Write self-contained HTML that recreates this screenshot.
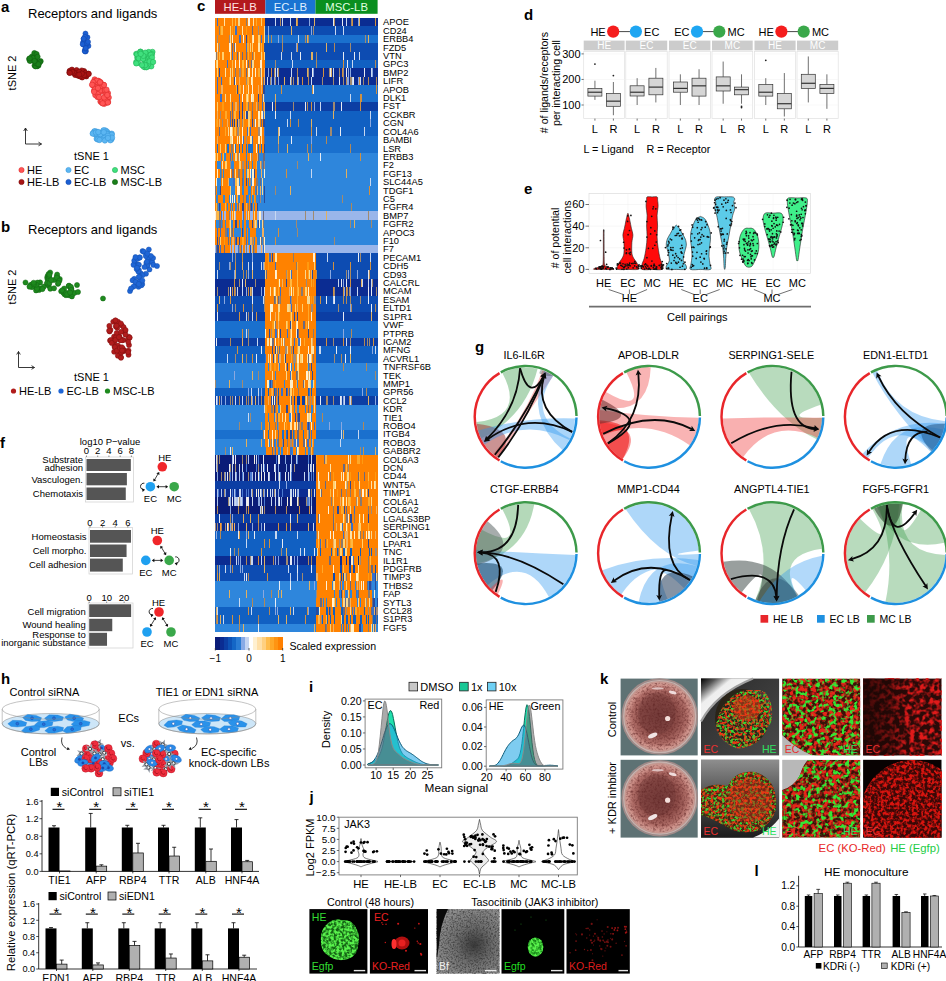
<!DOCTYPE html>
<html><head><meta charset="utf-8"><style>
html,body{margin:0;padding:0;background:#fff;width:946px;height:981px;overflow:hidden}
svg{display:block}
text{font-family:"Liberation Sans",sans-serif}
</style></head><body>
<svg width="946" height="981" viewBox="0 0 946 981">
<rect width="946" height="981" fill="#fff"/>
<text x="1.0" y="12.0" font-size="15" text-anchor="start" fill="#000" font-weight="bold">a</text>
<text x="28.0" y="18.0" font-size="13" text-anchor="start" fill="#000">Receptors and ligands</text>
<text x="16.0" y="73.0" font-size="11" text-anchor="middle" fill="#000" transform="rotate(-90 16 73)">tSNE 2</text>
<circle cx="76.59" cy="70.06" r="2.60" fill="#a81414" stroke="#7a0a0a" stroke-width="0.6"/>
<circle cx="84.07" cy="71.04" r="2.60" fill="#a81414" stroke="#7a0a0a" stroke-width="0.6"/>
<circle cx="81.02" cy="72.67" r="2.60" fill="#a81414" stroke="#7a0a0a" stroke-width="0.6"/>
<circle cx="70.04" cy="71.44" r="2.60" fill="#a81414" stroke="#7a0a0a" stroke-width="0.6"/>
<circle cx="69.70" cy="70.80" r="2.60" fill="#a81414" stroke="#7a0a0a" stroke-width="0.6"/>
<circle cx="77.79" cy="75.57" r="2.60" fill="#a81414" stroke="#7a0a0a" stroke-width="0.6"/>
<circle cx="71.97" cy="69.64" r="2.60" fill="#a81414" stroke="#7a0a0a" stroke-width="0.6"/>
<circle cx="82.16" cy="77.44" r="2.60" fill="#a81414" stroke="#7a0a0a" stroke-width="0.6"/>
<circle cx="81.90" cy="73.10" r="2.60" fill="#a81414" stroke="#7a0a0a" stroke-width="0.6"/>
<circle cx="88.40" cy="73.65" r="2.60" fill="#a81414" stroke="#7a0a0a" stroke-width="0.6"/>
<circle cx="75.19" cy="74.93" r="2.60" fill="#a81414" stroke="#7a0a0a" stroke-width="0.6"/>
<circle cx="72.69" cy="72.58" r="2.60" fill="#a81414" stroke="#7a0a0a" stroke-width="0.6"/>
<circle cx="83.33" cy="73.22" r="2.60" fill="#a81414" stroke="#7a0a0a" stroke-width="0.6"/>
<circle cx="81.76" cy="70.48" r="2.60" fill="#a81414" stroke="#7a0a0a" stroke-width="0.6"/>
<circle cx="84.17" cy="73.82" r="2.60" fill="#a81414" stroke="#7a0a0a" stroke-width="0.6"/>
<circle cx="75.68" cy="73.25" r="2.60" fill="#a81414" stroke="#7a0a0a" stroke-width="0.6"/>
<circle cx="79.26" cy="71.79" r="2.60" fill="#a81414" stroke="#7a0a0a" stroke-width="0.6"/>
<circle cx="86.31" cy="76.39" r="2.60" fill="#a81414" stroke="#7a0a0a" stroke-width="0.6"/>
<circle cx="74.13" cy="72.83" r="2.60" fill="#a81414" stroke="#7a0a0a" stroke-width="0.6"/>
<circle cx="79.97" cy="76.41" r="2.60" fill="#a81414" stroke="#7a0a0a" stroke-width="0.6"/>
<circle cx="85.50" cy="73.02" r="2.60" fill="#a81414" stroke="#7a0a0a" stroke-width="0.6"/>
<circle cx="77.75" cy="75.02" r="2.60" fill="#a81414" stroke="#7a0a0a" stroke-width="0.6"/>
<circle cx="72.19" cy="71.75" r="2.60" fill="#a81414" stroke="#7a0a0a" stroke-width="0.6"/>
<circle cx="69.37" cy="72.55" r="2.60" fill="#a81414" stroke="#7a0a0a" stroke-width="0.6"/>
<circle cx="85.84" cy="75.31" r="2.60" fill="#a81414" stroke="#7a0a0a" stroke-width="0.6"/>
<circle cx="88.74" cy="73.91" r="2.60" fill="#a81414" stroke="#7a0a0a" stroke-width="0.6"/>
<circle cx="84.24" cy="75.14" r="2.60" fill="#a81414" stroke="#7a0a0a" stroke-width="0.6"/>
<circle cx="81.87" cy="73.56" r="2.60" fill="#a81414" stroke="#7a0a0a" stroke-width="0.6"/>
<circle cx="79.16" cy="74.60" r="2.60" fill="#a81414" stroke="#7a0a0a" stroke-width="0.6"/>
<circle cx="69.80" cy="72.90" r="2.60" fill="#a81414" stroke="#7a0a0a" stroke-width="0.6"/>
<circle cx="107.20" cy="98.14" r="2.70" fill="#ff5555" stroke="#dd2a2a" stroke-width="0.6"/>
<circle cx="97.06" cy="89.71" r="2.70" fill="#ff5555" stroke="#dd2a2a" stroke-width="0.6"/>
<circle cx="94.66" cy="79.46" r="2.70" fill="#ff5555" stroke="#dd2a2a" stroke-width="0.6"/>
<circle cx="98.52" cy="80.80" r="2.70" fill="#ff5555" stroke="#dd2a2a" stroke-width="0.6"/>
<circle cx="94.80" cy="91.07" r="2.70" fill="#ff5555" stroke="#dd2a2a" stroke-width="0.6"/>
<circle cx="95.57" cy="80.82" r="2.70" fill="#ff5555" stroke="#dd2a2a" stroke-width="0.6"/>
<circle cx="96.75" cy="95.06" r="2.70" fill="#ff5555" stroke="#dd2a2a" stroke-width="0.6"/>
<circle cx="100.52" cy="101.61" r="2.70" fill="#ff5555" stroke="#dd2a2a" stroke-width="0.6"/>
<circle cx="98.56" cy="85.51" r="2.70" fill="#ff5555" stroke="#dd2a2a" stroke-width="0.6"/>
<circle cx="94.23" cy="90.35" r="2.70" fill="#ff5555" stroke="#dd2a2a" stroke-width="0.6"/>
<circle cx="99.32" cy="81.86" r="2.70" fill="#ff5555" stroke="#dd2a2a" stroke-width="0.6"/>
<circle cx="97.17" cy="84.82" r="2.70" fill="#ff5555" stroke="#dd2a2a" stroke-width="0.6"/>
<circle cx="104.39" cy="92.26" r="2.70" fill="#ff5555" stroke="#dd2a2a" stroke-width="0.6"/>
<circle cx="98.02" cy="88.67" r="2.70" fill="#ff5555" stroke="#dd2a2a" stroke-width="0.6"/>
<circle cx="104.27" cy="103.86" r="2.70" fill="#ff5555" stroke="#dd2a2a" stroke-width="0.6"/>
<circle cx="99.35" cy="92.60" r="2.70" fill="#ff5555" stroke="#dd2a2a" stroke-width="0.6"/>
<circle cx="107.94" cy="93.13" r="2.70" fill="#ff5555" stroke="#dd2a2a" stroke-width="0.6"/>
<circle cx="102.54" cy="103.09" r="2.70" fill="#ff5555" stroke="#dd2a2a" stroke-width="0.6"/>
<circle cx="102.00" cy="102.58" r="2.70" fill="#ff5555" stroke="#dd2a2a" stroke-width="0.6"/>
<circle cx="100.24" cy="88.22" r="2.70" fill="#ff5555" stroke="#dd2a2a" stroke-width="0.6"/>
<circle cx="93.75" cy="82.52" r="2.70" fill="#ff5555" stroke="#dd2a2a" stroke-width="0.6"/>
<circle cx="100.55" cy="82.24" r="2.70" fill="#ff5555" stroke="#dd2a2a" stroke-width="0.6"/>
<circle cx="103.53" cy="84.82" r="2.70" fill="#ff5555" stroke="#dd2a2a" stroke-width="0.6"/>
<circle cx="96.83" cy="80.81" r="2.70" fill="#ff5555" stroke="#dd2a2a" stroke-width="0.6"/>
<circle cx="106.03" cy="92.18" r="2.70" fill="#ff5555" stroke="#dd2a2a" stroke-width="0.6"/>
<circle cx="99.00" cy="84.44" r="2.70" fill="#ff5555" stroke="#dd2a2a" stroke-width="0.6"/>
<circle cx="103.04" cy="85.84" r="2.70" fill="#ff5555" stroke="#dd2a2a" stroke-width="0.6"/>
<circle cx="100.24" cy="90.56" r="2.70" fill="#ff5555" stroke="#dd2a2a" stroke-width="0.6"/>
<circle cx="101.13" cy="86.17" r="2.70" fill="#ff5555" stroke="#dd2a2a" stroke-width="0.6"/>
<circle cx="108.71" cy="97.56" r="2.70" fill="#ff5555" stroke="#dd2a2a" stroke-width="0.6"/>
<circle cx="104.93" cy="90.04" r="2.70" fill="#ff5555" stroke="#dd2a2a" stroke-width="0.6"/>
<circle cx="106.50" cy="89.68" r="2.70" fill="#ff5555" stroke="#dd2a2a" stroke-width="0.6"/>
<circle cx="95.38" cy="95.12" r="2.70" fill="#ff5555" stroke="#dd2a2a" stroke-width="0.6"/>
<circle cx="103.02" cy="101.68" r="2.70" fill="#ff5555" stroke="#dd2a2a" stroke-width="0.6"/>
<circle cx="98.89" cy="84.78" r="2.70" fill="#ff5555" stroke="#dd2a2a" stroke-width="0.6"/>
<circle cx="93.00" cy="84.93" r="2.70" fill="#ff5555" stroke="#dd2a2a" stroke-width="0.6"/>
<circle cx="97.73" cy="94.01" r="2.70" fill="#ff5555" stroke="#dd2a2a" stroke-width="0.6"/>
<circle cx="101.44" cy="85.60" r="2.70" fill="#ff5555" stroke="#dd2a2a" stroke-width="0.6"/>
<circle cx="101.62" cy="102.09" r="2.70" fill="#ff5555" stroke="#dd2a2a" stroke-width="0.6"/>
<circle cx="101.93" cy="100.83" r="2.70" fill="#ff5555" stroke="#dd2a2a" stroke-width="0.6"/>
<circle cx="96.71" cy="84.85" r="2.70" fill="#ff5555" stroke="#dd2a2a" stroke-width="0.6"/>
<circle cx="104.01" cy="85.05" r="2.70" fill="#ff5555" stroke="#dd2a2a" stroke-width="0.6"/>
<circle cx="95.12" cy="86.72" r="2.70" fill="#ff5555" stroke="#dd2a2a" stroke-width="0.6"/>
<circle cx="107.11" cy="102.46" r="2.70" fill="#ff5555" stroke="#dd2a2a" stroke-width="0.6"/>
<circle cx="108.03" cy="101.92" r="2.70" fill="#ff5555" stroke="#dd2a2a" stroke-width="0.6"/>
<circle cx="99.96" cy="82.92" r="2.70" fill="#ff5555" stroke="#dd2a2a" stroke-width="0.6"/>
<circle cx="99.91" cy="82.20" r="2.70" fill="#ff5555" stroke="#dd2a2a" stroke-width="0.6"/>
<circle cx="97.54" cy="97.01" r="2.70" fill="#ff5555" stroke="#dd2a2a" stroke-width="0.6"/>
<circle cx="105.21" cy="99.79" r="2.70" fill="#ff5555" stroke="#dd2a2a" stroke-width="0.6"/>
<circle cx="99.07" cy="97.11" r="2.70" fill="#ff5555" stroke="#dd2a2a" stroke-width="0.6"/>
<circle cx="93.20" cy="82.21" r="2.70" fill="#ff5555" stroke="#dd2a2a" stroke-width="0.6"/>
<circle cx="102.65" cy="103.35" r="2.70" fill="#ff5555" stroke="#dd2a2a" stroke-width="0.6"/>
<circle cx="104.04" cy="97.55" r="2.70" fill="#ff5555" stroke="#dd2a2a" stroke-width="0.6"/>
<circle cx="92.96" cy="85.32" r="2.70" fill="#ff5555" stroke="#dd2a2a" stroke-width="0.6"/>
<circle cx="94.85" cy="89.20" r="2.70" fill="#ff5555" stroke="#dd2a2a" stroke-width="0.6"/>
<circle cx="107.90" cy="102.52" r="2.70" fill="#ff5555" stroke="#dd2a2a" stroke-width="0.6"/>
<circle cx="94.08" cy="91.79" r="2.70" fill="#ff5555" stroke="#dd2a2a" stroke-width="0.6"/>
<circle cx="107.24" cy="95.04" r="2.70" fill="#ff5555" stroke="#dd2a2a" stroke-width="0.6"/>
<circle cx="92.10" cy="84.75" r="2.70" fill="#ff5555" stroke="#dd2a2a" stroke-width="0.6"/>
<circle cx="97.98" cy="88.10" r="2.70" fill="#ff5555" stroke="#dd2a2a" stroke-width="0.6"/>
<circle cx="88.41" cy="45.93" r="2.50" fill="#1b5fd2" stroke="#1048b0" stroke-width="0.6"/>
<circle cx="85.48" cy="51.50" r="2.50" fill="#1b5fd2" stroke="#1048b0" stroke-width="0.6"/>
<circle cx="84.86" cy="50.29" r="2.50" fill="#1b5fd2" stroke="#1048b0" stroke-width="0.6"/>
<circle cx="87.45" cy="37.34" r="2.50" fill="#1b5fd2" stroke="#1048b0" stroke-width="0.6"/>
<circle cx="83.66" cy="38.94" r="2.50" fill="#1b5fd2" stroke="#1048b0" stroke-width="0.6"/>
<circle cx="83.59" cy="44.69" r="2.50" fill="#1b5fd2" stroke="#1048b0" stroke-width="0.6"/>
<circle cx="83.71" cy="41.41" r="2.50" fill="#1b5fd2" stroke="#1048b0" stroke-width="0.6"/>
<circle cx="84.33" cy="42.18" r="2.50" fill="#1b5fd2" stroke="#1048b0" stroke-width="0.6"/>
<circle cx="85.85" cy="50.92" r="2.50" fill="#1b5fd2" stroke="#1048b0" stroke-width="0.6"/>
<circle cx="84.78" cy="51.19" r="2.50" fill="#1b5fd2" stroke="#1048b0" stroke-width="0.6"/>
<circle cx="85.31" cy="43.62" r="2.50" fill="#1b5fd2" stroke="#1048b0" stroke-width="0.6"/>
<circle cx="85.46" cy="33.57" r="2.50" fill="#1b5fd2" stroke="#1048b0" stroke-width="0.6"/>
<circle cx="84.90" cy="36.79" r="2.50" fill="#1b5fd2" stroke="#1048b0" stroke-width="0.6"/>
<circle cx="83.14" cy="42.48" r="2.50" fill="#1b5fd2" stroke="#1048b0" stroke-width="0.6"/>
<circle cx="86.79" cy="44.11" r="2.50" fill="#1b5fd2" stroke="#1048b0" stroke-width="0.6"/>
<circle cx="84.15" cy="43.36" r="2.50" fill="#1b5fd2" stroke="#1048b0" stroke-width="0.6"/>
<circle cx="85.67" cy="48.57" r="2.50" fill="#1b5fd2" stroke="#1048b0" stroke-width="0.6"/>
<circle cx="82.70" cy="44.18" r="2.50" fill="#1b5fd2" stroke="#1048b0" stroke-width="0.6"/>
<circle cx="83.64" cy="38.63" r="2.50" fill="#1b5fd2" stroke="#1048b0" stroke-width="0.6"/>
<circle cx="87.10" cy="43.15" r="2.50" fill="#1b5fd2" stroke="#1048b0" stroke-width="0.6"/>
<circle cx="85.71" cy="48.10" r="2.50" fill="#1b5fd2" stroke="#1048b0" stroke-width="0.6"/>
<circle cx="88.02" cy="41.89" r="2.50" fill="#1b5fd2" stroke="#1048b0" stroke-width="0.6"/>
<circle cx="147.66" cy="58.91" r="2.70" fill="#40e07e" stroke="#22b458" stroke-width="0.6"/>
<circle cx="145.56" cy="62.46" r="2.70" fill="#40e07e" stroke="#22b458" stroke-width="0.6"/>
<circle cx="144.30" cy="59.43" r="2.70" fill="#40e07e" stroke="#22b458" stroke-width="0.6"/>
<circle cx="144.84" cy="67.19" r="2.70" fill="#40e07e" stroke="#22b458" stroke-width="0.6"/>
<circle cx="149.48" cy="65.95" r="2.70" fill="#40e07e" stroke="#22b458" stroke-width="0.6"/>
<circle cx="146.55" cy="67.22" r="2.70" fill="#40e07e" stroke="#22b458" stroke-width="0.6"/>
<circle cx="152.44" cy="51.91" r="2.70" fill="#40e07e" stroke="#22b458" stroke-width="0.6"/>
<circle cx="137.35" cy="57.70" r="2.70" fill="#40e07e" stroke="#22b458" stroke-width="0.6"/>
<circle cx="136.32" cy="53.87" r="2.70" fill="#40e07e" stroke="#22b458" stroke-width="0.6"/>
<circle cx="136.34" cy="62.02" r="2.70" fill="#40e07e" stroke="#22b458" stroke-width="0.6"/>
<circle cx="151.26" cy="66.34" r="2.70" fill="#40e07e" stroke="#22b458" stroke-width="0.6"/>
<circle cx="138.04" cy="62.91" r="2.70" fill="#40e07e" stroke="#22b458" stroke-width="0.6"/>
<circle cx="148.67" cy="52.02" r="2.70" fill="#40e07e" stroke="#22b458" stroke-width="0.6"/>
<circle cx="143.16" cy="58.56" r="2.70" fill="#40e07e" stroke="#22b458" stroke-width="0.6"/>
<circle cx="138.19" cy="57.50" r="2.70" fill="#40e07e" stroke="#22b458" stroke-width="0.6"/>
<circle cx="145.63" cy="55.74" r="2.70" fill="#40e07e" stroke="#22b458" stroke-width="0.6"/>
<circle cx="138.91" cy="55.35" r="2.70" fill="#40e07e" stroke="#22b458" stroke-width="0.6"/>
<circle cx="146.44" cy="57.67" r="2.70" fill="#40e07e" stroke="#22b458" stroke-width="0.6"/>
<circle cx="147.90" cy="59.03" r="2.70" fill="#40e07e" stroke="#22b458" stroke-width="0.6"/>
<circle cx="137.00" cy="54.35" r="2.70" fill="#40e07e" stroke="#22b458" stroke-width="0.6"/>
<circle cx="140.48" cy="51.76" r="2.70" fill="#40e07e" stroke="#22b458" stroke-width="0.6"/>
<circle cx="143.67" cy="66.62" r="2.70" fill="#40e07e" stroke="#22b458" stroke-width="0.6"/>
<circle cx="152.00" cy="54.21" r="2.70" fill="#40e07e" stroke="#22b458" stroke-width="0.6"/>
<circle cx="146.78" cy="62.61" r="2.70" fill="#40e07e" stroke="#22b458" stroke-width="0.6"/>
<circle cx="149.25" cy="57.38" r="2.70" fill="#40e07e" stroke="#22b458" stroke-width="0.6"/>
<circle cx="148.12" cy="64.53" r="2.70" fill="#40e07e" stroke="#22b458" stroke-width="0.6"/>
<circle cx="144.33" cy="55.74" r="2.70" fill="#40e07e" stroke="#22b458" stroke-width="0.6"/>
<circle cx="146.41" cy="66.91" r="2.70" fill="#40e07e" stroke="#22b458" stroke-width="0.6"/>
<circle cx="140.43" cy="51.76" r="2.70" fill="#40e07e" stroke="#22b458" stroke-width="0.6"/>
<circle cx="145.87" cy="53.83" r="2.70" fill="#40e07e" stroke="#22b458" stroke-width="0.6"/>
<circle cx="141.35" cy="55.10" r="2.70" fill="#40e07e" stroke="#22b458" stroke-width="0.6"/>
<circle cx="150.75" cy="54.81" r="2.70" fill="#40e07e" stroke="#22b458" stroke-width="0.6"/>
<circle cx="145.30" cy="52.68" r="2.70" fill="#40e07e" stroke="#22b458" stroke-width="0.6"/>
<circle cx="150.19" cy="59.77" r="2.70" fill="#40e07e" stroke="#22b458" stroke-width="0.6"/>
<circle cx="138.78" cy="58.32" r="2.70" fill="#40e07e" stroke="#22b458" stroke-width="0.6"/>
<circle cx="152.00" cy="57.51" r="2.70" fill="#40e07e" stroke="#22b458" stroke-width="0.6"/>
<circle cx="145.20" cy="65.16" r="2.70" fill="#40e07e" stroke="#22b458" stroke-width="0.6"/>
<circle cx="143.05" cy="58.93" r="2.70" fill="#40e07e" stroke="#22b458" stroke-width="0.6"/>
<circle cx="142.00" cy="65.11" r="2.70" fill="#40e07e" stroke="#22b458" stroke-width="0.6"/>
<circle cx="149.64" cy="61.38" r="2.70" fill="#40e07e" stroke="#22b458" stroke-width="0.6"/>
<circle cx="143.30" cy="55.90" r="2.70" fill="#40e07e" stroke="#22b458" stroke-width="0.6"/>
<circle cx="136.29" cy="63.38" r="2.70" fill="#40e07e" stroke="#22b458" stroke-width="0.6"/>
<circle cx="140.17" cy="52.40" r="2.70" fill="#40e07e" stroke="#22b458" stroke-width="0.6"/>
<circle cx="153.08" cy="62.04" r="2.70" fill="#40e07e" stroke="#22b458" stroke-width="0.6"/>
<circle cx="140.72" cy="53.90" r="2.70" fill="#40e07e" stroke="#22b458" stroke-width="0.6"/>
<circle cx="31.81" cy="59.89" r="2.60" fill="#1a7f1a" stroke="#0f5f0f" stroke-width="0.6"/>
<circle cx="30.05" cy="59.69" r="2.60" fill="#1a7f1a" stroke="#0f5f0f" stroke-width="0.6"/>
<circle cx="40.64" cy="61.21" r="2.60" fill="#1a7f1a" stroke="#0f5f0f" stroke-width="0.6"/>
<circle cx="32.02" cy="58.35" r="2.60" fill="#1a7f1a" stroke="#0f5f0f" stroke-width="0.6"/>
<circle cx="34.17" cy="60.54" r="2.60" fill="#1a7f1a" stroke="#0f5f0f" stroke-width="0.6"/>
<circle cx="30.61" cy="60.57" r="2.60" fill="#1a7f1a" stroke="#0f5f0f" stroke-width="0.6"/>
<circle cx="29.17" cy="58.99" r="2.60" fill="#1a7f1a" stroke="#0f5f0f" stroke-width="0.6"/>
<circle cx="31.96" cy="56.49" r="2.60" fill="#1a7f1a" stroke="#0f5f0f" stroke-width="0.6"/>
<circle cx="35.61" cy="60.94" r="2.60" fill="#1a7f1a" stroke="#0f5f0f" stroke-width="0.6"/>
<circle cx="37.76" cy="62.86" r="2.60" fill="#1a7f1a" stroke="#0f5f0f" stroke-width="0.6"/>
<circle cx="37.31" cy="66.19" r="2.60" fill="#1a7f1a" stroke="#0f5f0f" stroke-width="0.6"/>
<circle cx="33.06" cy="57.89" r="2.60" fill="#1a7f1a" stroke="#0f5f0f" stroke-width="0.6"/>
<circle cx="37.41" cy="62.65" r="2.60" fill="#1a7f1a" stroke="#0f5f0f" stroke-width="0.6"/>
<circle cx="39.60" cy="62.41" r="2.60" fill="#1a7f1a" stroke="#0f5f0f" stroke-width="0.6"/>
<circle cx="37.54" cy="65.18" r="2.60" fill="#1a7f1a" stroke="#0f5f0f" stroke-width="0.6"/>
<circle cx="29.81" cy="60.86" r="2.60" fill="#1a7f1a" stroke="#0f5f0f" stroke-width="0.6"/>
<circle cx="34.56" cy="65.52" r="2.60" fill="#1a7f1a" stroke="#0f5f0f" stroke-width="0.6"/>
<circle cx="38.46" cy="65.40" r="2.60" fill="#1a7f1a" stroke="#0f5f0f" stroke-width="0.6"/>
<circle cx="35.59" cy="66.39" r="2.60" fill="#1a7f1a" stroke="#0f5f0f" stroke-width="0.6"/>
<circle cx="36.88" cy="63.40" r="2.60" fill="#1a7f1a" stroke="#0f5f0f" stroke-width="0.6"/>
<circle cx="29.73" cy="58.41" r="2.60" fill="#1a7f1a" stroke="#0f5f0f" stroke-width="0.6"/>
<circle cx="35.26" cy="62.42" r="2.60" fill="#1a7f1a" stroke="#0f5f0f" stroke-width="0.6"/>
<circle cx="36.14" cy="63.21" r="2.60" fill="#1a7f1a" stroke="#0f5f0f" stroke-width="0.6"/>
<circle cx="34.36" cy="53.05" r="2.60" fill="#1a7f1a" stroke="#0f5f0f" stroke-width="0.6"/>
<circle cx="38.37" cy="64.22" r="2.60" fill="#1a7f1a" stroke="#0f5f0f" stroke-width="0.6"/>
<circle cx="34.54" cy="61.03" r="2.60" fill="#1a7f1a" stroke="#0f5f0f" stroke-width="0.6"/>
<circle cx="36.57" cy="53.99" r="2.60" fill="#1a7f1a" stroke="#0f5f0f" stroke-width="0.6"/>
<circle cx="37.58" cy="56.78" r="2.60" fill="#1a7f1a" stroke="#0f5f0f" stroke-width="0.6"/>
<circle cx="94.65" cy="131.41" r="2.70" fill="#5cb6f2" stroke="#3a98da" stroke-width="0.6"/>
<circle cx="108.31" cy="133.14" r="2.70" fill="#5cb6f2" stroke="#3a98da" stroke-width="0.6"/>
<circle cx="103.10" cy="134.21" r="2.70" fill="#5cb6f2" stroke="#3a98da" stroke-width="0.6"/>
<circle cx="102.22" cy="137.41" r="2.70" fill="#5cb6f2" stroke="#3a98da" stroke-width="0.6"/>
<circle cx="108.30" cy="137.74" r="2.70" fill="#5cb6f2" stroke="#3a98da" stroke-width="0.6"/>
<circle cx="106.76" cy="131.44" r="2.70" fill="#5cb6f2" stroke="#3a98da" stroke-width="0.6"/>
<circle cx="96.18" cy="131.55" r="2.70" fill="#5cb6f2" stroke="#3a98da" stroke-width="0.6"/>
<circle cx="108.40" cy="134.27" r="2.70" fill="#5cb6f2" stroke="#3a98da" stroke-width="0.6"/>
<circle cx="105.33" cy="130.47" r="2.70" fill="#5cb6f2" stroke="#3a98da" stroke-width="0.6"/>
<circle cx="94.36" cy="131.39" r="2.70" fill="#5cb6f2" stroke="#3a98da" stroke-width="0.6"/>
<circle cx="106.19" cy="138.21" r="2.70" fill="#5cb6f2" stroke="#3a98da" stroke-width="0.6"/>
<circle cx="107.03" cy="133.88" r="2.70" fill="#5cb6f2" stroke="#3a98da" stroke-width="0.6"/>
<circle cx="103.41" cy="135.18" r="2.70" fill="#5cb6f2" stroke="#3a98da" stroke-width="0.6"/>
<circle cx="103.03" cy="131.24" r="2.70" fill="#5cb6f2" stroke="#3a98da" stroke-width="0.6"/>
<circle cx="111.72" cy="133.68" r="2.70" fill="#5cb6f2" stroke="#3a98da" stroke-width="0.6"/>
<circle cx="93.10" cy="133.30" r="2.70" fill="#5cb6f2" stroke="#3a98da" stroke-width="0.6"/>
<circle cx="102.40" cy="132.81" r="2.70" fill="#5cb6f2" stroke="#3a98da" stroke-width="0.6"/>
<circle cx="96.86" cy="135.33" r="2.70" fill="#5cb6f2" stroke="#3a98da" stroke-width="0.6"/>
<circle cx="95.54" cy="134.45" r="2.70" fill="#5cb6f2" stroke="#3a98da" stroke-width="0.6"/>
<circle cx="109.61" cy="136.76" r="2.70" fill="#5cb6f2" stroke="#3a98da" stroke-width="0.6"/>
<circle cx="110.61" cy="139.11" r="2.70" fill="#5cb6f2" stroke="#3a98da" stroke-width="0.6"/>
<circle cx="96.69" cy="138.83" r="2.70" fill="#5cb6f2" stroke="#3a98da" stroke-width="0.6"/>
<circle cx="103.62" cy="130.30" r="2.70" fill="#5cb6f2" stroke="#3a98da" stroke-width="0.6"/>
<circle cx="92.75" cy="133.60" r="2.70" fill="#5cb6f2" stroke="#3a98da" stroke-width="0.6"/>
<circle cx="102.36" cy="133.18" r="2.70" fill="#5cb6f2" stroke="#3a98da" stroke-width="0.6"/>
<circle cx="95.87" cy="132.50" r="2.70" fill="#5cb6f2" stroke="#3a98da" stroke-width="0.6"/>
<circle cx="98.55" cy="138.51" r="2.70" fill="#5cb6f2" stroke="#3a98da" stroke-width="0.6"/>
<circle cx="111.41" cy="139.36" r="2.70" fill="#5cb6f2" stroke="#3a98da" stroke-width="0.6"/>
<circle cx="111.71" cy="134.69" r="2.70" fill="#5cb6f2" stroke="#3a98da" stroke-width="0.6"/>
<circle cx="100.56" cy="133.87" r="2.70" fill="#5cb6f2" stroke="#3a98da" stroke-width="0.6"/>
<circle cx="100.26" cy="134.21" r="2.70" fill="#5cb6f2" stroke="#3a98da" stroke-width="0.6"/>
<circle cx="97.73" cy="139.44" r="2.70" fill="#5cb6f2" stroke="#3a98da" stroke-width="0.6"/>
<circle cx="98.26" cy="132.05" r="2.70" fill="#5cb6f2" stroke="#3a98da" stroke-width="0.6"/>
<circle cx="103.82" cy="132.18" r="2.70" fill="#5cb6f2" stroke="#3a98da" stroke-width="0.6"/>
<circle cx="99.51" cy="139.98" r="2.70" fill="#5cb6f2" stroke="#3a98da" stroke-width="0.6"/>
<circle cx="110.35" cy="140.28" r="2.70" fill="#5cb6f2" stroke="#3a98da" stroke-width="0.6"/>
<circle cx="104.92" cy="140.46" r="2.70" fill="#5cb6f2" stroke="#3a98da" stroke-width="0.6"/>
<circle cx="112.02" cy="137.64" r="2.70" fill="#5cb6f2" stroke="#3a98da" stroke-width="0.6"/>
<circle cx="107.90" cy="135.81" r="2.70" fill="#5cb6f2" stroke="#3a98da" stroke-width="0.6"/>
<circle cx="107.95" cy="137.99" r="2.70" fill="#5cb6f2" stroke="#3a98da" stroke-width="0.6"/>
<path d="M25.5 128 V144 H41.5" fill="none" stroke="#222" stroke-width="0.9"/>
<path d="M23.7 131 L25.5 128 L27.3 131 M38.5 142.2 L41.5 144 L38.5 145.8" fill="none" stroke="#222" stroke-width="0.9"/>
<text x="91.5" y="159.5" font-size="11" text-anchor="middle" fill="#000">tSNE 1</text>
<circle cx="21.50" cy="170.00" r="2.60" fill="#ff5555" stroke="#dd2a2a" stroke-width="0.6"/>
<text x="27.0" y="174.0" font-size="11" text-anchor="start" fill="#000">HE</text>
<circle cx="68.50" cy="170.00" r="2.60" fill="#5cb6f2" stroke="#3a98da" stroke-width="0.6"/>
<text x="74.0" y="174.0" font-size="11" text-anchor="start" fill="#000">EC</text>
<circle cx="115.00" cy="170.00" r="2.60" fill="#40e07e" stroke="#22b458" stroke-width="0.6"/>
<text x="120.5" y="174.0" font-size="11" text-anchor="start" fill="#000">MSC</text>
<circle cx="21.50" cy="182.00" r="2.60" fill="#a81414" stroke="#7a0a0a" stroke-width="0.6"/>
<text x="27.0" y="186.0" font-size="11" text-anchor="start" fill="#000">HE-LB</text>
<circle cx="68.50" cy="182.00" r="2.60" fill="#1b5fd2" stroke="#1048b0" stroke-width="0.6"/>
<text x="74.0" y="186.0" font-size="11" text-anchor="start" fill="#000">EC-LB</text>
<circle cx="115.00" cy="182.00" r="2.60" fill="#1a7f1a" stroke="#0f5f0f" stroke-width="0.6"/>
<text x="120.5" y="186.0" font-size="11" text-anchor="start" fill="#000">MSC-LB</text>
<text x="1.0" y="232.0" font-size="15" text-anchor="start" fill="#000" font-weight="bold">b</text>
<text x="28.0" y="234.0" font-size="13" text-anchor="start" fill="#000">Receptors and ligands</text>
<text x="16.0" y="287.0" font-size="11" text-anchor="middle" fill="#000" transform="rotate(-90 16 287)">tSNE 2</text>
<circle cx="36.24" cy="287.60" r="2.55" fill="#1e8a1e" stroke="#146614" stroke-width="0.5"/>
<circle cx="43.79" cy="286.66" r="2.55" fill="#1e8a1e" stroke="#146614" stroke-width="0.5"/>
<circle cx="37.13" cy="287.87" r="2.55" fill="#1e8a1e" stroke="#146614" stroke-width="0.5"/>
<circle cx="31.95" cy="287.12" r="2.55" fill="#1e8a1e" stroke="#146614" stroke-width="0.5"/>
<circle cx="39.08" cy="289.93" r="2.55" fill="#1e8a1e" stroke="#146614" stroke-width="0.5"/>
<circle cx="30.51" cy="285.03" r="2.55" fill="#1e8a1e" stroke="#146614" stroke-width="0.5"/>
<circle cx="40.10" cy="282.42" r="2.55" fill="#1e8a1e" stroke="#146614" stroke-width="0.5"/>
<circle cx="39.46" cy="288.16" r="2.55" fill="#1e8a1e" stroke="#146614" stroke-width="0.5"/>
<circle cx="37.45" cy="282.60" r="2.55" fill="#1e8a1e" stroke="#146614" stroke-width="0.5"/>
<circle cx="32.04" cy="284.42" r="2.55" fill="#1e8a1e" stroke="#146614" stroke-width="0.5"/>
<circle cx="29.48" cy="286.64" r="2.55" fill="#1e8a1e" stroke="#146614" stroke-width="0.5"/>
<circle cx="36.05" cy="290.42" r="2.55" fill="#1e8a1e" stroke="#146614" stroke-width="0.5"/>
<circle cx="37.31" cy="288.40" r="2.55" fill="#1e8a1e" stroke="#146614" stroke-width="0.5"/>
<circle cx="37.00" cy="288.62" r="2.55" fill="#1e8a1e" stroke="#146614" stroke-width="0.5"/>
<circle cx="36.32" cy="284.78" r="2.55" fill="#1e8a1e" stroke="#146614" stroke-width="0.5"/>
<circle cx="42.44" cy="289.08" r="2.55" fill="#1e8a1e" stroke="#146614" stroke-width="0.5"/>
<circle cx="34.04" cy="284.30" r="2.55" fill="#1e8a1e" stroke="#146614" stroke-width="0.5"/>
<circle cx="33.62" cy="282.70" r="2.55" fill="#1e8a1e" stroke="#146614" stroke-width="0.5"/>
<circle cx="56.73" cy="279.01" r="2.55" fill="#1e8a1e" stroke="#146614" stroke-width="0.5"/>
<circle cx="57.85" cy="278.73" r="2.55" fill="#1e8a1e" stroke="#146614" stroke-width="0.5"/>
<circle cx="58.74" cy="280.40" r="2.55" fill="#1e8a1e" stroke="#146614" stroke-width="0.5"/>
<circle cx="59.73" cy="278.95" r="2.55" fill="#1e8a1e" stroke="#146614" stroke-width="0.5"/>
<circle cx="47.02" cy="283.59" r="2.55" fill="#1e8a1e" stroke="#146614" stroke-width="0.5"/>
<circle cx="56.90" cy="276.40" r="2.55" fill="#1e8a1e" stroke="#146614" stroke-width="0.5"/>
<circle cx="47.22" cy="277.65" r="2.55" fill="#1e8a1e" stroke="#146614" stroke-width="0.5"/>
<circle cx="47.65" cy="275.93" r="2.55" fill="#1e8a1e" stroke="#146614" stroke-width="0.5"/>
<circle cx="57.16" cy="274.55" r="2.55" fill="#1e8a1e" stroke="#146614" stroke-width="0.5"/>
<circle cx="53.83" cy="279.95" r="2.55" fill="#1e8a1e" stroke="#146614" stroke-width="0.5"/>
<circle cx="48.67" cy="285.64" r="2.55" fill="#1e8a1e" stroke="#146614" stroke-width="0.5"/>
<circle cx="47.83" cy="283.87" r="2.55" fill="#1e8a1e" stroke="#146614" stroke-width="0.5"/>
<circle cx="47.63" cy="279.42" r="2.55" fill="#1e8a1e" stroke="#146614" stroke-width="0.5"/>
<circle cx="48.98" cy="276.40" r="2.55" fill="#1e8a1e" stroke="#146614" stroke-width="0.5"/>
<circle cx="50.26" cy="288.70" r="2.55" fill="#1e8a1e" stroke="#146614" stroke-width="0.5"/>
<circle cx="48.95" cy="278.89" r="2.55" fill="#1e8a1e" stroke="#146614" stroke-width="0.5"/>
<circle cx="57.96" cy="283.84" r="2.55" fill="#1e8a1e" stroke="#146614" stroke-width="0.5"/>
<circle cx="48.99" cy="276.17" r="2.55" fill="#1e8a1e" stroke="#146614" stroke-width="0.5"/>
<circle cx="56.82" cy="277.58" r="2.55" fill="#1e8a1e" stroke="#146614" stroke-width="0.5"/>
<circle cx="50.15" cy="272.47" r="2.55" fill="#1e8a1e" stroke="#146614" stroke-width="0.5"/>
<circle cx="47.26" cy="282.65" r="2.55" fill="#1e8a1e" stroke="#146614" stroke-width="0.5"/>
<circle cx="49.40" cy="283.03" r="2.55" fill="#1e8a1e" stroke="#146614" stroke-width="0.5"/>
<circle cx="51.20" cy="280.06" r="2.55" fill="#1e8a1e" stroke="#146614" stroke-width="0.5"/>
<circle cx="59.43" cy="280.67" r="2.55" fill="#1e8a1e" stroke="#146614" stroke-width="0.5"/>
<circle cx="54.04" cy="288.33" r="2.55" fill="#1e8a1e" stroke="#146614" stroke-width="0.5"/>
<circle cx="48.56" cy="274.08" r="2.55" fill="#1e8a1e" stroke="#146614" stroke-width="0.5"/>
<circle cx="49.49" cy="274.80" r="2.55" fill="#1e8a1e" stroke="#146614" stroke-width="0.5"/>
<circle cx="58.35" cy="283.07" r="2.55" fill="#1e8a1e" stroke="#146614" stroke-width="0.5"/>
<circle cx="68.59" cy="286.10" r="2.55" fill="#1e8a1e" stroke="#146614" stroke-width="0.5"/>
<circle cx="64.45" cy="292.69" r="2.55" fill="#1e8a1e" stroke="#146614" stroke-width="0.5"/>
<circle cx="64.50" cy="294.15" r="2.55" fill="#1e8a1e" stroke="#146614" stroke-width="0.5"/>
<circle cx="70.95" cy="288.83" r="2.55" fill="#1e8a1e" stroke="#146614" stroke-width="0.5"/>
<circle cx="63.43" cy="292.70" r="2.55" fill="#1e8a1e" stroke="#146614" stroke-width="0.5"/>
<circle cx="69.20" cy="295.33" r="2.55" fill="#1e8a1e" stroke="#146614" stroke-width="0.5"/>
<circle cx="71.26" cy="288.72" r="2.55" fill="#1e8a1e" stroke="#146614" stroke-width="0.5"/>
<circle cx="69.06" cy="285.65" r="2.55" fill="#1e8a1e" stroke="#146614" stroke-width="0.5"/>
<circle cx="64.17" cy="288.55" r="2.55" fill="#1e8a1e" stroke="#146614" stroke-width="0.5"/>
<circle cx="70.90" cy="286.85" r="2.55" fill="#1e8a1e" stroke="#146614" stroke-width="0.5"/>
<circle cx="66.01" cy="295.24" r="2.55" fill="#1e8a1e" stroke="#146614" stroke-width="0.5"/>
<circle cx="71.84" cy="292.53" r="2.55" fill="#1e8a1e" stroke="#146614" stroke-width="0.5"/>
<circle cx="61.17" cy="291.28" r="2.55" fill="#1e8a1e" stroke="#146614" stroke-width="0.5"/>
<circle cx="68.24" cy="293.67" r="2.55" fill="#1e8a1e" stroke="#146614" stroke-width="0.5"/>
<circle cx="62.21" cy="290.36" r="2.55" fill="#1e8a1e" stroke="#146614" stroke-width="0.5"/>
<circle cx="71.90" cy="296.39" r="2.55" fill="#1e8a1e" stroke="#146614" stroke-width="0.5"/>
<circle cx="72.31" cy="294.07" r="2.55" fill="#1e8a1e" stroke="#146614" stroke-width="0.5"/>
<circle cx="66.28" cy="292.78" r="2.55" fill="#1e8a1e" stroke="#146614" stroke-width="0.5"/>
<circle cx="67.09" cy="294.20" r="2.55" fill="#1e8a1e" stroke="#146614" stroke-width="0.5"/>
<circle cx="74.58" cy="292.87" r="2.55" fill="#1e8a1e" stroke="#146614" stroke-width="0.5"/>
<circle cx="71.21" cy="289.96" r="2.55" fill="#1e8a1e" stroke="#146614" stroke-width="0.5"/>
<circle cx="70.08" cy="292.52" r="2.55" fill="#1e8a1e" stroke="#146614" stroke-width="0.5"/>
<circle cx="25.50" cy="282.50" r="2.55" fill="#1e8a1e" stroke="#146614" stroke-width="0.5"/>
<circle cx="103.00" cy="298.50" r="2.55" fill="#1e8a1e" stroke="#146614" stroke-width="0.5"/>
<circle cx="77.00" cy="285.00" r="2.55" fill="#1e8a1e" stroke="#146614" stroke-width="0.5"/>
<circle cx="78.00" cy="292.00" r="2.55" fill="#1e8a1e" stroke="#146614" stroke-width="0.5"/>
<circle cx="134.74" cy="261.99" r="2.55" fill="#1f66d6" stroke="#1450b0" stroke-width="0.5"/>
<circle cx="149.46" cy="261.10" r="2.55" fill="#1f66d6" stroke="#1450b0" stroke-width="0.5"/>
<circle cx="147.30" cy="266.04" r="2.55" fill="#1f66d6" stroke="#1450b0" stroke-width="0.5"/>
<circle cx="138.92" cy="270.08" r="2.55" fill="#1f66d6" stroke="#1450b0" stroke-width="0.5"/>
<circle cx="133.49" cy="264.83" r="2.55" fill="#1f66d6" stroke="#1450b0" stroke-width="0.5"/>
<circle cx="134.28" cy="260.60" r="2.55" fill="#1f66d6" stroke="#1450b0" stroke-width="0.5"/>
<circle cx="146.85" cy="254.99" r="2.55" fill="#1f66d6" stroke="#1450b0" stroke-width="0.5"/>
<circle cx="147.63" cy="263.61" r="2.55" fill="#1f66d6" stroke="#1450b0" stroke-width="0.5"/>
<circle cx="141.10" cy="273.64" r="2.55" fill="#1f66d6" stroke="#1450b0" stroke-width="0.5"/>
<circle cx="138.29" cy="264.84" r="2.55" fill="#1f66d6" stroke="#1450b0" stroke-width="0.5"/>
<circle cx="142.52" cy="251.10" r="2.55" fill="#1f66d6" stroke="#1450b0" stroke-width="0.5"/>
<circle cx="149.46" cy="269.49" r="2.55" fill="#1f66d6" stroke="#1450b0" stroke-width="0.5"/>
<circle cx="138.31" cy="271.45" r="2.55" fill="#1f66d6" stroke="#1450b0" stroke-width="0.5"/>
<circle cx="138.90" cy="264.75" r="2.55" fill="#1f66d6" stroke="#1450b0" stroke-width="0.5"/>
<circle cx="139.35" cy="257.70" r="2.55" fill="#1f66d6" stroke="#1450b0" stroke-width="0.5"/>
<circle cx="152.26" cy="262.28" r="2.55" fill="#1f66d6" stroke="#1450b0" stroke-width="0.5"/>
<circle cx="147.68" cy="258.05" r="2.55" fill="#1f66d6" stroke="#1450b0" stroke-width="0.5"/>
<circle cx="137.45" cy="258.84" r="2.55" fill="#1f66d6" stroke="#1450b0" stroke-width="0.5"/>
<circle cx="145.98" cy="273.70" r="2.55" fill="#1f66d6" stroke="#1450b0" stroke-width="0.5"/>
<circle cx="142.50" cy="275.20" r="2.55" fill="#1f66d6" stroke="#1450b0" stroke-width="0.5"/>
<circle cx="143.87" cy="251.72" r="2.55" fill="#1f66d6" stroke="#1450b0" stroke-width="0.5"/>
<circle cx="145.77" cy="255.88" r="2.55" fill="#1f66d6" stroke="#1450b0" stroke-width="0.5"/>
<circle cx="139.84" cy="257.40" r="2.55" fill="#1f66d6" stroke="#1450b0" stroke-width="0.5"/>
<circle cx="146.35" cy="262.91" r="2.55" fill="#1f66d6" stroke="#1450b0" stroke-width="0.5"/>
<circle cx="136.64" cy="269.05" r="2.55" fill="#1f66d6" stroke="#1450b0" stroke-width="0.5"/>
<circle cx="153.30" cy="264.87" r="2.55" fill="#1f66d6" stroke="#1450b0" stroke-width="0.5"/>
<circle cx="146.95" cy="265.55" r="2.55" fill="#1f66d6" stroke="#1450b0" stroke-width="0.5"/>
<circle cx="137.09" cy="267.78" r="2.55" fill="#1f66d6" stroke="#1450b0" stroke-width="0.5"/>
<circle cx="148.81" cy="249.56" r="2.55" fill="#1f66d6" stroke="#1450b0" stroke-width="0.5"/>
<circle cx="153.08" cy="258.12" r="2.55" fill="#1f66d6" stroke="#1450b0" stroke-width="0.5"/>
<circle cx="146.97" cy="261.73" r="2.55" fill="#1f66d6" stroke="#1450b0" stroke-width="0.5"/>
<circle cx="144.52" cy="267.03" r="2.55" fill="#1f66d6" stroke="#1450b0" stroke-width="0.5"/>
<circle cx="150.90" cy="255.93" r="2.55" fill="#1f66d6" stroke="#1450b0" stroke-width="0.5"/>
<circle cx="147.35" cy="253.64" r="2.55" fill="#1f66d6" stroke="#1450b0" stroke-width="0.5"/>
<circle cx="135.46" cy="257.16" r="2.55" fill="#1f66d6" stroke="#1450b0" stroke-width="0.5"/>
<circle cx="139.57" cy="276.51" r="2.55" fill="#1f66d6" stroke="#1450b0" stroke-width="0.5"/>
<circle cx="134.27" cy="278.84" r="2.55" fill="#1f66d6" stroke="#1450b0" stroke-width="0.5"/>
<circle cx="139.37" cy="281.29" r="2.55" fill="#1f66d6" stroke="#1450b0" stroke-width="0.5"/>
<circle cx="138.37" cy="284.59" r="2.55" fill="#1f66d6" stroke="#1450b0" stroke-width="0.5"/>
<circle cx="135.72" cy="285.09" r="2.55" fill="#1f66d6" stroke="#1450b0" stroke-width="0.5"/>
<circle cx="142.19" cy="284.11" r="2.55" fill="#1f66d6" stroke="#1450b0" stroke-width="0.5"/>
<circle cx="132.56" cy="280.35" r="2.55" fill="#1f66d6" stroke="#1450b0" stroke-width="0.5"/>
<circle cx="138.51" cy="286.74" r="2.55" fill="#1f66d6" stroke="#1450b0" stroke-width="0.5"/>
<circle cx="135.52" cy="281.96" r="2.55" fill="#1f66d6" stroke="#1450b0" stroke-width="0.5"/>
<circle cx="141.55" cy="285.15" r="2.55" fill="#1f66d6" stroke="#1450b0" stroke-width="0.5"/>
<circle cx="142.33" cy="280.49" r="2.55" fill="#1f66d6" stroke="#1450b0" stroke-width="0.5"/>
<circle cx="138.82" cy="276.87" r="2.55" fill="#1f66d6" stroke="#1450b0" stroke-width="0.5"/>
<circle cx="139.66" cy="285.46" r="2.55" fill="#1f66d6" stroke="#1450b0" stroke-width="0.5"/>
<circle cx="138.70" cy="284.05" r="2.55" fill="#1f66d6" stroke="#1450b0" stroke-width="0.5"/>
<circle cx="133.56" cy="286.60" r="2.55" fill="#1f66d6" stroke="#1450b0" stroke-width="0.5"/>
<circle cx="130.00" cy="291.00" r="2.55" fill="#1f66d6" stroke="#1450b0" stroke-width="0.5"/>
<circle cx="131.00" cy="288.50" r="2.55" fill="#1f66d6" stroke="#1450b0" stroke-width="0.5"/>
<circle cx="157.00" cy="266.00" r="2.55" fill="#1f66d6" stroke="#1450b0" stroke-width="0.5"/>
<circle cx="123.96" cy="351.09" r="2.55" fill="#b01c1c" stroke="#801010" stroke-width="0.5"/>
<circle cx="120.94" cy="357.21" r="2.55" fill="#b01c1c" stroke="#801010" stroke-width="0.5"/>
<circle cx="125.02" cy="331.67" r="2.55" fill="#b01c1c" stroke="#801010" stroke-width="0.5"/>
<circle cx="110.02" cy="340.53" r="2.55" fill="#b01c1c" stroke="#801010" stroke-width="0.5"/>
<circle cx="123.95" cy="350.12" r="2.55" fill="#b01c1c" stroke="#801010" stroke-width="0.5"/>
<circle cx="113.26" cy="321.70" r="2.55" fill="#b01c1c" stroke="#801010" stroke-width="0.5"/>
<circle cx="121.63" cy="325.21" r="2.55" fill="#b01c1c" stroke="#801010" stroke-width="0.5"/>
<circle cx="119.70" cy="352.35" r="2.55" fill="#b01c1c" stroke="#801010" stroke-width="0.5"/>
<circle cx="122.68" cy="348.61" r="2.55" fill="#b01c1c" stroke="#801010" stroke-width="0.5"/>
<circle cx="129.01" cy="345.07" r="2.55" fill="#b01c1c" stroke="#801010" stroke-width="0.5"/>
<circle cx="128.73" cy="336.68" r="2.55" fill="#b01c1c" stroke="#801010" stroke-width="0.5"/>
<circle cx="114.01" cy="342.93" r="2.55" fill="#b01c1c" stroke="#801010" stroke-width="0.5"/>
<circle cx="118.01" cy="350.35" r="2.55" fill="#b01c1c" stroke="#801010" stroke-width="0.5"/>
<circle cx="122.69" cy="339.94" r="2.55" fill="#b01c1c" stroke="#801010" stroke-width="0.5"/>
<circle cx="127.45" cy="340.00" r="2.55" fill="#b01c1c" stroke="#801010" stroke-width="0.5"/>
<circle cx="114.06" cy="336.65" r="2.55" fill="#b01c1c" stroke="#801010" stroke-width="0.5"/>
<circle cx="117.84" cy="355.66" r="2.55" fill="#b01c1c" stroke="#801010" stroke-width="0.5"/>
<circle cx="129.61" cy="337.76" r="2.55" fill="#b01c1c" stroke="#801010" stroke-width="0.5"/>
<circle cx="117.24" cy="327.84" r="2.55" fill="#b01c1c" stroke="#801010" stroke-width="0.5"/>
<circle cx="120.29" cy="339.88" r="2.55" fill="#b01c1c" stroke="#801010" stroke-width="0.5"/>
<circle cx="115.72" cy="320.87" r="2.55" fill="#b01c1c" stroke="#801010" stroke-width="0.5"/>
<circle cx="129.52" cy="337.43" r="2.55" fill="#b01c1c" stroke="#801010" stroke-width="0.5"/>
<circle cx="121.23" cy="352.42" r="2.55" fill="#b01c1c" stroke="#801010" stroke-width="0.5"/>
<circle cx="120.70" cy="339.22" r="2.55" fill="#b01c1c" stroke="#801010" stroke-width="0.5"/>
<circle cx="118.00" cy="321.77" r="2.55" fill="#b01c1c" stroke="#801010" stroke-width="0.5"/>
<circle cx="119.22" cy="336.37" r="2.55" fill="#b01c1c" stroke="#801010" stroke-width="0.5"/>
<circle cx="114.33" cy="340.52" r="2.55" fill="#b01c1c" stroke="#801010" stroke-width="0.5"/>
<circle cx="110.85" cy="339.95" r="2.55" fill="#b01c1c" stroke="#801010" stroke-width="0.5"/>
<circle cx="116.69" cy="333.03" r="2.55" fill="#b01c1c" stroke="#801010" stroke-width="0.5"/>
<circle cx="114.54" cy="346.69" r="2.55" fill="#b01c1c" stroke="#801010" stroke-width="0.5"/>
<circle cx="109.64" cy="331.44" r="2.55" fill="#b01c1c" stroke="#801010" stroke-width="0.5"/>
<circle cx="121.16" cy="331.79" r="2.55" fill="#b01c1c" stroke="#801010" stroke-width="0.5"/>
<circle cx="117.99" cy="345.65" r="2.55" fill="#b01c1c" stroke="#801010" stroke-width="0.5"/>
<circle cx="114.16" cy="351.69" r="2.55" fill="#b01c1c" stroke="#801010" stroke-width="0.5"/>
<circle cx="111.74" cy="342.97" r="2.55" fill="#b01c1c" stroke="#801010" stroke-width="0.5"/>
<circle cx="110.45" cy="329.91" r="2.55" fill="#b01c1c" stroke="#801010" stroke-width="0.5"/>
<circle cx="119.33" cy="337.33" r="2.55" fill="#b01c1c" stroke="#801010" stroke-width="0.5"/>
<circle cx="115.80" cy="337.47" r="2.55" fill="#b01c1c" stroke="#801010" stroke-width="0.5"/>
<circle cx="115.80" cy="326.53" r="2.55" fill="#b01c1c" stroke="#801010" stroke-width="0.5"/>
<circle cx="114.98" cy="347.13" r="2.55" fill="#b01c1c" stroke="#801010" stroke-width="0.5"/>
<circle cx="122.77" cy="340.21" r="2.55" fill="#b01c1c" stroke="#801010" stroke-width="0.5"/>
<circle cx="128.26" cy="341.97" r="2.55" fill="#b01c1c" stroke="#801010" stroke-width="0.5"/>
<circle cx="123.58" cy="327.15" r="2.55" fill="#b01c1c" stroke="#801010" stroke-width="0.5"/>
<circle cx="128.47" cy="350.47" r="2.55" fill="#b01c1c" stroke="#801010" stroke-width="0.5"/>
<circle cx="125.59" cy="330.08" r="2.55" fill="#b01c1c" stroke="#801010" stroke-width="0.5"/>
<circle cx="120.99" cy="357.74" r="2.55" fill="#b01c1c" stroke="#801010" stroke-width="0.5"/>
<circle cx="116.92" cy="350.61" r="2.55" fill="#b01c1c" stroke="#801010" stroke-width="0.5"/>
<circle cx="109.36" cy="325.92" r="2.55" fill="#b01c1c" stroke="#801010" stroke-width="0.5"/>
<circle cx="125.46" cy="334.69" r="2.55" fill="#b01c1c" stroke="#801010" stroke-width="0.5"/>
<circle cx="120.83" cy="323.45" r="2.55" fill="#b01c1c" stroke="#801010" stroke-width="0.5"/>
<circle cx="119.81" cy="347.88" r="2.55" fill="#b01c1c" stroke="#801010" stroke-width="0.5"/>
<circle cx="128.53" cy="354.80" r="2.55" fill="#b01c1c" stroke="#801010" stroke-width="0.5"/>
<circle cx="122.89" cy="350.03" r="2.55" fill="#b01c1c" stroke="#801010" stroke-width="0.5"/>
<circle cx="121.91" cy="347.22" r="2.55" fill="#b01c1c" stroke="#801010" stroke-width="0.5"/>
<circle cx="120.77" cy="340.23" r="2.55" fill="#b01c1c" stroke="#801010" stroke-width="0.5"/>
<circle cx="116.46" cy="325.75" r="2.55" fill="#b01c1c" stroke="#801010" stroke-width="0.5"/>
<circle cx="109.15" cy="330.60" r="2.55" fill="#b01c1c" stroke="#801010" stroke-width="0.5"/>
<circle cx="122.06" cy="350.58" r="2.55" fill="#b01c1c" stroke="#801010" stroke-width="0.5"/>
<circle cx="115.46" cy="339.89" r="2.55" fill="#b01c1c" stroke="#801010" stroke-width="0.5"/>
<circle cx="118.93" cy="337.17" r="2.55" fill="#b01c1c" stroke="#801010" stroke-width="0.5"/>
<circle cx="115.44" cy="320.33" r="2.55" fill="#b01c1c" stroke="#801010" stroke-width="0.5"/>
<circle cx="128.07" cy="352.06" r="2.55" fill="#b01c1c" stroke="#801010" stroke-width="0.5"/>
<path d="M18.5 351.5 V367.5 H34.5" fill="none" stroke="#222" stroke-width="0.9"/>
<path d="M16.7 354.5 L18.5 351.5 L20.3 354.5 M31.5 365.7 L34.5 367.5 L31.5 369.3" fill="none" stroke="#222" stroke-width="0.9"/>
<text x="91.5" y="381.0" font-size="11" text-anchor="middle" fill="#000">tSNE 1</text>
<circle cx="13.50" cy="391.00" r="2.60" fill="#b01c1c" stroke="none" stroke-width="0.5"/>
<text x="19.0" y="395.0" font-size="11" text-anchor="start" fill="#000">HE-LB</text>
<circle cx="61.00" cy="391.00" r="2.60" fill="#1f66d6" stroke="none" stroke-width="0.5"/>
<text x="66.5" y="395.0" font-size="11" text-anchor="start" fill="#000">EC-LB</text>
<circle cx="107.50" cy="391.00" r="2.60" fill="#1e8a1e" stroke="none" stroke-width="0.5"/>
<text x="113.0" y="395.0" font-size="11" text-anchor="start" fill="#000">MSC-LB</text>
<text x="197.0" y="11.0" font-size="15" text-anchor="start" fill="#000" font-weight="bold">c</text>
<rect x="215.00" y="0.00" width="50.40" height="13.80" fill="#b3191d"/>
<rect x="265.40" y="0.00" width="50.10" height="13.80" fill="#1a74d2"/>
<rect x="315.50" y="0.00" width="62.10" height="13.80" fill="#0a8f1f"/>
<text x="240.2" y="11.4" font-size="11.3" text-anchor="middle" fill="#ffe4e4">HE-LB</text>
<text x="290.4" y="11.4" font-size="11.3" text-anchor="middle" fill="#e0f0ff">EC-LB</text>
<text x="346.6" y="11.4" font-size="11.3" text-anchor="middle" fill="#e0ffe0">MSC-LB</text>
<g shape-rendering="crispEdges">
<path fill="#ff8200" d="M215.0 18.00h50.4v8.41h-50.4zM215.0 26.41h50.4v8.41h-50.4zM215.0 34.82h50.4v8.41h-50.4zM215.0 43.23h50.4v8.41h-50.4zM215.0 51.64h50.4v8.41h-50.4zM215.0 60.05h50.4v8.41h-50.4zM215.0 68.46h50.4v8.41h-50.4zM215.0 76.87h50.4v8.41h-50.4zM215.0 85.28h50.4v8.41h-50.4zM215.0 93.69h50.4v8.41h-50.4zM215.0 102.10h50.4v8.41h-50.4zM215.0 110.51h50.4v8.41h-50.4zM215.0 118.92h50.4v8.41h-50.4zM215.0 127.33h50.4v8.41h-50.4zM215.0 135.74h50.4v8.41h-50.4zM215.0 144.15h50.4v8.41h-50.4zM215.0 152.56h50.4v8.41h-50.4zM215.0 160.97h50.4v8.41h-50.4zM215.0 169.38h50.4v8.41h-50.4zM215.0 177.79h50.4v8.41h-50.4zM215.0 186.20h50.4v8.41h-50.4zM215.0 194.61h50.4v8.41h-50.4zM215.0 203.02h50.4v8.41h-50.4zM215.0 211.43h50.4v8.41h-50.4zM215.0 219.84h50.4v8.41h-50.4zM215.0 228.25h50.4v8.41h-50.4zM215.0 236.66h50.4v8.41h-50.4zM215.0 245.07h50.4v8.41h-50.4zM265.4 253.48h50.1v8.41h-50.1zM265.4 261.89h50.1v8.41h-50.1zM265.4 270.30h50.1v8.41h-50.1zM265.4 278.71h50.1v8.41h-50.1zM265.4 287.12h50.1v8.41h-50.1zM265.4 295.53h50.1v8.41h-50.1zM265.4 303.94h50.1v8.41h-50.1zM265.4 312.35h50.1v8.41h-50.1zM265.4 320.76h50.1v8.41h-50.1zM265.4 329.17h50.1v8.41h-50.1zM265.4 337.58h50.1v8.41h-50.1zM265.4 345.99h50.1v8.41h-50.1zM265.4 354.40h50.1v8.41h-50.1zM265.4 362.81h50.1v8.41h-50.1zM265.4 371.22h50.1v8.41h-50.1zM265.4 379.63h50.1v8.41h-50.1zM265.4 388.04h50.1v8.41h-50.1zM265.4 396.45h50.1v8.41h-50.1zM265.4 404.86h50.1v8.41h-50.1zM265.4 413.27h50.1v8.41h-50.1zM265.4 421.68h50.1v8.41h-50.1zM265.4 430.09h50.1v8.41h-50.1zM265.4 438.50h50.1v8.41h-50.1zM265.4 446.91h50.1v8.41h-50.1zM315.5 455.32h62.1v8.41h-62.1zM315.5 463.73h62.1v8.41h-62.1zM315.5 472.14h62.1v8.41h-62.1zM315.5 480.55h62.1v8.41h-62.1zM315.5 488.96h62.1v8.41h-62.1zM315.5 497.37h62.1v8.41h-62.1zM315.5 505.78h62.1v8.41h-62.1zM315.5 514.19h62.1v8.41h-62.1zM315.5 522.60h62.1v8.41h-62.1zM315.5 531.01h62.1v8.41h-62.1zM315.5 539.42h62.1v8.41h-62.1zM315.5 547.83h62.1v8.41h-62.1zM315.5 556.24h62.1v8.41h-62.1zM315.5 564.65h62.1v8.41h-62.1zM315.5 573.06h62.1v8.41h-62.1zM315.5 581.47h62.1v8.41h-62.1zM315.5 589.88h62.1v8.41h-62.1zM315.5 598.29h62.1v8.41h-62.1zM315.5 606.70h62.1v8.41h-62.1zM315.5 615.11h62.1v8.41h-62.1zM315.5 623.52h62.1v8.41h-62.1z"/>
<path fill="#0b2c92" d="M265.4 18.00h50.1v8.41h-50.1zM315.5 18.00h62.1v8.41h-62.1zM265.4 68.46h50.1v8.41h-50.1zM315.5 68.46h62.1v8.41h-62.1zM265.4 76.87h50.1v8.41h-50.1zM315.5 76.87h62.1v8.41h-62.1zM215.0 278.71h50.4v8.41h-50.4zM315.5 278.71h62.1v8.41h-62.1zM215.0 287.12h50.4v8.41h-50.4zM315.5 287.12h62.1v8.41h-62.1zM215.0 488.96h50.4v8.41h-50.4zM265.4 488.96h50.1v8.41h-50.1zM215.0 522.60h50.4v8.41h-50.4zM265.4 522.60h50.1v8.41h-50.1zM215.0 556.24h50.4v8.41h-50.4zM265.4 556.24h50.1v8.41h-50.1z"/>
<path fill="#0d4cb2" d="M265.4 26.41h50.1v8.41h-50.1zM315.5 26.41h62.1v8.41h-62.1zM265.4 43.23h50.1v8.41h-50.1zM315.5 43.23h62.1v8.41h-62.1zM265.4 51.64h50.1v8.41h-50.1zM315.5 51.64h62.1v8.41h-62.1zM215.0 253.48h50.4v8.41h-50.4zM315.5 253.48h62.1v8.41h-62.1zM215.0 261.89h50.4v8.41h-50.4zM315.5 261.89h62.1v8.41h-62.1zM215.0 270.30h50.4v8.41h-50.4zM315.5 270.30h62.1v8.41h-62.1zM215.0 295.53h50.4v8.41h-50.4zM315.5 295.53h62.1v8.41h-62.1zM215.0 303.94h50.4v8.41h-50.4zM315.5 303.94h62.1v8.41h-62.1zM215.0 564.65h50.4v8.41h-50.4zM265.4 564.65h50.1v8.41h-50.1zM215.0 573.06h50.4v8.41h-50.4zM265.4 573.06h50.1v8.41h-50.1z"/>
<path fill="#1a70ce" d="M265.4 34.82h50.1v8.41h-50.1zM315.5 34.82h62.1v8.41h-62.1zM265.4 85.28h50.1v8.41h-50.1zM315.5 85.28h62.1v8.41h-62.1zM265.4 93.69h50.1v8.41h-50.1zM315.5 93.69h62.1v8.41h-62.1zM265.4 135.74h50.1v8.41h-50.1zM315.5 135.74h62.1v8.41h-62.1zM265.4 144.15h50.1v8.41h-50.1zM315.5 144.15h62.1v8.41h-62.1zM215.0 320.76h50.4v8.41h-50.4zM315.5 320.76h62.1v8.41h-62.1zM215.0 329.17h50.4v8.41h-50.4zM315.5 329.17h62.1v8.41h-62.1zM215.0 430.09h50.4v8.41h-50.4zM315.5 430.09h62.1v8.41h-62.1z"/>
<path fill="#1160c2" d="M265.4 60.05h50.1v8.41h-50.1zM315.5 60.05h62.1v8.41h-62.1zM265.4 110.51h50.1v8.41h-50.1zM315.5 110.51h62.1v8.41h-62.1zM265.4 118.92h50.1v8.41h-50.1zM315.5 118.92h62.1v8.41h-62.1zM265.4 127.33h50.1v8.41h-50.1zM315.5 127.33h62.1v8.41h-62.1zM215.0 345.99h50.4v8.41h-50.4zM315.5 345.99h62.1v8.41h-62.1zM215.0 354.40h50.4v8.41h-50.4zM315.5 354.40h62.1v8.41h-62.1zM215.0 388.04h50.4v8.41h-50.4zM315.5 388.04h62.1v8.41h-62.1zM215.0 531.01h50.4v8.41h-50.4zM265.4 531.01h50.1v8.41h-50.1zM215.0 539.42h50.4v8.41h-50.4zM265.4 539.42h50.1v8.41h-50.1zM215.0 547.83h50.4v8.41h-50.4zM265.4 547.83h50.1v8.41h-50.1zM215.0 606.70h50.4v8.41h-50.4zM265.4 606.70h50.1v8.41h-50.1zM215.0 615.11h50.4v8.41h-50.4zM265.4 615.11h50.1v8.41h-50.1z"/>
<path fill="#0c3ea4" d="M265.4 102.10h50.1v8.41h-50.1zM315.5 102.10h62.1v8.41h-62.1zM215.0 312.35h50.4v8.41h-50.4zM315.5 312.35h62.1v8.41h-62.1zM215.0 337.58h50.4v8.41h-50.4zM315.5 337.58h62.1v8.41h-62.1zM215.0 396.45h50.4v8.41h-50.4zM315.5 396.45h62.1v8.41h-62.1zM215.0 480.55h50.4v8.41h-50.4zM265.4 480.55h50.1v8.41h-50.1zM215.0 514.19h50.4v8.41h-50.4zM265.4 514.19h50.1v8.41h-50.1z"/>
<path fill="#2e86dc" d="M265.4 152.56h50.1v8.41h-50.1zM315.5 152.56h62.1v8.41h-62.1zM265.4 160.97h50.1v8.41h-50.1zM315.5 160.97h62.1v8.41h-62.1zM265.4 169.38h50.1v8.41h-50.1zM315.5 169.38h62.1v8.41h-62.1zM265.4 177.79h50.1v8.41h-50.1zM315.5 177.79h62.1v8.41h-62.1zM265.4 186.20h50.1v8.41h-50.1zM315.5 186.20h62.1v8.41h-62.1zM265.4 194.61h50.1v8.41h-50.1zM315.5 194.61h62.1v8.41h-62.1zM265.4 203.02h50.1v8.41h-50.1zM315.5 203.02h62.1v8.41h-62.1zM265.4 219.84h50.1v8.41h-50.1zM315.5 219.84h62.1v8.41h-62.1zM265.4 228.25h50.1v8.41h-50.1zM315.5 228.25h62.1v8.41h-62.1zM265.4 236.66h50.1v8.41h-50.1zM315.5 236.66h62.1v8.41h-62.1zM215.0 362.81h50.4v8.41h-50.4zM315.5 362.81h62.1v8.41h-62.1zM215.0 371.22h50.4v8.41h-50.4zM315.5 371.22h62.1v8.41h-62.1zM215.0 379.63h50.4v8.41h-50.4zM315.5 379.63h62.1v8.41h-62.1zM215.0 404.86h50.4v8.41h-50.4zM315.5 404.86h62.1v8.41h-62.1zM215.0 413.27h50.4v8.41h-50.4zM315.5 413.27h62.1v8.41h-62.1zM215.0 421.68h50.4v8.41h-50.4zM315.5 421.68h62.1v8.41h-62.1zM215.0 438.50h50.4v8.41h-50.4zM315.5 438.50h62.1v8.41h-62.1zM215.0 446.91h50.4v8.41h-50.4zM315.5 446.91h62.1v8.41h-62.1zM215.0 581.47h50.4v8.41h-50.4zM265.4 581.47h50.1v8.41h-50.1zM215.0 589.88h50.4v8.41h-50.4zM265.4 589.88h50.1v8.41h-50.1zM215.0 598.29h50.4v8.41h-50.4zM265.4 598.29h50.1v8.41h-50.1zM215.0 623.52h50.4v8.41h-50.4zM265.4 623.52h50.1v8.41h-50.1z"/>
<path fill="#9ab6ea" d="M265.4 211.43h50.1v8.41h-50.1zM315.5 211.43h62.1v8.41h-62.1zM265.4 245.07h50.1v8.41h-50.1zM315.5 245.07h62.1v8.41h-62.1z"/>
<path fill="#0a1c78" d="M215.0 455.32h50.4v8.41h-50.4zM265.4 455.32h50.1v8.41h-50.1zM215.0 463.73h50.4v8.41h-50.4zM265.4 463.73h50.1v8.41h-50.1zM215.0 472.14h50.4v8.41h-50.4zM265.4 472.14h50.1v8.41h-50.1zM215.0 497.37h50.4v8.41h-50.4zM265.4 497.37h50.1v8.41h-50.1zM215.0 505.78h50.4v8.41h-50.4zM265.4 505.78h50.1v8.41h-50.1z"/>
<path fill="#3a70c8" d="M217.0 18.00h1.0v8.41h-1.0zM235.0 26.41h2.0v8.41h-2.0zM239.0 34.82h2.0v8.41h-2.0zM261.0 34.82h1.0v8.41h-1.0zM246.0 43.23h1.0v8.41h-1.0zM232.0 51.64h1.0v8.41h-1.0zM227.0 60.05h1.0v8.41h-1.0zM217.0 76.87h1.0v8.41h-1.0zM221.0 76.87h1.0v8.41h-1.0zM217.0 85.28h1.0v8.41h-1.0zM220.0 93.69h2.0v8.41h-2.0zM239.0 93.69h1.0v8.41h-1.0zM264.0 93.69h1.0v8.41h-1.0zM262.0 102.10h1.0v8.41h-1.0zM263.0 110.51h1.0v8.41h-1.0zM230.0 118.92h1.0v8.41h-1.0zM247.0 127.33h1.0v8.41h-1.0zM250.0 127.33h1.0v8.41h-1.0zM264.0 127.33h1.0v8.41h-1.0zM243.0 135.74h1.0v8.41h-1.0zM252.0 135.74h1.0v8.41h-1.0zM230.0 152.56h1.0v8.41h-1.0zM233.0 177.79h2.0v8.41h-2.0zM246.0 194.61h1.0v8.41h-1.0zM259.0 194.61h1.0v8.41h-1.0zM221.0 211.43h1.0v8.41h-1.0zM243.0 211.43h1.0v8.41h-1.0zM217.0 228.25h1.0v8.41h-1.0zM220.0 228.25h1.0v8.41h-1.0zM227.0 228.25h1.0v8.41h-1.0zM235.0 236.66h1.0v8.41h-1.0zM246.0 236.66h1.0v8.41h-1.0zM220.0 245.07h1.0v8.41h-1.0zM238.0 245.07h1.0v8.41h-1.0zM263.0 245.07h1.0v8.41h-1.0zM269.4 253.48h2.0v8.41h-2.0zM275.4 261.89h1.0v8.41h-1.0zM291.4 270.30h1.0v8.41h-1.0zM280.4 287.12h1.0v8.41h-1.0zM290.4 295.53h1.0v8.41h-1.0zM291.4 303.94h1.0v8.41h-1.0zM275.4 329.17h2.0v8.41h-2.0zM287.4 329.17h1.0v8.41h-1.0zM294.4 337.58h1.0v8.41h-1.0zM298.4 337.58h2.0v8.41h-2.0zM265.4 354.40h1.0v8.41h-1.0zM278.4 354.40h1.0v8.41h-1.0zM290.4 371.22h1.0v8.41h-1.0zM281.4 388.04h2.0v8.41h-2.0zM287.4 388.04h1.0v8.41h-1.0zM309.4 388.04h1.0v8.41h-1.0zM307.4 421.68h1.0v8.41h-1.0zM309.4 421.68h1.0v8.41h-1.0zM314.4 421.68h1.0v8.41h-1.0zM311.4 430.09h1.0v8.41h-1.0zM274.4 438.50h1.0v8.41h-1.0zM294.4 438.50h2.0v8.41h-2.0zM297.4 438.50h2.0v8.41h-2.0zM307.4 438.50h1.0v8.41h-1.0zM308.4 438.50h1.0v8.41h-1.0zM275.4 446.91h1.0v8.41h-1.0zM290.4 446.91h2.0v8.41h-2.0zM353.5 505.78h1.0v8.41h-1.0zM341.5 522.60h1.0v8.41h-1.0zM350.5 522.60h2.0v8.41h-2.0zM342.5 531.01h1.0v8.41h-1.0zM319.5 539.42h1.0v8.41h-1.0zM352.5 556.24h1.0v8.41h-1.0zM371.5 573.06h2.0v8.41h-2.0zM373.5 573.06h1.0v8.41h-1.0zM339.5 581.47h1.0v8.41h-1.0zM370.5 581.47h1.0v8.41h-1.0zM338.5 589.88h1.0v8.41h-1.0zM345.5 589.88h1.0v8.41h-1.0zM355.5 589.88h1.0v8.41h-1.0zM351.5 606.70h1.0v8.41h-1.0zM353.5 606.70h1.0v8.41h-1.0zM371.5 606.70h2.0v8.41h-2.0zM342.5 623.52h1.0v8.41h-1.0z"/>
<path fill="#ffe4a8" d="M224.0 18.00h1.0v8.41h-1.0zM253.0 18.00h1.0v8.41h-1.0zM242.0 26.41h1.0v8.41h-1.0zM252.0 34.82h1.0v8.41h-1.0zM217.0 43.23h1.0v8.41h-1.0zM258.0 43.23h2.0v8.41h-2.0zM230.0 51.64h1.0v8.41h-1.0zM239.0 51.64h1.0v8.41h-1.0zM217.0 60.05h1.0v8.41h-1.0zM225.0 68.46h1.0v8.41h-1.0zM261.0 68.46h1.0v8.41h-1.0zM230.0 76.87h1.0v8.41h-1.0zM252.0 76.87h1.0v8.41h-1.0zM261.0 76.87h1.0v8.41h-1.0zM248.0 85.28h1.0v8.41h-1.0zM230.0 93.69h1.0v8.41h-1.0zM247.0 93.69h1.0v8.41h-1.0zM252.0 93.69h2.0v8.41h-2.0zM263.0 93.69h1.0v8.41h-1.0zM261.0 110.51h1.0v8.41h-1.0zM237.0 135.74h1.0v8.41h-1.0zM250.0 135.74h2.0v8.41h-2.0zM261.0 135.74h1.0v8.41h-1.0zM239.0 152.56h1.0v8.41h-1.0zM250.0 152.56h1.0v8.41h-1.0zM222.0 160.97h1.0v8.41h-1.0zM237.0 177.79h2.0v8.41h-2.0zM234.0 211.43h1.0v8.41h-1.0zM275.4 253.48h2.0v8.41h-2.0zM270.4 287.12h1.0v8.41h-1.0zM274.4 320.76h1.0v8.41h-1.0zM296.4 320.76h1.0v8.41h-1.0zM308.4 320.76h1.0v8.41h-1.0zM291.4 329.17h1.0v8.41h-1.0zM267.4 337.58h2.0v8.41h-2.0zM311.4 345.99h1.0v8.41h-1.0zM312.4 345.99h2.0v8.41h-2.0zM275.4 354.40h1.0v8.41h-1.0zM302.4 354.40h1.0v8.41h-1.0zM307.4 354.40h1.0v8.41h-1.0zM285.4 362.81h1.0v8.41h-1.0zM308.4 379.63h2.0v8.41h-2.0zM285.4 413.27h1.0v8.41h-1.0zM290.4 421.68h2.0v8.41h-2.0zM294.4 421.68h2.0v8.41h-2.0zM297.4 421.68h1.0v8.41h-1.0zM268.4 438.50h1.0v8.41h-1.0zM296.4 438.50h1.0v8.41h-1.0zM329.5 463.73h1.0v8.41h-1.0zM340.5 472.14h1.0v8.41h-1.0zM317.5 480.55h2.0v8.41h-2.0zM334.5 480.55h1.0v8.41h-1.0zM358.5 480.55h1.0v8.41h-1.0zM370.5 480.55h1.0v8.41h-1.0zM373.5 480.55h1.0v8.41h-1.0zM319.5 488.96h1.0v8.41h-1.0zM365.5 488.96h1.0v8.41h-1.0zM345.5 497.37h1.0v8.41h-1.0zM342.5 514.19h1.0v8.41h-1.0zM339.5 522.60h2.0v8.41h-2.0zM317.5 531.01h1.0v8.41h-1.0zM349.5 531.01h2.0v8.41h-2.0zM358.5 531.01h1.0v8.41h-1.0zM357.5 564.65h1.0v8.41h-1.0zM333.5 581.47h1.0v8.41h-1.0zM370.5 623.52h1.0v8.41h-1.0z"/>
<path fill="#ffb840" d="M232.0 18.00h1.0v8.41h-1.0zM235.0 18.00h1.0v8.41h-1.0zM221.0 26.41h2.0v8.41h-2.0zM261.0 43.23h1.0v8.41h-1.0zM219.0 51.64h1.0v8.41h-1.0zM232.0 60.05h1.0v8.41h-1.0zM242.0 60.05h2.0v8.41h-2.0zM229.0 76.87h1.0v8.41h-1.0zM248.0 76.87h1.0v8.41h-1.0zM248.0 93.69h1.0v8.41h-1.0zM230.0 102.10h1.0v8.41h-1.0zM234.0 110.51h2.0v8.41h-2.0zM250.0 110.51h1.0v8.41h-1.0zM235.0 127.33h1.0v8.41h-1.0zM223.0 152.56h1.0v8.41h-1.0zM235.0 177.79h2.0v8.41h-2.0zM237.0 194.61h1.0v8.41h-1.0zM216.0 203.02h1.0v8.41h-1.0zM225.0 203.02h1.0v8.41h-1.0zM217.0 211.43h2.0v8.41h-2.0zM256.0 219.84h1.0v8.41h-1.0zM297.4 270.30h1.0v8.41h-1.0zM290.4 278.71h1.0v8.41h-1.0zM291.4 278.71h1.0v8.41h-1.0zM297.4 278.71h1.0v8.41h-1.0zM298.4 287.12h1.0v8.41h-1.0zM287.4 320.76h1.0v8.41h-1.0zM274.4 354.40h1.0v8.41h-1.0zM293.4 388.04h1.0v8.41h-1.0zM311.4 446.91h1.0v8.41h-1.0zM325.5 455.32h1.0v8.41h-1.0zM345.5 463.73h1.0v8.41h-1.0zM367.5 472.14h1.0v8.41h-1.0zM345.5 480.55h1.0v8.41h-1.0zM329.5 488.96h1.0v8.41h-1.0zM353.5 488.96h2.0v8.41h-2.0zM347.5 497.37h2.0v8.41h-2.0zM317.5 539.42h1.0v8.41h-1.0zM350.5 539.42h2.0v8.41h-2.0zM332.5 547.83h2.0v8.41h-2.0zM369.5 556.24h1.0v8.41h-1.0zM342.5 564.65h1.0v8.41h-1.0zM317.5 615.11h1.0v8.41h-1.0zM325.5 615.11h1.0v8.41h-1.0z"/>
<path fill="#f8d890" d="M238.0 18.00h2.0v8.41h-2.0zM264.0 26.41h1.0v8.41h-1.0zM230.0 34.82h1.0v8.41h-1.0zM264.0 34.82h1.0v8.41h-1.0zM261.0 51.64h1.0v8.41h-1.0zM252.0 60.05h2.0v8.41h-2.0zM230.0 68.46h1.0v8.41h-1.0zM225.0 93.69h1.0v8.41h-1.0zM245.0 110.51h1.0v8.41h-1.0zM258.0 118.92h2.0v8.41h-2.0zM228.0 127.33h1.0v8.41h-1.0zM230.0 135.74h2.0v8.41h-2.0zM235.0 152.56h2.0v8.41h-2.0zM235.0 169.38h1.0v8.41h-1.0zM222.0 177.79h1.0v8.41h-1.0zM262.0 177.79h1.0v8.41h-1.0zM262.0 186.20h1.0v8.41h-1.0zM248.0 211.43h1.0v8.41h-1.0zM254.0 211.43h1.0v8.41h-1.0zM230.0 219.84h1.0v8.41h-1.0zM255.0 219.84h1.0v8.41h-1.0zM262.0 219.84h1.0v8.41h-1.0zM230.0 228.25h1.0v8.41h-1.0zM290.4 270.30h1.0v8.41h-1.0zM305.4 270.30h1.0v8.41h-1.0zM309.4 270.30h1.0v8.41h-1.0zM307.4 295.53h1.0v8.41h-1.0zM308.4 295.53h2.0v8.41h-2.0zM278.4 303.94h2.0v8.41h-2.0zM287.4 303.94h2.0v8.41h-2.0zM291.4 320.76h1.0v8.41h-1.0zM281.4 337.58h1.0v8.41h-1.0zM290.4 337.58h1.0v8.41h-1.0zM311.4 337.58h1.0v8.41h-1.0zM276.4 345.99h1.0v8.41h-1.0zM287.4 345.99h1.0v8.41h-1.0zM298.4 345.99h2.0v8.41h-2.0zM268.4 354.40h1.0v8.41h-1.0zM297.4 362.81h2.0v8.41h-2.0zM272.4 371.22h1.0v8.41h-1.0zM286.4 371.22h1.0v8.41h-1.0zM291.4 371.22h1.0v8.41h-1.0zM298.4 371.22h1.0v8.41h-1.0zM304.4 379.63h1.0v8.41h-1.0zM313.4 379.63h1.0v8.41h-1.0zM290.4 396.45h1.0v8.41h-1.0zM306.4 396.45h1.0v8.41h-1.0zM314.4 396.45h1.0v8.41h-1.0zM290.4 404.86h2.0v8.41h-2.0zM314.4 404.86h1.0v8.41h-1.0zM282.4 413.27h1.0v8.41h-1.0zM308.4 413.27h2.0v8.41h-2.0zM275.4 430.09h1.0v8.41h-1.0zM298.4 446.91h1.0v8.41h-1.0zM349.5 455.32h1.0v8.41h-1.0zM346.5 472.14h2.0v8.41h-2.0zM374.5 480.55h1.0v8.41h-1.0zM356.5 497.37h1.0v8.41h-1.0zM370.5 497.37h1.0v8.41h-1.0zM349.5 505.78h1.0v8.41h-1.0zM357.5 531.01h1.0v8.41h-1.0zM370.5 531.01h1.0v8.41h-1.0zM333.5 539.42h2.0v8.41h-2.0zM316.5 547.83h1.0v8.41h-1.0zM344.5 547.83h1.0v8.41h-1.0zM345.5 547.83h1.0v8.41h-1.0zM338.5 573.06h1.0v8.41h-1.0zM375.5 573.06h1.0v8.41h-1.0zM332.5 581.47h1.0v8.41h-1.0zM342.5 598.29h2.0v8.41h-2.0zM345.5 598.29h2.0v8.41h-2.0zM357.5 598.29h1.0v8.41h-1.0zM368.5 598.29h1.0v8.41h-1.0zM349.5 606.70h1.0v8.41h-1.0zM340.5 615.11h1.0v8.41h-1.0zM372.5 623.52h1.0v8.41h-1.0z"/>
<path fill="#8a7a6e" d="M246.0 18.00h1.0v8.41h-1.0zM219.0 26.41h1.0v8.41h-1.0zM216.0 51.64h1.0v8.41h-1.0zM252.0 51.64h1.0v8.41h-1.0zM235.0 68.46h1.0v8.41h-1.0zM248.0 102.10h1.0v8.41h-1.0zM252.0 102.10h1.0v8.41h-1.0zM258.0 102.10h1.0v8.41h-1.0zM231.0 144.15h2.0v8.41h-2.0zM221.0 169.38h1.0v8.41h-1.0zM238.0 169.38h2.0v8.41h-2.0zM242.0 169.38h1.0v8.41h-1.0zM256.0 177.79h2.0v8.41h-2.0zM215.0 186.20h1.0v8.41h-1.0zM243.0 194.61h1.0v8.41h-1.0zM217.0 203.02h1.0v8.41h-1.0zM248.0 203.02h1.0v8.41h-1.0zM219.0 211.43h1.0v8.41h-1.0zM229.0 211.43h1.0v8.41h-1.0zM222.0 219.84h1.0v8.41h-1.0zM263.0 219.84h1.0v8.41h-1.0zM225.0 228.25h2.0v8.41h-2.0zM231.0 228.25h1.0v8.41h-1.0zM246.0 245.07h1.0v8.41h-1.0zM293.4 253.48h1.0v8.41h-1.0zM296.4 261.89h1.0v8.41h-1.0zM301.4 287.12h2.0v8.41h-2.0zM275.4 295.53h1.0v8.41h-1.0zM280.4 295.53h1.0v8.41h-1.0zM275.4 320.76h1.0v8.41h-1.0zM313.4 329.17h1.0v8.41h-1.0zM277.4 345.99h1.0v8.41h-1.0zM313.4 354.40h1.0v8.41h-1.0zM309.4 362.81h1.0v8.41h-1.0zM297.4 371.22h1.0v8.41h-1.0zM298.4 388.04h1.0v8.41h-1.0zM271.4 404.86h2.0v8.41h-2.0zM275.4 404.86h1.0v8.41h-1.0zM275.4 421.68h1.0v8.41h-1.0zM301.4 421.68h2.0v8.41h-2.0zM294.4 430.09h1.0v8.41h-1.0zM271.4 438.50h1.0v8.41h-1.0zM287.4 438.50h1.0v8.41h-1.0zM310.4 446.91h1.0v8.41h-1.0zM313.4 446.91h1.0v8.41h-1.0zM329.5 472.14h1.0v8.41h-1.0zM349.5 488.96h1.0v8.41h-1.0zM330.5 497.37h1.0v8.41h-1.0zM359.5 497.37h2.0v8.41h-2.0zM332.5 505.78h1.0v8.41h-1.0zM367.5 505.78h1.0v8.41h-1.0zM345.5 514.19h2.0v8.41h-2.0zM353.5 514.19h1.0v8.41h-1.0zM315.5 531.01h1.0v8.41h-1.0zM359.5 531.01h1.0v8.41h-1.0zM362.5 531.01h1.0v8.41h-1.0zM340.5 539.42h2.0v8.41h-2.0zM337.5 547.83h1.0v8.41h-1.0zM367.5 556.24h1.0v8.41h-1.0zM367.5 564.65h1.0v8.41h-1.0zM345.5 573.06h1.0v8.41h-1.0zM376.5 573.06h1.0v8.41h-1.0zM367.5 589.88h2.0v8.41h-2.0zM347.5 598.29h2.0v8.41h-2.0zM329.5 606.70h1.0v8.41h-1.0zM371.5 615.11h1.0v8.41h-1.0zM325.5 623.52h1.0v8.41h-1.0zM367.5 623.52h1.0v8.41h-1.0z"/>
<path fill="#fff2d8" d="M248.0 18.00h2.0v8.41h-2.0zM243.0 34.82h1.0v8.41h-1.0zM229.0 43.23h2.0v8.41h-2.0zM235.0 43.23h1.0v8.41h-1.0zM215.0 51.64h1.0v8.41h-1.0zM235.0 60.05h1.0v8.41h-1.0zM239.0 60.05h1.0v8.41h-1.0zM246.0 60.05h1.0v8.41h-1.0zM261.0 60.05h1.0v8.41h-1.0zM243.0 85.28h1.0v8.41h-1.0zM252.0 85.28h1.0v8.41h-1.0zM242.0 93.69h1.0v8.41h-1.0zM251.0 93.69h1.0v8.41h-1.0zM262.0 110.51h1.0v8.41h-1.0zM255.0 118.92h1.0v8.41h-1.0zM230.0 127.33h2.0v8.41h-2.0zM242.0 127.33h1.0v8.41h-1.0zM232.0 135.74h1.0v8.41h-1.0zM242.0 135.74h1.0v8.41h-1.0zM256.0 144.15h1.0v8.41h-1.0zM250.0 169.38h1.0v8.41h-1.0zM252.0 177.79h2.0v8.41h-2.0zM237.0 186.20h2.0v8.41h-2.0zM239.0 186.20h1.0v8.41h-1.0zM230.0 194.61h1.0v8.41h-1.0zM234.0 194.61h1.0v8.41h-1.0zM215.0 211.43h1.0v8.41h-1.0zM313.4 253.48h2.0v8.41h-2.0zM275.4 270.30h1.0v8.41h-1.0zM274.4 287.12h1.0v8.41h-1.0zM270.4 312.35h1.0v8.41h-1.0zM311.4 312.35h1.0v8.41h-1.0zM300.4 337.58h1.0v8.41h-1.0zM308.4 345.99h1.0v8.41h-1.0zM270.4 354.40h1.0v8.41h-1.0zM309.4 354.40h2.0v8.41h-2.0zM290.4 362.81h1.0v8.41h-1.0zM306.4 371.22h2.0v8.41h-2.0zM309.4 371.22h1.0v8.41h-1.0zM272.4 396.45h1.0v8.41h-1.0zM291.4 413.27h1.0v8.41h-1.0zM272.4 430.09h1.0v8.41h-1.0zM317.5 472.14h1.0v8.41h-1.0zM327.5 472.14h1.0v8.41h-1.0zM342.5 472.14h1.0v8.41h-1.0zM344.5 480.55h1.0v8.41h-1.0zM361.5 488.96h1.0v8.41h-1.0zM362.5 488.96h1.0v8.41h-1.0zM327.5 505.78h1.0v8.41h-1.0zM318.5 514.19h1.0v8.41h-1.0zM347.5 514.19h1.0v8.41h-1.0zM329.5 531.01h1.0v8.41h-1.0zM332.5 531.01h1.0v8.41h-1.0zM332.5 564.65h1.0v8.41h-1.0zM349.5 573.06h1.0v8.41h-1.0zM325.5 581.47h1.0v8.41h-1.0zM362.5 581.47h1.0v8.41h-1.0zM331.5 598.29h2.0v8.41h-2.0z"/>
<path fill="#ffa828" d="M256.0 18.00h1.0v8.41h-1.0zM247.0 43.23h2.0v8.41h-2.0zM248.0 51.64h1.0v8.41h-1.0zM242.0 68.46h2.0v8.41h-2.0zM258.0 68.46h2.0v8.41h-2.0zM247.0 76.87h1.0v8.41h-1.0zM236.0 85.28h1.0v8.41h-1.0zM239.0 85.28h2.0v8.41h-2.0zM246.0 102.10h2.0v8.41h-2.0zM225.0 110.51h2.0v8.41h-2.0zM243.0 110.51h1.0v8.41h-1.0zM217.0 118.92h1.0v8.41h-1.0zM235.0 118.92h1.0v8.41h-1.0zM243.0 118.92h1.0v8.41h-1.0zM225.0 127.33h1.0v8.41h-1.0zM234.0 127.33h1.0v8.41h-1.0zM239.0 127.33h1.0v8.41h-1.0zM256.0 160.97h1.0v8.41h-1.0zM229.0 219.84h1.0v8.41h-1.0zM242.0 236.66h2.0v8.41h-2.0zM252.0 245.07h1.0v8.41h-1.0zM297.4 261.89h1.0v8.41h-1.0zM308.4 270.30h1.0v8.41h-1.0zM311.4 278.71h1.0v8.41h-1.0zM273.4 287.12h1.0v8.41h-1.0zM278.4 287.12h1.0v8.41h-1.0zM297.4 287.12h1.0v8.41h-1.0zM297.4 295.53h1.0v8.41h-1.0zM308.4 303.94h1.0v8.41h-1.0zM290.4 312.35h1.0v8.41h-1.0zM308.4 312.35h1.0v8.41h-1.0zM306.4 320.76h1.0v8.41h-1.0zM278.4 337.58h1.0v8.41h-1.0zM297.4 337.58h1.0v8.41h-1.0zM304.4 337.58h1.0v8.41h-1.0zM297.4 345.99h1.0v8.41h-1.0zM291.4 354.40h1.0v8.41h-1.0zM296.4 379.63h1.0v8.41h-1.0zM271.4 388.04h1.0v8.41h-1.0zM305.4 396.45h1.0v8.41h-1.0zM278.4 413.27h2.0v8.41h-2.0zM268.4 421.68h1.0v8.41h-1.0zM356.5 455.32h2.0v8.41h-2.0zM358.5 455.32h1.0v8.41h-1.0zM358.5 472.14h1.0v8.41h-1.0zM353.5 480.55h1.0v8.41h-1.0zM364.5 488.96h1.0v8.41h-1.0zM349.5 497.37h1.0v8.41h-1.0zM367.5 497.37h2.0v8.41h-2.0zM340.5 505.78h2.0v8.41h-2.0zM343.5 514.19h1.0v8.41h-1.0zM346.5 522.60h1.0v8.41h-1.0zM349.5 522.60h1.0v8.41h-1.0zM367.5 522.60h1.0v8.41h-1.0zM326.5 539.42h1.0v8.41h-1.0zM349.5 539.42h1.0v8.41h-1.0zM321.5 564.65h1.0v8.41h-1.0zM370.5 573.06h1.0v8.41h-1.0zM354.5 606.70h2.0v8.41h-2.0z"/>
<path fill="#ffd070" d="M261.0 18.00h1.0v8.41h-1.0zM230.0 26.41h1.0v8.41h-1.0zM258.0 34.82h1.0v8.41h-1.0zM259.0 34.82h1.0v8.41h-1.0zM250.0 43.23h1.0v8.41h-1.0zM252.0 43.23h1.0v8.41h-1.0zM222.0 51.64h2.0v8.41h-2.0zM254.0 51.64h1.0v8.41h-1.0zM264.0 51.64h1.0v8.41h-1.0zM216.0 60.05h1.0v8.41h-1.0zM217.0 68.46h1.0v8.41h-1.0zM232.0 68.46h1.0v8.41h-1.0zM246.0 93.69h1.0v8.41h-1.0zM217.0 102.10h1.0v8.41h-1.0zM248.0 110.51h2.0v8.41h-2.0zM264.0 110.51h1.0v8.41h-1.0zM248.0 118.92h2.0v8.41h-2.0zM232.0 127.33h1.0v8.41h-1.0zM248.0 127.33h1.0v8.41h-1.0zM220.0 144.15h1.0v8.41h-1.0zM225.0 144.15h1.0v8.41h-1.0zM215.0 152.56h1.0v8.41h-1.0zM217.0 152.56h1.0v8.41h-1.0zM225.0 160.97h2.0v8.41h-2.0zM239.0 160.97h2.0v8.41h-2.0zM247.0 169.38h2.0v8.41h-2.0zM230.0 186.20h1.0v8.41h-1.0zM232.0 211.43h1.0v8.41h-1.0zM220.0 236.66h1.0v8.41h-1.0zM314.4 261.89h1.0v8.41h-1.0zM265.4 270.30h1.0v8.41h-1.0zM275.4 287.12h1.0v8.41h-1.0zM293.4 287.12h1.0v8.41h-1.0zM305.4 287.12h2.0v8.41h-2.0zM276.4 295.53h1.0v8.41h-1.0zM289.4 303.94h1.0v8.41h-1.0zM295.4 303.94h1.0v8.41h-1.0zM302.4 303.94h1.0v8.41h-1.0zM278.4 312.35h1.0v8.41h-1.0zM291.4 312.35h1.0v8.41h-1.0zM286.4 320.76h1.0v8.41h-1.0zM291.4 337.58h1.0v8.41h-1.0zM284.4 354.40h1.0v8.41h-1.0zM300.4 354.40h2.0v8.41h-2.0zM311.4 354.40h1.0v8.41h-1.0zM310.4 379.63h1.0v8.41h-1.0zM290.4 388.04h2.0v8.41h-2.0zM280.4 404.86h1.0v8.41h-1.0zM284.4 421.68h1.0v8.41h-1.0zM332.5 480.55h2.0v8.41h-2.0zM332.5 497.37h1.0v8.41h-1.0zM341.5 497.37h1.0v8.41h-1.0zM358.5 522.60h2.0v8.41h-2.0zM342.5 539.42h2.0v8.41h-2.0zM361.5 539.42h1.0v8.41h-1.0zM339.5 547.83h2.0v8.41h-2.0zM343.5 573.06h1.0v8.41h-1.0zM357.5 573.06h1.0v8.41h-1.0zM345.5 581.47h1.0v8.41h-1.0zM347.5 589.88h1.0v8.41h-1.0zM333.5 598.29h1.0v8.41h-1.0zM364.5 598.29h1.0v8.41h-1.0zM329.5 623.52h1.0v8.41h-1.0z"/>
<path fill="#c8d8f0" d="M275.4 18.00h1.0v8.41h-1.0zM282.4 18.00h1.0v8.41h-1.0zM290.4 18.00h1.0v8.41h-1.0zM345.5 18.00h1.0v8.41h-1.0zM334.5 26.41h1.0v8.41h-1.0zM342.5 26.41h1.0v8.41h-1.0zM298.4 34.82h1.0v8.41h-1.0zM281.4 51.64h1.0v8.41h-1.0zM291.4 51.64h1.0v8.41h-1.0zM358.5 51.64h1.0v8.41h-1.0zM292.4 60.05h1.0v8.41h-1.0zM351.5 60.05h1.0v8.41h-1.0zM275.4 68.46h1.0v8.41h-1.0zM277.4 68.46h1.0v8.41h-1.0zM291.4 68.46h1.0v8.41h-1.0zM332.5 68.46h1.0v8.41h-1.0zM370.5 68.46h1.0v8.41h-1.0zM267.4 76.87h1.0v8.41h-1.0zM290.4 76.87h1.0v8.41h-1.0zM311.4 76.87h1.0v8.41h-1.0zM351.5 76.87h1.0v8.41h-1.0zM359.5 76.87h1.0v8.41h-1.0zM349.5 93.69h1.0v8.41h-1.0zM319.5 102.10h1.0v8.41h-1.0zM290.4 110.51h1.0v8.41h-1.0zM369.5 110.51h1.0v8.41h-1.0zM287.4 118.92h1.0v8.41h-1.0zM279.4 127.33h1.0v8.41h-1.0zM315.5 127.33h1.0v8.41h-1.0zM363.5 127.33h1.0v8.41h-1.0zM311.4 169.38h1.0v8.41h-1.0zM369.5 177.79h1.0v8.41h-1.0zM275.4 211.43h1.0v8.41h-1.0zM326.5 253.48h1.0v8.41h-1.0zM369.5 253.48h1.0v8.41h-1.0zM248.0 261.89h1.0v8.41h-1.0zM261.0 261.89h1.0v8.41h-1.0zM217.0 270.30h1.0v8.41h-1.0zM337.5 278.71h1.0v8.41h-1.0zM361.5 278.71h1.0v8.41h-1.0zM367.5 278.71h1.0v8.41h-1.0zM370.5 278.71h1.0v8.41h-1.0zM237.0 287.12h1.0v8.41h-1.0zM242.0 287.12h1.0v8.41h-1.0zM252.0 287.12h1.0v8.41h-1.0zM264.0 287.12h1.0v8.41h-1.0zM356.5 287.12h1.0v8.41h-1.0zM263.0 295.53h1.0v8.41h-1.0zM332.5 295.53h1.0v8.41h-1.0zM246.0 312.35h1.0v8.41h-1.0zM252.0 312.35h1.0v8.41h-1.0zM246.0 329.17h1.0v8.41h-1.0zM257.0 337.58h1.0v8.41h-1.0zM345.5 337.58h1.0v8.41h-1.0zM318.5 345.99h1.0v8.41h-1.0zM319.5 345.99h1.0v8.41h-1.0zM374.5 345.99h1.0v8.41h-1.0zM227.0 354.40h1.0v8.41h-1.0zM251.0 388.04h1.0v8.41h-1.0zM258.0 388.04h1.0v8.41h-1.0zM235.0 396.45h1.0v8.41h-1.0zM242.0 396.45h1.0v8.41h-1.0zM340.5 396.45h1.0v8.41h-1.0zM343.5 396.45h1.0v8.41h-1.0zM349.5 396.45h1.0v8.41h-1.0zM264.0 404.86h1.0v8.41h-1.0zM248.0 413.27h1.0v8.41h-1.0zM340.5 430.09h1.0v8.41h-1.0zM357.5 430.09h1.0v8.41h-1.0zM339.5 438.50h1.0v8.41h-1.0zM216.0 455.32h1.0v8.41h-1.0zM256.0 455.32h1.0v8.41h-1.0zM311.4 455.32h1.0v8.41h-1.0zM232.0 463.73h1.0v8.41h-1.0zM239.0 463.73h1.0v8.41h-1.0zM242.0 463.73h1.0v8.41h-1.0zM261.0 463.73h1.0v8.41h-1.0zM308.4 463.73h1.0v8.41h-1.0zM310.4 463.73h1.0v8.41h-1.0zM235.0 472.14h1.0v8.41h-1.0zM255.0 472.14h1.0v8.41h-1.0zM288.4 472.14h1.0v8.41h-1.0zM304.4 472.14h1.0v8.41h-1.0zM279.4 480.55h1.0v8.41h-1.0zM239.0 488.96h1.0v8.41h-1.0zM240.0 488.96h1.0v8.41h-1.0zM270.4 488.96h1.0v8.41h-1.0zM272.4 488.96h1.0v8.41h-1.0zM275.4 488.96h1.0v8.41h-1.0zM290.4 488.96h1.0v8.41h-1.0zM291.4 488.96h1.0v8.41h-1.0zM293.4 488.96h1.0v8.41h-1.0zM314.4 488.96h1.0v8.41h-1.0zM229.0 497.37h1.0v8.41h-1.0zM235.0 497.37h1.0v8.41h-1.0zM241.0 497.37h1.0v8.41h-1.0zM252.0 497.37h1.0v8.41h-1.0zM271.4 497.37h1.0v8.41h-1.0zM275.4 497.37h1.0v8.41h-1.0zM260.0 505.78h1.0v8.41h-1.0zM311.4 505.78h1.0v8.41h-1.0zM313.4 522.60h1.0v8.41h-1.0zM275.4 531.01h1.0v8.41h-1.0zM276.4 531.01h1.0v8.41h-1.0zM297.4 531.01h1.0v8.41h-1.0zM246.0 539.42h1.0v8.41h-1.0zM300.4 547.83h1.0v8.41h-1.0zM236.0 556.24h1.0v8.41h-1.0zM251.0 556.24h1.0v8.41h-1.0zM252.0 556.24h1.0v8.41h-1.0zM261.0 556.24h1.0v8.41h-1.0zM225.0 564.65h1.0v8.41h-1.0zM288.4 564.65h1.0v8.41h-1.0zM244.0 573.06h1.0v8.41h-1.0zM290.4 573.06h1.0v8.41h-1.0zM297.4 573.06h1.0v8.41h-1.0zM239.0 598.29h1.0v8.41h-1.0zM217.0 606.70h1.0v8.41h-1.0zM251.0 606.70h1.0v8.41h-1.0zM293.4 606.70h1.0v8.41h-1.0zM223.0 615.11h1.0v8.41h-1.0z"/>
<path fill="#b08858" d="M280.4 18.00h1.0v8.41h-1.0zM333.5 18.00h1.0v8.41h-1.0zM271.4 34.82h1.0v8.41h-1.0zM305.4 34.82h1.0v8.41h-1.0zM308.4 34.82h1.0v8.41h-1.0zM282.4 43.23h1.0v8.41h-1.0zM333.5 43.23h1.0v8.41h-1.0zM315.5 60.05h1.0v8.41h-1.0zM374.5 60.05h1.0v8.41h-1.0zM274.4 68.46h1.0v8.41h-1.0zM278.4 68.46h1.0v8.41h-1.0zM297.4 68.46h1.0v8.41h-1.0zM308.4 76.87h1.0v8.41h-1.0zM345.5 76.87h1.0v8.41h-1.0zM367.5 76.87h1.0v8.41h-1.0zM375.5 76.87h1.0v8.41h-1.0zM307.4 102.10h1.0v8.41h-1.0zM298.4 118.92h1.0v8.41h-1.0zM325.5 135.74h1.0v8.41h-1.0zM307.4 144.15h1.0v8.41h-1.0zM349.5 144.15h1.0v8.41h-1.0zM350.5 203.02h1.0v8.41h-1.0zM243.0 270.30h1.0v8.41h-1.0zM246.0 270.30h1.0v8.41h-1.0zM349.5 270.30h1.0v8.41h-1.0zM368.5 270.30h1.0v8.41h-1.0zM251.0 287.12h1.0v8.41h-1.0zM346.5 287.12h1.0v8.41h-1.0zM342.5 295.53h1.0v8.41h-1.0zM345.5 295.53h1.0v8.41h-1.0zM349.5 295.53h1.0v8.41h-1.0zM350.5 303.94h1.0v8.41h-1.0zM374.5 303.94h1.0v8.41h-1.0zM350.5 329.17h1.0v8.41h-1.0zM230.0 337.58h1.0v8.41h-1.0zM363.5 337.58h1.0v8.41h-1.0zM340.5 354.40h1.0v8.41h-1.0zM342.5 362.81h1.0v8.41h-1.0zM365.5 362.81h1.0v8.41h-1.0zM365.5 388.04h1.0v8.41h-1.0zM239.0 396.45h1.0v8.41h-1.0zM246.0 396.45h1.0v8.41h-1.0zM261.0 396.45h1.0v8.41h-1.0zM264.0 396.45h1.0v8.41h-1.0zM325.5 396.45h1.0v8.41h-1.0zM348.5 396.45h1.0v8.41h-1.0zM350.5 396.45h1.0v8.41h-1.0zM321.5 413.27h1.0v8.41h-1.0zM362.5 421.68h1.0v8.41h-1.0zM263.0 430.09h1.0v8.41h-1.0zM223.0 480.55h1.0v8.41h-1.0zM217.0 505.78h1.0v8.41h-1.0zM238.0 505.78h1.0v8.41h-1.0zM275.4 505.78h1.0v8.41h-1.0zM286.4 505.78h1.0v8.41h-1.0zM230.0 514.19h1.0v8.41h-1.0zM221.0 522.60h1.0v8.41h-1.0zM258.0 522.60h1.0v8.41h-1.0zM220.0 531.01h1.0v8.41h-1.0zM238.0 547.83h1.0v8.41h-1.0zM230.0 556.24h1.0v8.41h-1.0zM246.0 556.24h1.0v8.41h-1.0zM273.4 556.24h1.0v8.41h-1.0zM308.4 556.24h1.0v8.41h-1.0zM311.4 556.24h1.0v8.41h-1.0zM217.0 564.65h1.0v8.41h-1.0zM232.0 564.65h1.0v8.41h-1.0zM248.0 573.06h1.0v8.41h-1.0zM271.4 589.88h1.0v8.41h-1.0zM252.0 598.29h1.0v8.41h-1.0zM264.0 598.29h1.0v8.41h-1.0zM269.4 606.70h1.0v8.41h-1.0zM216.0 615.11h1.0v8.41h-1.0zM258.0 615.11h1.0v8.41h-1.0zM239.0 623.52h1.0v8.41h-1.0z"/>
<path fill="#e0b060" d="M296.4 18.00h1.0v8.41h-1.0zM314.4 18.00h1.0v8.41h-1.0zM358.5 18.00h1.0v8.41h-1.0zM291.4 26.41h1.0v8.41h-1.0zM268.4 34.82h1.0v8.41h-1.0zM307.4 34.82h1.0v8.41h-1.0zM367.5 34.82h1.0v8.41h-1.0zM325.5 43.23h1.0v8.41h-1.0zM311.4 51.64h1.0v8.41h-1.0zM312.4 51.64h1.0v8.41h-1.0zM307.4 68.46h1.0v8.41h-1.0zM330.5 68.46h1.0v8.41h-1.0zM284.4 76.87h1.0v8.41h-1.0zM297.4 76.87h1.0v8.41h-1.0zM275.4 93.69h1.0v8.41h-1.0zM332.5 110.51h1.0v8.41h-1.0zM311.4 118.92h1.0v8.41h-1.0zM278.4 127.33h1.0v8.41h-1.0zM278.4 135.74h1.0v8.41h-1.0zM287.4 144.15h1.0v8.41h-1.0zM308.4 152.56h1.0v8.41h-1.0zM345.5 169.38h1.0v8.41h-1.0zM290.4 186.20h1.0v8.41h-1.0zM325.5 211.43h1.0v8.41h-1.0zM353.5 219.84h1.0v8.41h-1.0zM242.0 261.89h1.0v8.41h-1.0zM264.0 261.89h1.0v8.41h-1.0zM235.0 270.30h1.0v8.41h-1.0zM252.0 270.30h1.0v8.41h-1.0zM245.0 278.71h1.0v8.41h-1.0zM360.5 278.71h1.0v8.41h-1.0zM250.0 287.12h1.0v8.41h-1.0zM219.0 295.53h1.0v8.41h-1.0zM370.5 312.35h1.0v8.41h-1.0zM242.0 337.58h1.0v8.41h-1.0zM242.0 354.40h1.0v8.41h-1.0zM349.5 354.40h1.0v8.41h-1.0zM252.0 371.22h1.0v8.41h-1.0zM229.0 379.63h1.0v8.41h-1.0zM251.0 396.45h1.0v8.41h-1.0zM255.0 396.45h1.0v8.41h-1.0zM367.5 396.45h1.0v8.41h-1.0zM342.5 430.09h1.0v8.41h-1.0zM246.0 438.50h1.0v8.41h-1.0zM261.0 438.50h1.0v8.41h-1.0zM232.0 446.91h1.0v8.41h-1.0zM374.5 446.91h1.0v8.41h-1.0zM243.0 514.19h1.0v8.41h-1.0zM250.0 514.19h1.0v8.41h-1.0zM297.4 514.19h1.0v8.41h-1.0zM232.0 522.60h1.0v8.41h-1.0zM246.0 522.60h1.0v8.41h-1.0zM290.4 522.60h1.0v8.41h-1.0zM308.4 522.60h1.0v8.41h-1.0zM248.0 531.01h1.0v8.41h-1.0zM286.4 547.83h1.0v8.41h-1.0zM264.0 556.24h1.0v8.41h-1.0zM264.0 564.65h1.0v8.41h-1.0zM219.0 573.06h1.0v8.41h-1.0zM309.4 581.47h1.0v8.41h-1.0zM229.0 589.88h1.0v8.41h-1.0zM246.0 589.88h1.0v8.41h-1.0zM278.4 589.88h1.0v8.41h-1.0zM281.4 589.88h1.0v8.41h-1.0zM216.0 606.70h1.0v8.41h-1.0zM290.4 606.70h1.0v8.41h-1.0zM220.0 615.11h1.0v8.41h-1.0zM278.4 615.11h1.0v8.41h-1.0zM286.4 615.11h1.0v8.41h-1.0zM243.0 623.52h1.0v8.41h-1.0zM314.4 623.52h1.0v8.41h-1.0z"/>
<path fill="#d09040" d="M297.4 18.00h1.0v8.41h-1.0zM351.5 18.00h1.0v8.41h-1.0zM374.5 18.00h1.0v8.41h-1.0zM297.4 43.23h1.0v8.41h-1.0zM342.5 60.05h1.0v8.41h-1.0zM271.4 68.46h1.0v8.41h-1.0zM322.5 68.46h1.0v8.41h-1.0zM341.5 68.46h1.0v8.41h-1.0zM302.4 76.87h1.0v8.41h-1.0zM358.5 76.87h1.0v8.41h-1.0zM281.4 85.28h1.0v8.41h-1.0zM312.4 85.28h1.0v8.41h-1.0zM375.5 85.28h1.0v8.41h-1.0zM359.5 93.69h1.0v8.41h-1.0zM360.5 93.69h1.0v8.41h-1.0zM275.4 102.10h1.0v8.41h-1.0zM311.4 102.10h1.0v8.41h-1.0zM359.5 102.10h1.0v8.41h-1.0zM290.4 118.92h1.0v8.41h-1.0zM311.4 127.33h1.0v8.41h-1.0zM359.5 152.56h1.0v8.41h-1.0zM286.4 169.38h1.0v8.41h-1.0zM368.5 186.20h1.0v8.41h-1.0zM278.4 228.25h1.0v8.41h-1.0zM275.4 236.66h1.0v8.41h-1.0zM242.0 253.48h1.0v8.41h-1.0zM235.0 261.89h1.0v8.41h-1.0zM332.5 261.89h1.0v8.41h-1.0zM349.5 261.89h1.0v8.41h-1.0zM369.5 261.89h1.0v8.41h-1.0zM315.5 270.30h1.0v8.41h-1.0zM234.0 278.71h1.0v8.41h-1.0zM349.5 278.71h1.0v8.41h-1.0zM232.0 287.12h1.0v8.41h-1.0zM234.0 287.12h1.0v8.41h-1.0zM248.0 287.12h1.0v8.41h-1.0zM332.5 287.12h1.0v8.41h-1.0zM342.5 287.12h1.0v8.41h-1.0zM345.5 287.12h1.0v8.41h-1.0zM230.0 295.53h1.0v8.41h-1.0zM319.5 295.53h1.0v8.41h-1.0zM217.0 303.94h1.0v8.41h-1.0zM243.0 303.94h1.0v8.41h-1.0zM239.0 312.35h1.0v8.41h-1.0zM256.0 312.35h1.0v8.41h-1.0zM242.0 329.17h1.0v8.41h-1.0zM325.5 337.58h1.0v8.41h-1.0zM342.5 337.58h1.0v8.41h-1.0zM372.5 337.58h1.0v8.41h-1.0zM237.0 345.99h1.0v8.41h-1.0zM252.0 354.40h1.0v8.41h-1.0zM219.0 396.45h1.0v8.41h-1.0zM261.0 421.68h1.0v8.41h-1.0zM362.5 446.91h1.0v8.41h-1.0zM248.0 505.78h1.0v8.41h-1.0zM299.4 505.78h1.0v8.41h-1.0zM309.4 505.78h1.0v8.41h-1.0zM258.0 514.19h1.0v8.41h-1.0zM278.4 522.60h1.0v8.41h-1.0zM286.4 522.60h1.0v8.41h-1.0zM239.0 531.01h1.0v8.41h-1.0zM264.0 539.42h1.0v8.41h-1.0zM269.4 539.42h1.0v8.41h-1.0zM261.0 547.83h1.0v8.41h-1.0zM258.0 556.24h1.0v8.41h-1.0zM217.0 573.06h1.0v8.41h-1.0zM267.4 573.06h1.0v8.41h-1.0zM248.0 606.70h1.0v8.41h-1.0zM307.4 606.70h1.0v8.41h-1.0zM217.0 615.11h1.0v8.41h-1.0zM232.0 615.11h1.0v8.41h-1.0zM239.0 615.11h1.0v8.41h-1.0zM305.4 615.11h1.0v8.41h-1.0z"/>
<path fill="#8aa8e0" d="M309.4 18.00h1.0v8.41h-1.0zM357.5 18.00h1.0v8.41h-1.0zM268.4 26.41h1.0v8.41h-1.0zM311.4 26.41h1.0v8.41h-1.0zM278.4 34.82h1.0v8.41h-1.0zM296.4 43.23h1.0v8.41h-1.0zM268.4 68.46h1.0v8.41h-1.0zM313.4 68.46h1.0v8.41h-1.0zM347.5 68.46h1.0v8.41h-1.0zM349.5 68.46h1.0v8.41h-1.0zM371.5 68.46h1.0v8.41h-1.0zM271.4 76.87h1.0v8.41h-1.0zM274.4 76.87h1.0v8.41h-1.0zM278.4 76.87h1.0v8.41h-1.0zM298.4 76.87h1.0v8.41h-1.0zM346.5 76.87h1.0v8.41h-1.0zM347.5 76.87h1.0v8.41h-1.0zM357.5 76.87h1.0v8.41h-1.0zM314.4 102.10h1.0v8.41h-1.0zM369.5 118.92h1.0v8.41h-1.0zM311.4 135.74h1.0v8.41h-1.0zM232.0 253.48h1.0v8.41h-1.0zM252.0 253.48h1.0v8.41h-1.0zM229.0 261.89h1.0v8.41h-1.0zM263.0 261.89h1.0v8.41h-1.0zM234.0 270.30h1.0v8.41h-1.0zM248.0 270.30h1.0v8.41h-1.0zM329.5 270.30h1.0v8.41h-1.0zM347.5 270.30h1.0v8.41h-1.0zM356.5 270.30h1.0v8.41h-1.0zM342.5 278.71h1.0v8.41h-1.0zM246.0 287.12h1.0v8.41h-1.0zM261.0 287.12h1.0v8.41h-1.0zM343.5 287.12h1.0v8.41h-1.0zM349.5 287.12h1.0v8.41h-1.0zM224.0 295.53h1.0v8.41h-1.0zM232.0 303.94h1.0v8.41h-1.0zM349.5 303.94h1.0v8.41h-1.0zM342.5 329.17h1.0v8.41h-1.0zM371.5 345.99h1.0v8.41h-1.0zM234.0 371.22h1.0v8.41h-1.0zM248.0 388.04h1.0v8.41h-1.0zM261.0 388.04h1.0v8.41h-1.0zM361.5 388.04h1.0v8.41h-1.0zM217.0 396.45h1.0v8.41h-1.0zM221.0 396.45h1.0v8.41h-1.0zM225.0 396.45h1.0v8.41h-1.0zM252.0 396.45h1.0v8.41h-1.0zM258.0 396.45h1.0v8.41h-1.0zM342.5 396.45h1.0v8.41h-1.0zM374.5 396.45h1.0v8.41h-1.0zM328.5 421.68h1.0v8.41h-1.0zM340.5 421.68h1.0v8.41h-1.0zM285.4 455.32h1.0v8.41h-1.0zM278.4 463.73h1.0v8.41h-1.0zM286.4 463.73h1.0v8.41h-1.0zM291.4 463.73h1.0v8.41h-1.0zM217.0 472.14h1.0v8.41h-1.0zM225.0 472.14h1.0v8.41h-1.0zM236.0 472.14h1.0v8.41h-1.0zM278.4 472.14h1.0v8.41h-1.0zM286.4 480.55h1.0v8.41h-1.0zM225.0 488.96h1.0v8.41h-1.0zM261.0 488.96h1.0v8.41h-1.0zM264.0 488.96h1.0v8.41h-1.0zM278.4 488.96h1.0v8.41h-1.0zM297.4 488.96h1.0v8.41h-1.0zM230.0 497.37h1.0v8.41h-1.0zM242.0 497.37h1.0v8.41h-1.0zM258.0 497.37h1.0v8.41h-1.0zM259.0 497.37h1.0v8.41h-1.0zM281.4 497.37h1.0v8.41h-1.0zM309.4 497.37h1.0v8.41h-1.0zM311.4 497.37h1.0v8.41h-1.0zM230.0 505.78h1.0v8.41h-1.0zM232.0 514.19h1.0v8.41h-1.0zM217.0 522.60h1.0v8.41h-1.0zM230.0 522.60h1.0v8.41h-1.0zM238.0 522.60h1.0v8.41h-1.0zM252.0 522.60h1.0v8.41h-1.0zM261.0 522.60h1.0v8.41h-1.0zM216.0 531.01h1.0v8.41h-1.0zM246.0 531.01h1.0v8.41h-1.0zM238.0 556.24h1.0v8.41h-1.0zM240.0 556.24h1.0v8.41h-1.0zM275.4 556.24h1.0v8.41h-1.0zM278.4 556.24h1.0v8.41h-1.0zM294.4 556.24h1.0v8.41h-1.0zM297.4 556.24h1.0v8.41h-1.0zM219.0 564.65h1.0v8.41h-1.0zM230.0 564.65h1.0v8.41h-1.0zM240.0 564.65h1.0v8.41h-1.0zM242.0 564.65h1.0v8.41h-1.0zM314.4 581.47h1.0v8.41h-1.0zM263.0 589.88h1.0v8.41h-1.0zM275.4 606.70h1.0v8.41h-1.0zM277.4 606.70h1.0v8.41h-1.0zM308.4 606.70h1.0v8.41h-1.0z"/>
<path fill="#e8ecf4" d="M332.5 18.00h1.0v8.41h-1.0zM341.5 18.00h1.0v8.41h-1.0zM300.4 51.64h1.0v8.41h-1.0zM342.5 51.64h1.0v8.41h-1.0zM353.5 51.64h1.0v8.41h-1.0zM346.5 60.05h1.0v8.41h-1.0zM312.4 68.46h1.0v8.41h-1.0zM329.5 68.46h1.0v8.41h-1.0zM345.5 68.46h1.0v8.41h-1.0zM363.5 68.46h1.0v8.41h-1.0zM338.5 76.87h1.0v8.41h-1.0zM352.5 76.87h1.0v8.41h-1.0zM313.4 85.28h1.0v8.41h-1.0zM272.4 102.10h1.0v8.41h-1.0zM305.4 102.10h1.0v8.41h-1.0zM340.5 102.10h1.0v8.41h-1.0zM275.4 110.51h1.0v8.41h-1.0zM339.5 127.33h1.0v8.41h-1.0zM291.4 135.74h1.0v8.41h-1.0zM319.5 152.56h1.0v8.41h-1.0zM357.5 253.48h1.0v8.41h-1.0zM252.0 261.89h1.0v8.41h-1.0zM367.5 270.30h1.0v8.41h-1.0zM242.0 278.71h1.0v8.41h-1.0zM340.5 278.71h1.0v8.41h-1.0zM345.5 278.71h1.0v8.41h-1.0zM230.0 287.12h1.0v8.41h-1.0zM367.5 287.12h1.0v8.41h-1.0zM370.5 287.12h1.0v8.41h-1.0zM252.0 295.53h1.0v8.41h-1.0zM325.5 295.53h1.0v8.41h-1.0zM333.5 295.53h1.0v8.41h-1.0zM367.5 295.53h1.0v8.41h-1.0zM370.5 303.94h1.0v8.41h-1.0zM217.0 312.35h1.0v8.41h-1.0zM342.5 312.35h1.0v8.41h-1.0zM216.0 337.58h1.0v8.41h-1.0zM261.0 345.99h1.0v8.41h-1.0zM335.5 345.99h1.0v8.41h-1.0zM349.5 345.99h1.0v8.41h-1.0zM256.0 354.40h1.0v8.41h-1.0zM344.5 354.40h1.0v8.41h-1.0zM216.0 396.45h1.0v8.41h-1.0zM319.5 396.45h1.0v8.41h-1.0zM339.5 396.45h1.0v8.41h-1.0zM264.0 430.09h1.0v8.41h-1.0zM230.0 446.91h1.0v8.41h-1.0zM233.0 455.32h1.0v8.41h-1.0zM235.0 455.32h1.0v8.41h-1.0zM263.0 455.32h1.0v8.41h-1.0zM278.4 455.32h1.0v8.41h-1.0zM229.0 463.73h1.0v8.41h-1.0zM263.0 463.73h1.0v8.41h-1.0zM267.4 463.73h1.0v8.41h-1.0zM274.4 463.73h1.0v8.41h-1.0zM290.4 463.73h1.0v8.41h-1.0zM227.0 472.14h1.0v8.41h-1.0zM264.0 472.14h1.0v8.41h-1.0zM268.4 472.14h1.0v8.41h-1.0zM275.4 472.14h1.0v8.41h-1.0zM285.4 472.14h1.0v8.41h-1.0zM290.4 472.14h1.0v8.41h-1.0zM230.0 488.96h1.0v8.41h-1.0zM260.0 488.96h1.0v8.41h-1.0zM232.0 497.37h1.0v8.41h-1.0zM246.0 497.37h1.0v8.41h-1.0zM248.0 497.37h1.0v8.41h-1.0zM279.4 497.37h1.0v8.41h-1.0zM291.4 497.37h1.0v8.41h-1.0zM262.0 505.78h1.0v8.41h-1.0zM219.0 514.19h1.0v8.41h-1.0zM290.4 514.19h1.0v8.41h-1.0zM227.0 522.60h1.0v8.41h-1.0zM264.0 522.60h1.0v8.41h-1.0zM238.0 531.01h1.0v8.41h-1.0zM254.0 531.01h1.0v8.41h-1.0zM282.4 539.42h1.0v8.41h-1.0zM230.0 547.83h1.0v8.41h-1.0zM304.4 547.83h1.0v8.41h-1.0zM314.4 547.83h1.0v8.41h-1.0zM290.4 556.24h1.0v8.41h-1.0zM291.4 556.24h1.0v8.41h-1.0zM297.4 564.65h1.0v8.41h-1.0zM311.4 564.65h1.0v8.41h-1.0zM246.0 573.06h1.0v8.41h-1.0zM279.4 581.47h1.0v8.41h-1.0zM290.4 581.47h1.0v8.41h-1.0zM275.4 598.29h1.0v8.41h-1.0zM258.0 623.52h1.0v8.41h-1.0z"/>
<path fill="#a08a70" d="M350.5 18.00h1.0v8.41h-1.0zM313.4 26.41h1.0v8.41h-1.0zM282.4 34.82h1.0v8.41h-1.0zM364.5 34.82h1.0v8.41h-1.0zM349.5 43.23h1.0v8.41h-1.0zM315.5 51.64h1.0v8.41h-1.0zM275.4 60.05h1.0v8.41h-1.0zM308.4 68.46h1.0v8.41h-1.0zM328.5 68.46h1.0v8.41h-1.0zM338.5 68.46h1.0v8.41h-1.0zM342.5 68.46h1.0v8.41h-1.0zM270.4 76.87h1.0v8.41h-1.0zM275.4 76.87h1.0v8.41h-1.0zM291.4 76.87h1.0v8.41h-1.0zM293.4 76.87h1.0v8.41h-1.0zM321.5 76.87h1.0v8.41h-1.0zM332.5 76.87h1.0v8.41h-1.0zM342.5 76.87h1.0v8.41h-1.0zM349.5 76.87h1.0v8.41h-1.0zM350.5 76.87h1.0v8.41h-1.0zM362.5 76.87h1.0v8.41h-1.0zM293.4 102.10h1.0v8.41h-1.0zM332.5 102.10h1.0v8.41h-1.0zM333.5 102.10h1.0v8.41h-1.0zM329.5 127.33h1.0v8.41h-1.0zM330.5 127.33h1.0v8.41h-1.0zM278.4 144.15h1.0v8.41h-1.0zM311.4 144.15h1.0v8.41h-1.0zM297.4 160.97h1.0v8.41h-1.0zM275.4 186.20h1.0v8.41h-1.0zM341.5 194.61h1.0v8.41h-1.0zM305.4 211.43h1.0v8.41h-1.0zM313.4 211.43h1.0v8.41h-1.0zM367.5 211.43h1.0v8.41h-1.0zM296.4 219.84h1.0v8.41h-1.0zM349.5 219.84h1.0v8.41h-1.0zM370.5 219.84h1.0v8.41h-1.0zM297.4 228.25h1.0v8.41h-1.0zM333.5 236.66h1.0v8.41h-1.0zM235.0 253.48h1.0v8.41h-1.0zM359.5 253.48h1.0v8.41h-1.0zM219.0 261.89h1.0v8.41h-1.0zM230.0 261.89h1.0v8.41h-1.0zM345.5 270.30h1.0v8.41h-1.0zM239.0 278.71h1.0v8.41h-1.0zM255.0 278.71h1.0v8.41h-1.0zM371.5 278.71h1.0v8.41h-1.0zM217.0 287.12h1.0v8.41h-1.0zM228.0 287.12h1.0v8.41h-1.0zM235.0 287.12h1.0v8.41h-1.0zM333.5 287.12h1.0v8.41h-1.0zM348.5 287.12h1.0v8.41h-1.0zM375.5 287.12h1.0v8.41h-1.0zM264.0 295.53h1.0v8.41h-1.0zM359.5 295.53h1.0v8.41h-1.0zM235.0 303.94h1.0v8.41h-1.0zM252.0 303.94h1.0v8.41h-1.0zM264.0 303.94h1.0v8.41h-1.0zM337.5 303.94h1.0v8.41h-1.0zM248.0 312.35h1.0v8.41h-1.0zM248.0 329.17h1.0v8.41h-1.0zM248.0 337.58h1.0v8.41h-1.0zM332.5 337.58h1.0v8.41h-1.0zM349.5 337.58h1.0v8.41h-1.0zM366.5 337.58h1.0v8.41h-1.0zM368.5 337.58h1.0v8.41h-1.0zM235.0 354.40h1.0v8.41h-1.0zM246.0 354.40h1.0v8.41h-1.0zM333.5 354.40h1.0v8.41h-1.0zM258.0 371.22h1.0v8.41h-1.0zM374.5 371.22h1.0v8.41h-1.0zM215.0 379.63h1.0v8.41h-1.0zM242.0 379.63h1.0v8.41h-1.0zM230.0 396.45h1.0v8.41h-1.0zM232.0 396.45h1.0v8.41h-1.0zM248.0 396.45h1.0v8.41h-1.0zM326.5 396.45h1.0v8.41h-1.0zM332.5 396.45h1.0v8.41h-1.0zM250.0 413.27h1.0v8.41h-1.0zM239.0 421.68h1.0v8.41h-1.0zM225.0 446.91h1.0v8.41h-1.0zM359.5 446.91h1.0v8.41h-1.0zM217.0 455.32h1.0v8.41h-1.0zM219.0 455.32h1.0v8.41h-1.0zM242.0 455.32h1.0v8.41h-1.0zM246.0 455.32h1.0v8.41h-1.0zM217.0 463.73h1.0v8.41h-1.0zM230.0 463.73h1.0v8.41h-1.0zM235.0 463.73h1.0v8.41h-1.0zM258.0 463.73h1.0v8.41h-1.0zM294.4 463.73h1.0v8.41h-1.0zM221.0 472.14h1.0v8.41h-1.0zM224.0 472.14h1.0v8.41h-1.0zM229.0 472.14h1.0v8.41h-1.0zM248.0 472.14h1.0v8.41h-1.0zM224.0 488.96h1.0v8.41h-1.0zM252.0 488.96h1.0v8.41h-1.0zM263.0 488.96h1.0v8.41h-1.0zM274.4 488.96h1.0v8.41h-1.0zM311.4 488.96h1.0v8.41h-1.0zM228.0 497.37h1.0v8.41h-1.0zM239.0 497.37h1.0v8.41h-1.0zM298.4 497.37h1.0v8.41h-1.0zM306.4 497.37h1.0v8.41h-1.0zM246.0 505.78h1.0v8.41h-1.0zM261.0 505.78h1.0v8.41h-1.0zM264.0 505.78h1.0v8.41h-1.0zM234.0 547.83h1.0v8.41h-1.0zM281.4 547.83h1.0v8.41h-1.0zM250.0 556.24h1.0v8.41h-1.0zM286.4 556.24h1.0v8.41h-1.0zM287.4 556.24h1.0v8.41h-1.0zM302.4 573.06h1.0v8.41h-1.0z"/>
<path fill="#ff9a10" d="M220.0 26.41h1.0v8.41h-1.0zM232.0 26.41h1.0v8.41h-1.0zM234.0 26.41h1.0v8.41h-1.0zM246.0 26.41h1.0v8.41h-1.0zM248.0 34.82h1.0v8.41h-1.0zM263.0 43.23h1.0v8.41h-1.0zM235.0 51.64h1.0v8.41h-1.0zM262.0 51.64h1.0v8.41h-1.0zM232.0 76.87h1.0v8.41h-1.0zM246.0 85.28h1.0v8.41h-1.0zM222.0 102.10h2.0v8.41h-2.0zM216.0 118.92h1.0v8.41h-1.0zM250.0 160.97h1.0v8.41h-1.0zM235.0 186.20h1.0v8.41h-1.0zM254.0 194.61h1.0v8.41h-1.0zM224.0 236.66h1.0v8.41h-1.0zM268.4 253.48h1.0v8.41h-1.0zM268.4 261.89h1.0v8.41h-1.0zM307.4 261.89h2.0v8.41h-2.0zM287.4 270.30h1.0v8.41h-1.0zM278.4 278.71h1.0v8.41h-1.0zM313.4 278.71h1.0v8.41h-1.0zM290.4 287.12h1.0v8.41h-1.0zM311.4 295.53h1.0v8.41h-1.0zM313.4 295.53h1.0v8.41h-1.0zM279.4 312.35h1.0v8.41h-1.0zM272.4 320.76h2.0v8.41h-2.0zM272.4 329.17h2.0v8.41h-2.0zM278.4 345.99h1.0v8.41h-1.0zM290.4 345.99h1.0v8.41h-1.0zM296.4 354.40h1.0v8.41h-1.0zM271.4 362.81h1.0v8.41h-1.0zM274.4 362.81h2.0v8.41h-2.0zM307.4 362.81h1.0v8.41h-1.0zM275.4 379.63h1.0v8.41h-1.0zM314.4 379.63h1.0v8.41h-1.0zM313.4 396.45h1.0v8.41h-1.0zM265.4 404.86h2.0v8.41h-2.0zM277.4 404.86h1.0v8.41h-1.0zM286.4 421.68h1.0v8.41h-1.0zM315.5 455.32h1.0v8.41h-1.0zM361.5 455.32h1.0v8.41h-1.0zM332.5 472.14h1.0v8.41h-1.0zM345.5 472.14h1.0v8.41h-1.0zM349.5 472.14h1.0v8.41h-1.0zM374.5 472.14h1.0v8.41h-1.0zM367.5 480.55h1.0v8.41h-1.0zM336.5 488.96h1.0v8.41h-1.0zM342.5 505.78h1.0v8.41h-1.0zM333.5 514.19h1.0v8.41h-1.0zM359.5 514.19h1.0v8.41h-1.0zM342.5 522.60h1.0v8.41h-1.0zM320.5 539.42h1.0v8.41h-1.0zM356.5 556.24h1.0v8.41h-1.0zM358.5 556.24h1.0v8.41h-1.0zM367.5 573.06h1.0v8.41h-1.0zM358.5 606.70h1.0v8.41h-1.0z"/>
<path fill="#6a6a80" d="M252.0 26.41h1.0v8.41h-1.0zM232.0 43.23h1.0v8.41h-1.0zM234.0 43.23h1.0v8.41h-1.0zM237.0 51.64h1.0v8.41h-1.0zM242.0 51.64h1.0v8.41h-1.0zM246.0 51.64h1.0v8.41h-1.0zM248.0 60.05h1.0v8.41h-1.0zM251.0 60.05h1.0v8.41h-1.0zM246.0 68.46h1.0v8.41h-1.0zM263.0 76.87h1.0v8.41h-1.0zM262.0 93.69h1.0v8.41h-1.0zM232.0 102.10h1.0v8.41h-1.0zM239.0 102.10h1.0v8.41h-1.0zM230.0 110.51h1.0v8.41h-1.0zM232.0 110.51h1.0v8.41h-1.0zM252.0 110.51h1.0v8.41h-1.0zM261.0 118.92h1.0v8.41h-1.0zM219.0 127.33h1.0v8.41h-1.0zM264.0 135.74h1.0v8.41h-1.0zM258.0 152.56h1.0v8.41h-1.0zM263.0 152.56h2.0v8.41h-2.0zM246.0 160.97h1.0v8.41h-1.0zM263.0 160.97h1.0v8.41h-1.0zM232.0 169.38h2.0v8.41h-2.0zM242.0 177.79h1.0v8.41h-1.0zM260.0 177.79h1.0v8.41h-1.0zM256.0 186.20h1.0v8.41h-1.0zM238.0 203.02h1.0v8.41h-1.0zM250.0 203.02h1.0v8.41h-1.0zM263.0 211.43h1.0v8.41h-1.0zM219.0 219.84h2.0v8.41h-2.0zM232.0 228.25h1.0v8.41h-1.0zM219.0 236.66h1.0v8.41h-1.0zM228.0 236.66h1.0v8.41h-1.0zM261.0 236.66h1.0v8.41h-1.0zM216.0 245.07h1.0v8.41h-1.0zM224.0 245.07h1.0v8.41h-1.0zM241.0 245.07h1.0v8.41h-1.0zM253.0 245.07h1.0v8.41h-1.0zM266.4 270.30h1.0v8.41h-1.0zM274.4 295.53h1.0v8.41h-1.0zM278.4 295.53h1.0v8.41h-1.0zM303.4 320.76h2.0v8.41h-2.0zM298.4 329.17h1.0v8.41h-1.0zM272.4 337.58h2.0v8.41h-2.0zM279.4 345.99h1.0v8.41h-1.0zM308.4 354.40h1.0v8.41h-1.0zM296.4 371.22h1.0v8.41h-1.0zM272.4 379.63h1.0v8.41h-1.0zM303.4 379.63h1.0v8.41h-1.0zM275.4 388.04h2.0v8.41h-2.0zM289.4 388.04h1.0v8.41h-1.0zM291.4 396.45h1.0v8.41h-1.0zM308.4 404.86h1.0v8.41h-1.0zM277.4 413.27h1.0v8.41h-1.0zM297.4 413.27h1.0v8.41h-1.0zM269.4 421.68h1.0v8.41h-1.0zM298.4 421.68h1.0v8.41h-1.0zM278.4 430.09h1.0v8.41h-1.0zM297.4 430.09h2.0v8.41h-2.0zM278.4 438.50h1.0v8.41h-1.0zM303.4 438.50h2.0v8.41h-2.0zM272.4 446.91h1.0v8.41h-1.0zM323.5 455.32h1.0v8.41h-1.0zM342.5 463.73h2.0v8.41h-2.0zM357.5 472.14h1.0v8.41h-1.0zM363.5 472.14h1.0v8.41h-1.0zM324.5 480.55h1.0v8.41h-1.0zM320.5 488.96h1.0v8.41h-1.0zM340.5 488.96h1.0v8.41h-1.0zM345.5 505.78h1.0v8.41h-1.0zM317.5 514.19h1.0v8.41h-1.0zM332.5 514.19h1.0v8.41h-1.0zM332.5 522.60h1.0v8.41h-1.0zM324.5 539.42h1.0v8.41h-1.0zM328.5 556.24h2.0v8.41h-2.0zM370.5 564.65h2.0v8.41h-2.0zM349.5 581.47h1.0v8.41h-1.0zM366.5 581.47h1.0v8.41h-1.0zM357.5 589.88h1.0v8.41h-1.0zM319.5 598.29h2.0v8.41h-2.0zM344.5 598.29h1.0v8.41h-1.0zM371.5 598.29h1.0v8.41h-1.0zM342.5 606.70h2.0v8.41h-2.0zM370.5 606.70h1.0v8.41h-1.0zM375.5 615.11h1.0v8.41h-1.0zM324.5 623.52h1.0v8.41h-1.0zM345.5 623.52h1.0v8.41h-1.0zM373.5 623.52h1.0v8.41h-1.0z"/>
<path fill="#a08a78" d="M258.0 26.41h1.0v8.41h-1.0zM217.0 34.82h1.0v8.41h-1.0zM229.0 34.82h1.0v8.41h-1.0zM219.0 43.23h1.0v8.41h-1.0zM239.0 68.46h2.0v8.41h-2.0zM260.0 68.46h1.0v8.41h-1.0zM246.0 76.87h1.0v8.41h-1.0zM220.0 110.51h1.0v8.41h-1.0zM222.0 118.92h1.0v8.41h-1.0zM239.0 118.92h1.0v8.41h-1.0zM242.0 118.92h1.0v8.41h-1.0zM254.0 118.92h1.0v8.41h-1.0zM237.0 127.33h1.0v8.41h-1.0zM238.0 127.33h1.0v8.41h-1.0zM258.0 127.33h2.0v8.41h-2.0zM246.0 135.74h1.0v8.41h-1.0zM238.0 152.56h1.0v8.41h-1.0zM252.0 152.56h1.0v8.41h-1.0zM230.0 160.97h1.0v8.41h-1.0zM242.0 160.97h2.0v8.41h-2.0zM261.0 160.97h1.0v8.41h-1.0zM264.0 160.97h1.0v8.41h-1.0zM250.0 177.79h1.0v8.41h-1.0zM260.0 194.61h1.0v8.41h-1.0zM252.0 236.66h1.0v8.41h-1.0zM263.0 236.66h1.0v8.41h-1.0zM239.0 245.07h1.0v8.41h-1.0zM254.0 245.07h1.0v8.41h-1.0zM286.4 270.30h1.0v8.41h-1.0zM306.4 278.71h1.0v8.41h-1.0zM279.4 295.53h1.0v8.41h-1.0zM291.4 295.53h1.0v8.41h-1.0zM314.4 295.53h1.1v8.41h-1.1zM311.4 303.94h2.0v8.41h-2.0zM271.4 329.17h1.0v8.41h-1.0zM284.4 337.58h1.0v8.41h-1.0zM285.4 345.99h2.0v8.41h-2.0zM291.4 345.99h1.0v8.41h-1.0zM293.4 354.40h1.0v8.41h-1.0zM294.4 354.40h2.0v8.41h-2.0zM277.4 396.45h1.0v8.41h-1.0zM308.4 396.45h1.0v8.41h-1.0zM309.4 396.45h1.0v8.41h-1.0zM311.4 396.45h1.0v8.41h-1.0zM278.4 421.68h1.0v8.41h-1.0zM299.4 421.68h1.0v8.41h-1.0zM308.4 430.09h1.0v8.41h-1.0zM282.4 438.50h1.0v8.41h-1.0zM290.4 438.50h2.0v8.41h-2.0zM293.4 438.50h1.0v8.41h-1.0zM274.4 446.91h1.0v8.41h-1.0zM347.5 463.73h1.0v8.41h-1.0zM346.5 480.55h1.0v8.41h-1.0zM345.5 488.96h1.0v8.41h-1.0zM358.5 488.96h2.0v8.41h-2.0zM355.5 497.37h1.0v8.41h-1.0zM370.5 505.78h1.0v8.41h-1.0zM215.0 522.60h1.0v8.41h-1.0zM217.0 522.60h1.0v8.41h-1.0zM225.0 522.60h1.0v8.41h-1.0zM231.0 522.60h1.0v8.41h-1.0zM338.5 539.42h1.0v8.41h-1.0zM374.5 547.83h2.0v8.41h-2.0zM359.5 556.24h1.0v8.41h-1.0zM315.5 589.88h1.0v8.41h-1.0zM365.5 598.29h1.0v8.41h-1.0zM345.5 606.70h1.0v8.41h-1.0zM367.5 606.70h1.0v8.41h-1.0zM375.5 606.70h2.0v8.41h-2.0zM320.5 615.11h1.0v8.41h-1.0z"/>
<path fill="#fff0c8" d="M232.0 34.82h1.0v8.41h-1.0zM253.0 34.82h1.0v8.41h-1.0zM260.0 60.05h1.0v8.41h-1.0zM248.0 68.46h2.0v8.41h-2.0zM252.0 68.46h1.0v8.41h-1.0zM255.0 68.46h1.0v8.41h-1.0zM235.0 76.87h1.0v8.41h-1.0zM251.0 76.87h1.0v8.41h-1.0zM258.0 110.51h2.0v8.41h-2.0zM260.0 127.33h2.0v8.41h-2.0zM239.0 135.74h1.0v8.41h-1.0zM258.0 135.74h2.0v8.41h-2.0zM234.0 144.15h1.0v8.41h-1.0zM217.0 169.38h1.0v8.41h-1.0zM230.0 169.38h1.0v8.41h-1.0zM252.0 169.38h2.0v8.41h-2.0zM264.0 169.38h1.0v8.41h-1.0zM216.0 177.79h1.0v8.41h-1.0zM232.0 194.61h1.0v8.41h-1.0zM259.0 211.43h2.0v8.41h-2.0zM259.0 219.84h1.0v8.41h-1.0zM260.0 236.66h1.0v8.41h-1.0zM264.0 236.66h1.0v8.41h-1.0zM264.0 245.07h1.4v8.41h-1.4zM276.4 270.30h1.0v8.41h-1.0zM279.4 278.71h1.0v8.41h-1.0zM291.4 287.12h1.0v8.41h-1.0zM308.4 287.12h1.0v8.41h-1.0zM270.4 303.94h2.0v8.41h-2.0zM272.4 303.94h1.0v8.41h-1.0zM297.4 320.76h1.0v8.41h-1.0zM265.4 329.17h1.0v8.41h-1.0zM278.4 329.17h1.0v8.41h-1.0zM296.4 329.17h1.0v8.41h-1.0zM270.4 337.58h2.0v8.41h-2.0zM275.4 337.58h1.0v8.41h-1.0zM283.4 337.58h1.0v8.41h-1.0zM297.4 354.40h2.0v8.41h-2.0zM267.4 379.63h2.0v8.41h-2.0zM290.4 379.63h1.0v8.41h-1.0zM291.4 379.63h2.0v8.41h-2.0zM274.4 396.45h1.0v8.41h-1.0zM307.4 413.27h1.0v8.41h-1.0zM310.4 413.27h1.0v8.41h-1.0zM311.4 421.68h1.0v8.41h-1.0zM272.4 438.50h1.0v8.41h-1.0zM305.4 438.50h1.0v8.41h-1.0zM297.4 446.91h1.0v8.41h-1.0zM347.5 455.32h1.0v8.41h-1.0zM332.5 488.96h1.0v8.41h-1.0zM342.5 497.37h1.0v8.41h-1.0zM358.5 514.19h1.0v8.41h-1.0zM362.5 514.19h1.0v8.41h-1.0zM345.5 522.60h1.0v8.41h-1.0zM353.5 531.01h1.0v8.41h-1.0zM365.5 531.01h1.0v8.41h-1.0zM367.5 531.01h2.0v8.41h-2.0zM350.5 556.24h2.0v8.41h-2.0zM355.5 573.06h2.0v8.41h-2.0zM360.5 581.47h1.0v8.41h-1.0zM373.5 589.88h1.0v8.41h-1.0zM318.5 606.70h1.0v8.41h-1.0zM350.5 623.52h2.0v8.41h-2.0zM352.5 623.52h1.0v8.41h-1.0z"/>
<path fill="#2a4a9a" d="M246.0 34.82h1.0v8.41h-1.0zM264.0 43.23h1.0v8.41h-1.0zM219.0 68.46h1.0v8.41h-1.0zM234.0 76.87h1.0v8.41h-1.0zM237.0 85.28h1.0v8.41h-1.0zM263.0 85.28h1.0v8.41h-1.0zM264.0 85.28h1.0v8.41h-1.0zM258.0 93.69h1.0v8.41h-1.0zM242.0 102.10h1.0v8.41h-1.0zM239.0 110.51h1.0v8.41h-1.0zM242.0 110.51h1.0v8.41h-1.0zM246.0 110.51h2.0v8.41h-2.0zM232.0 118.92h1.0v8.41h-1.0zM234.0 118.92h1.0v8.41h-1.0zM237.0 118.92h1.0v8.41h-1.0zM252.0 118.92h1.0v8.41h-1.0zM263.0 118.92h2.0v8.41h-2.0zM264.0 144.15h1.4v8.41h-1.4zM254.0 169.38h1.0v8.41h-1.0zM246.0 177.79h1.0v8.41h-1.0zM220.0 186.20h1.0v8.41h-1.0zM264.0 186.20h1.0v8.41h-1.0zM264.0 194.61h1.0v8.41h-1.0zM219.0 203.02h1.0v8.41h-1.0zM242.0 203.02h2.0v8.41h-2.0zM251.0 203.02h1.0v8.41h-1.0zM257.0 203.02h1.0v8.41h-1.0zM235.0 219.84h2.0v8.41h-2.0zM252.0 219.84h1.0v8.41h-1.0zM258.0 219.84h1.0v8.41h-1.0zM242.0 228.25h1.0v8.41h-1.0zM217.0 236.66h1.0v8.41h-1.0zM236.0 236.66h1.0v8.41h-1.0zM239.0 236.66h1.0v8.41h-1.0zM217.0 245.07h2.0v8.41h-2.0zM250.0 245.07h1.0v8.41h-1.0zM272.4 253.48h1.0v8.41h-1.0zM312.4 270.30h1.0v8.41h-1.0zM286.4 278.71h1.0v8.41h-1.0zM294.4 312.35h1.0v8.41h-1.0zM297.4 312.35h1.0v8.41h-1.0zM290.4 320.76h1.0v8.41h-1.0zM269.4 329.17h1.0v8.41h-1.0zM280.4 329.17h1.0v8.41h-1.0zM297.4 329.17h1.0v8.41h-1.0zM308.4 329.17h1.0v8.41h-1.0zM272.4 345.99h1.0v8.41h-1.0zM275.4 345.99h1.0v8.41h-1.0zM293.4 345.99h1.0v8.41h-1.0zM273.4 354.40h1.0v8.41h-1.0zM285.4 354.40h1.0v8.41h-1.0zM287.4 362.81h1.0v8.41h-1.0zM311.4 362.81h1.0v8.41h-1.0zM312.4 371.22h1.0v8.41h-1.0zM270.4 379.63h1.0v8.41h-1.0zM286.4 388.04h1.0v8.41h-1.0zM271.4 396.45h1.0v8.41h-1.0zM275.4 396.45h1.0v8.41h-1.0zM274.4 404.86h1.0v8.41h-1.0zM286.4 404.86h2.0v8.41h-2.0zM295.4 413.27h1.0v8.41h-1.0zM298.4 413.27h2.0v8.41h-2.0zM308.4 421.68h1.0v8.41h-1.0zM287.4 430.09h1.0v8.41h-1.0zM290.4 430.09h2.0v8.41h-2.0zM283.4 438.50h1.0v8.41h-1.0zM349.5 480.55h1.0v8.41h-1.0zM367.5 488.96h1.0v8.41h-1.0zM336.5 505.78h2.0v8.41h-2.0zM343.5 505.78h1.0v8.41h-1.0zM349.5 514.19h2.0v8.41h-2.0zM367.5 514.19h1.0v8.41h-1.0zM367.5 539.42h1.0v8.41h-1.0zM368.5 581.47h2.0v8.41h-2.0zM374.5 581.47h1.0v8.41h-1.0zM340.5 589.88h1.0v8.41h-1.0zM372.5 598.29h2.0v8.41h-2.0zM376.5 598.29h1.0v8.41h-1.0zM315.5 606.70h2.0v8.41h-2.0zM328.5 606.70h1.0v8.41h-1.0zM374.5 606.70h1.0v8.41h-1.0zM358.5 623.52h1.0v8.41h-1.0zM359.5 623.52h1.0v8.41h-1.0z"/>
<path fill="#f0b060" d="M217.0 51.64h1.0v8.41h-1.0zM264.0 68.46h1.0v8.41h-1.0zM239.0 76.87h1.0v8.41h-1.0zM264.0 76.87h1.0v8.41h-1.0zM221.0 85.28h2.0v8.41h-2.0zM258.0 85.28h1.0v8.41h-1.0zM261.0 85.28h1.0v8.41h-1.0zM235.0 102.10h2.0v8.41h-2.0zM256.0 102.10h1.0v8.41h-1.0zM264.0 102.10h1.0v8.41h-1.0zM217.0 110.51h1.0v8.41h-1.0zM219.0 118.92h1.0v8.41h-1.0zM227.0 118.92h1.0v8.41h-1.0zM238.0 118.92h1.0v8.41h-1.0zM217.0 135.74h1.0v8.41h-1.0zM257.0 152.56h1.0v8.41h-1.0zM260.0 160.97h1.0v8.41h-1.0zM261.0 169.38h1.0v8.41h-1.0zM228.0 177.79h1.0v8.41h-1.0zM252.0 186.20h1.0v8.41h-1.0zM257.0 186.20h1.0v8.41h-1.0zM260.0 186.20h1.0v8.41h-1.0zM239.0 203.02h1.0v8.41h-1.0zM246.0 203.02h1.0v8.41h-1.0zM216.0 211.43h1.0v8.41h-1.0zM254.0 219.84h1.0v8.41h-1.0zM262.0 228.25h2.0v8.41h-2.0zM232.0 236.66h2.0v8.41h-2.0zM250.0 236.66h2.0v8.41h-2.0zM261.0 245.07h1.0v8.41h-1.0zM311.4 270.30h1.0v8.41h-1.0zM282.4 278.71h1.0v8.41h-1.0zM289.4 287.12h1.0v8.41h-1.0zM290.4 303.94h1.0v8.41h-1.0zM297.4 303.94h1.0v8.41h-1.0zM275.4 312.35h1.0v8.41h-1.0zM278.4 320.76h1.0v8.41h-1.0zM290.4 329.17h1.0v8.41h-1.0zM312.4 337.58h1.0v8.41h-1.0zM279.4 354.40h2.0v8.41h-2.0zM270.4 362.81h1.0v8.41h-1.0zM278.4 362.81h1.0v8.41h-1.0zM308.4 371.22h1.0v8.41h-1.0zM272.4 388.04h1.0v8.41h-1.0zM268.4 396.45h1.0v8.41h-1.0zM275.4 413.27h1.0v8.41h-1.0zM307.4 430.09h1.0v8.41h-1.0zM312.4 438.50h1.0v8.41h-1.0zM287.4 446.91h1.0v8.41h-1.0zM324.5 455.32h1.0v8.41h-1.0zM339.5 497.37h1.0v8.41h-1.0zM375.5 505.78h1.0v8.41h-1.0zM335.5 522.60h1.0v8.41h-1.0zM357.5 522.60h1.0v8.41h-1.0zM228.0 522.60h1.0v8.41h-1.0zM232.0 522.60h1.0v8.41h-1.0zM234.0 522.60h1.0v8.41h-1.0zM344.5 531.01h1.0v8.41h-1.0zM345.5 531.01h2.0v8.41h-2.0zM374.5 531.01h1.0v8.41h-1.0zM332.5 539.42h1.0v8.41h-1.0zM345.5 539.42h2.0v8.41h-2.0zM315.5 573.06h2.0v8.41h-2.0zM344.5 573.06h1.0v8.41h-1.0zM338.5 581.47h1.0v8.41h-1.0zM356.5 581.47h1.0v8.41h-1.0zM358.5 581.47h1.0v8.41h-1.0zM342.5 589.88h1.0v8.41h-1.0zM349.5 598.29h1.0v8.41h-1.0zM373.5 606.70h1.0v8.41h-1.0zM318.5 615.11h1.0v8.41h-1.0zM332.5 623.52h1.0v8.41h-1.0zM349.5 623.52h1.0v8.41h-1.0zM374.5 623.52h1.0v8.41h-1.0z"/>
<path fill="#1a70ce" d="M217.0 144.15h1.0v8.41h-1.0zM227.0 144.15h2.0v8.41h-2.0zM235.0 144.15h1.0v8.41h-1.0zM239.0 144.15h1.0v8.41h-1.0zM242.0 144.15h1.0v8.41h-1.0zM246.0 144.15h1.0v8.41h-1.0zM248.0 144.15h2.0v8.41h-2.0zM250.0 144.15h1.0v8.41h-1.0zM251.0 144.15h1.0v8.41h-1.0zM252.0 144.15h1.0v8.41h-1.0zM258.0 144.15h1.0v8.41h-1.0zM261.0 144.15h1.0v8.41h-1.0zM268.4 430.09h1.0v8.41h-1.0zM282.4 430.09h2.0v8.41h-2.0zM286.4 430.09h1.0v8.41h-1.0zM293.4 430.09h1.0v8.41h-1.0zM303.4 430.09h1.0v8.41h-1.0zM309.4 430.09h1.0v8.41h-1.0z"/>
<path fill="#2e86dc" d="M221.0 152.56h1.0v8.41h-1.0zM224.0 152.56h1.0v8.41h-1.0zM225.0 152.56h1.0v8.41h-1.0zM232.0 152.56h1.0v8.41h-1.0zM246.0 152.56h1.0v8.41h-1.0zM259.0 152.56h1.0v8.41h-1.0zM260.0 152.56h1.0v8.41h-1.0zM261.0 152.56h1.0v8.41h-1.0zM262.0 152.56h1.0v8.41h-1.0zM217.0 160.97h2.0v8.41h-2.0zM219.0 160.97h2.0v8.41h-2.0zM231.0 160.97h1.0v8.41h-1.0zM232.0 160.97h2.0v8.41h-2.0zM248.0 160.97h1.0v8.41h-1.0zM252.0 160.97h1.0v8.41h-1.0zM257.0 160.97h2.0v8.41h-2.0zM259.0 160.97h1.0v8.41h-1.0zM262.0 160.97h1.0v8.41h-1.0zM220.0 169.38h1.0v8.41h-1.0zM223.0 169.38h1.0v8.41h-1.0zM243.0 169.38h1.0v8.41h-1.0zM246.0 169.38h1.0v8.41h-1.0zM251.0 169.38h1.0v8.41h-1.0zM257.0 169.38h2.0v8.41h-2.0zM259.0 169.38h1.0v8.41h-1.0zM260.0 169.38h1.0v8.41h-1.0zM262.0 169.38h1.0v8.41h-1.0zM263.0 169.38h1.0v8.41h-1.0zM217.0 177.79h2.0v8.41h-2.0zM219.0 177.79h1.0v8.41h-1.0zM220.0 177.79h1.0v8.41h-1.0zM229.0 177.79h1.0v8.41h-1.0zM230.0 177.79h2.0v8.41h-2.0zM232.0 177.79h1.0v8.41h-1.0zM239.0 177.79h1.0v8.41h-1.0zM243.0 177.79h1.0v8.41h-1.0zM248.0 177.79h1.0v8.41h-1.0zM251.0 177.79h1.0v8.41h-1.0zM258.0 177.79h1.0v8.41h-1.0zM259.0 177.79h1.0v8.41h-1.0zM261.0 177.79h1.0v8.41h-1.0zM263.0 177.79h1.0v8.41h-1.0zM264.0 177.79h1.4v8.41h-1.4zM217.0 186.20h2.0v8.41h-2.0zM219.0 186.20h1.0v8.41h-1.0zM231.0 186.20h1.0v8.41h-1.0zM232.0 186.20h2.0v8.41h-2.0zM234.0 186.20h1.0v8.41h-1.0zM242.0 186.20h1.0v8.41h-1.0zM243.0 186.20h1.0v8.41h-1.0zM248.0 186.20h1.0v8.41h-1.0zM249.0 186.20h2.0v8.41h-2.0zM255.0 186.20h1.0v8.41h-1.0zM258.0 186.20h1.0v8.41h-1.0zM259.0 186.20h1.0v8.41h-1.0zM261.0 186.20h1.0v8.41h-1.0zM263.0 186.20h1.0v8.41h-1.0zM216.0 194.61h2.0v8.41h-2.0zM223.0 194.61h2.0v8.41h-2.0zM229.0 194.61h1.0v8.41h-1.0zM231.0 194.61h1.0v8.41h-1.0zM233.0 194.61h1.0v8.41h-1.0zM235.0 194.61h1.0v8.41h-1.0zM238.0 194.61h2.0v8.41h-2.0zM247.0 194.61h2.0v8.41h-2.0zM250.0 194.61h1.0v8.41h-1.0zM252.0 194.61h1.0v8.41h-1.0zM253.0 194.61h1.0v8.41h-1.0zM256.0 194.61h1.0v8.41h-1.0zM257.0 194.61h1.0v8.41h-1.0zM258.0 194.61h1.0v8.41h-1.0zM261.0 194.61h1.0v8.41h-1.0zM262.0 194.61h1.0v8.41h-1.0zM263.0 194.61h1.0v8.41h-1.0zM218.0 203.02h1.0v8.41h-1.0zM220.0 203.02h1.0v8.41h-1.0zM227.0 203.02h1.0v8.41h-1.0zM230.0 203.02h1.0v8.41h-1.0zM232.0 203.02h1.0v8.41h-1.0zM235.0 203.02h1.0v8.41h-1.0zM236.0 203.02h1.0v8.41h-1.0zM252.0 203.02h1.0v8.41h-1.0zM254.0 203.02h1.0v8.41h-1.0zM258.0 203.02h1.0v8.41h-1.0zM259.0 203.02h1.0v8.41h-1.0zM260.0 203.02h1.0v8.41h-1.0zM261.0 203.02h1.0v8.41h-1.0zM262.0 203.02h1.0v8.41h-1.0zM263.0 203.02h1.0v8.41h-1.0zM264.0 203.02h1.0v8.41h-1.0zM216.0 219.84h1.0v8.41h-1.0zM217.0 219.84h2.0v8.41h-2.0zM221.0 219.84h1.0v8.41h-1.0zM225.0 219.84h1.0v8.41h-1.0zM231.0 219.84h1.0v8.41h-1.0zM232.0 219.84h1.0v8.41h-1.0zM239.0 219.84h1.0v8.41h-1.0zM242.0 219.84h1.0v8.41h-1.0zM243.0 219.84h1.0v8.41h-1.0zM246.0 219.84h1.0v8.41h-1.0zM247.0 219.84h2.0v8.41h-2.0zM257.0 219.84h1.0v8.41h-1.0zM260.0 219.84h1.0v8.41h-1.0zM261.0 219.84h1.0v8.41h-1.0zM264.0 219.84h1.0v8.41h-1.0zM228.0 228.25h1.0v8.41h-1.0zM234.0 228.25h1.0v8.41h-1.0zM235.0 228.25h2.0v8.41h-2.0zM237.0 228.25h1.0v8.41h-1.0zM238.0 228.25h1.0v8.41h-1.0zM239.0 228.25h1.0v8.41h-1.0zM240.0 228.25h1.0v8.41h-1.0zM243.0 228.25h1.0v8.41h-1.0zM246.0 228.25h1.0v8.41h-1.0zM248.0 228.25h1.0v8.41h-1.0zM249.0 228.25h1.0v8.41h-1.0zM256.0 228.25h1.0v8.41h-1.0zM257.0 228.25h1.0v8.41h-1.0zM258.0 228.25h1.0v8.41h-1.0zM259.0 228.25h1.0v8.41h-1.0zM260.0 228.25h1.0v8.41h-1.0zM261.0 228.25h1.0v8.41h-1.0zM264.0 228.25h1.0v8.41h-1.0zM230.0 236.66h1.0v8.41h-1.0zM248.0 236.66h1.0v8.41h-1.0zM249.0 236.66h1.0v8.41h-1.0zM254.0 236.66h1.0v8.41h-1.0zM257.0 236.66h1.0v8.41h-1.0zM258.0 236.66h2.0v8.41h-2.0zM262.0 236.66h1.0v8.41h-1.0zM268.4 362.81h1.0v8.41h-1.0zM279.4 362.81h1.0v8.41h-1.0zM291.4 362.81h1.0v8.41h-1.0zM294.4 362.81h1.0v8.41h-1.0zM308.4 362.81h1.0v8.41h-1.0zM275.4 371.22h1.0v8.41h-1.0zM269.4 379.63h1.0v8.41h-1.0zM271.4 379.63h1.0v8.41h-1.0zM284.4 379.63h1.0v8.41h-1.0zM297.4 379.63h1.0v8.41h-1.0zM311.4 379.63h2.0v8.41h-2.0zM278.4 404.86h1.0v8.41h-1.0zM279.4 404.86h1.0v8.41h-1.0zM294.4 404.86h1.0v8.41h-1.0zM297.4 404.86h1.0v8.41h-1.0zM298.4 404.86h1.0v8.41h-1.0zM305.4 404.86h1.0v8.41h-1.0zM311.4 404.86h2.0v8.41h-2.0zM268.4 413.27h1.0v8.41h-1.0zM274.4 413.27h1.0v8.41h-1.0zM289.4 413.27h2.0v8.41h-2.0zM311.4 413.27h1.0v8.41h-1.0zM277.4 421.68h1.0v8.41h-1.0zM269.4 438.50h1.0v8.41h-1.0zM275.4 438.50h1.0v8.41h-1.0zM277.4 438.50h1.0v8.41h-1.0zM311.4 438.50h1.0v8.41h-1.0zM314.4 438.50h1.1v8.41h-1.1zM265.4 446.91h1.0v8.41h-1.0zM278.4 446.91h2.0v8.41h-2.0zM281.4 446.91h2.0v8.41h-2.0zM292.4 446.91h1.0v8.41h-1.0zM296.4 446.91h1.0v8.41h-1.0zM305.4 446.91h1.0v8.41h-1.0zM308.4 446.91h2.0v8.41h-2.0zM314.4 446.91h1.1v8.41h-1.1zM315.5 581.47h1.0v8.41h-1.0zM331.5 581.47h1.0v8.41h-1.0zM341.5 581.47h1.0v8.41h-1.0zM342.5 581.47h1.0v8.41h-1.0zM354.5 581.47h1.0v8.41h-1.0zM367.5 581.47h1.0v8.41h-1.0zM371.5 581.47h1.0v8.41h-1.0zM372.5 581.47h1.0v8.41h-1.0zM373.5 581.47h1.0v8.41h-1.0zM375.5 581.47h1.0v8.41h-1.0zM376.5 581.47h1.0v8.41h-1.0zM333.5 589.88h1.0v8.41h-1.0zM339.5 589.88h1.0v8.41h-1.0zM344.5 589.88h1.0v8.41h-1.0zM346.5 589.88h1.0v8.41h-1.0zM349.5 589.88h1.0v8.41h-1.0zM350.5 589.88h1.0v8.41h-1.0zM356.5 589.88h1.0v8.41h-1.0zM371.5 589.88h1.0v8.41h-1.0zM372.5 589.88h1.0v8.41h-1.0zM374.5 589.88h1.0v8.41h-1.0zM375.5 589.88h1.0v8.41h-1.0zM376.5 589.88h1.1v8.41h-1.1zM322.5 598.29h1.0v8.41h-1.0zM325.5 598.29h1.0v8.41h-1.0zM335.5 598.29h1.0v8.41h-1.0zM339.5 598.29h2.0v8.41h-2.0zM356.5 598.29h1.0v8.41h-1.0zM359.5 598.29h1.0v8.41h-1.0zM374.5 598.29h1.0v8.41h-1.0zM375.5 598.29h1.0v8.41h-1.0zM340.5 623.52h1.0v8.41h-1.0zM347.5 623.52h1.0v8.41h-1.0zM360.5 623.52h2.0v8.41h-2.0zM371.5 623.52h1.0v8.41h-1.0zM375.5 623.52h2.0v8.41h-2.0z"/>
<path fill="#9ab6ea" d="M222.0 211.43h1.0v8.41h-1.0zM224.0 211.43h2.0v8.41h-2.0zM230.0 211.43h1.0v8.41h-1.0zM235.0 211.43h1.0v8.41h-1.0zM242.0 211.43h1.0v8.41h-1.0zM246.0 211.43h1.0v8.41h-1.0zM250.0 211.43h1.0v8.41h-1.0zM251.0 211.43h1.0v8.41h-1.0zM252.0 211.43h1.0v8.41h-1.0zM257.0 211.43h1.0v8.41h-1.0zM258.0 211.43h1.0v8.41h-1.0zM261.0 211.43h1.0v8.41h-1.0zM262.0 211.43h1.0v8.41h-1.0zM264.0 211.43h1.0v8.41h-1.0zM215.0 245.07h1.0v8.41h-1.0zM230.0 245.07h1.0v8.41h-1.0zM232.0 245.07h2.0v8.41h-2.0zM235.0 245.07h2.0v8.41h-2.0zM237.0 245.07h1.0v8.41h-1.0zM242.0 245.07h1.0v8.41h-1.0zM245.0 245.07h1.0v8.41h-1.0zM247.0 245.07h1.0v8.41h-1.0zM248.0 245.07h1.0v8.41h-1.0zM251.0 245.07h1.0v8.41h-1.0zM257.0 245.07h1.0v8.41h-1.0zM258.0 245.07h1.0v8.41h-1.0zM259.0 245.07h1.0v8.41h-1.0zM260.0 245.07h1.0v8.41h-1.0zM262.0 245.07h1.0v8.41h-1.0z"/>
<path fill="#1160c2" d="M268.4 388.04h1.0v8.41h-1.0zM274.4 388.04h1.0v8.41h-1.0zM278.4 388.04h1.0v8.41h-1.0zM308.4 388.04h1.0v8.41h-1.0zM311.4 388.04h1.0v8.41h-1.0zM315.5 547.83h1.0v8.41h-1.0zM319.5 547.83h1.0v8.41h-1.0zM330.5 547.83h1.0v8.41h-1.0zM336.5 547.83h1.0v8.41h-1.0zM342.5 547.83h2.0v8.41h-2.0zM349.5 547.83h2.0v8.41h-2.0zM359.5 547.83h1.0v8.41h-1.0zM368.5 547.83h1.0v8.41h-1.0zM370.5 547.83h1.0v8.41h-1.0zM317.5 606.70h1.0v8.41h-1.0zM325.5 606.70h2.0v8.41h-2.0zM332.5 606.70h2.0v8.41h-2.0zM340.5 606.70h2.0v8.41h-2.0zM363.5 606.70h1.0v8.41h-1.0zM321.5 615.11h1.0v8.41h-1.0zM326.5 615.11h1.0v8.41h-1.0zM329.5 615.11h1.0v8.41h-1.0zM333.5 615.11h1.0v8.41h-1.0zM341.5 615.11h2.0v8.41h-2.0zM345.5 615.11h1.0v8.41h-1.0zM346.5 615.11h1.0v8.41h-1.0zM349.5 615.11h1.0v8.41h-1.0zM352.5 615.11h1.0v8.41h-1.0zM353.5 615.11h2.0v8.41h-2.0zM359.5 615.11h2.0v8.41h-2.0zM365.5 615.11h1.0v8.41h-1.0zM367.5 615.11h1.0v8.41h-1.0zM372.5 615.11h1.0v8.41h-1.0zM373.5 615.11h1.0v8.41h-1.0zM374.5 615.11h1.0v8.41h-1.0zM376.5 615.11h1.1v8.41h-1.1z"/>
<path fill="#0c3ea4" d="M273.4 396.45h1.0v8.41h-1.0zM278.4 396.45h1.0v8.41h-1.0zM294.4 396.45h1.0v8.41h-1.0zM297.4 396.45h2.0v8.41h-2.0zM299.4 396.45h1.0v8.41h-1.0zM302.4 396.45h1.0v8.41h-1.0zM303.4 396.45h2.0v8.41h-2.0zM215.0 480.55h12.0v8.41h-12.0z"/>
<path fill="#b0c4ec" d="M232.0 455.32h1.0v8.41h-1.0zM248.0 455.32h1.0v8.41h-1.0zM291.4 455.32h1.0v8.41h-1.0zM296.4 455.32h1.0v8.41h-1.0zM216.0 463.73h1.0v8.41h-1.0zM275.4 463.73h1.0v8.41h-1.0zM311.4 463.73h1.0v8.41h-1.0zM232.0 472.14h1.0v8.41h-1.0zM239.0 472.14h1.0v8.41h-1.0zM243.0 472.14h1.0v8.41h-1.0zM252.0 472.14h1.0v8.41h-1.0zM269.4 472.14h1.0v8.41h-1.0zM308.4 472.14h1.0v8.41h-1.0zM217.0 488.96h1.0v8.41h-1.0zM221.0 488.96h1.0v8.41h-1.0zM234.0 488.96h1.0v8.41h-1.0zM251.0 488.96h1.0v8.41h-1.0zM298.4 488.96h1.0v8.41h-1.0zM217.0 497.37h1.0v8.41h-1.0zM234.0 497.37h1.0v8.41h-1.0zM236.0 497.37h1.0v8.41h-1.0zM237.0 497.37h1.0v8.41h-1.0zM240.0 497.37h1.0v8.41h-1.0zM261.0 497.37h1.0v8.41h-1.0zM278.4 497.37h1.0v8.41h-1.0z"/>
<path fill="#f4f0e0" d="M254.0 455.32h1.0v8.41h-1.0zM279.4 455.32h1.0v8.41h-1.0zM313.4 463.73h1.0v8.41h-1.0zM258.0 472.14h1.0v8.41h-1.0zM261.0 472.14h1.0v8.41h-1.0zM279.4 472.14h1.0v8.41h-1.0zM256.0 488.96h1.0v8.41h-1.0zM258.0 488.96h1.0v8.41h-1.0zM267.4 488.96h1.0v8.41h-1.0zM295.4 488.96h1.0v8.41h-1.0zM308.4 488.96h1.0v8.41h-1.0zM309.4 488.96h1.0v8.41h-1.0zM238.0 497.37h1.0v8.41h-1.0zM247.0 497.37h1.0v8.41h-1.0zM287.4 497.37h1.0v8.41h-1.0zM290.4 497.37h1.0v8.41h-1.0zM297.4 497.37h1.0v8.41h-1.0z"/>
<path fill="#4a7ad0" d="M258.0 455.32h1.0v8.41h-1.0zM276.4 455.32h1.0v8.41h-1.0zM297.4 455.32h1.0v8.41h-1.0zM308.4 455.32h1.0v8.41h-1.0zM246.0 463.73h1.0v8.41h-1.0zM256.0 463.73h1.0v8.41h-1.0zM264.0 463.73h1.0v8.41h-1.0zM230.0 472.14h1.0v8.41h-1.0zM242.0 472.14h1.0v8.41h-1.0zM250.0 472.14h1.0v8.41h-1.0zM251.0 472.14h1.0v8.41h-1.0zM259.0 472.14h1.0v8.41h-1.0zM280.4 472.14h1.0v8.41h-1.0zM291.4 472.14h1.0v8.41h-1.0zM309.4 472.14h1.0v8.41h-1.0zM311.4 472.14h1.0v8.41h-1.0zM313.4 472.14h1.0v8.41h-1.0zM218.0 488.96h1.0v8.41h-1.0zM232.0 488.96h1.0v8.41h-1.0zM235.0 488.96h1.0v8.41h-1.0zM242.0 488.96h1.0v8.41h-1.0zM246.0 488.96h1.0v8.41h-1.0zM248.0 488.96h1.0v8.41h-1.0zM282.4 488.96h1.0v8.41h-1.0zM264.0 497.37h1.0v8.41h-1.0zM307.4 497.37h1.0v8.41h-1.0zM308.4 497.37h1.0v8.41h-1.0z"/>
<path fill="#ff9a30" d="M220.0 522.60h1.0v8.41h-1.0z"/>
<path fill="#0b2c92" d="M339.5 556.24h2.0v8.41h-2.0zM345.5 556.24h1.0v8.41h-1.0zM348.5 556.24h1.0v8.41h-1.0zM349.5 556.24h1.0v8.41h-1.0zM357.5 556.24h1.0v8.41h-1.0z"/>
<path fill="#0d4cb2" d="M339.5 564.65h2.0v8.41h-2.0zM348.5 564.65h2.0v8.41h-2.0zM352.5 564.65h1.0v8.41h-1.0zM353.5 564.65h1.0v8.41h-1.0zM374.5 564.65h1.0v8.41h-1.0zM332.5 573.06h2.0v8.41h-2.0zM340.5 573.06h1.0v8.41h-1.0zM342.5 573.06h1.0v8.41h-1.0zM374.5 573.06h1.0v8.41h-1.0z"/>
</g>
<text x="383.0" y="25.3" font-size="9.3" text-anchor="start" fill="#000">APOE</text>
<text x="383.0" y="33.7" font-size="9.3" text-anchor="start" fill="#000">CD24</text>
<text x="383.0" y="42.1" font-size="9.3" text-anchor="start" fill="#000">ERBB4</text>
<text x="383.0" y="50.5" font-size="9.3" text-anchor="start" fill="#000">FZD5</text>
<text x="383.0" y="58.9" font-size="9.3" text-anchor="start" fill="#000">VTN</text>
<text x="383.0" y="67.3" font-size="9.3" text-anchor="start" fill="#000">GPC3</text>
<text x="383.0" y="75.8" font-size="9.3" text-anchor="start" fill="#000">BMP2</text>
<text x="383.0" y="84.2" font-size="9.3" text-anchor="start" fill="#000">LIFR</text>
<text x="383.0" y="92.6" font-size="9.3" text-anchor="start" fill="#000">APOB</text>
<text x="383.0" y="101.0" font-size="9.3" text-anchor="start" fill="#000">DLK1</text>
<text x="383.0" y="109.4" font-size="9.3" text-anchor="start" fill="#000">FST</text>
<text x="383.0" y="117.8" font-size="9.3" text-anchor="start" fill="#000">CCKBR</text>
<text x="383.0" y="126.2" font-size="9.3" text-anchor="start" fill="#000">CGN</text>
<text x="383.0" y="134.6" font-size="9.3" text-anchor="start" fill="#000">COL4A6</text>
<text x="383.0" y="143.0" font-size="9.3" text-anchor="start" fill="#000">BAMBI</text>
<text x="383.0" y="151.5" font-size="9.3" text-anchor="start" fill="#000">LSR</text>
<text x="383.0" y="159.9" font-size="9.3" text-anchor="start" fill="#000">ERBB3</text>
<text x="383.0" y="168.3" font-size="9.3" text-anchor="start" fill="#000">F2</text>
<text x="383.0" y="176.7" font-size="9.3" text-anchor="start" fill="#000">FGF13</text>
<text x="383.0" y="185.1" font-size="9.3" text-anchor="start" fill="#000">SLC44A5</text>
<text x="383.0" y="193.5" font-size="9.3" text-anchor="start" fill="#000">TDGF1</text>
<text x="383.0" y="201.9" font-size="9.3" text-anchor="start" fill="#000">C5</text>
<text x="383.0" y="210.3" font-size="9.3" text-anchor="start" fill="#000">FGFR4</text>
<text x="383.0" y="218.7" font-size="9.3" text-anchor="start" fill="#000">BMP7</text>
<text x="383.0" y="227.1" font-size="9.3" text-anchor="start" fill="#000">FGFR2</text>
<text x="383.0" y="235.6" font-size="9.3" text-anchor="start" fill="#000">APOC3</text>
<text x="383.0" y="244.0" font-size="9.3" text-anchor="start" fill="#000">F10</text>
<text x="383.0" y="252.4" font-size="9.3" text-anchor="start" fill="#000">F7</text>
<text x="383.0" y="260.8" font-size="9.3" text-anchor="start" fill="#000">PECAM1</text>
<text x="383.0" y="269.2" font-size="9.3" text-anchor="start" fill="#000">CDH5</text>
<text x="383.0" y="277.6" font-size="9.3" text-anchor="start" fill="#000">CD93</text>
<text x="383.0" y="286.0" font-size="9.3" text-anchor="start" fill="#000">CALCRL</text>
<text x="383.0" y="294.4" font-size="9.3" text-anchor="start" fill="#000">MCAM</text>
<text x="383.0" y="302.8" font-size="9.3" text-anchor="start" fill="#000">ESAM</text>
<text x="383.0" y="311.2" font-size="9.3" text-anchor="start" fill="#000">ELTD1</text>
<text x="383.0" y="319.7" font-size="9.3" text-anchor="start" fill="#000">S1PR1</text>
<text x="383.0" y="328.1" font-size="9.3" text-anchor="start" fill="#000">VWF</text>
<text x="383.0" y="336.5" font-size="9.3" text-anchor="start" fill="#000">PTPRB</text>
<text x="383.0" y="344.9" font-size="9.3" text-anchor="start" fill="#000">ICAM2</text>
<text x="383.0" y="353.3" font-size="9.3" text-anchor="start" fill="#000">MFNG</text>
<text x="383.0" y="361.7" font-size="9.3" text-anchor="start" fill="#000">ACVRL1</text>
<text x="383.0" y="370.1" font-size="9.3" text-anchor="start" fill="#000">TNFRSF6B</text>
<text x="383.0" y="378.5" font-size="9.3" text-anchor="start" fill="#000">TEK</text>
<text x="383.0" y="386.9" font-size="9.3" text-anchor="start" fill="#000">MMP1</text>
<text x="383.0" y="395.3" font-size="9.3" text-anchor="start" fill="#000">GPR56</text>
<text x="383.0" y="403.8" font-size="9.3" text-anchor="start" fill="#000">CCL2</text>
<text x="383.0" y="412.2" font-size="9.3" text-anchor="start" fill="#000">KDR</text>
<text x="383.0" y="420.6" font-size="9.3" text-anchor="start" fill="#000">TIE1</text>
<text x="383.0" y="429.0" font-size="9.3" text-anchor="start" fill="#000">ROBO4</text>
<text x="383.0" y="437.4" font-size="9.3" text-anchor="start" fill="#000">ITGB4</text>
<text x="383.0" y="445.8" font-size="9.3" text-anchor="start" fill="#000">ROBO3</text>
<text x="383.0" y="454.2" font-size="9.3" text-anchor="start" fill="#000">GABBR2</text>
<text x="383.0" y="462.6" font-size="9.3" text-anchor="start" fill="#000">COL6A3</text>
<text x="383.0" y="471.0" font-size="9.3" text-anchor="start" fill="#000">DCN</text>
<text x="383.0" y="479.4" font-size="9.3" text-anchor="start" fill="#000">CD44</text>
<text x="383.0" y="487.9" font-size="9.3" text-anchor="start" fill="#000">WNT5A</text>
<text x="383.0" y="496.3" font-size="9.3" text-anchor="start" fill="#000">TIMP1</text>
<text x="383.0" y="504.7" font-size="9.3" text-anchor="start" fill="#000">COL6A1</text>
<text x="383.0" y="513.1" font-size="9.3" text-anchor="start" fill="#000">COL6A2</text>
<text x="383.0" y="521.5" font-size="9.3" text-anchor="start" fill="#000">LGALS3BP</text>
<text x="383.0" y="529.9" font-size="9.3" text-anchor="start" fill="#000">SERPING1</text>
<text x="383.0" y="538.3" font-size="9.3" text-anchor="start" fill="#000">COL3A1</text>
<text x="383.0" y="546.7" font-size="9.3" text-anchor="start" fill="#000">LPAR1</text>
<text x="383.0" y="555.1" font-size="9.3" text-anchor="start" fill="#000">TNC</text>
<text x="383.0" y="563.5" font-size="9.3" text-anchor="start" fill="#000">IL1R1</text>
<text x="383.0" y="571.9" font-size="9.3" text-anchor="start" fill="#000">PDGFRB</text>
<text x="383.0" y="580.4" font-size="9.3" text-anchor="start" fill="#000">TIMP3</text>
<text x="383.0" y="588.8" font-size="9.3" text-anchor="start" fill="#000">THBS2</text>
<text x="383.0" y="597.2" font-size="9.3" text-anchor="start" fill="#000">FAP</text>
<text x="383.0" y="605.6" font-size="9.3" text-anchor="start" fill="#000">SYTL3</text>
<text x="383.0" y="614.0" font-size="9.3" text-anchor="start" fill="#000">CCL28</text>
<text x="383.0" y="622.4" font-size="9.3" text-anchor="start" fill="#000">S1PR3</text>
<text x="383.0" y="630.8" font-size="9.3" text-anchor="start" fill="#000">FGF5</text>
<rect x="215.30" y="636.80" width="4.51" height="12.90" fill="#0a1c78" shape-rendering="crispEdges"/>
<rect x="219.51" y="636.80" width="4.51" height="12.90" fill="#0b2c92" shape-rendering="crispEdges"/>
<rect x="223.73" y="636.80" width="4.51" height="12.90" fill="#0c3ea4" shape-rendering="crispEdges"/>
<rect x="227.94" y="636.80" width="4.51" height="12.90" fill="#0e52b6" shape-rendering="crispEdges"/>
<rect x="232.15" y="636.80" width="4.51" height="12.90" fill="#1466c6" shape-rendering="crispEdges"/>
<rect x="236.36" y="636.80" width="4.51" height="12.90" fill="#2a7cd4" shape-rendering="crispEdges"/>
<rect x="240.57" y="636.80" width="4.51" height="12.90" fill="#88aae6" shape-rendering="crispEdges"/>
<rect x="244.79" y="636.80" width="4.51" height="12.90" fill="#c4d4f2" shape-rendering="crispEdges"/>
<rect x="249.00" y="636.80" width="4.51" height="12.90" fill="#ffffff" shape-rendering="crispEdges"/>
<rect x="253.21" y="636.80" width="4.51" height="12.90" fill="#fff0d0" shape-rendering="crispEdges"/>
<rect x="257.43" y="636.80" width="4.51" height="12.90" fill="#ffe0a8" shape-rendering="crispEdges"/>
<rect x="261.64" y="636.80" width="4.51" height="12.90" fill="#ffd080" shape-rendering="crispEdges"/>
<rect x="265.85" y="636.80" width="4.51" height="12.90" fill="#ffbc4c" shape-rendering="crispEdges"/>
<rect x="270.06" y="636.80" width="4.51" height="12.90" fill="#ffa828" shape-rendering="crispEdges"/>
<rect x="274.27" y="636.80" width="4.51" height="12.90" fill="#ff9412" shape-rendering="crispEdges"/>
<rect x="278.49" y="636.80" width="4.51" height="12.90" fill="#ff8000" shape-rendering="crispEdges"/>
<line x1="215.30" y1="648.00" x2="215.30" y2="650.50" stroke="#333" stroke-width="0.8"/>
<line x1="249.00" y1="648.00" x2="249.00" y2="650.50" stroke="#333" stroke-width="0.8"/>
<line x1="282.70" y1="648.00" x2="282.70" y2="650.50" stroke="#333" stroke-width="0.8"/>
<text x="215.3" y="661.5" font-size="10" text-anchor="middle" fill="#000">−1</text>
<text x="249.0" y="661.5" font-size="10" text-anchor="middle" fill="#000">0</text>
<text x="282.7" y="661.5" font-size="10" text-anchor="middle" fill="#000">1</text>
<text x="289.5" y="649.7" font-size="10.6" text-anchor="start" fill="#000">Scaled expression</text>
<text x="0.0" y="448.0" font-size="15" text-anchor="start" fill="#000" font-weight="bold">f</text>
<text x="110.0" y="444.5" font-size="9.5" text-anchor="middle" fill="#000">log10 P−value</text>
<rect x="85.5" y="457" width="48.0" height="45" fill="#fff" stroke="#cfcfcf" stroke-width="0.7"/>
<text x="86.5" y="453.5" font-size="9.5" text-anchor="middle" fill="#000">0</text>
<line x1="86.50" y1="455.50" x2="86.50" y2="457.00" stroke="#444" stroke-width="0.6"/>
<text x="97.7" y="453.5" font-size="9.5" text-anchor="middle" fill="#000">2</text>
<line x1="97.72" y1="455.50" x2="97.72" y2="457.00" stroke="#444" stroke-width="0.6"/>
<text x="108.9" y="453.5" font-size="9.5" text-anchor="middle" fill="#000">4</text>
<line x1="108.94" y1="455.50" x2="108.94" y2="457.00" stroke="#444" stroke-width="0.6"/>
<text x="120.2" y="453.5" font-size="9.5" text-anchor="middle" fill="#000">6</text>
<line x1="120.16" y1="455.50" x2="120.16" y2="457.00" stroke="#444" stroke-width="0.6"/>
<text x="131.4" y="453.5" font-size="9.5" text-anchor="middle" fill="#000">8</text>
<line x1="131.38" y1="455.50" x2="131.38" y2="457.00" stroke="#444" stroke-width="0.6"/>
<rect x="86.50" y="459.00" width="44.32" height="12.00" fill="#555555"/>
<rect x="86.50" y="473.00" width="40.39" height="12.30" fill="#555555"/>
<rect x="86.50" y="487.50" width="39.27" height="12.50" fill="#555555"/>
<text x="83.0" y="462.5" font-size="9.5" text-anchor="end" fill="#000">Substrate</text>
<text x="83.0" y="470.5" font-size="9.5" text-anchor="end" fill="#000">adhesion</text>
<text x="83.0" y="482.5" font-size="9.5" text-anchor="end" fill="#000">Vasculogen.</text>
<text x="83.0" y="496.5" font-size="9.5" text-anchor="end" fill="#000">Chemotaxis</text>
<rect x="89" y="527.5" width="43.599999999999994" height="46.5" fill="#fff" stroke="#cfcfcf" stroke-width="0.7"/>
<text x="90.0" y="525.5" font-size="9.5" text-anchor="middle" fill="#000">0</text>
<line x1="90.00" y1="526.00" x2="90.00" y2="527.50" stroke="#444" stroke-width="0.6"/>
<text x="102.6" y="525.5" font-size="9.5" text-anchor="middle" fill="#000">2</text>
<line x1="102.61" y1="526.00" x2="102.61" y2="527.50" stroke="#444" stroke-width="0.6"/>
<text x="115.2" y="525.5" font-size="9.5" text-anchor="middle" fill="#000">4</text>
<line x1="115.21" y1="526.00" x2="115.21" y2="527.50" stroke="#444" stroke-width="0.6"/>
<text x="127.8" y="525.5" font-size="9.5" text-anchor="middle" fill="#000">6</text>
<line x1="127.82" y1="526.00" x2="127.82" y2="527.50" stroke="#444" stroke-width="0.6"/>
<rect x="90.00" y="530.00" width="40.97" height="12.70" fill="#555555"/>
<rect x="90.00" y="544.50" width="36.56" height="12.50" fill="#555555"/>
<rect x="90.00" y="558.60" width="32.78" height="13.00" fill="#555555"/>
<text x="86.5" y="539.5" font-size="9.5" text-anchor="end" fill="#000">Homeostasis</text>
<text x="86.5" y="553.5" font-size="9.5" text-anchor="end" fill="#000">Cell morpho.</text>
<text x="86.5" y="567.5" font-size="9.5" text-anchor="end" fill="#000">Cell adhesion</text>
<rect x="88.2" y="603" width="44.8" height="45" fill="#fff" stroke="#cfcfcf" stroke-width="0.7"/>
<text x="89.2" y="600.5" font-size="9.5" text-anchor="middle" fill="#000">0</text>
<line x1="89.20" y1="601.50" x2="89.20" y2="603.00" stroke="#444" stroke-width="0.6"/>
<text x="106.7" y="600.5" font-size="9.5" text-anchor="middle" fill="#000">10</text>
<line x1="106.67" y1="601.50" x2="106.67" y2="603.00" stroke="#444" stroke-width="0.6"/>
<text x="124.1" y="600.5" font-size="9.5" text-anchor="middle" fill="#000">20</text>
<line x1="124.14" y1="601.50" x2="124.14" y2="603.00" stroke="#444" stroke-width="0.6"/>
<rect x="89.20" y="604.30" width="41.93" height="12.70" fill="#555555"/>
<rect x="89.20" y="618.80" width="23.06" height="12.40" fill="#555555"/>
<rect x="89.20" y="632.80" width="17.82" height="13.00" fill="#555555"/>
<text x="85.7" y="614.5" font-size="9.5" text-anchor="end" fill="#000">Cell migration</text>
<text x="85.7" y="627.5" font-size="9.5" text-anchor="end" fill="#000">Wound healing</text>
<text x="85.7" y="637.5" font-size="9.5" text-anchor="end" fill="#000">Response to</text>
<text x="85.7" y="645.5" font-size="9.5" text-anchor="end" fill="#000">inorganic substance</text>
<line x1="154.25" y1="480.26" x2="158.45" y2="473.24" stroke="#111" stroke-width="0.8"/>
<path d="M159.22 471.95L159.43 475.10L156.34 473.26z" fill="#111"/>
<path d="M153.48 481.55L153.27 478.40L156.36 480.24z" fill="#111"/>
<line x1="157.90" y1="486.70" x2="166.70" y2="486.70" stroke="#111" stroke-width="0.8"/>
<path d="M168.20 486.70L165.60 488.50L165.60 484.90z" fill="#111"/>
<path d="M156.40 486.70L159.00 484.90L159.00 488.50z" fill="#111"/>
<circle cx="162.30" cy="466.80" r="4.80" fill="#f0262a" stroke="none" stroke-width="0.5"/>
<circle cx="150.40" cy="486.70" r="4.80" fill="#1fa0f0" stroke="none" stroke-width="0.5"/>
<circle cx="174.20" cy="486.70" r="4.80" fill="#3aa84a" stroke="none" stroke-width="0.5"/>
<text x="164.8" y="460.5" font-size="9.5" text-anchor="middle" fill="#000">HE</text>
<text x="150.4" y="502.0" font-size="9.5" text-anchor="middle" fill="#000">EC</text>
<text x="174.2" y="502.0" font-size="9.5" text-anchor="middle" fill="#000">MC</text>
<path d="M144.4 483.2 A3.3 3.3 0 1 0 144.4 489.7" fill="none" stroke="#111" stroke-width="0.9"/>
<path d="M144.90 489.70L142.63 491.90L142.04 488.35z" fill="#111"/>
<line x1="161.15" y1="546.94" x2="165.35" y2="553.96" stroke="#111" stroke-width="0.8"/>
<path d="M166.12 555.25L163.24 553.94L166.33 552.10z" fill="#111"/>
<path d="M160.38 545.65L163.26 546.96L160.17 548.80z" fill="#111"/>
<line x1="153.30" y1="560.40" x2="161.70" y2="560.40" stroke="#111" stroke-width="0.8"/>
<path d="M163.20 560.40L160.60 562.20L160.60 558.60z" fill="#111"/>
<path d="M151.80 560.40L154.40 558.60L154.40 562.20z" fill="#111"/>
<circle cx="157.30" cy="540.50" r="4.80" fill="#f0262a" stroke="none" stroke-width="0.5"/>
<circle cx="145.80" cy="560.40" r="4.80" fill="#1fa0f0" stroke="none" stroke-width="0.5"/>
<circle cx="169.20" cy="560.40" r="4.80" fill="#3aa84a" stroke="none" stroke-width="0.5"/>
<text x="157.3" y="534.0" font-size="9.5" text-anchor="middle" fill="#000">HE</text>
<text x="145.8" y="575.8" font-size="9.5" text-anchor="middle" fill="#000">EC</text>
<text x="169.2" y="575.8" font-size="9.5" text-anchor="middle" fill="#000">MC</text>
<path d="M175.2 556.9 A3.3 3.3 0 1 1 175.2 563.4" fill="none" stroke="#111" stroke-width="0.9"/>
<path d="M174.70 563.40L177.56 562.05L176.97 565.60z" fill="#111"/>
<line x1="155.14" y1="618.43" x2="150.86" y2="625.57" stroke="#111" stroke-width="0.8"/>
<path d="M150.09 626.86L149.88 623.70L152.97 625.55z" fill="#111"/>
<path d="M155.91 617.14L156.12 620.30L153.03 618.45z" fill="#111"/>
<line x1="162.86" y1="618.43" x2="167.14" y2="625.57" stroke="#111" stroke-width="0.8"/>
<path d="M167.91 626.86L165.03 625.55L168.12 623.70z" fill="#111"/>
<path d="M162.09 617.14L164.97 618.45L161.88 620.30z" fill="#111"/>
<circle cx="159.00" cy="612.00" r="4.80" fill="#f0262a" stroke="none" stroke-width="0.5"/>
<circle cx="147.00" cy="632.00" r="4.80" fill="#1fa0f0" stroke="none" stroke-width="0.5"/>
<circle cx="171.00" cy="632.00" r="4.80" fill="#3aa84a" stroke="none" stroke-width="0.5"/>
<text x="158.6" y="605.5" font-size="9.5" text-anchor="middle" fill="#000">HE</text>
<text x="147.0" y="646.5" font-size="9.5" text-anchor="middle" fill="#000">EC</text>
<text x="171.0" y="646.5" font-size="9.5" text-anchor="middle" fill="#000">MC</text>
<path d="M153 608.5 A3.3 3.3 0 1 0 153 615" fill="none" stroke="#111" stroke-width="0.9"/>
<path d="M153.50 615.00L151.23 617.20L150.64 613.65z" fill="#111"/>
<text x="524.0" y="20.0" font-size="15" text-anchor="start" fill="#000" font-weight="bold">d</text>
<line x1="613.20" y1="31.60" x2="635.90" y2="31.60" stroke="#333" stroke-width="0.9"/>
<circle cx="613.20" cy="31.60" r="6.10" fill="#f51d1d" stroke="none" stroke-width="0.5"/>
<circle cx="635.90" cy="31.60" r="6.10" fill="#1ea6f2" stroke="none" stroke-width="0.5"/>
<text x="605.7" y="35.6" font-size="11" text-anchor="end" fill="#000">HE</text>
<text x="644.1" y="35.6" font-size="11" text-anchor="start" fill="#000">EC</text>
<line x1="697.00" y1="31.60" x2="719.30" y2="31.60" stroke="#333" stroke-width="0.9"/>
<circle cx="697.00" cy="31.60" r="6.10" fill="#1ea6f2" stroke="none" stroke-width="0.5"/>
<circle cx="719.30" cy="31.60" r="6.10" fill="#3aa84a" stroke="none" stroke-width="0.5"/>
<text x="689.5" y="35.6" font-size="11" text-anchor="end" fill="#000">EC</text>
<text x="727.5" y="35.6" font-size="11" text-anchor="start" fill="#000">MC</text>
<line x1="781.40" y1="31.60" x2="803.70" y2="31.60" stroke="#333" stroke-width="0.9"/>
<circle cx="781.40" cy="31.60" r="6.10" fill="#f51d1d" stroke="none" stroke-width="0.5"/>
<circle cx="803.70" cy="31.60" r="6.10" fill="#3aa84a" stroke="none" stroke-width="0.5"/>
<text x="773.9" y="35.6" font-size="11" text-anchor="end" fill="#000">HE</text>
<text x="811.9" y="35.6" font-size="11" text-anchor="start" fill="#000">MC</text>
<rect x="583.70" y="40.60" width="40.90" height="9.80" fill="#cccccc"/>
<text x="604.2" y="49.2" font-size="10" text-anchor="middle" fill="#fff">HE</text>
<rect x="583.7" y="51.4" width="40.9" height="67.2" fill="#fff" stroke="#e0e0e0" stroke-width="0.7"/>
<line x1="583.70" y1="105.00" x2="624.60" y2="105.00" stroke="#f0f0f0" stroke-width="0.5"/>
<line x1="583.70" y1="79.45" x2="624.60" y2="79.45" stroke="#f0f0f0" stroke-width="0.5"/>
<line x1="583.70" y1="53.90" x2="624.60" y2="53.90" stroke="#f0f0f0" stroke-width="0.5"/>
<line x1="594.93" y1="80.73" x2="594.93" y2="88.39" stroke="#333" stroke-width="0.7"/>
<line x1="594.93" y1="96.06" x2="594.93" y2="99.89" stroke="#333" stroke-width="0.7"/>
<rect x="587.9" y="88.4" width="14" height="7.7" fill="#d6d6d6" stroke="#333" stroke-width="0.7"/>
<line x1="587.93" y1="92.22" x2="601.93" y2="92.22" stroke="#333" stroke-width="1.2"/>
<circle cx="594.93" cy="64.12" r="0.90" fill="#222" stroke="none" stroke-width="0.5"/>
<line x1="594.93" y1="118.60" x2="594.93" y2="120.60" stroke="#333" stroke-width="0.7"/>
<text x="594.9" y="132.8" font-size="11" text-anchor="middle" fill="#000">L</text>
<line x1="613.38" y1="82.00" x2="613.38" y2="93.50" stroke="#333" stroke-width="0.7"/>
<line x1="613.38" y1="106.28" x2="613.38" y2="115.22" stroke="#333" stroke-width="0.7"/>
<rect x="606.4" y="93.5" width="14" height="12.8" fill="#d6d6d6" stroke="#333" stroke-width="0.7"/>
<line x1="606.38" y1="101.17" x2="620.38" y2="101.17" stroke="#333" stroke-width="1.2"/>
<circle cx="613.38" cy="75.62" r="0.90" fill="#222" stroke="none" stroke-width="0.5"/>
<line x1="613.38" y1="118.60" x2="613.38" y2="120.60" stroke="#333" stroke-width="0.7"/>
<text x="613.4" y="132.8" font-size="11" text-anchor="middle" fill="#000">R</text>
<rect x="625.80" y="40.60" width="41.40" height="9.80" fill="#cccccc"/>
<text x="646.5" y="49.2" font-size="10" text-anchor="middle" fill="#fff">EC</text>
<rect x="625.8" y="51.4" width="41.4" height="67.2" fill="#fff" stroke="#e0e0e0" stroke-width="0.7"/>
<line x1="625.80" y1="105.00" x2="667.20" y2="105.00" stroke="#f0f0f0" stroke-width="0.5"/>
<line x1="625.80" y1="79.45" x2="667.20" y2="79.45" stroke="#f0f0f0" stroke-width="0.5"/>
<line x1="625.80" y1="53.90" x2="667.20" y2="53.90" stroke="#f0f0f0" stroke-width="0.5"/>
<line x1="637.15" y1="78.17" x2="637.15" y2="85.84" stroke="#333" stroke-width="0.7"/>
<line x1="637.15" y1="96.06" x2="637.15" y2="105.00" stroke="#333" stroke-width="0.7"/>
<rect x="630.1" y="85.8" width="14" height="10.2" fill="#d6d6d6" stroke="#333" stroke-width="0.7"/>
<line x1="630.15" y1="92.22" x2="644.15" y2="92.22" stroke="#333" stroke-width="1.2"/>
<line x1="637.15" y1="118.60" x2="637.15" y2="120.60" stroke="#333" stroke-width="0.7"/>
<text x="637.1" y="132.8" font-size="11" text-anchor="middle" fill="#000">L</text>
<line x1="655.85" y1="67.95" x2="655.85" y2="78.17" stroke="#333" stroke-width="0.7"/>
<line x1="655.85" y1="94.78" x2="655.85" y2="102.44" stroke="#333" stroke-width="0.7"/>
<rect x="648.9" y="78.2" width="14" height="16.6" fill="#d6d6d6" stroke="#333" stroke-width="0.7"/>
<line x1="648.85" y1="87.11" x2="662.85" y2="87.11" stroke="#333" stroke-width="1.2"/>
<line x1="655.85" y1="118.60" x2="655.85" y2="120.60" stroke="#333" stroke-width="0.7"/>
<text x="655.9" y="132.8" font-size="11" text-anchor="middle" fill="#000">R</text>
<rect x="669.00" y="40.60" width="41.40" height="9.80" fill="#cccccc"/>
<text x="689.7" y="49.2" font-size="10" text-anchor="middle" fill="#fff">EC</text>
<rect x="669.0" y="51.4" width="41.4" height="67.2" fill="#fff" stroke="#e0e0e0" stroke-width="0.7"/>
<line x1="669.00" y1="105.00" x2="710.40" y2="105.00" stroke="#f0f0f0" stroke-width="0.5"/>
<line x1="669.00" y1="79.45" x2="710.40" y2="79.45" stroke="#f0f0f0" stroke-width="0.5"/>
<line x1="669.00" y1="53.90" x2="710.40" y2="53.90" stroke="#f0f0f0" stroke-width="0.5"/>
<line x1="680.35" y1="74.34" x2="680.35" y2="82.00" stroke="#333" stroke-width="0.7"/>
<line x1="680.35" y1="92.22" x2="680.35" y2="105.00" stroke="#333" stroke-width="0.7"/>
<rect x="673.4" y="82.0" width="14" height="10.2" fill="#d6d6d6" stroke="#333" stroke-width="0.7"/>
<line x1="673.35" y1="88.39" x2="687.35" y2="88.39" stroke="#333" stroke-width="1.2"/>
<line x1="680.35" y1="118.60" x2="680.35" y2="120.60" stroke="#333" stroke-width="0.7"/>
<text x="680.4" y="132.8" font-size="11" text-anchor="middle" fill="#000">L</text>
<line x1="699.05" y1="69.23" x2="699.05" y2="78.17" stroke="#333" stroke-width="0.7"/>
<line x1="699.05" y1="96.06" x2="699.05" y2="105.00" stroke="#333" stroke-width="0.7"/>
<rect x="692.0" y="78.2" width="14" height="17.9" fill="#d6d6d6" stroke="#333" stroke-width="0.7"/>
<line x1="692.05" y1="85.84" x2="706.05" y2="85.84" stroke="#333" stroke-width="1.2"/>
<line x1="699.05" y1="118.60" x2="699.05" y2="120.60" stroke="#333" stroke-width="0.7"/>
<text x="699.0" y="132.8" font-size="11" text-anchor="middle" fill="#000">R</text>
<rect x="712.00" y="40.60" width="40.70" height="9.80" fill="#cccccc"/>
<text x="732.4" y="49.2" font-size="10" text-anchor="middle" fill="#fff">MC</text>
<rect x="712.0" y="51.4" width="40.7" height="67.2" fill="#fff" stroke="#e0e0e0" stroke-width="0.7"/>
<line x1="712.00" y1="105.00" x2="752.70" y2="105.00" stroke="#f0f0f0" stroke-width="0.5"/>
<line x1="712.00" y1="79.45" x2="752.70" y2="79.45" stroke="#f0f0f0" stroke-width="0.5"/>
<line x1="712.00" y1="53.90" x2="752.70" y2="53.90" stroke="#f0f0f0" stroke-width="0.5"/>
<line x1="723.17" y1="61.56" x2="723.17" y2="76.89" stroke="#333" stroke-width="0.7"/>
<line x1="723.17" y1="90.95" x2="723.17" y2="103.72" stroke="#333" stroke-width="0.7"/>
<rect x="716.2" y="76.9" width="14" height="14.1" fill="#d6d6d6" stroke="#333" stroke-width="0.7"/>
<line x1="716.17" y1="85.84" x2="730.17" y2="85.84" stroke="#333" stroke-width="1.2"/>
<line x1="723.17" y1="118.60" x2="723.17" y2="120.60" stroke="#333" stroke-width="0.7"/>
<text x="723.2" y="132.8" font-size="11" text-anchor="middle" fill="#000">L</text>
<line x1="741.53" y1="74.34" x2="741.53" y2="87.11" stroke="#333" stroke-width="0.7"/>
<line x1="741.53" y1="94.78" x2="741.53" y2="103.72" stroke="#333" stroke-width="0.7"/>
<rect x="734.5" y="87.1" width="14" height="7.7" fill="#d6d6d6" stroke="#333" stroke-width="0.7"/>
<line x1="734.53" y1="89.67" x2="748.53" y2="89.67" stroke="#333" stroke-width="1.2"/>
<circle cx="741.53" cy="107.56" r="0.90" fill="#222" stroke="none" stroke-width="0.5"/>
<circle cx="741.53" cy="106.28" r="0.90" fill="#222" stroke="none" stroke-width="0.5"/>
<line x1="741.53" y1="118.60" x2="741.53" y2="120.60" stroke="#333" stroke-width="0.7"/>
<text x="741.5" y="132.8" font-size="11" text-anchor="middle" fill="#000">R</text>
<rect x="754.50" y="40.60" width="41.10" height="9.80" fill="#cccccc"/>
<text x="775.0" y="49.2" font-size="10" text-anchor="middle" fill="#fff">HE</text>
<rect x="754.5" y="51.4" width="41.1" height="67.2" fill="#fff" stroke="#e0e0e0" stroke-width="0.7"/>
<line x1="754.50" y1="105.00" x2="795.60" y2="105.00" stroke="#f0f0f0" stroke-width="0.5"/>
<line x1="754.50" y1="79.45" x2="795.60" y2="79.45" stroke="#f0f0f0" stroke-width="0.5"/>
<line x1="754.50" y1="53.90" x2="795.60" y2="53.90" stroke="#f0f0f0" stroke-width="0.5"/>
<line x1="765.77" y1="78.17" x2="765.77" y2="84.56" stroke="#333" stroke-width="0.7"/>
<line x1="765.77" y1="96.06" x2="765.77" y2="105.00" stroke="#333" stroke-width="0.7"/>
<rect x="758.8" y="84.6" width="14" height="11.5" fill="#d6d6d6" stroke="#333" stroke-width="0.7"/>
<line x1="758.77" y1="92.22" x2="772.77" y2="92.22" stroke="#333" stroke-width="1.2"/>
<circle cx="765.77" cy="60.29" r="0.90" fill="#222" stroke="none" stroke-width="0.5"/>
<line x1="765.77" y1="118.60" x2="765.77" y2="120.60" stroke="#333" stroke-width="0.7"/>
<text x="765.8" y="132.8" font-size="11" text-anchor="middle" fill="#000">L</text>
<line x1="784.33" y1="73.06" x2="784.33" y2="93.50" stroke="#333" stroke-width="0.7"/>
<line x1="784.33" y1="108.83" x2="784.33" y2="116.50" stroke="#333" stroke-width="0.7"/>
<rect x="777.3" y="93.5" width="14" height="15.3" fill="#d6d6d6" stroke="#333" stroke-width="0.7"/>
<line x1="777.33" y1="103.72" x2="791.33" y2="103.72" stroke="#333" stroke-width="1.2"/>
<line x1="784.33" y1="118.60" x2="784.33" y2="120.60" stroke="#333" stroke-width="0.7"/>
<text x="784.3" y="132.8" font-size="11" text-anchor="middle" fill="#000">R</text>
<rect x="797.00" y="40.60" width="41.20" height="9.80" fill="#cccccc"/>
<text x="817.6" y="49.2" font-size="10" text-anchor="middle" fill="#fff">MC</text>
<rect x="797.0" y="51.4" width="41.2" height="67.2" fill="#fff" stroke="#e0e0e0" stroke-width="0.7"/>
<line x1="797.00" y1="105.00" x2="838.20" y2="105.00" stroke="#f0f0f0" stroke-width="0.5"/>
<line x1="797.00" y1="79.45" x2="838.20" y2="79.45" stroke="#f0f0f0" stroke-width="0.5"/>
<line x1="797.00" y1="53.90" x2="838.20" y2="53.90" stroke="#f0f0f0" stroke-width="0.5"/>
<line x1="808.30" y1="56.45" x2="808.30" y2="74.34" stroke="#333" stroke-width="0.7"/>
<line x1="808.30" y1="88.39" x2="808.30" y2="102.44" stroke="#333" stroke-width="0.7"/>
<rect x="801.3" y="74.3" width="14" height="14.1" fill="#d6d6d6" stroke="#333" stroke-width="0.7"/>
<line x1="801.30" y1="83.28" x2="815.30" y2="83.28" stroke="#333" stroke-width="1.2"/>
<line x1="808.30" y1="118.60" x2="808.30" y2="120.60" stroke="#333" stroke-width="0.7"/>
<text x="808.3" y="132.8" font-size="11" text-anchor="middle" fill="#000">L</text>
<line x1="826.90" y1="74.34" x2="826.90" y2="84.56" stroke="#333" stroke-width="0.7"/>
<line x1="826.90" y1="93.50" x2="826.90" y2="108.83" stroke="#333" stroke-width="0.7"/>
<rect x="819.9" y="84.6" width="14" height="8.9" fill="#d6d6d6" stroke="#333" stroke-width="0.7"/>
<line x1="819.90" y1="88.39" x2="833.90" y2="88.39" stroke="#333" stroke-width="1.2"/>
<line x1="826.90" y1="118.60" x2="826.90" y2="120.60" stroke="#333" stroke-width="0.7"/>
<text x="826.9" y="132.8" font-size="11" text-anchor="middle" fill="#000">R</text>
<text x="580.5" y="57.7" font-size="11" text-anchor="end" fill="#000">300</text>
<line x1="581.50" y1="53.90" x2="583.70" y2="53.90" stroke="#333" stroke-width="0.7"/>
<text x="580.5" y="83.2" font-size="11" text-anchor="end" fill="#000">200</text>
<line x1="581.50" y1="79.45" x2="583.70" y2="79.45" stroke="#333" stroke-width="0.7"/>
<text x="580.5" y="108.8" font-size="11" text-anchor="end" fill="#000">100</text>
<line x1="581.50" y1="105.00" x2="583.70" y2="105.00" stroke="#333" stroke-width="0.7"/>
<text x="547.6" y="82.5" font-size="10.6" text-anchor="middle" fill="#000" transform="rotate(-90 547.6 82.5)"># of ligands/receptors</text>
<text x="560.0" y="83.0" font-size="10.6" text-anchor="middle" fill="#000" transform="rotate(-90 560 83)">per interacting cell</text>
<text x="583.4" y="152.8" font-size="10.8" text-anchor="start" fill="#000">L = Ligand</text>
<text x="646.4" y="152.8" font-size="10.8" text-anchor="start" fill="#000">R = Receptor</text>
<text x="524.0" y="194.0" font-size="15" text-anchor="start" fill="#000" font-weight="bold">e</text>
<rect x="589.0" y="193.4" width="221.5" height="80.1" fill="#fff" stroke="#dcdcdc" stroke-width="0.7"/>
<line x1="589.00" y1="269.40" x2="810.50" y2="269.40" stroke="#eeeeee" stroke-width="0.5"/>
<text x="584.5" y="273.2" font-size="11" text-anchor="end" fill="#000">0</text>
<line x1="585.50" y1="269.40" x2="589.00" y2="269.40" stroke="#333" stroke-width="0.7"/>
<line x1="589.00" y1="247.77" x2="810.50" y2="247.77" stroke="#eeeeee" stroke-width="0.5"/>
<text x="584.5" y="251.6" font-size="11" text-anchor="end" fill="#000">20</text>
<line x1="585.50" y1="247.77" x2="589.00" y2="247.77" stroke="#333" stroke-width="0.7"/>
<line x1="589.00" y1="226.13" x2="810.50" y2="226.13" stroke="#eeeeee" stroke-width="0.5"/>
<text x="584.5" y="229.9" font-size="11" text-anchor="end" fill="#000">40</text>
<line x1="585.50" y1="226.13" x2="589.00" y2="226.13" stroke="#333" stroke-width="0.7"/>
<line x1="589.00" y1="204.50" x2="810.50" y2="204.50" stroke="#eeeeee" stroke-width="0.5"/>
<text x="584.5" y="208.3" font-size="11" text-anchor="end" fill="#000">60</text>
<line x1="585.50" y1="204.50" x2="589.00" y2="204.50" stroke="#333" stroke-width="0.7"/>
<line x1="603.70" y1="193.40" x2="603.70" y2="273.50" stroke="#f2f2f2" stroke-width="0.5"/>
<line x1="627.90" y1="193.40" x2="627.90" y2="273.50" stroke="#f2f2f2" stroke-width="0.5"/>
<line x1="652.10" y1="193.40" x2="652.10" y2="273.50" stroke="#f2f2f2" stroke-width="0.5"/>
<line x1="676.30" y1="193.40" x2="676.30" y2="273.50" stroke="#f2f2f2" stroke-width="0.5"/>
<line x1="700.50" y1="193.40" x2="700.50" y2="273.50" stroke="#f2f2f2" stroke-width="0.5"/>
<line x1="724.70" y1="193.40" x2="724.70" y2="273.50" stroke="#f2f2f2" stroke-width="0.5"/>
<line x1="748.90" y1="193.40" x2="748.90" y2="273.50" stroke="#f2f2f2" stroke-width="0.5"/>
<line x1="773.10" y1="193.40" x2="773.10" y2="273.50" stroke="#f2f2f2" stroke-width="0.5"/>
<line x1="797.30" y1="193.40" x2="797.30" y2="273.50" stroke="#f2f2f2" stroke-width="0.5"/>
<text x="559.3" y="238.0" font-size="10.6" text-anchor="middle" fill="#000" transform="rotate(-90 559.3 238)"># of potential</text>
<text x="570.6" y="237.0" font-size="10.6" text-anchor="middle" fill="#000" transform="rotate(-90 570.6 237)">cell interactions</text>
<path d="M603.7 269.4C602.1 269.4 595.7 269.6 594.2 269.4C592.7 269.2 594.0 268.7 594.7 268.3C595.5 268.0 597.5 267.6 598.7 267.2C599.9 266.9 601.0 266.5 601.7 266.2C602.4 265.8 602.5 265.6 602.7 265.1C602.9 264.5 603.0 264.4 603.1 262.9C603.2 261.5 603.2 261.6 603.3 256.4C603.4 251.2 603.3 235.7 603.4 231.5C603.5 227.4 603.7 231.5 603.7 231.5L603.7 231.5C603.8 231.5 603.9 227.4 604.0 231.5C604.1 235.7 604.0 251.2 604.1 256.4C604.2 261.6 604.2 261.5 604.3 262.9C604.4 264.4 604.5 264.5 604.7 265.1C604.9 265.6 605.0 265.8 605.7 266.2C606.4 266.5 607.5 266.9 608.7 267.2C609.9 267.6 612.0 268.0 612.7 268.3C613.5 268.7 614.7 269.2 613.2 269.4C611.7 269.6 605.3 269.4 603.7 269.4Z" fill="#ff0a0a" stroke="#222" stroke-width="0.6"/>
<circle cx="600.45" cy="240.48" r="0.85" fill="#111" stroke="none" stroke-width="0.5"/>
<circle cx="610.53" cy="267.89" r="0.85" fill="#111" stroke="none" stroke-width="0.5"/>
<circle cx="601.14" cy="269.03" r="0.85" fill="#111" stroke="none" stroke-width="0.5"/>
<circle cx="601.73" cy="269.07" r="0.85" fill="#111" stroke="none" stroke-width="0.5"/>
<circle cx="596.48" cy="268.81" r="0.85" fill="#111" stroke="none" stroke-width="0.5"/>
<circle cx="600.42" cy="266.81" r="0.85" fill="#111" stroke="none" stroke-width="0.5"/>
<circle cx="609.68" cy="269.39" r="0.85" fill="#111" stroke="none" stroke-width="0.5"/>
<circle cx="602.25" cy="266.28" r="0.85" fill="#111" stroke="none" stroke-width="0.5"/>
<circle cx="601.50" cy="266.28" r="0.85" fill="#111" stroke="none" stroke-width="0.5"/>
<circle cx="602.31" cy="266.26" r="0.85" fill="#111" stroke="none" stroke-width="0.5"/>
<circle cx="598.99" cy="268.23" r="0.85" fill="#111" stroke="none" stroke-width="0.5"/>
<circle cx="605.69" cy="268.32" r="0.85" fill="#111" stroke="none" stroke-width="0.5"/>
<circle cx="607.09" cy="267.10" r="0.85" fill="#111" stroke="none" stroke-width="0.5"/>
<circle cx="603.24" cy="267.84" r="0.85" fill="#111" stroke="none" stroke-width="0.5"/>
<circle cx="613.24" cy="268.83" r="0.85" fill="#111" stroke="none" stroke-width="0.5"/>
<circle cx="605.69" cy="252.16" r="0.85" fill="#111" stroke="none" stroke-width="0.5"/>
<circle cx="602.77" cy="268.21" r="0.85" fill="#111" stroke="none" stroke-width="0.5"/>
<circle cx="599.64" cy="267.10" r="0.85" fill="#111" stroke="none" stroke-width="0.5"/>
<circle cx="600.43" cy="268.60" r="0.85" fill="#111" stroke="none" stroke-width="0.5"/>
<circle cx="595.82" cy="268.25" r="0.85" fill="#111" stroke="none" stroke-width="0.5"/>
<circle cx="599.16" cy="266.97" r="0.85" fill="#111" stroke="none" stroke-width="0.5"/>
<circle cx="603.79" cy="266.33" r="0.85" fill="#111" stroke="none" stroke-width="0.5"/>
<circle cx="612.14" cy="268.22" r="0.85" fill="#111" stroke="none" stroke-width="0.5"/>
<circle cx="600.82" cy="267.63" r="0.85" fill="#111" stroke="none" stroke-width="0.5"/>
<circle cx="608.05" cy="266.81" r="0.85" fill="#111" stroke="none" stroke-width="0.5"/>
<circle cx="606.62" cy="264.47" r="0.85" fill="#111" stroke="none" stroke-width="0.5"/>
<circle cx="610.79" cy="269.30" r="0.85" fill="#111" stroke="none" stroke-width="0.5"/>
<circle cx="612.00" cy="267.92" r="0.85" fill="#111" stroke="none" stroke-width="0.5"/>
<circle cx="607.86" cy="267.33" r="0.85" fill="#111" stroke="none" stroke-width="0.5"/>
<circle cx="606.49" cy="268.98" r="0.85" fill="#111" stroke="none" stroke-width="0.5"/>
<line x1="603.70" y1="266.15" x2="603.70" y2="231.54" stroke="#555" stroke-width="0.5"/>
<path d="M627.9 269.4C626.2 269.4 619.7 269.9 617.9 269.4C616.2 268.9 617.2 267.2 617.4 266.2C617.6 265.1 618.2 264.2 618.9 262.9C619.7 261.6 621.1 260.2 621.9 258.6C622.7 257.0 623.6 255.9 623.9 253.2C624.2 250.5 624.1 245.4 623.9 242.4C623.7 239.3 622.8 237.1 622.9 234.8C623.0 232.4 623.9 230.6 624.4 228.3C624.9 226.0 625.5 222.9 625.9 220.7C626.4 218.6 626.8 216.6 627.1 215.3C627.4 214.1 627.8 213.5 627.9 213.2L627.9 213.2C628.0 213.5 628.4 214.1 628.7 215.3C629.0 216.6 629.5 218.6 629.9 220.7C630.4 222.9 630.9 226.0 631.4 228.3C631.9 230.6 632.8 232.4 632.9 234.8C633.0 237.1 632.1 239.3 631.9 242.4C631.7 245.4 631.6 250.5 631.9 253.2C632.2 255.9 633.1 257.0 633.9 258.6C634.7 260.2 636.2 261.6 636.9 262.9C637.7 264.2 638.2 265.1 638.4 266.2C638.6 267.2 639.7 268.9 637.9 269.4C636.2 269.9 629.6 269.4 627.9 269.4Z" fill="#ff0a0a" stroke="#222" stroke-width="0.6"/>
<circle cx="625.09" cy="264.29" r="0.85" fill="#111" stroke="none" stroke-width="0.5"/>
<circle cx="626.82" cy="269.02" r="0.85" fill="#111" stroke="none" stroke-width="0.5"/>
<circle cx="627.58" cy="221.46" r="0.85" fill="#111" stroke="none" stroke-width="0.5"/>
<circle cx="622.45" cy="266.23" r="0.85" fill="#111" stroke="none" stroke-width="0.5"/>
<circle cx="624.94" cy="266.35" r="0.85" fill="#111" stroke="none" stroke-width="0.5"/>
<circle cx="630.92" cy="215.41" r="0.85" fill="#111" stroke="none" stroke-width="0.5"/>
<circle cx="622.98" cy="263.77" r="0.85" fill="#111" stroke="none" stroke-width="0.5"/>
<circle cx="618.20" cy="264.32" r="0.85" fill="#111" stroke="none" stroke-width="0.5"/>
<circle cx="629.41" cy="249.39" r="0.85" fill="#111" stroke="none" stroke-width="0.5"/>
<circle cx="629.45" cy="248.96" r="0.85" fill="#111" stroke="none" stroke-width="0.5"/>
<circle cx="630.13" cy="254.50" r="0.85" fill="#111" stroke="none" stroke-width="0.5"/>
<circle cx="629.59" cy="263.19" r="0.85" fill="#111" stroke="none" stroke-width="0.5"/>
<circle cx="623.89" cy="269.32" r="0.85" fill="#111" stroke="none" stroke-width="0.5"/>
<circle cx="629.26" cy="253.15" r="0.85" fill="#111" stroke="none" stroke-width="0.5"/>
<circle cx="626.48" cy="249.83" r="0.85" fill="#111" stroke="none" stroke-width="0.5"/>
<circle cx="635.72" cy="263.32" r="0.85" fill="#111" stroke="none" stroke-width="0.5"/>
<circle cx="628.31" cy="264.93" r="0.85" fill="#111" stroke="none" stroke-width="0.5"/>
<circle cx="638.37" cy="265.96" r="0.85" fill="#111" stroke="none" stroke-width="0.5"/>
<circle cx="629.48" cy="230.51" r="0.85" fill="#111" stroke="none" stroke-width="0.5"/>
<circle cx="628.09" cy="234.71" r="0.85" fill="#111" stroke="none" stroke-width="0.5"/>
<circle cx="630.43" cy="252.38" r="0.85" fill="#111" stroke="none" stroke-width="0.5"/>
<circle cx="620.84" cy="265.27" r="0.85" fill="#111" stroke="none" stroke-width="0.5"/>
<circle cx="621.28" cy="265.59" r="0.85" fill="#111" stroke="none" stroke-width="0.5"/>
<circle cx="639.02" cy="264.95" r="0.85" fill="#111" stroke="none" stroke-width="0.5"/>
<circle cx="619.79" cy="263.04" r="0.85" fill="#111" stroke="none" stroke-width="0.5"/>
<circle cx="623.61" cy="242.25" r="0.85" fill="#111" stroke="none" stroke-width="0.5"/>
<circle cx="623.96" cy="248.01" r="0.85" fill="#111" stroke="none" stroke-width="0.5"/>
<circle cx="616.18" cy="268.07" r="0.85" fill="#111" stroke="none" stroke-width="0.5"/>
<circle cx="636.67" cy="266.77" r="0.85" fill="#111" stroke="none" stroke-width="0.5"/>
<circle cx="629.04" cy="264.93" r="0.85" fill="#111" stroke="none" stroke-width="0.5"/>
<circle cx="626.42" cy="252.79" r="0.85" fill="#111" stroke="none" stroke-width="0.5"/>
<circle cx="625.99" cy="265.63" r="0.85" fill="#111" stroke="none" stroke-width="0.5"/>
<circle cx="627.18" cy="264.12" r="0.85" fill="#111" stroke="none" stroke-width="0.5"/>
<circle cx="638.58" cy="268.38" r="0.85" fill="#111" stroke="none" stroke-width="0.5"/>
<circle cx="634.62" cy="263.12" r="0.85" fill="#111" stroke="none" stroke-width="0.5"/>
<circle cx="629.42" cy="265.11" r="0.85" fill="#111" stroke="none" stroke-width="0.5"/>
<circle cx="634.84" cy="261.49" r="0.85" fill="#111" stroke="none" stroke-width="0.5"/>
<circle cx="627.74" cy="265.74" r="0.85" fill="#111" stroke="none" stroke-width="0.5"/>
<circle cx="639.01" cy="266.29" r="0.85" fill="#111" stroke="none" stroke-width="0.5"/>
<circle cx="633.03" cy="263.47" r="0.85" fill="#111" stroke="none" stroke-width="0.5"/>
<circle cx="623.62" cy="267.45" r="0.85" fill="#111" stroke="none" stroke-width="0.5"/>
<circle cx="620.48" cy="263.01" r="0.85" fill="#111" stroke="none" stroke-width="0.5"/>
<circle cx="622.03" cy="269.25" r="0.85" fill="#111" stroke="none" stroke-width="0.5"/>
<circle cx="616.66" cy="269.14" r="0.85" fill="#111" stroke="none" stroke-width="0.5"/>
<circle cx="634.64" cy="265.94" r="0.85" fill="#111" stroke="none" stroke-width="0.5"/>
<circle cx="633.12" cy="267.81" r="0.85" fill="#111" stroke="none" stroke-width="0.5"/>
<circle cx="628.33" cy="267.55" r="0.85" fill="#111" stroke="none" stroke-width="0.5"/>
<circle cx="617.43" cy="263.80" r="0.85" fill="#111" stroke="none" stroke-width="0.5"/>
<circle cx="626.34" cy="253.52" r="0.85" fill="#111" stroke="none" stroke-width="0.5"/>
<circle cx="624.34" cy="267.47" r="0.85" fill="#111" stroke="none" stroke-width="0.5"/>
<circle cx="617.29" cy="264.98" r="0.85" fill="#111" stroke="none" stroke-width="0.5"/>
<circle cx="637.05" cy="267.76" r="0.85" fill="#111" stroke="none" stroke-width="0.5"/>
<circle cx="630.16" cy="265.86" r="0.85" fill="#111" stroke="none" stroke-width="0.5"/>
<circle cx="627.77" cy="215.78" r="0.85" fill="#111" stroke="none" stroke-width="0.5"/>
<circle cx="631.79" cy="263.48" r="0.85" fill="#111" stroke="none" stroke-width="0.5"/>
<path d="M652.1 269.4C650.4 269.4 643.8 270.3 642.1 269.4C640.4 268.5 641.8 265.8 642.1 264.0C642.4 262.2 643.4 261.3 644.1 258.6C644.8 255.9 645.6 251.4 646.1 247.8C646.6 244.2 647.0 240.6 647.1 236.9C647.2 233.3 646.6 229.7 646.6 226.1C646.6 222.5 647.2 218.6 647.1 215.3C647.0 212.1 646.2 209.2 646.1 206.7C646.0 204.1 646.4 201.8 646.6 200.2C646.8 198.6 646.2 197.5 647.1 196.9C648.0 196.4 651.3 196.9 652.1 196.9L652.1 196.9C652.9 196.9 656.2 196.4 657.1 196.9C658.0 197.5 657.4 198.6 657.6 200.2C657.8 201.8 658.2 204.1 658.1 206.7C658.0 209.2 657.2 212.1 657.1 215.3C657.0 218.6 657.6 222.5 657.6 226.1C657.6 229.7 657.0 233.3 657.1 236.9C657.2 240.6 657.6 244.2 658.1 247.8C658.6 251.4 659.4 255.9 660.1 258.6C660.8 261.3 661.8 262.2 662.1 264.0C662.4 265.8 663.8 268.5 662.1 269.4C660.4 270.3 653.8 269.4 652.1 269.4Z" fill="#ff0a0a" stroke="#222" stroke-width="0.6"/>
<circle cx="659.69" cy="265.51" r="0.85" fill="#111" stroke="none" stroke-width="0.5"/>
<circle cx="655.79" cy="208.79" r="0.85" fill="#111" stroke="none" stroke-width="0.5"/>
<circle cx="661.55" cy="266.25" r="0.85" fill="#111" stroke="none" stroke-width="0.5"/>
<circle cx="656.66" cy="234.73" r="0.85" fill="#111" stroke="none" stroke-width="0.5"/>
<circle cx="654.07" cy="264.14" r="0.85" fill="#111" stroke="none" stroke-width="0.5"/>
<circle cx="646.75" cy="265.01" r="0.85" fill="#111" stroke="none" stroke-width="0.5"/>
<circle cx="648.26" cy="268.94" r="0.85" fill="#111" stroke="none" stroke-width="0.5"/>
<circle cx="656.73" cy="267.08" r="0.85" fill="#111" stroke="none" stroke-width="0.5"/>
<circle cx="654.73" cy="269.14" r="0.85" fill="#111" stroke="none" stroke-width="0.5"/>
<circle cx="663.46" cy="264.94" r="0.85" fill="#111" stroke="none" stroke-width="0.5"/>
<circle cx="654.64" cy="265.58" r="0.85" fill="#111" stroke="none" stroke-width="0.5"/>
<circle cx="646.93" cy="257.72" r="0.85" fill="#111" stroke="none" stroke-width="0.5"/>
<circle cx="646.89" cy="221.55" r="0.85" fill="#111" stroke="none" stroke-width="0.5"/>
<circle cx="650.83" cy="227.71" r="0.85" fill="#111" stroke="none" stroke-width="0.5"/>
<circle cx="647.84" cy="266.03" r="0.85" fill="#111" stroke="none" stroke-width="0.5"/>
<circle cx="650.61" cy="233.92" r="0.85" fill="#111" stroke="none" stroke-width="0.5"/>
<circle cx="653.68" cy="269.10" r="0.85" fill="#111" stroke="none" stroke-width="0.5"/>
<circle cx="652.80" cy="248.37" r="0.85" fill="#111" stroke="none" stroke-width="0.5"/>
<circle cx="646.45" cy="268.21" r="0.85" fill="#111" stroke="none" stroke-width="0.5"/>
<circle cx="659.18" cy="265.34" r="0.85" fill="#111" stroke="none" stroke-width="0.5"/>
<circle cx="644.72" cy="264.73" r="0.85" fill="#111" stroke="none" stroke-width="0.5"/>
<circle cx="653.78" cy="265.54" r="0.85" fill="#111" stroke="none" stroke-width="0.5"/>
<circle cx="653.39" cy="206.83" r="0.85" fill="#111" stroke="none" stroke-width="0.5"/>
<circle cx="662.76" cy="268.11" r="0.85" fill="#111" stroke="none" stroke-width="0.5"/>
<circle cx="654.83" cy="230.94" r="0.85" fill="#111" stroke="none" stroke-width="0.5"/>
<circle cx="656.27" cy="269.11" r="0.85" fill="#111" stroke="none" stroke-width="0.5"/>
<circle cx="651.93" cy="260.99" r="0.85" fill="#111" stroke="none" stroke-width="0.5"/>
<circle cx="648.75" cy="268.26" r="0.85" fill="#111" stroke="none" stroke-width="0.5"/>
<circle cx="654.82" cy="245.25" r="0.85" fill="#111" stroke="none" stroke-width="0.5"/>
<circle cx="656.26" cy="242.00" r="0.85" fill="#111" stroke="none" stroke-width="0.5"/>
<circle cx="662.71" cy="265.90" r="0.85" fill="#111" stroke="none" stroke-width="0.5"/>
<circle cx="645.54" cy="266.77" r="0.85" fill="#111" stroke="none" stroke-width="0.5"/>
<circle cx="641.36" cy="268.42" r="0.85" fill="#111" stroke="none" stroke-width="0.5"/>
<circle cx="655.81" cy="268.31" r="0.85" fill="#111" stroke="none" stroke-width="0.5"/>
<circle cx="661.06" cy="267.52" r="0.85" fill="#111" stroke="none" stroke-width="0.5"/>
<circle cx="651.22" cy="266.05" r="0.85" fill="#111" stroke="none" stroke-width="0.5"/>
<circle cx="649.22" cy="268.36" r="0.85" fill="#111" stroke="none" stroke-width="0.5"/>
<circle cx="653.30" cy="267.31" r="0.85" fill="#111" stroke="none" stroke-width="0.5"/>
<circle cx="656.06" cy="268.80" r="0.85" fill="#111" stroke="none" stroke-width="0.5"/>
<circle cx="661.86" cy="269.22" r="0.85" fill="#111" stroke="none" stroke-width="0.5"/>
<circle cx="645.94" cy="201.43" r="0.85" fill="#111" stroke="none" stroke-width="0.5"/>
<circle cx="643.31" cy="266.93" r="0.85" fill="#111" stroke="none" stroke-width="0.5"/>
<circle cx="648.45" cy="248.30" r="0.85" fill="#111" stroke="none" stroke-width="0.5"/>
<circle cx="641.17" cy="266.97" r="0.85" fill="#111" stroke="none" stroke-width="0.5"/>
<circle cx="661.57" cy="268.15" r="0.85" fill="#111" stroke="none" stroke-width="0.5"/>
<circle cx="651.36" cy="265.58" r="0.85" fill="#111" stroke="none" stroke-width="0.5"/>
<circle cx="651.73" cy="216.33" r="0.85" fill="#111" stroke="none" stroke-width="0.5"/>
<circle cx="662.23" cy="265.20" r="0.85" fill="#111" stroke="none" stroke-width="0.5"/>
<circle cx="640.74" cy="265.91" r="0.85" fill="#111" stroke="none" stroke-width="0.5"/>
<circle cx="644.50" cy="269.07" r="0.85" fill="#111" stroke="none" stroke-width="0.5"/>
<circle cx="652.96" cy="208.85" r="0.85" fill="#111" stroke="none" stroke-width="0.5"/>
<circle cx="661.27" cy="264.32" r="0.85" fill="#111" stroke="none" stroke-width="0.5"/>
<circle cx="656.30" cy="266.74" r="0.85" fill="#111" stroke="none" stroke-width="0.5"/>
<circle cx="641.70" cy="265.92" r="0.85" fill="#111" stroke="none" stroke-width="0.5"/>
<circle cx="646.93" cy="237.09" r="0.85" fill="#111" stroke="none" stroke-width="0.5"/>
<circle cx="656.60" cy="269.20" r="0.85" fill="#111" stroke="none" stroke-width="0.5"/>
<circle cx="642.54" cy="265.94" r="0.85" fill="#111" stroke="none" stroke-width="0.5"/>
<circle cx="662.26" cy="261.57" r="0.85" fill="#111" stroke="none" stroke-width="0.5"/>
<circle cx="645.54" cy="263.94" r="0.85" fill="#111" stroke="none" stroke-width="0.5"/>
<circle cx="650.33" cy="269.31" r="0.85" fill="#111" stroke="none" stroke-width="0.5"/>
<path d="M676.3 269.4C674.8 269.4 669.0 269.9 667.3 269.4C665.6 268.9 666.0 267.6 666.3 266.2C666.6 264.7 669.0 262.9 669.3 260.7C669.6 258.6 668.8 255.7 668.3 253.2C667.8 250.7 666.5 247.9 666.3 245.6C666.1 243.3 666.6 241.1 667.3 239.1C668.0 237.1 669.3 235.5 670.3 233.7C671.3 231.9 672.3 229.7 673.3 228.3C674.3 226.9 675.8 225.6 676.3 225.1L676.3 225.1C676.8 225.6 678.3 226.9 679.3 228.3C680.3 229.7 681.3 231.9 682.3 233.7C683.3 235.5 684.6 237.1 685.3 239.1C686.0 241.1 686.5 243.3 686.3 245.6C686.1 247.9 684.8 250.7 684.3 253.2C683.8 255.7 683.0 258.6 683.3 260.7C683.6 262.9 686.0 264.7 686.3 266.2C686.6 267.6 687.0 268.9 685.3 269.4C683.6 269.9 677.8 269.4 676.3 269.4Z" fill="#5ccbe8" stroke="#222" stroke-width="0.6"/>
<circle cx="676.65" cy="235.34" r="0.85" fill="#111" stroke="none" stroke-width="0.5"/>
<circle cx="666.73" cy="263.51" r="0.85" fill="#111" stroke="none" stroke-width="0.5"/>
<circle cx="679.42" cy="235.86" r="0.85" fill="#111" stroke="none" stroke-width="0.5"/>
<circle cx="680.75" cy="229.86" r="0.85" fill="#111" stroke="none" stroke-width="0.5"/>
<circle cx="668.09" cy="244.81" r="0.85" fill="#111" stroke="none" stroke-width="0.5"/>
<circle cx="682.34" cy="247.97" r="0.85" fill="#111" stroke="none" stroke-width="0.5"/>
<circle cx="674.64" cy="257.72" r="0.85" fill="#111" stroke="none" stroke-width="0.5"/>
<circle cx="677.02" cy="263.52" r="0.85" fill="#111" stroke="none" stroke-width="0.5"/>
<circle cx="680.49" cy="248.48" r="0.85" fill="#111" stroke="none" stroke-width="0.5"/>
<circle cx="682.92" cy="233.97" r="0.85" fill="#111" stroke="none" stroke-width="0.5"/>
<circle cx="671.60" cy="239.85" r="0.85" fill="#111" stroke="none" stroke-width="0.5"/>
<circle cx="670.82" cy="247.55" r="0.85" fill="#111" stroke="none" stroke-width="0.5"/>
<circle cx="682.08" cy="238.20" r="0.85" fill="#111" stroke="none" stroke-width="0.5"/>
<circle cx="679.92" cy="230.26" r="0.85" fill="#111" stroke="none" stroke-width="0.5"/>
<circle cx="682.49" cy="266.21" r="0.85" fill="#111" stroke="none" stroke-width="0.5"/>
<circle cx="681.36" cy="252.55" r="0.85" fill="#111" stroke="none" stroke-width="0.5"/>
<circle cx="671.87" cy="269.40" r="0.85" fill="#111" stroke="none" stroke-width="0.5"/>
<circle cx="673.76" cy="227.70" r="0.85" fill="#111" stroke="none" stroke-width="0.5"/>
<circle cx="668.60" cy="268.14" r="0.85" fill="#111" stroke="none" stroke-width="0.5"/>
<circle cx="682.05" cy="238.91" r="0.85" fill="#111" stroke="none" stroke-width="0.5"/>
<circle cx="666.66" cy="268.57" r="0.85" fill="#111" stroke="none" stroke-width="0.5"/>
<circle cx="668.41" cy="250.44" r="0.85" fill="#111" stroke="none" stroke-width="0.5"/>
<circle cx="677.15" cy="233.69" r="0.85" fill="#111" stroke="none" stroke-width="0.5"/>
<circle cx="672.85" cy="255.15" r="0.85" fill="#111" stroke="none" stroke-width="0.5"/>
<circle cx="676.26" cy="263.31" r="0.85" fill="#111" stroke="none" stroke-width="0.5"/>
<circle cx="667.99" cy="255.07" r="0.85" fill="#111" stroke="none" stroke-width="0.5"/>
<circle cx="681.77" cy="245.35" r="0.85" fill="#111" stroke="none" stroke-width="0.5"/>
<circle cx="668.14" cy="268.16" r="0.85" fill="#111" stroke="none" stroke-width="0.5"/>
<circle cx="678.55" cy="226.40" r="0.85" fill="#111" stroke="none" stroke-width="0.5"/>
<circle cx="671.39" cy="250.07" r="0.85" fill="#111" stroke="none" stroke-width="0.5"/>
<circle cx="672.96" cy="227.20" r="0.85" fill="#111" stroke="none" stroke-width="0.5"/>
<circle cx="667.77" cy="246.01" r="0.85" fill="#111" stroke="none" stroke-width="0.5"/>
<circle cx="674.01" cy="260.48" r="0.85" fill="#111" stroke="none" stroke-width="0.5"/>
<circle cx="678.43" cy="262.16" r="0.85" fill="#111" stroke="none" stroke-width="0.5"/>
<circle cx="684.95" cy="262.16" r="0.85" fill="#111" stroke="none" stroke-width="0.5"/>
<circle cx="678.11" cy="257.51" r="0.85" fill="#111" stroke="none" stroke-width="0.5"/>
<circle cx="668.64" cy="241.44" r="0.85" fill="#111" stroke="none" stroke-width="0.5"/>
<circle cx="675.25" cy="235.49" r="0.85" fill="#111" stroke="none" stroke-width="0.5"/>
<circle cx="672.95" cy="250.35" r="0.85" fill="#111" stroke="none" stroke-width="0.5"/>
<circle cx="670.72" cy="249.63" r="0.85" fill="#111" stroke="none" stroke-width="0.5"/>
<circle cx="669.05" cy="242.96" r="0.85" fill="#111" stroke="none" stroke-width="0.5"/>
<circle cx="680.03" cy="267.25" r="0.85" fill="#111" stroke="none" stroke-width="0.5"/>
<circle cx="675.82" cy="262.28" r="0.85" fill="#111" stroke="none" stroke-width="0.5"/>
<circle cx="665.44" cy="247.61" r="0.85" fill="#111" stroke="none" stroke-width="0.5"/>
<circle cx="683.30" cy="263.77" r="0.85" fill="#111" stroke="none" stroke-width="0.5"/>
<circle cx="670.29" cy="239.00" r="0.85" fill="#111" stroke="none" stroke-width="0.5"/>
<circle cx="684.78" cy="269.35" r="0.85" fill="#111" stroke="none" stroke-width="0.5"/>
<circle cx="679.71" cy="258.94" r="0.85" fill="#111" stroke="none" stroke-width="0.5"/>
<circle cx="675.65" cy="253.69" r="0.85" fill="#111" stroke="none" stroke-width="0.5"/>
<circle cx="681.51" cy="260.47" r="0.85" fill="#111" stroke="none" stroke-width="0.5"/>
<circle cx="676.58" cy="255.95" r="0.85" fill="#111" stroke="none" stroke-width="0.5"/>
<circle cx="680.89" cy="235.49" r="0.85" fill="#111" stroke="none" stroke-width="0.5"/>
<circle cx="681.99" cy="253.14" r="0.85" fill="#111" stroke="none" stroke-width="0.5"/>
<circle cx="678.46" cy="233.29" r="0.85" fill="#111" stroke="none" stroke-width="0.5"/>
<circle cx="672.82" cy="229.11" r="0.85" fill="#111" stroke="none" stroke-width="0.5"/>
<circle cx="673.00" cy="247.48" r="0.85" fill="#111" stroke="none" stroke-width="0.5"/>
<circle cx="671.31" cy="263.07" r="0.85" fill="#111" stroke="none" stroke-width="0.5"/>
<circle cx="668.65" cy="252.48" r="0.85" fill="#111" stroke="none" stroke-width="0.5"/>
<circle cx="681.18" cy="251.79" r="0.85" fill="#111" stroke="none" stroke-width="0.5"/>
<circle cx="683.57" cy="256.92" r="0.85" fill="#111" stroke="none" stroke-width="0.5"/>
<path d="M700.5 269.4C698.8 269.4 692.1 270.3 690.5 269.4C688.9 268.5 690.8 266.2 691.0 264.0C691.2 261.8 691.9 259.1 692.0 256.4C692.1 253.7 691.8 250.7 691.5 247.8C691.2 244.9 690.6 241.8 690.5 239.1C690.4 236.4 690.5 234.1 691.0 231.5C691.5 229.0 692.6 226.1 693.5 224.0C694.4 221.8 695.3 219.8 696.5 218.6C697.7 217.3 699.8 216.8 700.5 216.4L700.5 216.4C701.2 216.8 703.3 217.3 704.5 218.6C705.7 219.8 706.6 221.8 707.5 224.0C708.4 226.1 709.5 229.0 710.0 231.5C710.5 234.1 710.6 236.4 710.5 239.1C710.4 241.8 709.8 244.9 709.5 247.8C709.2 250.7 708.9 253.7 709.0 256.4C709.1 259.1 709.8 261.8 710.0 264.0C710.2 266.2 712.1 268.5 710.5 269.4C708.9 270.3 702.2 269.4 700.5 269.4Z" fill="#5ccbe8" stroke="#222" stroke-width="0.6"/>
<circle cx="705.23" cy="227.19" r="0.85" fill="#111" stroke="none" stroke-width="0.5"/>
<circle cx="699.85" cy="244.11" r="0.85" fill="#111" stroke="none" stroke-width="0.5"/>
<circle cx="691.31" cy="241.11" r="0.85" fill="#111" stroke="none" stroke-width="0.5"/>
<circle cx="704.33" cy="258.85" r="0.85" fill="#111" stroke="none" stroke-width="0.5"/>
<circle cx="702.80" cy="263.91" r="0.85" fill="#111" stroke="none" stroke-width="0.5"/>
<circle cx="707.58" cy="236.49" r="0.85" fill="#111" stroke="none" stroke-width="0.5"/>
<circle cx="704.55" cy="268.22" r="0.85" fill="#111" stroke="none" stroke-width="0.5"/>
<circle cx="700.81" cy="237.06" r="0.85" fill="#111" stroke="none" stroke-width="0.5"/>
<circle cx="701.50" cy="242.84" r="0.85" fill="#111" stroke="none" stroke-width="0.5"/>
<circle cx="699.39" cy="232.80" r="0.85" fill="#111" stroke="none" stroke-width="0.5"/>
<circle cx="702.00" cy="227.66" r="0.85" fill="#111" stroke="none" stroke-width="0.5"/>
<circle cx="701.12" cy="219.86" r="0.85" fill="#111" stroke="none" stroke-width="0.5"/>
<circle cx="692.62" cy="266.16" r="0.85" fill="#111" stroke="none" stroke-width="0.5"/>
<circle cx="710.04" cy="247.32" r="0.85" fill="#111" stroke="none" stroke-width="0.5"/>
<circle cx="706.65" cy="268.33" r="0.85" fill="#111" stroke="none" stroke-width="0.5"/>
<circle cx="696.19" cy="258.44" r="0.85" fill="#111" stroke="none" stroke-width="0.5"/>
<circle cx="706.71" cy="267.95" r="0.85" fill="#111" stroke="none" stroke-width="0.5"/>
<circle cx="708.73" cy="237.03" r="0.85" fill="#111" stroke="none" stroke-width="0.5"/>
<circle cx="699.59" cy="219.53" r="0.85" fill="#111" stroke="none" stroke-width="0.5"/>
<circle cx="697.07" cy="218.06" r="0.85" fill="#111" stroke="none" stroke-width="0.5"/>
<circle cx="697.52" cy="220.15" r="0.85" fill="#111" stroke="none" stroke-width="0.5"/>
<circle cx="691.21" cy="267.40" r="0.85" fill="#111" stroke="none" stroke-width="0.5"/>
<circle cx="698.78" cy="218.42" r="0.85" fill="#111" stroke="none" stroke-width="0.5"/>
<circle cx="706.61" cy="250.78" r="0.85" fill="#111" stroke="none" stroke-width="0.5"/>
<circle cx="701.67" cy="219.99" r="0.85" fill="#111" stroke="none" stroke-width="0.5"/>
<circle cx="700.11" cy="239.61" r="0.85" fill="#111" stroke="none" stroke-width="0.5"/>
<circle cx="692.18" cy="264.53" r="0.85" fill="#111" stroke="none" stroke-width="0.5"/>
<circle cx="706.28" cy="251.28" r="0.85" fill="#111" stroke="none" stroke-width="0.5"/>
<circle cx="710.31" cy="246.95" r="0.85" fill="#111" stroke="none" stroke-width="0.5"/>
<circle cx="697.79" cy="233.83" r="0.85" fill="#111" stroke="none" stroke-width="0.5"/>
<circle cx="701.08" cy="229.61" r="0.85" fill="#111" stroke="none" stroke-width="0.5"/>
<circle cx="704.08" cy="258.42" r="0.85" fill="#111" stroke="none" stroke-width="0.5"/>
<circle cx="696.97" cy="252.36" r="0.85" fill="#111" stroke="none" stroke-width="0.5"/>
<circle cx="706.99" cy="224.71" r="0.85" fill="#111" stroke="none" stroke-width="0.5"/>
<circle cx="711.17" cy="232.92" r="0.85" fill="#111" stroke="none" stroke-width="0.5"/>
<circle cx="692.67" cy="256.20" r="0.85" fill="#111" stroke="none" stroke-width="0.5"/>
<circle cx="706.42" cy="253.83" r="0.85" fill="#111" stroke="none" stroke-width="0.5"/>
<circle cx="692.69" cy="227.15" r="0.85" fill="#111" stroke="none" stroke-width="0.5"/>
<circle cx="696.36" cy="219.02" r="0.85" fill="#111" stroke="none" stroke-width="0.5"/>
<circle cx="693.97" cy="247.51" r="0.85" fill="#111" stroke="none" stroke-width="0.5"/>
<circle cx="702.06" cy="234.64" r="0.85" fill="#111" stroke="none" stroke-width="0.5"/>
<circle cx="703.66" cy="236.20" r="0.85" fill="#111" stroke="none" stroke-width="0.5"/>
<circle cx="698.39" cy="240.47" r="0.85" fill="#111" stroke="none" stroke-width="0.5"/>
<circle cx="700.17" cy="257.17" r="0.85" fill="#111" stroke="none" stroke-width="0.5"/>
<circle cx="694.67" cy="237.80" r="0.85" fill="#111" stroke="none" stroke-width="0.5"/>
<circle cx="691.84" cy="247.23" r="0.85" fill="#111" stroke="none" stroke-width="0.5"/>
<circle cx="698.14" cy="222.26" r="0.85" fill="#111" stroke="none" stroke-width="0.5"/>
<circle cx="693.17" cy="247.04" r="0.85" fill="#111" stroke="none" stroke-width="0.5"/>
<circle cx="701.60" cy="253.73" r="0.85" fill="#111" stroke="none" stroke-width="0.5"/>
<circle cx="698.99" cy="239.54" r="0.85" fill="#111" stroke="none" stroke-width="0.5"/>
<circle cx="692.50" cy="252.12" r="0.85" fill="#111" stroke="none" stroke-width="0.5"/>
<circle cx="697.28" cy="227.70" r="0.85" fill="#111" stroke="none" stroke-width="0.5"/>
<circle cx="710.51" cy="265.36" r="0.85" fill="#111" stroke="none" stroke-width="0.5"/>
<circle cx="700.91" cy="262.10" r="0.85" fill="#111" stroke="none" stroke-width="0.5"/>
<circle cx="693.61" cy="265.54" r="0.85" fill="#111" stroke="none" stroke-width="0.5"/>
<circle cx="698.00" cy="244.60" r="0.85" fill="#111" stroke="none" stroke-width="0.5"/>
<circle cx="705.64" cy="221.60" r="0.85" fill="#111" stroke="none" stroke-width="0.5"/>
<circle cx="707.24" cy="236.79" r="0.85" fill="#111" stroke="none" stroke-width="0.5"/>
<circle cx="692.13" cy="224.88" r="0.85" fill="#111" stroke="none" stroke-width="0.5"/>
<circle cx="691.88" cy="233.76" r="0.85" fill="#111" stroke="none" stroke-width="0.5"/>
<path d="M724.7 269.4C724.6 269.0 724.3 269.0 724.1 267.2C723.9 265.4 723.9 261.8 723.7 258.6C723.5 255.3 723.2 251.4 722.7 247.8C722.2 244.2 721.4 240.6 720.7 236.9C720.0 233.3 719.4 229.7 718.7 226.1C718.0 222.5 717.4 218.2 716.7 215.3C716.0 212.4 714.9 211.0 714.7 208.8C714.5 206.7 715.7 204.0 715.7 202.3C715.7 200.7 714.5 200.0 714.7 199.1C714.9 198.2 715.0 197.3 716.7 196.9C718.4 196.6 723.4 196.9 724.7 196.9L724.7 196.9C726.0 196.9 731.0 196.6 732.7 196.9C734.4 197.3 734.5 198.2 734.7 199.1C734.9 200.0 733.7 200.7 733.7 202.3C733.7 204.0 734.9 206.7 734.7 208.8C734.5 211.0 733.4 212.4 732.7 215.3C732.0 218.2 731.4 222.5 730.7 226.1C730.0 229.7 729.4 233.3 728.7 236.9C728.0 240.6 727.2 244.2 726.7 247.8C726.2 251.4 725.9 255.3 725.7 258.6C725.5 261.8 725.5 265.4 725.3 267.2C725.1 269.0 724.8 269.0 724.7 269.4Z" fill="#5ccbe8" stroke="#222" stroke-width="0.6"/>
<circle cx="723.33" cy="234.29" r="0.85" fill="#111" stroke="none" stroke-width="0.5"/>
<circle cx="726.34" cy="210.40" r="0.85" fill="#111" stroke="none" stroke-width="0.5"/>
<circle cx="722.42" cy="228.36" r="0.85" fill="#111" stroke="none" stroke-width="0.5"/>
<circle cx="717.65" cy="209.89" r="0.85" fill="#111" stroke="none" stroke-width="0.5"/>
<circle cx="725.73" cy="202.91" r="0.85" fill="#111" stroke="none" stroke-width="0.5"/>
<circle cx="730.68" cy="220.53" r="0.85" fill="#111" stroke="none" stroke-width="0.5"/>
<circle cx="721.82" cy="204.22" r="0.85" fill="#111" stroke="none" stroke-width="0.5"/>
<circle cx="717.85" cy="207.38" r="0.85" fill="#111" stroke="none" stroke-width="0.5"/>
<circle cx="721.41" cy="234.94" r="0.85" fill="#111" stroke="none" stroke-width="0.5"/>
<circle cx="734.92" cy="203.07" r="0.85" fill="#111" stroke="none" stroke-width="0.5"/>
<circle cx="719.09" cy="210.12" r="0.85" fill="#111" stroke="none" stroke-width="0.5"/>
<circle cx="723.95" cy="200.22" r="0.85" fill="#111" stroke="none" stroke-width="0.5"/>
<circle cx="728.01" cy="252.86" r="0.85" fill="#111" stroke="none" stroke-width="0.5"/>
<circle cx="716.28" cy="199.06" r="0.85" fill="#111" stroke="none" stroke-width="0.5"/>
<circle cx="723.88" cy="252.99" r="0.85" fill="#111" stroke="none" stroke-width="0.5"/>
<circle cx="727.24" cy="233.90" r="0.85" fill="#111" stroke="none" stroke-width="0.5"/>
<circle cx="730.84" cy="225.58" r="0.85" fill="#111" stroke="none" stroke-width="0.5"/>
<circle cx="715.03" cy="213.11" r="0.85" fill="#111" stroke="none" stroke-width="0.5"/>
<circle cx="735.97" cy="207.64" r="0.85" fill="#111" stroke="none" stroke-width="0.5"/>
<circle cx="718.15" cy="210.94" r="0.85" fill="#111" stroke="none" stroke-width="0.5"/>
<circle cx="720.93" cy="233.85" r="0.85" fill="#111" stroke="none" stroke-width="0.5"/>
<circle cx="727.66" cy="202.23" r="0.85" fill="#111" stroke="none" stroke-width="0.5"/>
<circle cx="715.60" cy="210.08" r="0.85" fill="#111" stroke="none" stroke-width="0.5"/>
<circle cx="724.07" cy="246.99" r="0.85" fill="#111" stroke="none" stroke-width="0.5"/>
<circle cx="714.98" cy="200.13" r="0.85" fill="#111" stroke="none" stroke-width="0.5"/>
<circle cx="721.16" cy="228.85" r="0.85" fill="#111" stroke="none" stroke-width="0.5"/>
<circle cx="720.10" cy="197.72" r="0.85" fill="#111" stroke="none" stroke-width="0.5"/>
<circle cx="717.52" cy="212.68" r="0.85" fill="#111" stroke="none" stroke-width="0.5"/>
<circle cx="725.89" cy="198.76" r="0.85" fill="#111" stroke="none" stroke-width="0.5"/>
<circle cx="720.65" cy="228.85" r="0.85" fill="#111" stroke="none" stroke-width="0.5"/>
<circle cx="732.48" cy="205.71" r="0.85" fill="#111" stroke="none" stroke-width="0.5"/>
<circle cx="724.31" cy="239.39" r="0.85" fill="#111" stroke="none" stroke-width="0.5"/>
<circle cx="721.83" cy="245.92" r="0.85" fill="#111" stroke="none" stroke-width="0.5"/>
<circle cx="716.65" cy="207.17" r="0.85" fill="#111" stroke="none" stroke-width="0.5"/>
<circle cx="713.90" cy="207.58" r="0.85" fill="#111" stroke="none" stroke-width="0.5"/>
<circle cx="731.89" cy="221.55" r="0.85" fill="#111" stroke="none" stroke-width="0.5"/>
<circle cx="715.67" cy="204.34" r="0.85" fill="#111" stroke="none" stroke-width="0.5"/>
<circle cx="718.02" cy="198.53" r="0.85" fill="#111" stroke="none" stroke-width="0.5"/>
<circle cx="713.63" cy="207.98" r="0.85" fill="#111" stroke="none" stroke-width="0.5"/>
<circle cx="731.41" cy="223.97" r="0.85" fill="#111" stroke="none" stroke-width="0.5"/>
<circle cx="730.33" cy="219.52" r="0.85" fill="#111" stroke="none" stroke-width="0.5"/>
<circle cx="718.23" cy="226.72" r="0.85" fill="#111" stroke="none" stroke-width="0.5"/>
<circle cx="726.57" cy="244.17" r="0.85" fill="#111" stroke="none" stroke-width="0.5"/>
<circle cx="729.84" cy="225.04" r="0.85" fill="#111" stroke="none" stroke-width="0.5"/>
<circle cx="728.26" cy="200.31" r="0.85" fill="#111" stroke="none" stroke-width="0.5"/>
<circle cx="726.19" cy="218.40" r="0.85" fill="#111" stroke="none" stroke-width="0.5"/>
<circle cx="724.12" cy="241.05" r="0.85" fill="#111" stroke="none" stroke-width="0.5"/>
<circle cx="731.07" cy="212.49" r="0.85" fill="#111" stroke="none" stroke-width="0.5"/>
<circle cx="723.19" cy="206.85" r="0.85" fill="#111" stroke="none" stroke-width="0.5"/>
<circle cx="714.60" cy="202.66" r="0.85" fill="#111" stroke="none" stroke-width="0.5"/>
<circle cx="717.21" cy="207.30" r="0.85" fill="#111" stroke="none" stroke-width="0.5"/>
<circle cx="722.65" cy="234.14" r="0.85" fill="#111" stroke="none" stroke-width="0.5"/>
<circle cx="727.01" cy="242.45" r="0.85" fill="#111" stroke="none" stroke-width="0.5"/>
<circle cx="723.80" cy="248.86" r="0.85" fill="#111" stroke="none" stroke-width="0.5"/>
<circle cx="721.08" cy="231.04" r="0.85" fill="#111" stroke="none" stroke-width="0.5"/>
<circle cx="723.76" cy="245.34" r="0.85" fill="#111" stroke="none" stroke-width="0.5"/>
<circle cx="725.62" cy="253.04" r="0.85" fill="#111" stroke="none" stroke-width="0.5"/>
<circle cx="730.44" cy="209.91" r="0.85" fill="#111" stroke="none" stroke-width="0.5"/>
<circle cx="725.99" cy="248.85" r="0.85" fill="#111" stroke="none" stroke-width="0.5"/>
<circle cx="724.08" cy="251.15" r="0.85" fill="#111" stroke="none" stroke-width="0.5"/>
<path d="M748.9 267.2C748.4 267.1 746.9 267.2 745.9 266.2C744.9 265.1 743.9 262.9 742.9 260.7C741.9 258.6 740.6 255.7 739.9 253.2C739.2 250.7 738.9 248.3 738.9 245.6C738.9 242.9 739.2 239.5 739.9 236.9C740.6 234.4 741.9 231.9 742.9 230.5C743.9 229.0 744.9 228.7 745.9 228.3C746.9 227.9 748.4 228.3 748.9 228.3L748.9 228.3C749.4 228.3 750.9 227.9 751.9 228.3C752.9 228.7 753.9 229.0 754.9 230.5C755.9 231.9 757.2 234.4 757.9 236.9C758.6 239.5 758.9 242.9 758.9 245.6C758.9 248.3 758.6 250.7 757.9 253.2C757.2 255.7 755.9 258.6 754.9 260.7C753.9 262.9 752.9 265.1 751.9 266.2C750.9 267.2 749.4 267.1 748.9 267.2Z" fill="#3ff08a" stroke="#222" stroke-width="0.6"/>
<circle cx="751.21" cy="258.81" r="0.85" fill="#111" stroke="none" stroke-width="0.5"/>
<circle cx="748.77" cy="238.12" r="0.85" fill="#111" stroke="none" stroke-width="0.5"/>
<circle cx="748.03" cy="253.00" r="0.85" fill="#111" stroke="none" stroke-width="0.5"/>
<circle cx="739.46" cy="247.79" r="0.85" fill="#111" stroke="none" stroke-width="0.5"/>
<circle cx="751.43" cy="251.36" r="0.85" fill="#111" stroke="none" stroke-width="0.5"/>
<circle cx="752.12" cy="263.49" r="0.85" fill="#111" stroke="none" stroke-width="0.5"/>
<circle cx="743.95" cy="261.03" r="0.85" fill="#111" stroke="none" stroke-width="0.5"/>
<circle cx="745.27" cy="241.36" r="0.85" fill="#111" stroke="none" stroke-width="0.5"/>
<circle cx="745.27" cy="256.56" r="0.85" fill="#111" stroke="none" stroke-width="0.5"/>
<circle cx="755.36" cy="232.97" r="0.85" fill="#111" stroke="none" stroke-width="0.5"/>
<circle cx="743.98" cy="244.69" r="0.85" fill="#111" stroke="none" stroke-width="0.5"/>
<circle cx="747.47" cy="260.33" r="0.85" fill="#111" stroke="none" stroke-width="0.5"/>
<circle cx="757.20" cy="253.48" r="0.85" fill="#111" stroke="none" stroke-width="0.5"/>
<circle cx="747.61" cy="245.04" r="0.85" fill="#111" stroke="none" stroke-width="0.5"/>
<circle cx="756.99" cy="233.85" r="0.85" fill="#111" stroke="none" stroke-width="0.5"/>
<circle cx="741.53" cy="259.13" r="0.85" fill="#111" stroke="none" stroke-width="0.5"/>
<circle cx="747.73" cy="263.55" r="0.85" fill="#111" stroke="none" stroke-width="0.5"/>
<circle cx="751.93" cy="255.77" r="0.85" fill="#111" stroke="none" stroke-width="0.5"/>
<circle cx="743.02" cy="262.06" r="0.85" fill="#111" stroke="none" stroke-width="0.5"/>
<circle cx="744.22" cy="256.68" r="0.85" fill="#111" stroke="none" stroke-width="0.5"/>
<circle cx="743.28" cy="239.20" r="0.85" fill="#111" stroke="none" stroke-width="0.5"/>
<circle cx="755.15" cy="253.38" r="0.85" fill="#111" stroke="none" stroke-width="0.5"/>
<circle cx="752.43" cy="255.74" r="0.85" fill="#111" stroke="none" stroke-width="0.5"/>
<circle cx="753.58" cy="233.39" r="0.85" fill="#111" stroke="none" stroke-width="0.5"/>
<circle cx="747.53" cy="244.69" r="0.85" fill="#111" stroke="none" stroke-width="0.5"/>
<circle cx="743.60" cy="260.44" r="0.85" fill="#111" stroke="none" stroke-width="0.5"/>
<circle cx="750.01" cy="232.63" r="0.85" fill="#111" stroke="none" stroke-width="0.5"/>
<circle cx="750.52" cy="254.45" r="0.85" fill="#111" stroke="none" stroke-width="0.5"/>
<circle cx="746.45" cy="243.42" r="0.85" fill="#111" stroke="none" stroke-width="0.5"/>
<circle cx="756.32" cy="250.91" r="0.85" fill="#111" stroke="none" stroke-width="0.5"/>
<circle cx="752.99" cy="243.54" r="0.85" fill="#111" stroke="none" stroke-width="0.5"/>
<circle cx="739.13" cy="241.68" r="0.85" fill="#111" stroke="none" stroke-width="0.5"/>
<circle cx="750.99" cy="256.65" r="0.85" fill="#111" stroke="none" stroke-width="0.5"/>
<circle cx="749.09" cy="260.58" r="0.85" fill="#111" stroke="none" stroke-width="0.5"/>
<circle cx="746.44" cy="235.70" r="0.85" fill="#111" stroke="none" stroke-width="0.5"/>
<circle cx="747.95" cy="249.84" r="0.85" fill="#111" stroke="none" stroke-width="0.5"/>
<circle cx="742.72" cy="261.81" r="0.85" fill="#111" stroke="none" stroke-width="0.5"/>
<circle cx="750.42" cy="244.45" r="0.85" fill="#111" stroke="none" stroke-width="0.5"/>
<circle cx="751.69" cy="262.53" r="0.85" fill="#111" stroke="none" stroke-width="0.5"/>
<circle cx="754.50" cy="259.95" r="0.85" fill="#111" stroke="none" stroke-width="0.5"/>
<circle cx="745.50" cy="251.04" r="0.85" fill="#111" stroke="none" stroke-width="0.5"/>
<circle cx="748.59" cy="235.78" r="0.85" fill="#111" stroke="none" stroke-width="0.5"/>
<circle cx="743.12" cy="259.01" r="0.85" fill="#111" stroke="none" stroke-width="0.5"/>
<circle cx="739.98" cy="255.29" r="0.85" fill="#111" stroke="none" stroke-width="0.5"/>
<circle cx="742.62" cy="255.26" r="0.85" fill="#111" stroke="none" stroke-width="0.5"/>
<circle cx="753.02" cy="236.67" r="0.85" fill="#111" stroke="none" stroke-width="0.5"/>
<circle cx="757.32" cy="243.50" r="0.85" fill="#111" stroke="none" stroke-width="0.5"/>
<circle cx="754.20" cy="232.31" r="0.85" fill="#111" stroke="none" stroke-width="0.5"/>
<circle cx="750.37" cy="243.44" r="0.85" fill="#111" stroke="none" stroke-width="0.5"/>
<circle cx="746.54" cy="232.78" r="0.85" fill="#111" stroke="none" stroke-width="0.5"/>
<circle cx="748.25" cy="259.72" r="0.85" fill="#111" stroke="none" stroke-width="0.5"/>
<circle cx="751.29" cy="239.98" r="0.85" fill="#111" stroke="none" stroke-width="0.5"/>
<circle cx="752.14" cy="240.66" r="0.85" fill="#111" stroke="none" stroke-width="0.5"/>
<circle cx="747.94" cy="263.09" r="0.85" fill="#111" stroke="none" stroke-width="0.5"/>
<circle cx="749.58" cy="249.71" r="0.85" fill="#111" stroke="none" stroke-width="0.5"/>
<circle cx="750.60" cy="248.67" r="0.85" fill="#111" stroke="none" stroke-width="0.5"/>
<circle cx="753.40" cy="245.42" r="0.85" fill="#111" stroke="none" stroke-width="0.5"/>
<circle cx="753.59" cy="239.56" r="0.85" fill="#111" stroke="none" stroke-width="0.5"/>
<circle cx="738.63" cy="243.51" r="0.85" fill="#111" stroke="none" stroke-width="0.5"/>
<circle cx="744.72" cy="239.22" r="0.85" fill="#111" stroke="none" stroke-width="0.5"/>
<circle cx="749.84" cy="245.84" r="0.85" fill="#111" stroke="none" stroke-width="0.5"/>
<circle cx="757.38" cy="234.95" r="0.85" fill="#111" stroke="none" stroke-width="0.5"/>
<circle cx="744.00" cy="240.46" r="0.85" fill="#111" stroke="none" stroke-width="0.5"/>
<circle cx="744.68" cy="249.97" r="0.85" fill="#111" stroke="none" stroke-width="0.5"/>
<circle cx="744.44" cy="248.30" r="0.85" fill="#111" stroke="none" stroke-width="0.5"/>
<circle cx="745.87" cy="233.57" r="0.85" fill="#111" stroke="none" stroke-width="0.5"/>
<circle cx="748.86" cy="241.23" r="0.85" fill="#111" stroke="none" stroke-width="0.5"/>
<circle cx="752.24" cy="250.81" r="0.85" fill="#111" stroke="none" stroke-width="0.5"/>
<circle cx="746.17" cy="231.34" r="0.85" fill="#111" stroke="none" stroke-width="0.5"/>
<circle cx="747.96" cy="242.82" r="0.85" fill="#111" stroke="none" stroke-width="0.5"/>
<path d="M773.1 257.5C772.9 257.3 772.6 258.0 772.1 256.4C771.6 254.8 770.9 251.0 770.1 247.8C769.3 244.5 768.1 240.6 767.1 236.9C766.1 233.3 764.8 229.2 764.1 226.1C763.4 223.1 762.9 220.7 763.1 218.6C763.3 216.4 763.4 214.1 765.1 213.2C766.8 212.3 771.8 213.2 773.1 213.2L773.1 213.2C774.4 213.2 779.4 212.3 781.1 213.2C782.8 214.1 782.9 216.4 783.1 218.6C783.3 220.7 782.8 223.1 782.1 226.1C781.4 229.2 780.1 233.3 779.1 236.9C778.1 240.6 776.9 244.5 776.1 247.8C775.3 251.0 774.6 254.8 774.1 256.4C773.6 258.0 773.3 257.3 773.1 257.5Z" fill="#3ff08a" stroke="#222" stroke-width="0.6"/>
<circle cx="778.15" cy="242.57" r="0.85" fill="#111" stroke="none" stroke-width="0.5"/>
<circle cx="771.80" cy="225.62" r="0.85" fill="#111" stroke="none" stroke-width="0.5"/>
<circle cx="771.17" cy="229.83" r="0.85" fill="#111" stroke="none" stroke-width="0.5"/>
<circle cx="777.77" cy="240.96" r="0.85" fill="#111" stroke="none" stroke-width="0.5"/>
<circle cx="773.12" cy="241.89" r="0.85" fill="#111" stroke="none" stroke-width="0.5"/>
<circle cx="769.93" cy="215.39" r="0.85" fill="#111" stroke="none" stroke-width="0.5"/>
<circle cx="772.62" cy="247.18" r="0.85" fill="#111" stroke="none" stroke-width="0.5"/>
<circle cx="773.15" cy="228.27" r="0.85" fill="#111" stroke="none" stroke-width="0.5"/>
<circle cx="767.48" cy="214.85" r="0.85" fill="#111" stroke="none" stroke-width="0.5"/>
<circle cx="769.05" cy="239.47" r="0.85" fill="#111" stroke="none" stroke-width="0.5"/>
<circle cx="768.35" cy="228.65" r="0.85" fill="#111" stroke="none" stroke-width="0.5"/>
<circle cx="774.72" cy="236.92" r="0.85" fill="#111" stroke="none" stroke-width="0.5"/>
<circle cx="772.26" cy="240.98" r="0.85" fill="#111" stroke="none" stroke-width="0.5"/>
<circle cx="773.47" cy="218.48" r="0.85" fill="#111" stroke="none" stroke-width="0.5"/>
<circle cx="776.79" cy="230.92" r="0.85" fill="#111" stroke="none" stroke-width="0.5"/>
<circle cx="775.86" cy="244.78" r="0.85" fill="#111" stroke="none" stroke-width="0.5"/>
<circle cx="764.77" cy="223.89" r="0.85" fill="#111" stroke="none" stroke-width="0.5"/>
<circle cx="776.44" cy="244.45" r="0.85" fill="#111" stroke="none" stroke-width="0.5"/>
<circle cx="776.47" cy="237.92" r="0.85" fill="#111" stroke="none" stroke-width="0.5"/>
<circle cx="776.10" cy="241.58" r="0.85" fill="#111" stroke="none" stroke-width="0.5"/>
<circle cx="766.91" cy="228.97" r="0.85" fill="#111" stroke="none" stroke-width="0.5"/>
<circle cx="776.90" cy="236.18" r="0.85" fill="#111" stroke="none" stroke-width="0.5"/>
<circle cx="776.36" cy="244.31" r="0.85" fill="#111" stroke="none" stroke-width="0.5"/>
<circle cx="768.99" cy="217.22" r="0.85" fill="#111" stroke="none" stroke-width="0.5"/>
<circle cx="770.92" cy="237.64" r="0.85" fill="#111" stroke="none" stroke-width="0.5"/>
<circle cx="771.41" cy="213.19" r="0.85" fill="#111" stroke="none" stroke-width="0.5"/>
<circle cx="769.50" cy="245.48" r="0.85" fill="#111" stroke="none" stroke-width="0.5"/>
<circle cx="769.95" cy="246.40" r="0.85" fill="#111" stroke="none" stroke-width="0.5"/>
<circle cx="783.12" cy="222.25" r="0.85" fill="#111" stroke="none" stroke-width="0.5"/>
<circle cx="772.49" cy="233.69" r="0.85" fill="#111" stroke="none" stroke-width="0.5"/>
<circle cx="772.44" cy="245.28" r="0.85" fill="#111" stroke="none" stroke-width="0.5"/>
<circle cx="773.93" cy="215.25" r="0.85" fill="#111" stroke="none" stroke-width="0.5"/>
<circle cx="776.91" cy="225.21" r="0.85" fill="#111" stroke="none" stroke-width="0.5"/>
<circle cx="771.17" cy="236.58" r="0.85" fill="#111" stroke="none" stroke-width="0.5"/>
<circle cx="772.07" cy="245.14" r="0.85" fill="#111" stroke="none" stroke-width="0.5"/>
<circle cx="770.39" cy="241.88" r="0.85" fill="#111" stroke="none" stroke-width="0.5"/>
<circle cx="764.81" cy="226.48" r="0.85" fill="#111" stroke="none" stroke-width="0.5"/>
<circle cx="776.54" cy="225.11" r="0.85" fill="#111" stroke="none" stroke-width="0.5"/>
<circle cx="767.21" cy="234.59" r="0.85" fill="#111" stroke="none" stroke-width="0.5"/>
<circle cx="772.47" cy="237.16" r="0.85" fill="#111" stroke="none" stroke-width="0.5"/>
<circle cx="762.61" cy="219.35" r="0.85" fill="#111" stroke="none" stroke-width="0.5"/>
<circle cx="783.63" cy="217.24" r="0.85" fill="#111" stroke="none" stroke-width="0.5"/>
<circle cx="774.64" cy="243.14" r="0.85" fill="#111" stroke="none" stroke-width="0.5"/>
<circle cx="769.74" cy="241.51" r="0.85" fill="#111" stroke="none" stroke-width="0.5"/>
<circle cx="777.73" cy="217.26" r="0.85" fill="#111" stroke="none" stroke-width="0.5"/>
<circle cx="771.46" cy="245.30" r="0.85" fill="#111" stroke="none" stroke-width="0.5"/>
<circle cx="776.30" cy="218.14" r="0.85" fill="#111" stroke="none" stroke-width="0.5"/>
<circle cx="773.82" cy="237.16" r="0.85" fill="#111" stroke="none" stroke-width="0.5"/>
<circle cx="776.15" cy="220.15" r="0.85" fill="#111" stroke="none" stroke-width="0.5"/>
<circle cx="768.91" cy="238.91" r="0.85" fill="#111" stroke="none" stroke-width="0.5"/>
<circle cx="772.20" cy="226.01" r="0.85" fill="#111" stroke="none" stroke-width="0.5"/>
<circle cx="776.42" cy="233.78" r="0.85" fill="#111" stroke="none" stroke-width="0.5"/>
<circle cx="773.97" cy="244.36" r="0.85" fill="#111" stroke="none" stroke-width="0.5"/>
<circle cx="780.75" cy="231.94" r="0.85" fill="#111" stroke="none" stroke-width="0.5"/>
<circle cx="771.88" cy="221.15" r="0.85" fill="#111" stroke="none" stroke-width="0.5"/>
<circle cx="770.08" cy="239.67" r="0.85" fill="#111" stroke="none" stroke-width="0.5"/>
<circle cx="777.68" cy="225.52" r="0.85" fill="#111" stroke="none" stroke-width="0.5"/>
<circle cx="772.65" cy="238.87" r="0.85" fill="#111" stroke="none" stroke-width="0.5"/>
<circle cx="779.51" cy="224.34" r="0.85" fill="#111" stroke="none" stroke-width="0.5"/>
<circle cx="769.56" cy="231.09" r="0.85" fill="#111" stroke="none" stroke-width="0.5"/>
<circle cx="775.88" cy="217.13" r="0.85" fill="#111" stroke="none" stroke-width="0.5"/>
<circle cx="774.01" cy="223.62" r="0.85" fill="#111" stroke="none" stroke-width="0.5"/>
<circle cx="767.48" cy="228.54" r="0.85" fill="#111" stroke="none" stroke-width="0.5"/>
<circle cx="773.68" cy="246.95" r="0.85" fill="#111" stroke="none" stroke-width="0.5"/>
<circle cx="779.10" cy="231.11" r="0.85" fill="#111" stroke="none" stroke-width="0.5"/>
<circle cx="773.57" cy="217.48" r="0.85" fill="#111" stroke="none" stroke-width="0.5"/>
<circle cx="775.23" cy="226.86" r="0.85" fill="#111" stroke="none" stroke-width="0.5"/>
<circle cx="771.37" cy="245.76" r="0.85" fill="#111" stroke="none" stroke-width="0.5"/>
<circle cx="769.30" cy="229.63" r="0.85" fill="#111" stroke="none" stroke-width="0.5"/>
<circle cx="777.22" cy="234.94" r="0.85" fill="#111" stroke="none" stroke-width="0.5"/>
<path d="M797.3 260.7C797.2 260.6 796.9 261.8 796.5 259.7C796.1 257.5 795.5 252.5 794.8 247.8C794.1 243.1 793.1 236.0 792.3 231.5C791.6 227.0 791.0 224.3 790.3 220.7C789.6 217.1 788.8 213.0 788.3 209.9C787.8 206.8 787.3 204.3 787.3 202.3C787.3 200.4 786.6 198.7 788.3 198.0C790.0 197.3 795.8 198.0 797.3 198.0L797.3 198.0C798.8 198.0 804.6 197.3 806.3 198.0C808.0 198.7 807.3 200.4 807.3 202.3C807.3 204.3 806.8 206.8 806.3 209.9C805.8 213.0 805.0 217.1 804.3 220.7C803.6 224.3 803.1 227.0 802.3 231.5C801.6 236.0 800.5 243.1 799.8 247.8C799.1 252.5 798.5 257.5 798.1 259.7C797.7 261.8 797.4 260.6 797.3 260.7Z" fill="#3ff08a" stroke="#222" stroke-width="0.6"/>
<circle cx="793.52" cy="229.50" r="0.85" fill="#111" stroke="none" stroke-width="0.5"/>
<circle cx="787.10" cy="200.16" r="0.85" fill="#111" stroke="none" stroke-width="0.5"/>
<circle cx="791.82" cy="220.74" r="0.85" fill="#111" stroke="none" stroke-width="0.5"/>
<circle cx="795.52" cy="199.63" r="0.85" fill="#111" stroke="none" stroke-width="0.5"/>
<circle cx="801.23" cy="229.85" r="0.85" fill="#111" stroke="none" stroke-width="0.5"/>
<circle cx="796.59" cy="216.13" r="0.85" fill="#111" stroke="none" stroke-width="0.5"/>
<circle cx="797.85" cy="201.80" r="0.85" fill="#111" stroke="none" stroke-width="0.5"/>
<circle cx="799.78" cy="227.82" r="0.85" fill="#111" stroke="none" stroke-width="0.5"/>
<circle cx="786.87" cy="207.36" r="0.85" fill="#111" stroke="none" stroke-width="0.5"/>
<circle cx="800.00" cy="216.77" r="0.85" fill="#111" stroke="none" stroke-width="0.5"/>
<circle cx="797.01" cy="218.45" r="0.85" fill="#111" stroke="none" stroke-width="0.5"/>
<circle cx="795.31" cy="221.71" r="0.85" fill="#111" stroke="none" stroke-width="0.5"/>
<circle cx="791.70" cy="232.27" r="0.85" fill="#111" stroke="none" stroke-width="0.5"/>
<circle cx="802.36" cy="199.28" r="0.85" fill="#111" stroke="none" stroke-width="0.5"/>
<circle cx="793.90" cy="234.86" r="0.85" fill="#111" stroke="none" stroke-width="0.5"/>
<circle cx="800.03" cy="219.86" r="0.85" fill="#111" stroke="none" stroke-width="0.5"/>
<circle cx="791.56" cy="224.65" r="0.85" fill="#111" stroke="none" stroke-width="0.5"/>
<circle cx="802.67" cy="223.84" r="0.85" fill="#111" stroke="none" stroke-width="0.5"/>
<circle cx="805.31" cy="213.73" r="0.85" fill="#111" stroke="none" stroke-width="0.5"/>
<circle cx="794.42" cy="233.27" r="0.85" fill="#111" stroke="none" stroke-width="0.5"/>
<circle cx="801.06" cy="239.39" r="0.85" fill="#111" stroke="none" stroke-width="0.5"/>
<circle cx="798.45" cy="225.81" r="0.85" fill="#111" stroke="none" stroke-width="0.5"/>
<circle cx="792.76" cy="232.47" r="0.85" fill="#111" stroke="none" stroke-width="0.5"/>
<circle cx="798.19" cy="217.63" r="0.85" fill="#111" stroke="none" stroke-width="0.5"/>
<circle cx="803.47" cy="206.66" r="0.85" fill="#111" stroke="none" stroke-width="0.5"/>
<circle cx="805.37" cy="210.13" r="0.85" fill="#111" stroke="none" stroke-width="0.5"/>
<circle cx="788.89" cy="218.83" r="0.85" fill="#111" stroke="none" stroke-width="0.5"/>
<circle cx="796.76" cy="223.48" r="0.85" fill="#111" stroke="none" stroke-width="0.5"/>
<circle cx="794.00" cy="233.95" r="0.85" fill="#111" stroke="none" stroke-width="0.5"/>
<circle cx="801.34" cy="234.72" r="0.85" fill="#111" stroke="none" stroke-width="0.5"/>
<circle cx="796.60" cy="202.50" r="0.85" fill="#111" stroke="none" stroke-width="0.5"/>
<circle cx="792.04" cy="229.54" r="0.85" fill="#111" stroke="none" stroke-width="0.5"/>
<circle cx="801.52" cy="208.24" r="0.85" fill="#111" stroke="none" stroke-width="0.5"/>
<circle cx="796.66" cy="215.19" r="0.85" fill="#111" stroke="none" stroke-width="0.5"/>
<circle cx="799.24" cy="214.93" r="0.85" fill="#111" stroke="none" stroke-width="0.5"/>
<circle cx="805.34" cy="202.08" r="0.85" fill="#111" stroke="none" stroke-width="0.5"/>
<circle cx="798.95" cy="233.29" r="0.85" fill="#111" stroke="none" stroke-width="0.5"/>
<circle cx="797.34" cy="222.67" r="0.85" fill="#111" stroke="none" stroke-width="0.5"/>
<circle cx="801.51" cy="199.41" r="0.85" fill="#111" stroke="none" stroke-width="0.5"/>
<circle cx="797.67" cy="233.45" r="0.85" fill="#111" stroke="none" stroke-width="0.5"/>
<circle cx="789.83" cy="202.99" r="0.85" fill="#111" stroke="none" stroke-width="0.5"/>
<circle cx="790.60" cy="224.81" r="0.85" fill="#111" stroke="none" stroke-width="0.5"/>
<circle cx="794.62" cy="239.79" r="0.85" fill="#111" stroke="none" stroke-width="0.5"/>
<circle cx="794.85" cy="203.71" r="0.85" fill="#111" stroke="none" stroke-width="0.5"/>
<circle cx="789.11" cy="208.13" r="0.85" fill="#111" stroke="none" stroke-width="0.5"/>
<circle cx="792.89" cy="225.33" r="0.85" fill="#111" stroke="none" stroke-width="0.5"/>
<circle cx="801.20" cy="236.51" r="0.85" fill="#111" stroke="none" stroke-width="0.5"/>
<circle cx="801.90" cy="235.82" r="0.85" fill="#111" stroke="none" stroke-width="0.5"/>
<circle cx="797.60" cy="230.21" r="0.85" fill="#111" stroke="none" stroke-width="0.5"/>
<circle cx="799.33" cy="233.43" r="0.85" fill="#111" stroke="none" stroke-width="0.5"/>
<circle cx="792.13" cy="205.17" r="0.85" fill="#111" stroke="none" stroke-width="0.5"/>
<circle cx="794.86" cy="238.27" r="0.85" fill="#111" stroke="none" stroke-width="0.5"/>
<circle cx="801.95" cy="223.62" r="0.85" fill="#111" stroke="none" stroke-width="0.5"/>
<circle cx="806.07" cy="205.82" r="0.85" fill="#111" stroke="none" stroke-width="0.5"/>
<circle cx="802.99" cy="217.49" r="0.85" fill="#111" stroke="none" stroke-width="0.5"/>
<circle cx="802.13" cy="209.76" r="0.85" fill="#111" stroke="none" stroke-width="0.5"/>
<circle cx="798.19" cy="233.37" r="0.85" fill="#111" stroke="none" stroke-width="0.5"/>
<circle cx="804.79" cy="210.60" r="0.85" fill="#111" stroke="none" stroke-width="0.5"/>
<circle cx="800.00" cy="240.31" r="0.85" fill="#111" stroke="none" stroke-width="0.5"/>
<circle cx="790.04" cy="199.34" r="0.85" fill="#111" stroke="none" stroke-width="0.5"/>
<circle cx="801.23" cy="214.27" r="0.85" fill="#111" stroke="none" stroke-width="0.5"/>
<circle cx="802.05" cy="223.16" r="0.85" fill="#111" stroke="none" stroke-width="0.5"/>
<circle cx="791.35" cy="214.54" r="0.85" fill="#111" stroke="none" stroke-width="0.5"/>
<circle cx="800.83" cy="218.22" r="0.85" fill="#111" stroke="none" stroke-width="0.5"/>
<circle cx="802.62" cy="200.31" r="0.85" fill="#111" stroke="none" stroke-width="0.5"/>
<circle cx="796.63" cy="211.27" r="0.85" fill="#111" stroke="none" stroke-width="0.5"/>
<circle cx="806.07" cy="205.61" r="0.85" fill="#111" stroke="none" stroke-width="0.5"/>
<circle cx="805.24" cy="210.14" r="0.85" fill="#111" stroke="none" stroke-width="0.5"/>
<circle cx="795.17" cy="220.73" r="0.85" fill="#111" stroke="none" stroke-width="0.5"/>
<circle cx="801.98" cy="198.53" r="0.85" fill="#111" stroke="none" stroke-width="0.5"/>
<circle cx="802.65" cy="225.97" r="0.85" fill="#111" stroke="none" stroke-width="0.5"/>
<circle cx="798.15" cy="230.62" r="0.85" fill="#111" stroke="none" stroke-width="0.5"/>
<circle cx="793.41" cy="203.06" r="0.85" fill="#111" stroke="none" stroke-width="0.5"/>
<circle cx="795.42" cy="199.37" r="0.85" fill="#111" stroke="none" stroke-width="0.5"/>
<circle cx="798.14" cy="224.92" r="0.85" fill="#111" stroke="none" stroke-width="0.5"/>
<text x="603.7" y="287.3" font-size="11" text-anchor="middle" fill="#000">HE</text>
<text x="627.9" y="287.3" font-size="11" text-anchor="middle" fill="#000">EC</text>
<text x="652.1" y="287.3" font-size="11" text-anchor="middle" fill="#000">MC</text>
<text x="676.3" y="287.3" font-size="11" text-anchor="middle" fill="#000">HE</text>
<text x="700.5" y="287.3" font-size="11" text-anchor="middle" fill="#000">EC</text>
<text x="724.7" y="287.3" font-size="11" text-anchor="middle" fill="#000">MC</text>
<text x="748.9" y="287.3" font-size="11" text-anchor="middle" fill="#000">HE</text>
<text x="773.1" y="287.3" font-size="11" text-anchor="middle" fill="#000">EC</text>
<text x="797.3" y="287.3" font-size="11" text-anchor="middle" fill="#000">MC</text>
<text x="629.4" y="302.3" font-size="11" text-anchor="middle" fill="#000">HE</text>
<path d="M608.7 289.5 L623.4 294.5 M647.1 289.5 L635.4 294.5 M629.4 289.5 V294" stroke="#333" stroke-width="0.7" fill="none"/>
<text x="700.2" y="302.3" font-size="11" text-anchor="middle" fill="#000">EC</text>
<path d="M681.3000000000001 289.5 L694.2 294.5 M719.7 289.5 L706.2 294.5 M700.2 289.5 V294" stroke="#333" stroke-width="0.7" fill="none"/>
<text x="772.0" y="302.3" font-size="11" text-anchor="middle" fill="#000">MC</text>
<path d="M753.9000000000001 289.5 L766.0 294.5 M792.3000000000001 289.5 L778.0 294.5 M772.0 289.5 V294" stroke="#333" stroke-width="0.7" fill="none"/>
<line x1="589.00" y1="306.60" x2="811.00" y2="306.60" stroke="#6e6e6e" stroke-width="1.6"/>
<text x="697.3" y="320.8" font-size="11" text-anchor="middle" fill="#000">Cell pairings</text>
<text x="475.0" y="351.5" font-size="15" text-anchor="start" fill="#000" font-weight="bold">g</text>
<text x="524.2" y="359.0" font-size="10.8" text-anchor="middle" fill="#000">IL6-IL6R</text>
<path d="M537.58 368.77A49.5 49.5 0 0 0 502.36 373.09Q525.60 416.80 476.37 421.97A49.5 49.5 0 0 0 481.11 438.50Q525.60 416.80 537.58 368.77Z" fill="#3a9a48" fill-opacity="0.4"/>
<path d="M476.58 423.69A49.5 49.5 0 0 0 497.92 457.84Q521.60 428.80 476.58 423.69Z" fill="#a03a3a" fill-opacity="0.55"/>
<path d="M493.13 454.16A49.5 49.5 0 0 0 497.92 457.84Q525.60 416.80 553.28 375.76A49.5 49.5 0 0 0 542.53 370.29Q525.60 416.80 493.13 454.16Z" fill="#f03a3a" fill-opacity="0.35"/>
<path d="M569.31 440.04A49.5 49.5 0 0 0 575.07 418.53Q525.60 416.80 478.02 430.44A49.5 49.5 0 0 0 484.56 444.48Q525.60 416.80 569.31 440.04Z" fill="#2a96f0" fill-opacity="0.4"/>
<path d="M562.39 449.92A49.5 49.5 0 0 0 570.09 438.50Q525.60 416.80 553.28 375.76A49.5 49.5 0 0 0 544.14 370.90Q525.60 416.80 562.39 449.92Z" fill="#2a96f0" fill-opacity="0.38"/>
<path d="M553.28 375.76A49.5 49.5 0 0 0 540.90 369.72Q535.60 376.80 548.84 373.09A49.5 49.5 0 0 0 542.53 370.29Q535.60 376.80 553.28 375.76Z" fill="#33403f" fill-opacity="0.35"/>
<path d="M520.06 368.21Q517.60 408.80 486.91 438.98" fill="none" stroke="#0a0a0a" stroke-width="1.8"/>
<path d="M484.11 441.73L486.07 435.73L487.18 438.71L490.14 439.87z" fill="#0a0a0a"/>
<path d="M520.06 368.21Q529.60 402.80 543.48 376.06" fill="none" stroke="#0a0a0a" stroke-width="1.8"/>
<path d="M545.29 372.58L545.28 378.89L543.30 376.40L540.13 376.22z" fill="#0a0a0a"/>
<path d="M494.83 454.80Q525.60 416.80 543.69 376.17" fill="none" stroke="#0a0a0a" stroke-width="1.8"/>
<path d="M545.29 372.58L545.66 378.88L543.54 376.51L540.36 376.52z" fill="#0a0a0a"/>
<path d="M498.26 457.34Q527.60 419.80 543.91 376.26" fill="none" stroke="#0a0a0a" stroke-width="1.8"/>
<path d="M572.11 431.91Q533.60 410.80 544.14 376.33" fill="none" stroke="#0a0a0a" stroke-width="1.8"/>
<path d="M545.29 372.58L546.42 378.79L544.03 376.70L540.88 377.09z" fill="#0a0a0a"/>
<path d="M572.11 431.91Q527.60 410.80 487.31 439.46" fill="none" stroke="#0a0a0a" stroke-width="1.8"/>
<path d="M484.11 441.73L487.00 436.12L487.62 439.24L490.36 440.85z" fill="#0a0a0a"/>
<path d="M499.54 373.08A50.9 50.9 0 0 0 499.54 460.52" fill="none" stroke="#e8262a" stroke-width="2.45"/>
<path d="M576.50 416.09A50.9 50.9 0 0 0 500.77 372.37" fill="none" stroke="#3d9a4a" stroke-width="2.45"/>
<path d="M500.77 461.23A50.9 50.9 0 0 0 576.50 417.51" fill="none" stroke="#1e90e0" stroke-width="2.45"/>
<text x="648.5" y="359.0" font-size="10.8" text-anchor="middle" fill="#000">APOB-LDLR</text>
<path d="M605.96 391.95A49.699999999999996 49.699999999999996 0 0 0 600.39 406.47Q649.00 416.80 650.73 367.13A49.699999999999996 49.699999999999996 0 0 0 626.44 372.52Q649.00 416.80 605.96 391.95Z" fill="#f03a3a" fill-opacity="0.38"/>
<path d="M599.78 409.88A49.699999999999996 49.699999999999996 0 0 0 602.92 435.42Q649.00 416.80 689.71 445.31A49.699999999999996 49.699999999999996 0 0 0 698.69 417.67Q649.00 416.80 599.78 409.88Z" fill="#f03a3a" fill-opacity="0.38"/>
<path d="M599.42 420.27A49.699999999999996 49.699999999999996 0 0 0 602.30 433.80Q643.00 422.80 606.85 443.14A49.699999999999996 49.699999999999996 0 0 0 622.66 458.95Q643.00 422.80 599.42 420.27Z" fill="#f02020" fill-opacity="0.62"/>
<path d="M599.57 422.00A49.699999999999996 49.699999999999996 0 0 0 622.66 458.95Q647.00 426.80 599.57 422.00Z" fill="#f02020" fill-opacity="0.45"/>
<path d="M602.30 399.80A49.699999999999996 49.699999999999996 0 0 0 599.78 423.72Q641.00 418.80 602.30 399.80Z" fill="#6a2a2a" fill-opacity="0.55"/>
<path d="M603.17 433.85Q653.00 408.80 691.81 429.13" fill="none" stroke="#0a0a0a" stroke-width="1.8"/>
<path d="M695.29 430.95L688.98 430.92L691.48 428.96L691.67 425.78z" fill="#0a0a0a"/>
<path d="M607.94 443.36Q643.00 418.80 638.35 373.58" fill="none" stroke="#0a0a0a" stroke-width="1.8"/>
<path d="M637.95 369.68L641.41 374.95L638.39 373.96L635.64 375.55z" fill="#0a0a0a"/>
<path d="M607.94 443.36Q653.50 418.30 605.36 408.20" fill="none" stroke="#0a0a0a" stroke-width="1.8"/>
<path d="M601.52 407.40L607.60 405.71L605.73 408.28L606.41 411.39z" fill="#0a0a0a"/>
<path d="M622.94 373.08A50.9 50.9 0 0 0 622.94 460.52" fill="none" stroke="#e8262a" stroke-width="2.45"/>
<path d="M699.90 416.09A50.9 50.9 0 0 0 624.17 372.37" fill="none" stroke="#3d9a4a" stroke-width="2.45"/>
<path d="M624.17 461.23A50.9 50.9 0 0 0 699.90 417.51" fill="none" stroke="#1e90e0" stroke-width="2.45"/>
<text x="771.3" y="359.0" font-size="10.8" text-anchor="middle" fill="#000">SERPING1-SELE</text>
<path d="M820.62 404.78A49.699999999999996 49.699999999999996 0 0 0 749.07 372.92Q777.40 419.80 816.68 439.36A49.699999999999996 49.699999999999996 0 0 0 822.09 417.67Q777.40 419.80 820.62 404.78Z" fill="#3a9a48" fill-opacity="0.36"/>
<path d="M722.73 418.53A49.699999999999996 49.699999999999996 0 0 0 743.19 457.01Q772.40 416.80 817.44 437.80A49.699999999999996 49.699999999999996 0 0 0 822.09 417.67Q772.40 416.80 722.73 418.53Z" fill="#f03a3a" fill-opacity="0.4"/>
<path d="M791.51 371.79Q786.40 427.80 815.24 429.14" fill="none" stroke="#0a0a0a" stroke-width="1.8"/>
<path d="M819.15 429.33L813.42 431.96L814.86 429.13L813.69 426.17z" fill="#0a0a0a"/>
<path d="M731.25 443.22Q774.90 416.80 815.38 428.26" fill="none" stroke="#0a0a0a" stroke-width="1.8"/>
<path d="M819.15 429.33L812.97 430.59L815.01 428.16L814.55 425.01z" fill="#0a0a0a"/>
<path d="M746.34 373.08A50.9 50.9 0 0 0 746.34 460.52" fill="none" stroke="#e8262a" stroke-width="2.45"/>
<path d="M823.30 416.09A50.9 50.9 0 0 0 747.57 372.37" fill="none" stroke="#3d9a4a" stroke-width="2.45"/>
<path d="M747.57 461.23A50.9 50.9 0 0 0 823.30 417.51" fill="none" stroke="#1e90e0" stroke-width="2.45"/>
<text x="895.7" y="359.0" font-size="10.8" text-anchor="middle" fill="#000">EDN1-ELTD1</text>
<path d="M932.73 450.06A49.699999999999996 49.699999999999996 0 0 0 945.31 421.13Q895.80 416.80 877.18 370.72A49.699999999999996 49.699999999999996 0 0 0 872.47 372.92Q895.80 416.80 932.73 450.06Z" fill="#2a96f0" fill-opacity="0.38"/>
<path d="M932.73 450.06A49.699999999999996 49.699999999999996 0 0 0 945.02 423.72Q895.80 416.80 862.54 453.73A49.699999999999996 49.699999999999996 0 0 0 868.01 458.00Q895.80 416.80 932.73 450.06Z" fill="#2a96f0" fill-opacity="0.38"/>
<path d="M930.94 451.94A49.699999999999996 49.699999999999996 0 0 0 943.81 429.66Q895.80 416.80 880.44 464.07A49.699999999999996 49.699999999999996 0 0 0 911.16 464.07Q895.80 416.80 930.94 451.94Z" fill="#2a96f0" fill-opacity="0.38"/>
<path d="M931.55 451.32A49.699999999999996 49.699999999999996 0 0 0 945.02 423.72Q905.80 422.80 931.55 451.32Z" fill="#205080" fill-opacity="0.5"/>
<path d="M940.12 437.47Q895.80 413.80 878.23 375.94" fill="none" stroke="#0a0a0a" stroke-width="1.8"/>
<path d="M876.58 372.38L881.57 376.24L878.39 376.28L876.30 378.68z" fill="#0a0a0a"/>
<path d="M940.12 437.47Q890.80 416.80 868.75 452.13" fill="none" stroke="#0a0a0a" stroke-width="1.8"/>
<path d="M866.67 455.45L867.18 449.17L868.95 451.81L872.10 452.24z" fill="#0a0a0a"/>
<path d="M927.52 431.59Q906.40 431.60 905.20 460.39" fill="none" stroke="#0a0a0a" stroke-width="1.8"/>
<path d="M905.04 464.31L902.37 458.59L905.21 460.01L908.17 458.84z" fill="#0a0a0a"/>
<path d="M869.74 373.08A50.9 50.9 0 0 0 869.74 460.52" fill="none" stroke="#e8262a" stroke-width="2.45"/>
<path d="M946.70 416.09A50.9 50.9 0 0 0 870.97 372.37" fill="none" stroke="#3d9a4a" stroke-width="2.45"/>
<path d="M870.97 461.23A50.9 50.9 0 0 0 946.70 417.51" fill="none" stroke="#1e90e0" stroke-width="2.45"/>
<text x="524.2" y="493.2" font-size="10.8" text-anchor="middle" fill="#000">CTGF-ERBB4</text>
<path d="M534.23 504.26A49.699999999999996 49.699999999999996 0 0 0 502.27 509.32Q525.60 553.20 481.72 529.87A49.699999999999996 49.699999999999996 0 0 0 476.99 563.53Q525.60 553.20 534.23 504.26Z" fill="#3a9a48" fill-opacity="0.38"/>
<path d="M548.93 597.08A49.699999999999996 49.699999999999996 0 0 0 575.27 554.93Q525.60 553.20 476.02 549.73A49.699999999999996 49.699999999999996 0 0 0 487.53 585.15Q525.60 553.20 548.93 597.08Z" fill="#2a96f0" fill-opacity="0.38"/>
<path d="M487.53 521.25A49.699999999999996 49.699999999999996 0 0 0 477.38 565.22Q523.60 551.20 487.53 521.25Z" fill="#505a5a" fill-opacity="0.5"/>
<path d="M476.99 563.53A49.699999999999996 49.699999999999996 0 0 0 492.34 590.13Q519.60 559.20 476.99 563.53Z" fill="#1a4a6a" fill-opacity="0.6"/>
<path d="M492.34 590.13A49.699999999999996 49.699999999999996 0 0 0 497.81 594.40Q510.60 568.20 490.46 588.34A49.699999999999996 49.699999999999996 0 0 0 495.00 592.36Q510.60 568.20 492.34 590.13Z" fill="#f03a3a" fill-opacity="0.4"/>
<path d="M518.12 504.88Q517.00 552.10 481.13 552.33" fill="none" stroke="#0a0a0a" stroke-width="1.8"/>
<path d="M477.21 552.36L482.79 549.42L481.51 552.33L482.83 555.22z" fill="#0a0a0a"/>
<path d="M563.33 584.30Q516.60 553.20 481.13 552.44" fill="none" stroke="#0a0a0a" stroke-width="1.8"/>
<path d="M477.21 552.36L482.87 549.58L481.51 552.45L482.74 555.37z" fill="#0a0a0a"/>
<path d="M495.70 591.89Q508.60 554.70 481.12 552.65" fill="none" stroke="#0a0a0a" stroke-width="1.8"/>
<path d="M477.21 552.36L483.01 549.88L481.50 552.68L482.58 555.66z" fill="#0a0a0a"/>
<path d="M499.54 509.48A50.9 50.9 0 0 0 499.54 596.92" fill="none" stroke="#e8262a" stroke-width="2.45"/>
<path d="M576.50 552.49A50.9 50.9 0 0 0 500.77 508.77" fill="none" stroke="#3d9a4a" stroke-width="2.45"/>
<path d="M500.77 597.63A50.9 50.9 0 0 0 576.50 553.91" fill="none" stroke="#1e90e0" stroke-width="2.45"/>
<text x="648.5" y="493.2" font-size="10.8" text-anchor="middle" fill="#000">MMP1-CD44</text>
<path d="M697.01 566.06A49.699999999999996 49.699999999999996 0 0 0 698.69 554.07Q657.00 556.20 698.63 550.60A49.699999999999996 49.699999999999996 0 0 0 625.67 509.32Q657.00 556.20 697.01 566.06Z" fill="#2a96f0" fill-opacity="0.38"/>
<path d="M692.04 578.05A49.699999999999996 49.699999999999996 0 0 0 698.22 560.12Q649.00 553.20 602.30 570.20A49.699999999999996 49.699999999999996 0 0 0 621.21 594.40Q649.00 553.20 692.04 578.05Z" fill="#2a96f0" fill-opacity="0.38"/>
<path d="M684.14 588.34A49.699999999999996 49.699999999999996 0 0 0 697.01 566.06Q649.00 553.20 638.67 601.81A49.699999999999996 49.699999999999996 0 0 0 667.62 599.28Q649.00 553.20 684.14 588.34Z" fill="#2a96f0" fill-opacity="0.38"/>
<path d="M659.33 601.81A49.699999999999996 49.699999999999996 0 0 0 692.88 576.53Q655.00 561.20 659.33 601.81Z" fill="#203a5a" fill-opacity="0.55"/>
<path d="M689.92 579.98Q661.00 566.20 671.94 514.87" fill="none" stroke="#0a0a0a" stroke-width="1.8"/>
<path d="M672.76 511.03L674.43 517.11L671.86 515.24L668.76 515.91z" fill="#0a0a0a"/>
<path d="M689.92 579.98Q649.00 555.20 614.03 580.69" fill="none" stroke="#0a0a0a" stroke-width="1.8"/>
<path d="M610.86 583.00L613.68 577.36L614.34 580.47L617.09 582.04z" fill="#0a0a0a"/>
<path d="M666.12 569.73Q658.50 569.80 659.21 596.57" fill="none" stroke="#0a0a0a" stroke-width="1.8"/>
<path d="M659.31 600.49L656.26 594.97L659.20 596.19L662.06 594.81z" fill="#0a0a0a"/>
<path d="M622.94 509.48A50.9 50.9 0 0 0 622.94 596.92" fill="none" stroke="#e8262a" stroke-width="2.45"/>
<path d="M699.90 552.49A50.9 50.9 0 0 0 624.17 508.77" fill="none" stroke="#3d9a4a" stroke-width="2.45"/>
<path d="M624.17 597.63A50.9 50.9 0 0 0 699.90 553.91" fill="none" stroke="#1e90e0" stroke-width="2.45"/>
<text x="771.8" y="493.2" font-size="10.8" text-anchor="middle" fill="#000">ANGPTL4-TIE1</text>
<path d="M821.91 548.87A49.699999999999996 49.699999999999996 0 0 0 749.07 509.32Q774.40 555.20 755.40 599.90A49.699999999999996 49.699999999999996 0 0 0 797.25 596.24Q774.40 555.20 821.91 548.87Z" fill="#3a9a48" fill-opacity="0.36"/>
<path d="M723.46 561.83A49.699999999999996 49.699999999999996 0 0 0 741.80 592.36Q772.40 553.20 757.04 600.47A49.699999999999996 49.699999999999996 0 0 0 797.25 596.24Q772.40 553.20 723.46 561.83Z" fill="#34403e" fill-opacity="0.5"/>
<path d="M755.40 599.90A49.699999999999996 49.699999999999996 0 0 0 798.74 595.35Q772.40 559.20 755.40 599.90Z" fill="#2a3634" fill-opacity="0.45"/>
<path d="M805.66 590.13A49.699999999999996 49.699999999999996 0 0 0 822.03 555.80Q782.40 563.20 759.54 601.21A49.699999999999996 49.699999999999996 0 0 0 797.25 596.24Q782.40 563.20 805.66 590.13Z" fill="#2a96f0" fill-opacity="0.36"/>
<path d="M794.07 509.36Q777.20 545.80 776.66 597.50" fill="none" stroke="#0a0a0a" stroke-width="1.8"/>
<path d="M776.62 601.42L773.78 595.79L776.66 597.12L779.58 595.85z" fill="#0a0a0a"/>
<path d="M730.89 579.04Q774.40 567.20 776.36 597.50" fill="none" stroke="#0a0a0a" stroke-width="1.8"/>
<path d="M776.62 601.42L773.36 596.02L776.34 597.12L779.15 595.64z" fill="#0a0a0a"/>
<path d="M746.34 509.48A50.9 50.9 0 0 0 746.34 596.92" fill="none" stroke="#e8262a" stroke-width="2.45"/>
<path d="M823.30 552.49A50.9 50.9 0 0 0 747.57 508.77" fill="none" stroke="#3d9a4a" stroke-width="2.45"/>
<path d="M747.57 597.63A50.9 50.9 0 0 0 823.30 553.91" fill="none" stroke="#1e90e0" stroke-width="2.45"/>
<text x="895.7" y="493.2" font-size="10.8" text-anchor="middle" fill="#000">FGF5-FGFR1</text>
<path d="M899.27 503.62A49.699999999999996 49.699999999999996 0 0 0 872.47 509.32Q895.80 553.20 860.05 518.68A49.699999999999996 49.699999999999996 0 0 0 865.20 592.36Q895.80 553.20 899.27 503.62Z" fill="#3a9a48" fill-opacity="0.36"/>
<path d="M902.72 503.98A49.699999999999996 49.699999999999996 0 0 0 878.80 506.50Q895.80 553.20 885.47 601.81A49.699999999999996 49.699999999999996 0 0 0 945.47 554.93Q895.80 553.20 902.72 503.98Z" fill="#3a9a48" fill-opacity="0.36"/>
<path d="M901.00 503.77A49.699999999999996 49.699999999999996 0 0 0 877.18 507.12Q895.80 553.20 944.41 542.87A49.699999999999996 49.699999999999996 0 0 0 920.65 510.16Q895.80 553.20 901.00 503.77Z" fill="#3a9a48" fill-opacity="0.36"/>
<path d="M902.72 503.98A49.699999999999996 49.699999999999996 0 0 0 874.01 508.53Q894.80 545.20 902.72 503.98Z" fill="#304a30" fill-opacity="0.6"/>
<path d="M886.80 505.13Q887.80 549.20 851.69 559.15" fill="none" stroke="#0a0a0a" stroke-width="1.8"/>
<path d="M847.91 560.19L852.54 555.90L852.05 559.05L854.08 561.50z" fill="#0a0a0a"/>
<path d="M886.80 505.13Q892.30 544.20 914.87 512.95" fill="none" stroke="#0a0a0a" stroke-width="1.8"/>
<path d="M917.17 509.77L916.24 516.01L914.65 513.26L911.54 512.61z" fill="#0a0a0a"/>
<path d="M886.80 505.13Q891.10 533.70 925.77 586.12" fill="none" stroke="#0a0a0a" stroke-width="1.8"/>
<path d="M927.93 589.39L922.43 586.32L925.56 585.81L927.26 583.12z" fill="#0a0a0a"/>
<path d="M869.74 509.48A50.9 50.9 0 0 0 869.74 596.92" fill="none" stroke="#e8262a" stroke-width="2.45"/>
<path d="M946.70 552.49A50.9 50.9 0 0 0 870.97 508.77" fill="none" stroke="#3d9a4a" stroke-width="2.45"/>
<path d="M870.97 597.63A50.9 50.9 0 0 0 946.70 553.91" fill="none" stroke="#1e90e0" stroke-width="2.45"/>
<rect x="760.50" y="615.00" width="7.70" height="7.70" fill="#e8262a"/>
<text x="773.0" y="622.8" font-size="10.5" text-anchor="start" fill="#000">HE LB</text>
<rect x="817.00" y="615.00" width="7.70" height="7.70" fill="#1e90e0"/>
<text x="829.5" y="622.8" font-size="10.5" text-anchor="start" fill="#000">EC LB</text>
<rect x="867.00" y="615.00" width="7.70" height="7.70" fill="#3d9a4a"/>
<text x="879.5" y="622.8" font-size="10.5" text-anchor="start" fill="#000">MC LB</text>
<text x="1.0" y="683.5" font-size="15" text-anchor="start" fill="#000" font-weight="bold">h</text>
<text x="9.6" y="695.8" font-size="11" text-anchor="start" fill="#000">Control siRNA</text>
<text x="155.7" y="695.8" font-size="11" text-anchor="start" fill="#000">TIE1 or EDN1 siRNA</text>
<text x="128.7" y="722.0" font-size="11" text-anchor="middle" fill="#000">ECs</text>
<text x="127.7" y="746.5" font-size="11" text-anchor="middle" fill="#000">vs.</text>
<text x="38.5" y="755.5" font-size="11" text-anchor="middle" fill="#000">Control</text>
<text x="38.5" y="766.3" font-size="11" text-anchor="middle" fill="#000">LBs</text>
<text x="228.7" y="755.8" font-size="11" text-anchor="middle" fill="#000">EC-specific</text>
<text x="229.1" y="766.8" font-size="11" text-anchor="middle" fill="#000">knock-down LBs</text>
<ellipse cx="50.7" cy="723.7" rx="48.5" ry="10.2" fill="#cde6f8" stroke="#888" stroke-width="0.5"/>
<path d="M2.200000000000003 709.2 V723.7 M99.2 709.2 V723.7" stroke="#888" stroke-width="0.5"/>
<polygon points="22.6,717.4 27.6,714.4 36.1,715.4 41.6,717.8 40.1,721.1 31.8,721.6 25.5,720.4" fill="#2a92ea" stroke="#1f78c8" stroke-width="0.3"/>
<circle cx="32.03" cy="718.20" r="1.40" fill="#2a70d8" stroke="#1a50b0" stroke-width="0.6"/>
<polygon points="44.5,718.3 49.2,714.8 57.7,715.1 63.5,717.0 62.3,720.4 54.0,721.6 47.7,721.0" fill="#2a92ea" stroke="#1f78c8" stroke-width="0.3"/>
<circle cx="53.97" cy="718.20" r="1.40" fill="#2a70d8" stroke="#1a50b0" stroke-width="0.6"/>
<polygon points="64.7,717.0 69.8,714.2 78.3,715.6 83.7,718.2 82.1,721.5 73.7,721.6 67.5,720.1" fill="#2a92ea" stroke="#1f78c8" stroke-width="0.3"/>
<circle cx="74.13" cy="718.20" r="1.40" fill="#2a70d8" stroke="#1a50b0" stroke-width="0.6"/>
<polygon points="7.8,723.7 12.6,720.3 21.1,720.6 26.8,722.6 25.6,726.0 17.3,727.1 11.0,726.4" fill="#2a92ea" stroke="#1f78c8" stroke-width="0.3"/>
<circle cx="17.32" cy="723.70" r="1.40" fill="#2a70d8" stroke="#1a50b0" stroke-width="0.6"/>
<polygon points="34.3,725.2 38.6,721.3 47.1,720.7 53.0,722.0 52.2,725.5 44.1,727.6 37.7,727.6" fill="#2a92ea" stroke="#1f78c8" stroke-width="0.3"/>
<circle cx="43.71" cy="724.20" r="1.40" fill="#2a70d8" stroke="#1a50b0" stroke-width="0.6"/>
<polygon points="71.2,724.2 75.8,720.6 84.3,720.4 90.1,722.1 89.1,725.5 80.9,727.1 74.5,726.8" fill="#2a92ea" stroke="#1f78c8" stroke-width="0.3"/>
<circle cx="80.71" cy="723.70" r="1.40" fill="#2a70d8" stroke="#1a50b0" stroke-width="0.6"/>
<polygon points="21.5,730.9 25.6,726.7 34.1,725.5 40.0,726.4 39.4,729.9 31.5,732.5 25.1,733.0" fill="#2a92ea" stroke="#1f78c8" stroke-width="0.3"/>
<circle cx="30.87" cy="729.20" r="1.40" fill="#2a70d8" stroke="#1a50b0" stroke-width="0.6"/>
<polygon points="44.8,730.8 49.2,726.9 57.7,726.2 63.6,727.5 62.8,731.0 54.7,733.1 48.3,733.1" fill="#2a92ea" stroke="#1f78c8" stroke-width="0.3"/>
<circle cx="54.29" cy="729.70" r="1.40" fill="#2a70d8" stroke="#1a50b0" stroke-width="0.6"/>
<polygon points="62.8,731.0 66.9,726.8 75.3,725.4 81.3,726.3 80.7,729.9 72.8,732.5 66.5,733.1" fill="#2a92ea" stroke="#1f78c8" stroke-width="0.3"/>
<circle cx="72.17" cy="729.20" r="1.40" fill="#2a70d8" stroke="#1a50b0" stroke-width="0.6"/>
<ellipse cx="50.7" cy="709.2" rx="48.5" ry="10" fill="none" stroke="#888" stroke-width="0.5"/>
<path d="M2.200000000000003 723.7 A48.5 10.2 0 0 0 99.2 723.7" fill="none" stroke="#888" stroke-width="0.5"/>
<ellipse cx="207.3" cy="723.7" rx="48.5" ry="10.2" fill="#cde6f8" stroke="#888" stroke-width="0.5"/>
<path d="M158.8 709.2 V723.7 M255.8 709.2 V723.7" stroke="#888" stroke-width="0.5"/>
<polygon points="180.8,717.3 185.9,714.3 194.4,715.5 199.9,718.0 198.3,721.3 190.0,721.6 183.7,720.3" fill="#2a92ea" stroke="#1f78c8" stroke-width="0.3"/>
<circle cx="190.30" cy="718.20" r="1.40" fill="#fff" stroke="#1a50b0" stroke-width="0.6"/>
<polygon points="201.6,717.7 206.5,714.6 215.0,715.3 220.6,717.5 219.2,720.9 210.9,721.6 204.6,720.6" fill="#2a92ea" stroke="#1f78c8" stroke-width="0.3"/>
<circle cx="211.05" cy="718.20" r="1.40" fill="#fff" stroke="#1a50b0" stroke-width="0.6"/>
<polygon points="220.9,718.9 225.4,715.1 233.9,714.8 239.8,716.4 238.8,719.9 230.6,721.6 224.2,721.4" fill="#2a92ea" stroke="#1f78c8" stroke-width="0.3"/>
<circle cx="230.37" cy="718.20" r="1.40" fill="#fff" stroke="#1a50b0" stroke-width="0.6"/>
<polygon points="163.9,725.2 168.1,721.1 176.6,720.0 182.5,721.1 181.8,724.6 173.8,727.1 167.5,727.4" fill="#2a92ea" stroke="#1f78c8" stroke-width="0.3"/>
<circle cx="173.30" cy="723.70" r="1.40" fill="#fff" stroke="#1a50b0" stroke-width="0.6"/>
<polygon points="191.7,724.7 196.3,721.1 204.8,720.9 210.6,722.5 209.6,726.0 201.4,727.6 195.0,727.3" fill="#2a92ea" stroke="#1f78c8" stroke-width="0.3"/>
<circle cx="201.20" cy="724.20" r="1.40" fill="#fff" stroke="#1a50b0" stroke-width="0.6"/>
<polygon points="228.2,722.4 233.4,719.7 241.8,721.1 247.2,723.8 245.5,727.0 237.2,727.1 231.0,725.6" fill="#2a92ea" stroke="#1f78c8" stroke-width="0.3"/>
<circle cx="237.61" cy="723.70" r="1.40" fill="#fff" stroke="#1a50b0" stroke-width="0.6"/>
<polygon points="177.2,727.5 182.5,725.0 190.8,726.8 196.1,729.8 194.3,732.9 185.9,732.5 179.8,730.7" fill="#2a92ea" stroke="#1f78c8" stroke-width="0.3"/>
<circle cx="186.55" cy="729.20" r="1.40" fill="#fff" stroke="#1a50b0" stroke-width="0.6"/>
<polygon points="200.7,729.5 205.5,726.2 214.1,726.7 219.7,728.8 218.4,732.1 210.1,733.1 203.8,732.3" fill="#2a92ea" stroke="#1f78c8" stroke-width="0.3"/>
<circle cx="210.21" cy="729.70" r="1.40" fill="#fff" stroke="#1a50b0" stroke-width="0.6"/>
<polygon points="219.5,729.3 224.2,725.8 232.8,726.1 238.5,728.0 237.3,731.4 229.0,732.6 222.7,732.0" fill="#2a92ea" stroke="#1f78c8" stroke-width="0.3"/>
<circle cx="228.99" cy="729.20" r="1.40" fill="#fff" stroke="#1a50b0" stroke-width="0.6"/>
<ellipse cx="207.3" cy="709.2" rx="48.5" ry="10" fill="none" stroke="#888" stroke-width="0.5"/>
<path d="M158.8 723.7 A48.5 10.2 0 0 0 255.8 723.7" fill="none" stroke="#888" stroke-width="0.5"/>
<polygon points="87.1,754.4 83.4,755.2 82.7,759.2 80.5,755.8 76.5,756.0 79.3,753.0 77.1,750.3 81.2,751.3 84.1,748.7 83.8,752.7" fill="#9aa0aa"/>
<circle cx="81.57" cy="753.67" r="1.60" fill="#fff" stroke="#222" stroke-width="0.8"/>
<circle cx="87.91" cy="754.61" r="3.90" fill="#ee2d3d" stroke="#b01020" stroke-width="0.4"/>
<path d="M86.4 752.8 A2 2 0 1 0 89.7 755.1" fill="none" stroke="#a0101c" stroke-width="0.8"/>
<ellipse cx="101.5" cy="748.1" rx="5.2" ry="3.3" transform="rotate(31 101.5 748.1)" fill="#2a8ae8" stroke="#1a60b8" stroke-width="0.4"/>
<circle cx="101.46" cy="748.10" r="1.20" fill="#1a4ab0" stroke="#1a40a0" stroke-width="0.4"/>
<polygon points="109.7,754.1 105.9,754.5 104.7,758.3 103.0,754.9 99.0,754.8 101.9,752.3 100.5,748.6 103.7,750.4 107.3,748.1 106.3,751.6" fill="#9aa0aa"/>
<circle cx="104.22" cy="752.77" r="1.60" fill="#fff" stroke="#222" stroke-width="0.8"/>
<circle cx="96.64" cy="748.39" r="3.90" fill="#ee2d3d" stroke="#b01020" stroke-width="0.4"/>
<path d="M95.1 746.6 A2 2 0 1 0 98.4 748.9" fill="none" stroke="#a0101c" stroke-width="0.8"/>
<circle cx="98.95" cy="773.15" r="3.90" fill="#ee2d3d" stroke="#b01020" stroke-width="0.4"/>
<path d="M97.4 771.3 A2 2 0 1 0 100.7 773.6" fill="none" stroke="#a0101c" stroke-width="0.8"/>
<circle cx="107.67" cy="759.31" r="3.90" fill="#ee2d3d" stroke="#b01020" stroke-width="0.4"/>
<path d="M106.2 757.5 A2 2 0 1 0 109.5 759.8" fill="none" stroke="#a0101c" stroke-width="0.8"/>
<polygon points="100.0,754.6 96.0,755.5 94.6,759.2 93.1,755.6 89.9,756.9 92.1,753.4 90.3,749.9 94.0,751.3 96.4,748.4 96.6,752.5" fill="#9aa0aa"/>
<circle cx="94.47" cy="753.61" r="1.60" fill="#fff" stroke="#222" stroke-width="0.8"/>
<ellipse cx="79.4" cy="759.3" rx="5.2" ry="3.3" transform="rotate(-34 79.4 759.3)" fill="#2a8ae8" stroke="#1a60b8" stroke-width="0.4"/>
<circle cx="79.38" cy="759.30" r="1.20" fill="#1a4ab0" stroke="#1a40a0" stroke-width="0.4"/>
<polygon points="105.2,755.0 101.1,756.4 100.1,760.1 98.6,756.7 95.0,757.6 97.3,753.8 95.9,750.3 99.0,752.2 101.9,749.4 101.8,753.5" fill="#9aa0aa"/>
<circle cx="99.63" cy="754.50" r="1.60" fill="#fff" stroke="#222" stroke-width="0.8"/>
<circle cx="109.64" cy="762.61" r="3.90" fill="#ee2d3d" stroke="#b01020" stroke-width="0.4"/>
<path d="M108.1 760.8 A2 2 0 1 0 111.4 763.1" fill="none" stroke="#a0101c" stroke-width="0.8"/>
<ellipse cx="108.4" cy="767.7" rx="5.2" ry="3.3" transform="rotate(15 108.4 767.7)" fill="#2a8ae8" stroke="#1a60b8" stroke-width="0.4"/>
<circle cx="108.41" cy="767.71" r="1.20" fill="#1a4ab0" stroke="#1a40a0" stroke-width="0.4"/>
<polygon points="104.1,744.3 100.0,745.7 99.8,749.3 97.6,746.1 93.3,745.9 96.1,743.7 94.8,739.7 97.9,741.5 101.2,738.9 100.6,742.6" fill="#9aa0aa"/>
<circle cx="98.54" cy="743.84" r="1.60" fill="#fff" stroke="#222" stroke-width="0.8"/>
<circle cx="108.37" cy="748.42" r="3.90" fill="#ee2d3d" stroke="#b01020" stroke-width="0.4"/>
<path d="M106.9 746.6 A2 2 0 1 0 110.2 748.9" fill="none" stroke="#a0101c" stroke-width="0.8"/>
<polygon points="94.0,764.7 89.9,766.0 89.4,769.6 87.4,766.2 83.3,766.5 86.0,763.9 84.0,760.6 87.9,761.7 90.5,758.9 90.4,762.8" fill="#9aa0aa"/>
<circle cx="88.39" cy="764.08" r="1.60" fill="#fff" stroke="#222" stroke-width="0.8"/>
<circle cx="111.05" cy="753.59" r="3.90" fill="#ee2d3d" stroke="#b01020" stroke-width="0.4"/>
<path d="M109.5 751.8 A2 2 0 1 0 112.8 754.1" fill="none" stroke="#a0101c" stroke-width="0.8"/>
<polygon points="108.1,760.9 104.6,760.7 103.1,764.8 101.3,761.3 97.6,761.5 100.3,759.2 98.7,755.3 102.0,757.0 105.4,754.3 104.9,758.3" fill="#9aa0aa"/>
<circle cx="102.69" cy="759.26" r="1.60" fill="#fff" stroke="#222" stroke-width="0.8"/>
<ellipse cx="93.2" cy="763.2" rx="5.2" ry="3.3" transform="rotate(-21 93.2 763.2)" fill="#2a8ae8" stroke="#1a60b8" stroke-width="0.4"/>
<circle cx="93.21" cy="763.18" r="1.20" fill="#1a4ab0" stroke="#1a40a0" stroke-width="0.4"/>
<circle cx="90.18" cy="758.80" r="3.90" fill="#ee2d3d" stroke="#b01020" stroke-width="0.4"/>
<path d="M88.7 757.0 A2 2 0 1 0 92.0 759.3" fill="none" stroke="#a0101c" stroke-width="0.8"/>
<circle cx="98.57" cy="762.56" r="3.90" fill="#ee2d3d" stroke="#b01020" stroke-width="0.4"/>
<path d="M97.1 760.8 A2 2 0 1 0 100.4 763.1" fill="none" stroke="#a0101c" stroke-width="0.8"/>
<circle cx="94.64" cy="744.67" r="3.90" fill="#ee2d3d" stroke="#b01020" stroke-width="0.4"/>
<path d="M93.1 742.9 A2 2 0 1 0 96.4 745.2" fill="none" stroke="#a0101c" stroke-width="0.8"/>
<circle cx="112.92" cy="758.57" r="3.90" fill="#ee2d3d" stroke="#b01020" stroke-width="0.4"/>
<path d="M111.4 756.8 A2 2 0 1 0 114.7 759.1" fill="none" stroke="#a0101c" stroke-width="0.8"/>
<ellipse cx="95.6" cy="757.9" rx="5.2" ry="3.3" transform="rotate(-39 95.6 757.9)" fill="#2a8ae8" stroke="#1a60b8" stroke-width="0.4"/>
<circle cx="95.56" cy="757.92" r="1.20" fill="#1a4ab0" stroke="#1a40a0" stroke-width="0.4"/>
<circle cx="85.79" cy="758.46" r="3.90" fill="#ee2d3d" stroke="#b01020" stroke-width="0.4"/>
<path d="M84.3 756.7 A2 2 0 1 0 87.6 759.0" fill="none" stroke="#a0101c" stroke-width="0.8"/>
<ellipse cx="104.3" cy="763.7" rx="5.2" ry="3.3" transform="rotate(4 104.3 763.7)" fill="#2a8ae8" stroke="#1a60b8" stroke-width="0.4"/>
<circle cx="104.27" cy="763.66" r="1.20" fill="#1a4ab0" stroke="#1a40a0" stroke-width="0.4"/>
<ellipse cx="102.8" cy="768.0" rx="5.2" ry="3.3" transform="rotate(-32 102.8 768.0)" fill="#2a8ae8" stroke="#1a60b8" stroke-width="0.4"/>
<circle cx="102.83" cy="768.04" r="1.20" fill="#1a4ab0" stroke="#1a40a0" stroke-width="0.4"/>
<circle cx="97.08" cy="767.26" r="3.90" fill="#ee2d3d" stroke="#b01020" stroke-width="0.4"/>
<path d="M95.6 765.5 A2 2 0 1 0 98.9 767.8" fill="none" stroke="#a0101c" stroke-width="0.8"/>
<ellipse cx="82.9" cy="762.9" rx="5.2" ry="3.3" transform="rotate(-15 82.9 762.9)" fill="#2a8ae8" stroke="#1a60b8" stroke-width="0.4"/>
<circle cx="82.93" cy="762.90" r="1.20" fill="#1a4ab0" stroke="#1a40a0" stroke-width="0.4"/>
<circle cx="86.29" cy="748.75" r="3.90" fill="#ee2d3d" stroke="#b01020" stroke-width="0.4"/>
<path d="M84.8 746.9 A2 2 0 1 0 88.1 749.2" fill="none" stroke="#a0101c" stroke-width="0.8"/>
<circle cx="91.11" cy="768.25" r="3.90" fill="#ee2d3d" stroke="#b01020" stroke-width="0.4"/>
<path d="M89.6 766.5 A2 2 0 1 0 92.9 768.8" fill="none" stroke="#a0101c" stroke-width="0.8"/>
<polygon points="95.6,749.7 91.5,750.8 91.2,754.4 89.2,751.2 84.9,751.1 87.7,748.4 86.1,745.0 89.3,746.7 92.1,743.7 92.1,747.8" fill="#9aa0aa"/>
<circle cx="90.04" cy="748.95" r="1.60" fill="#fff" stroke="#222" stroke-width="0.8"/>
<circle cx="85.72" cy="768.34" r="3.90" fill="#ee2d3d" stroke="#b01020" stroke-width="0.4"/>
<path d="M84.2 766.5 A2 2 0 1 0 87.5 768.8" fill="none" stroke="#a0101c" stroke-width="0.8"/>
<polygon points="171.3,770.2 167.5,770.9 166.7,774.8 164.4,771.2 160.9,772.0 163.4,768.8 161.9,765.1 165.3,766.9 168.0,764.1 168.0,768.3" fill="#9aa0aa"/>
<circle cx="165.75" cy="769.24" r="1.60" fill="#fff" stroke="#222" stroke-width="0.8"/>
<ellipse cx="149.3" cy="758.8" rx="5.2" ry="3.3" transform="rotate(11 149.3 758.8)" fill="#2a8ae8" stroke="#1a60b8" stroke-width="0.4"/>
<circle cx="149.31" cy="758.79" r="1.20" fill="#fff" stroke="#1a40a0" stroke-width="0.4"/>
<circle cx="174.36" cy="753.92" r="3.90" fill="#ee2d3d" stroke="#b01020" stroke-width="0.4"/>
<path d="M172.9 752.1 A2 2 0 1 0 176.2 754.4" fill="none" stroke="#a0101c" stroke-width="0.8"/>
<ellipse cx="152.1" cy="753.8" rx="5.2" ry="3.3" transform="rotate(-3 152.1 753.8)" fill="#2a8ae8" stroke="#1a60b8" stroke-width="0.4"/>
<circle cx="152.06" cy="753.84" r="1.20" fill="#fff" stroke="#1a40a0" stroke-width="0.4"/>
<polygon points="170.2,749.6 166.5,750.3 165.1,754.3 163.9,751.0 159.6,751.1 162.3,748.4 160.4,745.2 164.3,746.4 167.3,743.8 166.7,747.4" fill="#9aa0aa"/>
<circle cx="164.67" cy="748.75" r="1.60" fill="#fff" stroke="#222" stroke-width="0.8"/>
<circle cx="159.07" cy="768.80" r="3.90" fill="#ee2d3d" stroke="#b01020" stroke-width="0.4"/>
<path d="M157.6 767.0 A2 2 0 1 0 160.9 769.3" fill="none" stroke="#a0101c" stroke-width="0.8"/>
<circle cx="146.65" cy="753.06" r="3.90" fill="#ee2d3d" stroke="#b01020" stroke-width="0.4"/>
<path d="M145.2 751.3 A2 2 0 1 0 148.5 753.6" fill="none" stroke="#a0101c" stroke-width="0.8"/>
<ellipse cx="172.0" cy="758.0" rx="5.2" ry="3.3" transform="rotate(-1 172.0 758.0)" fill="#2a8ae8" stroke="#1a60b8" stroke-width="0.4"/>
<circle cx="172.02" cy="757.98" r="1.20" fill="#fff" stroke="#1a40a0" stroke-width="0.4"/>
<polygon points="161.0,768.3 156.9,769.8 156.6,773.5 154.4,770.2 150.7,771.0 153.0,768.0 151.0,764.5 154.7,765.7 158.1,763.1 157.6,767.1" fill="#9aa0aa"/>
<circle cx="155.39" cy="768.00" r="1.60" fill="#fff" stroke="#222" stroke-width="0.8"/>
<ellipse cx="166.2" cy="759.0" rx="5.2" ry="3.3" transform="rotate(-22 166.2 759.0)" fill="#2a8ae8" stroke="#1a60b8" stroke-width="0.4"/>
<circle cx="166.15" cy="758.98" r="1.20" fill="#fff" stroke="#1a40a0" stroke-width="0.4"/>
<circle cx="171.17" cy="768.98" r="3.90" fill="#ee2d3d" stroke="#b01020" stroke-width="0.4"/>
<path d="M169.7 767.2 A2 2 0 1 0 173.0 769.5" fill="none" stroke="#a0101c" stroke-width="0.8"/>
<circle cx="162.12" cy="763.70" r="3.90" fill="#ee2d3d" stroke="#b01020" stroke-width="0.4"/>
<path d="M160.6 761.9 A2 2 0 1 0 163.9 764.2" fill="none" stroke="#a0101c" stroke-width="0.8"/>
<ellipse cx="149.4" cy="749.1" rx="5.2" ry="3.3" transform="rotate(-31 149.4 749.1)" fill="#2a8ae8" stroke="#1a60b8" stroke-width="0.4"/>
<circle cx="149.41" cy="749.09" r="1.20" fill="#fff" stroke="#1a40a0" stroke-width="0.4"/>
<circle cx="142.90" cy="758.73" r="3.90" fill="#ee2d3d" stroke="#b01020" stroke-width="0.4"/>
<path d="M141.4 756.9 A2 2 0 1 0 144.7 759.2" fill="none" stroke="#a0101c" stroke-width="0.8"/>
<polygon points="160.0,750.0 156.3,750.6 155.5,754.6 153.2,751.2 149.7,752.1 152.1,748.6 150.5,745.1 153.7,746.8 156.5,743.9 156.6,748.1" fill="#9aa0aa"/>
<circle cx="154.42" cy="749.11" r="1.60" fill="#fff" stroke="#222" stroke-width="0.8"/>
<circle cx="156.24" cy="744.05" r="3.90" fill="#ee2d3d" stroke="#b01020" stroke-width="0.4"/>
<path d="M154.7 742.2 A2 2 0 1 0 158.0 744.5" fill="none" stroke="#a0101c" stroke-width="0.8"/>
<polygon points="174.8,754.1 171.1,755.5 170.0,759.5 167.9,756.0 164.2,756.5 166.9,753.5 164.7,750.7 168.7,751.6 171.4,748.9 171.5,753.2" fill="#9aa0aa"/>
<circle cx="169.21" cy="753.99" r="1.60" fill="#fff" stroke="#222" stroke-width="0.8"/>
<polygon points="179.1,763.8 175.1,765.1 175.2,768.6 172.4,765.4 168.3,765.2 171.2,762.7 169.6,759.2 172.9,760.9 176.6,758.6 175.5,761.9" fill="#9aa0aa"/>
<circle cx="173.51" cy="763.23" r="1.60" fill="#fff" stroke="#222" stroke-width="0.8"/>
<circle cx="162.12" cy="754.33" r="3.90" fill="#ee2d3d" stroke="#b01020" stroke-width="0.4"/>
<path d="M160.6 752.5 A2 2 0 1 0 163.9 754.8" fill="none" stroke="#a0101c" stroke-width="0.8"/>
<polygon points="168.0,746.1 164.2,746.4 163.2,750.1 161.6,746.7 158.0,747.6 160.3,744.3 158.9,740.4 162.4,742.2 165.0,739.5 164.9,743.6" fill="#9aa0aa"/>
<circle cx="162.67" cy="744.55" r="1.60" fill="#fff" stroke="#222" stroke-width="0.8"/>
<polygon points="174.5,764.0 170.8,765.4 170.5,769.2 168.0,766.1 163.8,766.0 166.6,763.3 164.6,760.4 168.4,761.5 170.9,758.6 171.1,762.9" fill="#9aa0aa"/>
<circle cx="168.94" cy="763.87" r="1.60" fill="#fff" stroke="#222" stroke-width="0.8"/>
<circle cx="157.99" cy="763.40" r="3.90" fill="#ee2d3d" stroke="#b01020" stroke-width="0.4"/>
<path d="M156.5 761.6 A2 2 0 1 0 159.8 763.9" fill="none" stroke="#a0101c" stroke-width="0.8"/>
<polygon points="159.3,760.2 155.6,761.0 154.9,764.9 152.5,761.5 148.9,762.1 151.4,759.0 149.9,755.4 153.4,757.1 156.4,754.5 155.8,758.3" fill="#9aa0aa"/>
<circle cx="153.76" cy="759.45" r="1.60" fill="#fff" stroke="#222" stroke-width="0.8"/>
<ellipse cx="159.7" cy="748.5" rx="5.2" ry="3.3" transform="rotate(-24 159.7 748.5)" fill="#2a8ae8" stroke="#1a60b8" stroke-width="0.4"/>
<circle cx="159.72" cy="748.46" r="1.20" fill="#fff" stroke="#1a40a0" stroke-width="0.4"/>
<polygon points="153.9,768.4 150.2,769.1 149.6,773.0 147.5,769.8 143.2,769.5 146.0,767.2 144.1,764.0 147.7,765.2 150.5,762.3 150.6,766.7" fill="#9aa0aa"/>
<circle cx="148.40" cy="767.52" r="1.60" fill="#fff" stroke="#222" stroke-width="0.8"/>
<circle cx="163.27" cy="773.03" r="3.90" fill="#ee2d3d" stroke="#b01020" stroke-width="0.4"/>
<path d="M161.8 771.2 A2 2 0 1 0 165.1 773.5" fill="none" stroke="#a0101c" stroke-width="0.8"/>
<circle cx="156.71" cy="772.33" r="3.90" fill="#ee2d3d" stroke="#b01020" stroke-width="0.4"/>
<path d="M155.2 770.5 A2 2 0 1 0 158.5 772.8" fill="none" stroke="#a0101c" stroke-width="0.8"/>
<polygon points="152.1,764.9 148.1,766.1 147.9,769.8 145.3,766.4 141.6,767.0 144.2,763.8 142.6,760.4 146.0,762.0 148.7,759.2 148.7,763.3" fill="#9aa0aa"/>
<circle cx="146.51" cy="764.34" r="1.60" fill="#fff" stroke="#222" stroke-width="0.8"/>
<circle cx="156.24" cy="753.36" r="3.90" fill="#ee2d3d" stroke="#b01020" stroke-width="0.4"/>
<path d="M154.7 751.6 A2 2 0 1 0 158.0 753.9" fill="none" stroke="#a0101c" stroke-width="0.8"/>
<ellipse cx="176.5" cy="758.8" rx="5.2" ry="3.3" transform="rotate(27 176.5 758.8)" fill="#2a8ae8" stroke="#1a60b8" stroke-width="0.4"/>
<circle cx="176.50" cy="758.84" r="1.20" fill="#fff" stroke="#1a40a0" stroke-width="0.4"/>
<ellipse cx="152.1" cy="762.8" rx="5.2" ry="3.3" transform="rotate(15 152.1 762.8)" fill="#2a8ae8" stroke="#1a60b8" stroke-width="0.4"/>
<circle cx="152.08" cy="762.80" r="1.20" fill="#fff" stroke="#1a40a0" stroke-width="0.4"/>
<ellipse cx="170.5" cy="748.0" rx="5.2" ry="3.3" transform="rotate(-2 170.5 748.0)" fill="#2a8ae8" stroke="#1a60b8" stroke-width="0.4"/>
<circle cx="170.52" cy="747.96" r="1.20" fill="#fff" stroke="#1a40a0" stroke-width="0.4"/>
<circle cx="159.41" cy="759.50" r="3.90" fill="#ee2d3d" stroke="#b01020" stroke-width="0.4"/>
<path d="M157.9 757.7 A2 2 0 1 0 161.2 760.0" fill="none" stroke="#a0101c" stroke-width="0.8"/>
<path d="M62 737.5 Q60 745 66.5 748.5" fill="none" stroke="#111" stroke-width="0.8"/>
<path d="M70.00 749.50L66.60 750.07L67.76 746.88z" fill="#111"/>
<path d="M196.5 737.5 Q199 745 192 748.5" fill="none" stroke="#111" stroke-width="0.8"/>
<path d="M188.50 749.50L190.74 746.88L191.90 750.07z" fill="#111"/>
<line x1="42.00" y1="800.00" x2="42.00" y2="871.40" stroke="#000" stroke-width="0.8"/>
<line x1="42.00" y1="871.40" x2="259.00" y2="871.40" stroke="#000" stroke-width="0.8"/>
<line x1="39.50" y1="801.16" x2="42.00" y2="801.16" stroke="#000" stroke-width="0.7"/>
<text x="38.5" y="804.5" font-size="9.2" text-anchor="end" fill="#000">1.6</text>
<line x1="39.50" y1="818.72" x2="42.00" y2="818.72" stroke="#000" stroke-width="0.7"/>
<text x="38.5" y="822.0" font-size="9.2" text-anchor="end" fill="#000">1.2</text>
<line x1="39.50" y1="836.28" x2="42.00" y2="836.28" stroke="#000" stroke-width="0.7"/>
<text x="38.5" y="839.6" font-size="9.2" text-anchor="end" fill="#000">0.8</text>
<line x1="39.50" y1="853.84" x2="42.00" y2="853.84" stroke="#000" stroke-width="0.7"/>
<text x="38.5" y="857.1" font-size="9.2" text-anchor="end" fill="#000">0.4</text>
<line x1="39.50" y1="871.40" x2="42.00" y2="871.40" stroke="#000" stroke-width="0.7"/>
<text x="38.5" y="874.7" font-size="9.2" text-anchor="end" fill="#000">0.0</text>
<rect x="48.50" y="827.50" width="11.00" height="43.90" fill="#000"/>
<line x1="54.00" y1="827.50" x2="54.00" y2="825.74" stroke="#000" stroke-width="0.8"/>
<line x1="52.00" y1="825.74" x2="56.00" y2="825.74" stroke="#000" stroke-width="0.8"/>
<rect x="59.50" y="870.96" width="10.5" height="0.44" fill="#b0b0b0" stroke="#000" stroke-width="0.7"/>
<text x="59.5" y="883.5" font-size="10.6" text-anchor="middle" fill="#000">TIE1</text>
<text x="59.5" y="811.5" font-size="15" text-anchor="middle" fill="#000">*</text>
<line x1="52.50" y1="809.30" x2="64.50" y2="809.30" stroke="#000" stroke-width="1.1"/>
<line x1="59.50" y1="871.40" x2="59.50" y2="873.40" stroke="#000" stroke-width="0.7"/>
<rect x="85.20" y="827.50" width="11.00" height="43.90" fill="#000"/>
<line x1="90.70" y1="827.50" x2="90.70" y2="813.45" stroke="#000" stroke-width="0.8"/>
<line x1="88.70" y1="813.45" x2="92.70" y2="813.45" stroke="#000" stroke-width="0.8"/>
<rect x="96.20" y="866.13" width="10.5" height="5.27" fill="#b0b0b0" stroke="#000" stroke-width="0.7"/>
<line x1="101.40" y1="866.13" x2="101.40" y2="864.81" stroke="#000" stroke-width="0.8"/>
<line x1="99.40" y1="864.81" x2="103.40" y2="864.81" stroke="#000" stroke-width="0.8"/>
<text x="96.2" y="883.5" font-size="10.6" text-anchor="middle" fill="#000">AFP</text>
<text x="96.2" y="811.5" font-size="15" text-anchor="middle" fill="#000">*</text>
<line x1="89.20" y1="809.30" x2="101.20" y2="809.30" stroke="#000" stroke-width="1.1"/>
<line x1="96.20" y1="871.40" x2="96.20" y2="873.40" stroke="#000" stroke-width="0.7"/>
<rect x="121.80" y="827.50" width="11.00" height="43.90" fill="#000"/>
<line x1="127.30" y1="827.50" x2="127.30" y2="825.30" stroke="#000" stroke-width="0.8"/>
<line x1="125.30" y1="825.30" x2="129.30" y2="825.30" stroke="#000" stroke-width="0.8"/>
<rect x="132.80" y="852.96" width="10.5" height="18.44" fill="#b0b0b0" stroke="#000" stroke-width="0.7"/>
<line x1="138.00" y1="852.96" x2="138.00" y2="843.30" stroke="#000" stroke-width="0.8"/>
<line x1="136.00" y1="843.30" x2="140.00" y2="843.30" stroke="#000" stroke-width="0.8"/>
<text x="132.8" y="883.5" font-size="10.6" text-anchor="middle" fill="#000">RBP4</text>
<text x="132.8" y="811.5" font-size="15" text-anchor="middle" fill="#000">*</text>
<line x1="125.80" y1="809.30" x2="137.80" y2="809.30" stroke="#000" stroke-width="1.1"/>
<line x1="132.80" y1="871.40" x2="132.80" y2="873.40" stroke="#000" stroke-width="0.7"/>
<rect x="158.00" y="827.50" width="11.00" height="43.90" fill="#000"/>
<line x1="163.50" y1="827.50" x2="163.50" y2="825.30" stroke="#000" stroke-width="0.8"/>
<line x1="161.50" y1="825.30" x2="165.50" y2="825.30" stroke="#000" stroke-width="0.8"/>
<rect x="169.00" y="856.03" width="10.5" height="15.37" fill="#b0b0b0" stroke="#000" stroke-width="0.7"/>
<line x1="174.20" y1="856.03" x2="174.20" y2="847.25" stroke="#000" stroke-width="0.8"/>
<line x1="172.20" y1="847.25" x2="176.20" y2="847.25" stroke="#000" stroke-width="0.8"/>
<text x="169.0" y="883.5" font-size="10.6" text-anchor="middle" fill="#000">TTR</text>
<text x="169.0" y="811.5" font-size="15" text-anchor="middle" fill="#000">*</text>
<line x1="162.00" y1="809.30" x2="174.00" y2="809.30" stroke="#000" stroke-width="1.1"/>
<line x1="169.00" y1="871.40" x2="169.00" y2="873.40" stroke="#000" stroke-width="0.7"/>
<rect x="194.80" y="827.50" width="11.00" height="43.90" fill="#000"/>
<line x1="200.30" y1="827.50" x2="200.30" y2="817.84" stroke="#000" stroke-width="0.8"/>
<line x1="198.30" y1="817.84" x2="202.30" y2="817.84" stroke="#000" stroke-width="0.8"/>
<rect x="205.80" y="861.30" width="10.5" height="10.10" fill="#b0b0b0" stroke="#000" stroke-width="0.7"/>
<line x1="211.00" y1="861.30" x2="211.00" y2="849.01" stroke="#000" stroke-width="0.8"/>
<line x1="209.00" y1="849.01" x2="213.00" y2="849.01" stroke="#000" stroke-width="0.8"/>
<text x="205.8" y="883.5" font-size="10.6" text-anchor="middle" fill="#000">ALB</text>
<text x="205.8" y="811.5" font-size="15" text-anchor="middle" fill="#000">*</text>
<line x1="198.80" y1="809.30" x2="210.80" y2="809.30" stroke="#000" stroke-width="1.1"/>
<line x1="205.80" y1="871.40" x2="205.80" y2="873.40" stroke="#000" stroke-width="0.7"/>
<rect x="231.00" y="827.50" width="11.00" height="43.90" fill="#000"/>
<line x1="236.50" y1="827.50" x2="236.50" y2="819.60" stroke="#000" stroke-width="0.8"/>
<line x1="234.50" y1="819.60" x2="238.50" y2="819.60" stroke="#000" stroke-width="0.8"/>
<rect x="242.00" y="861.74" width="10.5" height="9.66" fill="#b0b0b0" stroke="#000" stroke-width="0.7"/>
<line x1="247.20" y1="861.74" x2="247.20" y2="860.42" stroke="#000" stroke-width="0.8"/>
<line x1="245.20" y1="860.42" x2="249.20" y2="860.42" stroke="#000" stroke-width="0.8"/>
<text x="242.0" y="883.5" font-size="10.6" text-anchor="middle" fill="#000">HNF4A</text>
<text x="242.0" y="811.5" font-size="15" text-anchor="middle" fill="#000">*</text>
<line x1="235.00" y1="809.30" x2="247.00" y2="809.30" stroke="#000" stroke-width="1.1"/>
<line x1="242.00" y1="871.40" x2="242.00" y2="873.40" stroke="#000" stroke-width="0.7"/>
<rect x="50.80" y="787.80" width="8.20" height="8.20" fill="#000"/>
<text x="61.8" y="795.8" font-size="10.6" text-anchor="start" fill="#000">siControl</text>
<rect x="113.0" y="787.8" width="8" height="8" fill="#b0b0b0" stroke="#000" stroke-width="0.7"/>
<text x="124.0" y="795.8" font-size="10.6" text-anchor="start" fill="#000">siTIE1</text>
<line x1="38.70" y1="903.00" x2="38.70" y2="969.00" stroke="#000" stroke-width="0.8"/>
<line x1="38.70" y1="969.00" x2="257.00" y2="969.00" stroke="#000" stroke-width="0.8"/>
<line x1="36.20" y1="904.04" x2="38.70" y2="904.04" stroke="#000" stroke-width="0.7"/>
<text x="35.2" y="907.3" font-size="9.2" text-anchor="end" fill="#000">1.6</text>
<line x1="36.20" y1="920.28" x2="38.70" y2="920.28" stroke="#000" stroke-width="0.7"/>
<text x="35.2" y="923.6" font-size="9.2" text-anchor="end" fill="#000">1.2</text>
<line x1="36.20" y1="936.52" x2="38.70" y2="936.52" stroke="#000" stroke-width="0.7"/>
<text x="35.2" y="939.8" font-size="9.2" text-anchor="end" fill="#000">0.8</text>
<line x1="36.20" y1="952.76" x2="38.70" y2="952.76" stroke="#000" stroke-width="0.7"/>
<text x="35.2" y="956.1" font-size="9.2" text-anchor="end" fill="#000">0.4</text>
<line x1="36.20" y1="969.00" x2="38.70" y2="969.00" stroke="#000" stroke-width="0.7"/>
<text x="35.2" y="972.3" font-size="9.2" text-anchor="end" fill="#000">0.0</text>
<rect x="45.50" y="928.40" width="11.00" height="40.60" fill="#000"/>
<line x1="51.00" y1="928.40" x2="51.00" y2="927.59" stroke="#000" stroke-width="0.8"/>
<line x1="49.00" y1="927.59" x2="53.00" y2="927.59" stroke="#000" stroke-width="0.8"/>
<rect x="56.50" y="964.13" width="10.5" height="4.87" fill="#b0b0b0" stroke="#000" stroke-width="0.7"/>
<line x1="61.70" y1="964.13" x2="61.70" y2="960.07" stroke="#000" stroke-width="0.8"/>
<line x1="59.70" y1="960.07" x2="63.70" y2="960.07" stroke="#000" stroke-width="0.8"/>
<text x="56.5" y="981.5" font-size="10.6" text-anchor="middle" fill="#000">EDN1</text>
<text x="56.5" y="917.7" font-size="15" text-anchor="middle" fill="#000">*</text>
<line x1="49.50" y1="914.10" x2="61.50" y2="914.10" stroke="#000" stroke-width="1.1"/>
<line x1="56.50" y1="969.00" x2="56.50" y2="971.00" stroke="#000" stroke-width="0.7"/>
<rect x="81.80" y="928.40" width="11.00" height="40.60" fill="#000"/>
<line x1="87.30" y1="928.40" x2="87.30" y2="922.72" stroke="#000" stroke-width="0.8"/>
<line x1="85.30" y1="922.72" x2="89.30" y2="922.72" stroke="#000" stroke-width="0.8"/>
<rect x="92.80" y="964.94" width="10.5" height="4.06" fill="#b0b0b0" stroke="#000" stroke-width="0.7"/>
<line x1="98.00" y1="964.94" x2="98.00" y2="962.91" stroke="#000" stroke-width="0.8"/>
<line x1="96.00" y1="962.91" x2="100.00" y2="962.91" stroke="#000" stroke-width="0.8"/>
<text x="92.8" y="981.5" font-size="10.6" text-anchor="middle" fill="#000">AFP</text>
<text x="92.8" y="917.7" font-size="15" text-anchor="middle" fill="#000">*</text>
<line x1="85.80" y1="914.10" x2="97.80" y2="914.10" stroke="#000" stroke-width="1.1"/>
<line x1="92.80" y1="969.00" x2="92.80" y2="971.00" stroke="#000" stroke-width="0.7"/>
<rect x="118.30" y="928.40" width="11.00" height="40.60" fill="#000"/>
<line x1="123.80" y1="928.40" x2="123.80" y2="922.72" stroke="#000" stroke-width="0.8"/>
<line x1="121.80" y1="922.72" x2="125.80" y2="922.72" stroke="#000" stroke-width="0.8"/>
<rect x="129.30" y="945.45" width="10.5" height="23.55" fill="#b0b0b0" stroke="#000" stroke-width="0.7"/>
<line x1="134.50" y1="945.45" x2="134.50" y2="941.39" stroke="#000" stroke-width="0.8"/>
<line x1="132.50" y1="941.39" x2="136.50" y2="941.39" stroke="#000" stroke-width="0.8"/>
<text x="129.3" y="981.5" font-size="10.6" text-anchor="middle" fill="#000">RBP4</text>
<text x="129.3" y="917.7" font-size="15" text-anchor="middle" fill="#000">*</text>
<line x1="122.30" y1="914.10" x2="134.30" y2="914.10" stroke="#000" stroke-width="1.1"/>
<line x1="129.30" y1="969.00" x2="129.30" y2="971.00" stroke="#000" stroke-width="0.7"/>
<rect x="154.70" y="928.40" width="11.00" height="40.60" fill="#000"/>
<line x1="160.20" y1="928.40" x2="160.20" y2="922.72" stroke="#000" stroke-width="0.8"/>
<line x1="158.20" y1="922.72" x2="162.20" y2="922.72" stroke="#000" stroke-width="0.8"/>
<rect x="165.70" y="958.04" width="10.5" height="10.96" fill="#b0b0b0" stroke="#000" stroke-width="0.7"/>
<line x1="170.90" y1="958.04" x2="170.90" y2="953.98" stroke="#000" stroke-width="0.8"/>
<line x1="168.90" y1="953.98" x2="172.90" y2="953.98" stroke="#000" stroke-width="0.8"/>
<text x="165.7" y="981.5" font-size="10.6" text-anchor="middle" fill="#000">TTR</text>
<text x="165.7" y="917.7" font-size="15" text-anchor="middle" fill="#000">*</text>
<line x1="158.70" y1="914.10" x2="170.70" y2="914.10" stroke="#000" stroke-width="1.1"/>
<line x1="165.70" y1="969.00" x2="165.70" y2="971.00" stroke="#000" stroke-width="0.7"/>
<rect x="191.30" y="928.40" width="11.00" height="40.60" fill="#000"/>
<line x1="196.80" y1="928.40" x2="196.80" y2="922.72" stroke="#000" stroke-width="0.8"/>
<line x1="194.80" y1="922.72" x2="198.80" y2="922.72" stroke="#000" stroke-width="0.8"/>
<rect x="202.30" y="960.88" width="10.5" height="8.12" fill="#b0b0b0" stroke="#000" stroke-width="0.7"/>
<line x1="207.50" y1="960.88" x2="207.50" y2="954.79" stroke="#000" stroke-width="0.8"/>
<line x1="205.50" y1="954.79" x2="209.50" y2="954.79" stroke="#000" stroke-width="0.8"/>
<text x="202.3" y="981.5" font-size="10.6" text-anchor="middle" fill="#000">ALB</text>
<text x="202.3" y="917.7" font-size="15" text-anchor="middle" fill="#000">*</text>
<line x1="195.30" y1="914.10" x2="207.30" y2="914.10" stroke="#000" stroke-width="1.1"/>
<line x1="202.30" y1="969.00" x2="202.30" y2="971.00" stroke="#000" stroke-width="0.7"/>
<rect x="228.00" y="928.40" width="11.00" height="40.60" fill="#000"/>
<line x1="233.50" y1="928.40" x2="233.50" y2="922.72" stroke="#000" stroke-width="0.8"/>
<line x1="231.50" y1="922.72" x2="235.50" y2="922.72" stroke="#000" stroke-width="0.8"/>
<rect x="239.00" y="957.23" width="10.5" height="11.77" fill="#b0b0b0" stroke="#000" stroke-width="0.7"/>
<line x1="244.20" y1="957.23" x2="244.20" y2="955.20" stroke="#000" stroke-width="0.8"/>
<line x1="242.20" y1="955.20" x2="246.20" y2="955.20" stroke="#000" stroke-width="0.8"/>
<text x="239.0" y="981.5" font-size="10.6" text-anchor="middle" fill="#000">HNF4A</text>
<text x="239.0" y="917.7" font-size="15" text-anchor="middle" fill="#000">*</text>
<line x1="232.00" y1="914.10" x2="244.00" y2="914.10" stroke="#000" stroke-width="1.1"/>
<line x1="239.00" y1="969.00" x2="239.00" y2="971.00" stroke="#000" stroke-width="0.7"/>
<rect x="48.50" y="892.00" width="8.20" height="8.20" fill="#000"/>
<text x="59.5" y="900.0" font-size="10.6" text-anchor="start" fill="#000">siControl</text>
<rect x="108.0" y="892.0" width="8" height="8" fill="#b0b0b0" stroke="#000" stroke-width="0.7"/>
<text x="119.0" y="900.0" font-size="10.6" text-anchor="start" fill="#000">siEDN1</text>
<text x="14.5" y="892.5" font-size="11.3" text-anchor="middle" fill="#000" transform="rotate(-90 14.5 892.5)">Relative expression (qRT-PCR)</text>
<text x="309.0" y="691.5" font-size="15" text-anchor="start" fill="#000" font-weight="bold">i</text>
<rect x="409" y="682.3" width="8.6" height="8.6" fill="#c8c8c8" stroke="#222" stroke-width="0.8"/>
<text x="420.3" y="690.8" font-size="11" text-anchor="start" fill="#000">DMSO</text>
<rect x="459.6" y="682.3" width="8.6" height="8.6" fill="#19c896" stroke="#222" stroke-width="0.8"/>
<text x="470.9" y="690.8" font-size="11" text-anchor="start" fill="#000">1x</text>
<rect x="487.4" y="682.3" width="8.6" height="8.6" fill="#6ed0f4" stroke="#222" stroke-width="0.8"/>
<text x="498.7" y="690.8" font-size="11" text-anchor="start" fill="#000">10x</text>
<rect x="365.1" y="699.1" width="76.59999999999997" height="68.69999999999993" fill="#fff" stroke="#7a7a7a" stroke-width="0.9"/>
<polygon points="367.9,765.0 367.9,763.9 368.8,763.6 369.7,763.3 370.5,763.0 371.4,762.6 372.3,762.2 373.2,761.7 374.1,761.2 374.9,760.6 375.8,759.8 376.7,759.0 377.6,758.0 378.5,756.8 379.3,755.4 380.2,753.5 381.1,751.2 382.0,748.3 382.9,744.8 383.7,740.7 384.6,736.0 385.5,730.8 386.4,725.6 387.3,720.6 388.1,716.2 389.0,712.9 389.9,711.0 390.8,710.6 391.7,711.8 392.6,714.5 393.4,718.4 394.3,723.0 395.2,727.9 396.1,732.8 397.0,737.5 397.8,741.5 398.7,745.0 399.6,747.9 400.5,750.1 401.4,751.9 402.2,753.3 403.1,754.4 404.0,755.3 404.9,756.1 405.8,756.7 406.6,757.3 407.5,757.9 408.4,758.4 409.3,758.9 410.2,759.4 411.0,759.8 411.9,760.3 412.8,760.8 413.7,761.2 414.6,761.6 415.4,762.0 416.3,762.4 417.2,762.8 418.1,763.1 419.0,763.4 419.9,763.7 420.7,763.9 421.6,764.1 422.5,764.3 423.4,764.5 424.3,764.6 425.1,764.7 426.0,764.8 426.9,764.8 427.8,764.9 428.7,764.9 429.5,764.9 430.4,765.0 431.3,765.0 432.2,765.0 433.1,765.0 433.9,765.0 434.8,765.0 435.7,765.0 436.6,765.0 437.5,765.0 438.3,765.0 438.3,765.0" fill="#00dca0" fill-opacity="0.88" stroke="#0a6a5a" stroke-width="1"/>
<polygon points="367.9,765.0 367.9,764.0 368.8,763.8 369.7,763.5 370.5,763.0 371.4,762.5 372.3,761.9 373.2,761.1 374.1,760.1 374.9,758.9 375.8,757.5 376.7,755.9 377.6,754.0 378.5,751.9 379.3,749.5 380.2,746.9 381.1,744.1 382.0,741.2 382.9,738.3 383.7,735.4 384.6,732.6 385.5,730.1 386.4,727.9 387.3,726.2 388.1,724.8 389.0,724.0 389.9,723.7 390.8,724.0 391.7,724.7 392.6,725.9 393.4,727.5 394.3,729.3 395.2,731.4 396.1,733.6 397.0,735.8 397.8,737.9 398.7,740.0 399.6,741.9 400.5,743.6 401.4,745.2 402.2,746.5 403.1,747.7 404.0,748.7 404.9,749.5 405.8,750.2 406.6,750.9 407.5,751.4 408.4,752.0 409.3,752.5 410.2,753.0 411.0,753.5 411.9,754.1 412.8,754.7 413.7,755.3 414.6,756.0 415.4,756.6 416.3,757.3 417.2,758.0 418.1,758.7 419.0,759.4 419.9,760.1 420.7,760.7 421.6,761.3 422.5,761.8 423.4,762.3 424.3,762.7 425.1,763.1 426.0,763.5 426.9,763.8 427.8,764.0 428.7,764.2 429.5,764.4 430.4,764.5 431.3,764.6 432.2,764.7 433.1,764.8 433.9,764.8 434.8,764.9 435.7,764.9 436.6,764.9 437.5,764.9 438.3,765.0 438.3,765.0" fill="#28aae6" fill-opacity="0.6" stroke="#0a5a78" stroke-width="1"/>
<polygon points="367.9,765.0 367.9,764.9 368.8,764.8 369.7,764.8 370.5,764.7 371.4,764.6 372.3,764.4 373.2,764.1 374.1,763.6 374.9,762.8 375.8,761.4 376.7,759.3 377.6,756.0 378.5,751.2 379.3,744.8 380.2,736.7 381.1,727.6 382.0,718.3 382.9,710.0 383.7,703.9 384.6,701.0 385.5,701.7 386.4,705.6 387.3,712.0 388.1,719.6 389.0,727.2 389.9,734.0 390.8,739.6 391.7,743.7 392.6,746.6 393.4,748.6 394.3,750.0 395.2,751.0 396.1,751.9 397.0,752.7 397.8,753.5 398.7,754.3 399.6,755.1 400.5,755.9 401.4,756.6 402.2,757.3 403.1,757.9 404.0,758.4 404.9,759.0 405.8,759.5 406.6,759.9 407.5,760.3 408.4,760.7 409.3,761.1 410.2,761.5 411.0,761.8 411.9,762.2 412.8,762.5 413.7,762.9 414.6,763.2 415.4,763.4 416.3,763.7 417.2,763.9 418.1,764.1 419.0,764.3 419.9,764.5 420.7,764.6 421.6,764.7 422.5,764.8 423.4,764.8 424.3,764.9 425.1,764.9 426.0,764.9 426.9,765.0 427.8,765.0 428.7,765.0 429.5,765.0 430.4,765.0 431.3,765.0 432.2,765.0 433.1,765.0 433.9,765.0 434.8,765.0 435.7,765.0 436.6,765.0 437.5,765.0 438.3,765.0 438.3,765.0" fill="#646464" fill-opacity="0.55" stroke="#8a8a8a" stroke-width="1"/>
<line x1="362.90" y1="765.00" x2="365.10" y2="765.00" stroke="#333" stroke-width="0.7"/>
<text x="361.6" y="768.8" font-size="10.6" text-anchor="end" fill="#000">0.00</text>
<line x1="362.90" y1="748.98" x2="365.10" y2="748.98" stroke="#333" stroke-width="0.7"/>
<text x="361.6" y="752.8" font-size="10.6" text-anchor="end" fill="#000">0.05</text>
<line x1="362.90" y1="732.95" x2="365.10" y2="732.95" stroke="#333" stroke-width="0.7"/>
<text x="361.6" y="736.8" font-size="10.6" text-anchor="end" fill="#000">0.10</text>
<line x1="362.90" y1="716.92" x2="365.10" y2="716.92" stroke="#333" stroke-width="0.7"/>
<text x="361.6" y="720.7" font-size="10.6" text-anchor="end" fill="#000">0.15</text>
<line x1="362.90" y1="700.90" x2="365.10" y2="700.90" stroke="#333" stroke-width="0.7"/>
<text x="361.6" y="704.7" font-size="10.6" text-anchor="end" fill="#000">0.20</text>
<line x1="376.10" y1="767.80" x2="376.10" y2="770.00" stroke="#333" stroke-width="0.7"/>
<text x="376.1" y="779.3" font-size="10.6" text-anchor="middle" fill="#000">10</text>
<line x1="393.20" y1="767.80" x2="393.20" y2="770.00" stroke="#333" stroke-width="0.7"/>
<text x="393.2" y="779.3" font-size="10.6" text-anchor="middle" fill="#000">15</text>
<line x1="410.30" y1="767.80" x2="410.30" y2="770.00" stroke="#333" stroke-width="0.7"/>
<text x="410.3" y="779.3" font-size="10.6" text-anchor="middle" fill="#000">20</text>
<line x1="427.40" y1="767.80" x2="427.40" y2="770.00" stroke="#333" stroke-width="0.7"/>
<text x="427.4" y="779.3" font-size="10.6" text-anchor="middle" fill="#000">25</text>
<text x="367.6" y="709.3" font-size="10.8" text-anchor="start" fill="#000">EC</text>
<text x="439.2" y="709.3" font-size="10.8" text-anchor="end" fill="#000">Red</text>
<rect x="486.2" y="699.9" width="76.69999999999999" height="69.20000000000005" fill="#fff" stroke="#7a7a7a" stroke-width="0.9"/>
<polygon points="489.6,766.2 489.6,766.2 490.5,766.2 491.3,766.2 492.2,766.2 493.0,766.2 493.9,766.2 494.7,766.2 495.6,766.2 496.4,766.2 497.2,766.2 498.1,766.2 498.9,766.2 499.8,766.2 500.6,766.2 501.5,766.2 502.3,766.2 503.2,766.1 504.0,766.1 504.9,766.0 505.7,765.9 506.6,765.8 507.4,765.6 508.3,765.3 509.1,765.0 510.0,764.6 510.8,764.1 511.7,763.5 512.5,762.9 513.4,762.3 514.2,761.6 515.1,761.0 515.9,760.4 516.8,759.8 517.6,759.0 518.5,757.8 519.3,756.0 520.2,753.2 521.0,749.2 521.9,743.6 522.7,736.6 523.6,728.5 524.4,720.2 525.3,712.8 526.1,707.3 527.0,704.7 527.8,705.5 528.7,709.7 529.5,716.6 530.4,725.1 531.2,734.1 532.0,742.5 532.9,749.7 533.7,755.4 534.6,759.5 535.4,762.3 536.3,764.1 537.1,765.1 538.0,765.7 538.8,766.0 539.7,766.1 540.5,766.2 541.4,766.2 542.2,766.2 543.1,766.2 543.9,766.2 544.8,766.2 545.6,766.2 546.5,766.2 547.3,766.2 548.2,766.2 549.0,766.2 549.9,766.2 550.7,766.2 551.6,766.2 552.4,766.2 553.3,766.2 554.1,766.2 555.0,766.2 555.8,766.2 556.7,766.2 557.5,766.2 557.5,766.2" fill="#00dca0" fill-opacity="0.88" stroke="#0a6a5a" stroke-width="1"/>
<polygon points="489.6,766.2 489.6,766.2 490.5,766.1 491.3,766.1 492.2,766.0 493.0,765.9 493.9,765.7 494.7,765.4 495.6,765.1 496.4,764.6 497.2,763.9 498.1,763.0 498.9,762.0 499.8,760.7 500.6,759.3 501.5,757.8 502.3,756.1 503.2,754.4 504.0,752.7 504.9,751.0 505.7,749.4 506.6,748.0 507.4,746.6 508.3,745.4 509.1,744.3 510.0,743.3 510.8,742.4 511.7,741.5 512.5,740.8 513.4,740.2 514.2,739.7 515.1,739.1 515.9,738.4 516.8,737.5 517.6,736.3 518.5,734.8 519.3,733.0 520.2,731.0 521.0,728.9 521.9,727.0 522.7,725.7 523.6,725.2 524.4,725.6 525.3,727.2 526.1,729.9 527.0,733.5 527.8,737.7 528.7,742.2 529.5,746.7 530.4,751.0 531.2,754.7 532.0,757.8 532.9,760.3 533.7,762.2 534.6,763.6 535.4,764.5 536.3,765.2 537.1,765.5 538.0,765.8 538.8,765.9 539.7,765.9 540.5,765.9 541.4,765.8 542.2,765.8 543.1,765.7 543.9,765.6 544.8,765.5 545.6,765.4 546.5,765.4 547.3,765.3 548.2,765.3 549.0,765.2 549.9,765.2 550.7,765.2 551.6,765.3 552.4,765.3 553.3,765.4 554.1,765.5 555.0,765.5 555.8,765.6 556.7,765.7 557.5,765.8 557.5,766.2" fill="#28aae6" fill-opacity="0.6" stroke="#0a5a78" stroke-width="1"/>
<polygon points="489.6,766.2 489.6,766.2 490.5,766.2 491.3,766.2 492.2,766.2 493.0,766.2 493.9,766.2 494.7,766.2 495.6,766.2 496.4,766.2 497.2,766.1 498.1,766.1 498.9,766.1 499.8,766.0 500.6,766.0 501.5,765.9 502.3,765.8 503.2,765.7 504.0,765.5 504.9,765.3 505.7,765.1 506.6,764.9 507.4,764.6 508.3,764.3 509.1,764.1 510.0,763.8 510.8,763.6 511.7,763.5 512.5,763.3 513.4,763.3 514.2,763.3 515.1,763.3 515.9,763.4 516.8,763.5 517.6,763.6 518.5,763.6 519.3,763.4 520.2,762.8 521.0,761.5 521.9,759.2 522.7,755.6 523.6,750.3 524.4,743.4 525.3,735.1 526.1,726.1 527.0,717.5 527.8,710.5 528.7,706.2 529.5,705.2 530.4,707.5 531.2,712.7 532.0,719.6 532.9,727.1 533.7,734.3 534.6,740.6 535.4,745.7 536.3,749.7 537.1,752.9 538.0,755.6 538.8,758.0 539.7,760.0 540.5,761.7 541.4,763.1 542.2,764.2 543.1,765.0 543.9,765.5 544.8,765.8 545.6,766.0 546.5,766.1 547.3,766.2 548.2,766.2 549.0,766.2 549.9,766.2 550.7,766.2 551.6,766.2 552.4,766.2 553.3,766.2 554.1,766.2 555.0,766.2 555.8,766.2 556.7,766.2 557.5,766.2 557.5,766.2" fill="#646464" fill-opacity="0.55" stroke="#8a8a8a" stroke-width="1"/>
<line x1="484.00" y1="766.20" x2="486.20" y2="766.20" stroke="#333" stroke-width="0.7"/>
<text x="482.7" y="770.0" font-size="10.6" text-anchor="end" fill="#000">0.00</text>
<line x1="484.00" y1="746.60" x2="486.20" y2="746.60" stroke="#333" stroke-width="0.7"/>
<text x="482.7" y="750.4" font-size="10.6" text-anchor="end" fill="#000">0.02</text>
<line x1="484.00" y1="727.00" x2="486.20" y2="727.00" stroke="#333" stroke-width="0.7"/>
<text x="482.7" y="730.8" font-size="10.6" text-anchor="end" fill="#000">0.04</text>
<line x1="484.00" y1="707.40" x2="486.20" y2="707.40" stroke="#333" stroke-width="0.7"/>
<text x="482.7" y="711.2" font-size="10.6" text-anchor="end" fill="#000">0.06</text>
<line x1="486.70" y1="769.10" x2="486.70" y2="771.30" stroke="#333" stroke-width="0.7"/>
<text x="486.7" y="780.6" font-size="10.6" text-anchor="middle" fill="#000">20</text>
<line x1="506.10" y1="769.10" x2="506.10" y2="771.30" stroke="#333" stroke-width="0.7"/>
<text x="506.1" y="780.6" font-size="10.6" text-anchor="middle" fill="#000">40</text>
<line x1="525.50" y1="769.10" x2="525.50" y2="771.30" stroke="#333" stroke-width="0.7"/>
<text x="525.5" y="780.6" font-size="10.6" text-anchor="middle" fill="#000">60</text>
<line x1="544.90" y1="769.10" x2="544.90" y2="771.30" stroke="#333" stroke-width="0.7"/>
<text x="544.9" y="780.6" font-size="10.6" text-anchor="middle" fill="#000">80</text>
<text x="488.7" y="710.1" font-size="10.8" text-anchor="start" fill="#000">HE</text>
<text x="560.4" y="710.1" font-size="10.8" text-anchor="end" fill="#000">Green</text>
<text x="330.0" y="729.5" font-size="11.3" text-anchor="middle" fill="#000" transform="rotate(-90 330 729.5)">Density</text>
<text x="456.4" y="791.8" font-size="11.8" text-anchor="middle" fill="#000">Mean signal</text>
<text x="309.5" y="801.8" font-size="15" text-anchor="start" fill="#000" font-weight="bold">j</text>
<rect x="339.0" y="817.2" width="238.29999999999995" height="57.69999999999993" fill="#fff" stroke="#7a7a7a" stroke-width="0.9"/>
<line x1="336.80" y1="817.20" x2="339.00" y2="817.20" stroke="#333" stroke-width="0.7"/>
<text x="335.5" y="820.7" font-size="9.9" text-anchor="end" fill="#000">10.0</text>
<line x1="336.80" y1="828.30" x2="339.00" y2="828.30" stroke="#333" stroke-width="0.7"/>
<text x="335.5" y="831.8" font-size="9.9" text-anchor="end" fill="#000">7.5</text>
<line x1="336.80" y1="839.40" x2="339.00" y2="839.40" stroke="#333" stroke-width="0.7"/>
<text x="335.5" y="842.9" font-size="9.9" text-anchor="end" fill="#000">5.0</text>
<line x1="336.80" y1="850.50" x2="339.00" y2="850.50" stroke="#333" stroke-width="0.7"/>
<text x="335.5" y="854.0" font-size="9.9" text-anchor="end" fill="#000">2.5</text>
<line x1="336.80" y1="861.60" x2="339.00" y2="861.60" stroke="#333" stroke-width="0.7"/>
<text x="335.5" y="865.1" font-size="9.9" text-anchor="end" fill="#000">0.0</text>
<line x1="336.80" y1="872.70" x2="339.00" y2="872.70" stroke="#333" stroke-width="0.7"/>
<text x="335.5" y="876.2" font-size="9.9" text-anchor="end" fill="#000">−2.5</text>
<text x="313.8" y="847.5" font-size="11" text-anchor="middle" fill="#000" transform="rotate(-90 313.8 847.5)">Log2 FPKM</text>
<text x="344.2" y="828.3" font-size="10.8" text-anchor="start" fill="#000">JAK3</text>
<path d="M361.0 866.9C360.3 866.6 359.0 865.8 357.0 865.2C355.0 864.5 351.2 863.5 349.0 862.9C346.8 862.3 344.0 862.0 344.0 861.6C344.0 861.2 346.8 860.9 349.0 860.3C351.2 859.7 355.3 858.9 357.0 858.0C358.7 857.2 358.8 856.2 359.0 854.9C359.2 853.7 358.0 851.8 358.0 850.5C358.0 849.2 358.6 848.5 359.0 847.4C359.4 846.3 359.9 845.2 360.2 843.8C360.5 842.5 360.5 840.3 360.6 839.4C360.7 838.5 360.9 838.7 361.0 838.5L361.0 838.5C361.1 838.7 361.3 838.5 361.4 839.4C361.5 840.3 361.5 842.5 361.8 843.8C362.1 845.2 362.6 846.3 363.0 847.4C363.4 848.5 364.0 849.2 364.0 850.5C364.0 851.8 362.8 853.7 363.0 854.9C363.2 856.2 363.3 857.2 365.0 858.0C366.7 858.9 370.8 859.7 373.0 860.3C375.2 860.9 378.0 861.2 378.0 861.6C378.0 862.0 375.2 862.3 373.0 862.9C370.8 863.5 367.0 864.5 365.0 865.2C363.0 865.8 361.7 866.6 361.0 866.9Z" fill="#fff" stroke="#222" stroke-width="0.6"/>
<line x1="386.50" y1="861.60" x2="414.50" y2="861.60" stroke="#222" stroke-width="0.8"/>
<path d="M440.0 866.9C439.3 866.6 438.0 865.8 436.0 865.2C434.0 864.5 430.2 863.5 428.0 862.9C425.8 862.3 423.0 862.0 423.0 861.6C423.0 861.2 425.8 860.9 428.0 860.3C430.2 859.7 434.2 858.9 436.0 858.0C437.8 857.2 438.0 856.6 438.5 854.9C439.0 853.3 438.6 850.3 438.8 848.3C439.0 846.3 439.5 844.0 439.7 843.0C439.9 841.9 439.9 842.2 440.0 842.1L440.0 842.1C440.1 842.2 440.1 841.9 440.3 843.0C440.5 844.0 441.0 846.3 441.2 848.3C441.4 850.3 441.0 853.3 441.5 854.9C442.0 856.6 442.2 857.2 444.0 858.0C445.8 858.9 449.8 859.7 452.0 860.3C454.2 860.9 457.0 861.2 457.0 861.6C457.0 862.0 454.2 862.3 452.0 862.9C449.8 863.5 446.0 864.5 444.0 865.2C442.0 865.8 440.7 866.6 440.0 866.9Z" fill="#fff" stroke="#222" stroke-width="0.6"/>
<path d="M479.5 874.0C479.2 873.1 479.0 870.0 478.0 868.3C477.0 866.6 474.8 865.2 473.5 863.8C472.2 862.5 470.5 861.5 470.5 860.3C470.5 859.0 472.6 857.7 473.5 856.3C474.4 854.9 476.5 853.4 476.0 851.8C475.5 850.3 472.8 848.6 470.5 846.9C468.2 845.2 462.8 843.2 462.5 841.6C462.2 840.0 466.2 839.0 468.5 837.2C470.8 835.3 474.8 832.7 476.5 830.5C478.2 828.3 478.0 825.7 478.5 823.9C479.0 822.0 479.3 820.2 479.5 819.4L479.5 819.4C479.7 820.2 480.0 822.0 480.5 823.9C481.0 825.7 480.8 828.3 482.5 830.5C484.2 832.7 488.2 835.3 490.5 837.2C492.8 839.0 496.8 840.0 496.5 841.6C496.2 843.2 490.8 845.2 488.5 846.9C486.2 848.6 483.5 850.3 483.0 851.8C482.5 853.4 484.6 854.9 485.5 856.3C486.4 857.7 488.5 859.0 488.5 860.3C488.5 861.5 486.8 862.5 485.5 863.8C484.2 865.2 482.0 866.6 481.0 868.3C480.0 870.0 479.8 873.1 479.5 874.0Z" fill="#ececec" stroke="#222" stroke-width="0.6"/>
<path d="M519.0 866.9C518.3 866.6 517.0 865.8 515.0 865.2C513.0 864.5 509.2 863.5 507.0 862.9C504.8 862.3 502.0 862.0 502.0 861.6C502.0 861.2 504.8 860.9 507.0 860.3C509.2 859.7 513.3 858.9 515.0 858.0C516.7 857.2 516.6 856.6 517.0 854.9C517.4 853.3 517.0 850.1 517.2 848.3C517.4 846.4 518.1 845.2 518.4 843.8C518.7 842.5 518.9 840.9 519.0 840.3L519.0 840.3C519.1 840.9 519.3 842.5 519.6 843.8C519.9 845.2 520.6 846.4 520.8 848.3C521.0 850.1 520.6 853.3 521.0 854.9C521.4 856.6 521.3 857.2 523.0 858.0C524.7 858.9 528.8 859.7 531.0 860.3C533.2 860.9 536.0 861.2 536.0 861.6C536.0 862.0 533.2 862.3 531.0 862.9C528.8 863.5 525.0 864.5 523.0 865.2C521.0 865.8 519.7 866.6 519.0 866.9Z" fill="#fff" stroke="#222" stroke-width="0.6"/>
<path d="M558.5 869.6C557.8 868.9 556.3 866.3 554.5 865.2C552.7 864.0 549.7 863.5 547.5 862.9C545.3 862.3 541.5 862.2 541.5 861.6C541.5 861.0 545.3 860.5 547.5 859.4C549.7 858.3 553.1 856.8 554.5 854.9C555.9 853.1 555.6 850.5 556.0 848.3C556.4 846.1 556.7 843.8 557.0 841.6C557.3 839.4 557.6 837.0 557.9 835.0C558.1 833.0 558.4 830.5 558.5 829.6L558.5 829.6C558.6 830.5 558.9 833.0 559.1 835.0C559.4 837.0 559.7 839.4 560.0 841.6C560.3 843.8 560.6 846.1 561.0 848.3C561.4 850.5 561.1 853.1 562.5 854.9C563.9 856.8 567.3 858.3 569.5 859.4C571.7 860.5 575.5 861.0 575.5 861.6C575.5 862.2 571.7 862.3 569.5 862.9C567.3 863.5 564.3 864.0 562.5 865.2C560.7 866.3 559.2 868.9 558.5 869.6Z" fill="#fff" stroke="#222" stroke-width="0.6"/>
<circle cx="359.82" cy="861.60" r="1.35" fill="#000" stroke="none" stroke-width="0.5"/>
<circle cx="356.95" cy="861.60" r="1.35" fill="#000" stroke="none" stroke-width="0.5"/>
<circle cx="349.43" cy="861.60" r="1.35" fill="#000" stroke="none" stroke-width="0.5"/>
<circle cx="372.73" cy="861.60" r="1.35" fill="#000" stroke="none" stroke-width="0.5"/>
<circle cx="345.21" cy="861.60" r="1.35" fill="#000" stroke="none" stroke-width="0.5"/>
<circle cx="361.09" cy="861.60" r="1.35" fill="#000" stroke="none" stroke-width="0.5"/>
<circle cx="373.75" cy="861.60" r="1.35" fill="#000" stroke="none" stroke-width="0.5"/>
<circle cx="347.59" cy="861.60" r="1.35" fill="#000" stroke="none" stroke-width="0.5"/>
<circle cx="362.74" cy="861.60" r="1.35" fill="#000" stroke="none" stroke-width="0.5"/>
<circle cx="364.73" cy="861.60" r="1.35" fill="#000" stroke="none" stroke-width="0.5"/>
<circle cx="346.31" cy="861.60" r="1.35" fill="#000" stroke="none" stroke-width="0.5"/>
<circle cx="357.13" cy="861.60" r="1.35" fill="#000" stroke="none" stroke-width="0.5"/>
<circle cx="367.51" cy="861.60" r="1.35" fill="#000" stroke="none" stroke-width="0.5"/>
<circle cx="359.46" cy="861.60" r="1.35" fill="#000" stroke="none" stroke-width="0.5"/>
<circle cx="368.20" cy="861.60" r="1.35" fill="#000" stroke="none" stroke-width="0.5"/>
<circle cx="350.03" cy="861.60" r="1.35" fill="#000" stroke="none" stroke-width="0.5"/>
<circle cx="352.62" cy="861.60" r="1.35" fill="#000" stroke="none" stroke-width="0.5"/>
<circle cx="348.55" cy="861.60" r="1.35" fill="#000" stroke="none" stroke-width="0.5"/>
<circle cx="361.20" cy="861.60" r="1.35" fill="#000" stroke="none" stroke-width="0.5"/>
<circle cx="374.56" cy="861.60" r="1.35" fill="#000" stroke="none" stroke-width="0.5"/>
<circle cx="363.89" cy="861.60" r="1.35" fill="#000" stroke="none" stroke-width="0.5"/>
<circle cx="369.77" cy="861.60" r="1.35" fill="#000" stroke="none" stroke-width="0.5"/>
<circle cx="357.28" cy="861.60" r="1.35" fill="#000" stroke="none" stroke-width="0.5"/>
<circle cx="368.88" cy="861.60" r="1.35" fill="#000" stroke="none" stroke-width="0.5"/>
<circle cx="348.25" cy="861.60" r="1.35" fill="#000" stroke="none" stroke-width="0.5"/>
<circle cx="354.32" cy="861.60" r="1.35" fill="#000" stroke="none" stroke-width="0.5"/>
<circle cx="366.58" cy="861.60" r="1.35" fill="#000" stroke="none" stroke-width="0.5"/>
<circle cx="368.22" cy="861.60" r="1.35" fill="#000" stroke="none" stroke-width="0.5"/>
<circle cx="358.50" cy="861.60" r="1.35" fill="#000" stroke="none" stroke-width="0.5"/>
<circle cx="347.81" cy="861.60" r="1.35" fill="#000" stroke="none" stroke-width="0.5"/>
<circle cx="353.54" cy="850.39" r="1.35" fill="#000" stroke="none" stroke-width="0.5"/>
<circle cx="354.00" cy="843.73" r="1.35" fill="#000" stroke="none" stroke-width="0.5"/>
<circle cx="351.38" cy="842.88" r="1.35" fill="#000" stroke="none" stroke-width="0.5"/>
<circle cx="373.14" cy="852.11" r="1.35" fill="#000" stroke="none" stroke-width="0.5"/>
<circle cx="357.12" cy="847.26" r="1.35" fill="#000" stroke="none" stroke-width="0.5"/>
<circle cx="345.75" cy="848.01" r="1.35" fill="#000" stroke="none" stroke-width="0.5"/>
<circle cx="374.01" cy="851.48" r="1.35" fill="#000" stroke="none" stroke-width="0.5"/>
<circle cx="364.10" cy="851.37" r="1.35" fill="#000" stroke="none" stroke-width="0.5"/>
<circle cx="363.52" cy="842.78" r="1.35" fill="#000" stroke="none" stroke-width="0.5"/>
<circle cx="351.50" cy="852.63" r="1.35" fill="#000" stroke="none" stroke-width="0.5"/>
<circle cx="347.67" cy="846.73" r="1.35" fill="#000" stroke="none" stroke-width="0.5"/>
<circle cx="345.56" cy="851.78" r="1.35" fill="#000" stroke="none" stroke-width="0.5"/>
<circle cx="360.90" cy="842.50" r="1.35" fill="#000" stroke="none" stroke-width="0.5"/>
<circle cx="358.44" cy="848.30" r="1.35" fill="#000" stroke="none" stroke-width="0.5"/>
<circle cx="365.44" cy="851.68" r="1.35" fill="#000" stroke="none" stroke-width="0.5"/>
<circle cx="363.55" cy="850.80" r="1.35" fill="#000" stroke="none" stroke-width="0.5"/>
<circle cx="364.48" cy="842.08" r="1.35" fill="#000" stroke="none" stroke-width="0.5"/>
<circle cx="346.73" cy="846.56" r="1.35" fill="#000" stroke="none" stroke-width="0.5"/>
<circle cx="364.40" cy="851.06" r="1.35" fill="#000" stroke="none" stroke-width="0.5"/>
<circle cx="353.59" cy="841.68" r="1.35" fill="#000" stroke="none" stroke-width="0.5"/>
<circle cx="376.93" cy="851.37" r="1.35" fill="#000" stroke="none" stroke-width="0.5"/>
<circle cx="367.57" cy="842.16" r="1.35" fill="#000" stroke="none" stroke-width="0.5"/>
<circle cx="393.13" cy="861.60" r="1.35" fill="#000" stroke="none" stroke-width="0.5"/>
<circle cx="403.61" cy="861.60" r="1.35" fill="#000" stroke="none" stroke-width="0.5"/>
<circle cx="387.70" cy="861.60" r="1.35" fill="#000" stroke="none" stroke-width="0.5"/>
<circle cx="396.75" cy="861.60" r="1.35" fill="#000" stroke="none" stroke-width="0.5"/>
<circle cx="405.38" cy="861.60" r="1.35" fill="#000" stroke="none" stroke-width="0.5"/>
<circle cx="403.03" cy="861.60" r="1.35" fill="#000" stroke="none" stroke-width="0.5"/>
<circle cx="408.19" cy="861.60" r="1.35" fill="#000" stroke="none" stroke-width="0.5"/>
<circle cx="388.93" cy="861.60" r="1.35" fill="#000" stroke="none" stroke-width="0.5"/>
<circle cx="396.22" cy="861.60" r="1.35" fill="#000" stroke="none" stroke-width="0.5"/>
<circle cx="410.69" cy="861.60" r="1.35" fill="#000" stroke="none" stroke-width="0.5"/>
<circle cx="402.86" cy="861.60" r="1.35" fill="#000" stroke="none" stroke-width="0.5"/>
<circle cx="399.14" cy="861.60" r="1.35" fill="#000" stroke="none" stroke-width="0.5"/>
<circle cx="397.76" cy="861.60" r="1.35" fill="#000" stroke="none" stroke-width="0.5"/>
<circle cx="414.11" cy="861.60" r="1.35" fill="#000" stroke="none" stroke-width="0.5"/>
<circle cx="402.58" cy="861.60" r="1.35" fill="#000" stroke="none" stroke-width="0.5"/>
<circle cx="387.01" cy="861.60" r="1.35" fill="#000" stroke="none" stroke-width="0.5"/>
<circle cx="408.88" cy="861.60" r="1.35" fill="#000" stroke="none" stroke-width="0.5"/>
<circle cx="395.70" cy="861.60" r="1.35" fill="#000" stroke="none" stroke-width="0.5"/>
<circle cx="398.64" cy="861.60" r="1.35" fill="#000" stroke="none" stroke-width="0.5"/>
<circle cx="392.48" cy="861.60" r="1.35" fill="#000" stroke="none" stroke-width="0.5"/>
<circle cx="398.93" cy="861.60" r="1.35" fill="#000" stroke="none" stroke-width="0.5"/>
<circle cx="395.59" cy="861.60" r="1.35" fill="#000" stroke="none" stroke-width="0.5"/>
<circle cx="388.99" cy="861.60" r="1.35" fill="#000" stroke="none" stroke-width="0.5"/>
<circle cx="404.13" cy="861.60" r="1.35" fill="#000" stroke="none" stroke-width="0.5"/>
<circle cx="389.39" cy="861.60" r="1.35" fill="#000" stroke="none" stroke-width="0.5"/>
<circle cx="408.45" cy="861.60" r="1.35" fill="#000" stroke="none" stroke-width="0.5"/>
<circle cx="387.21" cy="861.60" r="1.35" fill="#000" stroke="none" stroke-width="0.5"/>
<circle cx="408.36" cy="861.60" r="1.35" fill="#000" stroke="none" stroke-width="0.5"/>
<circle cx="409.11" cy="861.60" r="1.35" fill="#000" stroke="none" stroke-width="0.5"/>
<circle cx="400.43" cy="861.60" r="1.35" fill="#000" stroke="none" stroke-width="0.5"/>
<circle cx="446.70" cy="861.60" r="1.35" fill="#000" stroke="none" stroke-width="0.5"/>
<circle cx="431.94" cy="861.60" r="1.35" fill="#000" stroke="none" stroke-width="0.5"/>
<circle cx="447.60" cy="861.60" r="1.35" fill="#000" stroke="none" stroke-width="0.5"/>
<circle cx="437.60" cy="861.60" r="1.35" fill="#000" stroke="none" stroke-width="0.5"/>
<circle cx="431.39" cy="861.60" r="1.35" fill="#000" stroke="none" stroke-width="0.5"/>
<circle cx="454.85" cy="861.60" r="1.35" fill="#000" stroke="none" stroke-width="0.5"/>
<circle cx="436.83" cy="861.60" r="1.35" fill="#000" stroke="none" stroke-width="0.5"/>
<circle cx="435.94" cy="861.60" r="1.35" fill="#000" stroke="none" stroke-width="0.5"/>
<circle cx="451.52" cy="861.60" r="1.35" fill="#000" stroke="none" stroke-width="0.5"/>
<circle cx="435.82" cy="861.60" r="1.35" fill="#000" stroke="none" stroke-width="0.5"/>
<circle cx="445.36" cy="861.60" r="1.35" fill="#000" stroke="none" stroke-width="0.5"/>
<circle cx="429.47" cy="861.60" r="1.35" fill="#000" stroke="none" stroke-width="0.5"/>
<circle cx="450.98" cy="861.60" r="1.35" fill="#000" stroke="none" stroke-width="0.5"/>
<circle cx="432.29" cy="861.60" r="1.35" fill="#000" stroke="none" stroke-width="0.5"/>
<circle cx="425.62" cy="861.60" r="1.35" fill="#000" stroke="none" stroke-width="0.5"/>
<circle cx="455.21" cy="861.60" r="1.35" fill="#000" stroke="none" stroke-width="0.5"/>
<circle cx="429.53" cy="861.60" r="1.35" fill="#000" stroke="none" stroke-width="0.5"/>
<circle cx="454.29" cy="861.60" r="1.35" fill="#000" stroke="none" stroke-width="0.5"/>
<circle cx="455.56" cy="861.60" r="1.35" fill="#000" stroke="none" stroke-width="0.5"/>
<circle cx="443.41" cy="861.60" r="1.35" fill="#000" stroke="none" stroke-width="0.5"/>
<circle cx="424.38" cy="861.60" r="1.35" fill="#000" stroke="none" stroke-width="0.5"/>
<circle cx="425.95" cy="861.60" r="1.35" fill="#000" stroke="none" stroke-width="0.5"/>
<circle cx="430.68" cy="861.60" r="1.35" fill="#000" stroke="none" stroke-width="0.5"/>
<circle cx="436.44" cy="861.60" r="1.35" fill="#000" stroke="none" stroke-width="0.5"/>
<circle cx="443.57" cy="861.60" r="1.35" fill="#000" stroke="none" stroke-width="0.5"/>
<circle cx="454.93" cy="861.60" r="1.35" fill="#000" stroke="none" stroke-width="0.5"/>
<circle cx="435.34" cy="861.60" r="1.35" fill="#000" stroke="none" stroke-width="0.5"/>
<circle cx="428.50" cy="861.60" r="1.35" fill="#000" stroke="none" stroke-width="0.5"/>
<circle cx="441.98" cy="861.60" r="1.35" fill="#000" stroke="none" stroke-width="0.5"/>
<circle cx="428.39" cy="861.60" r="1.35" fill="#000" stroke="none" stroke-width="0.5"/>
<circle cx="426.77" cy="850.50" r="1.35" fill="#000" stroke="none" stroke-width="0.5"/>
<circle cx="446.27" cy="854.42" r="1.35" fill="#000" stroke="none" stroke-width="0.5"/>
<circle cx="438.44" cy="849.31" r="1.35" fill="#000" stroke="none" stroke-width="0.5"/>
<circle cx="448.45" cy="851.88" r="1.35" fill="#000" stroke="none" stroke-width="0.5"/>
<circle cx="452.39" cy="853.59" r="1.35" fill="#000" stroke="none" stroke-width="0.5"/>
<circle cx="446.89" cy="848.77" r="1.35" fill="#000" stroke="none" stroke-width="0.5"/>
<circle cx="452.17" cy="850.99" r="1.35" fill="#000" stroke="none" stroke-width="0.5"/>
<circle cx="427.18" cy="854.55" r="1.35" fill="#000" stroke="none" stroke-width="0.5"/>
<circle cx="440.92" cy="853.55" r="1.35" fill="#000" stroke="none" stroke-width="0.5"/>
<circle cx="444.15" cy="854.27" r="1.35" fill="#000" stroke="none" stroke-width="0.5"/>
<circle cx="448.96" cy="853.16" r="1.35" fill="#000" stroke="none" stroke-width="0.5"/>
<circle cx="424.42" cy="853.53" r="1.35" fill="#000" stroke="none" stroke-width="0.5"/>
<circle cx="478.11" cy="861.60" r="1.35" fill="#000" stroke="none" stroke-width="0.5"/>
<circle cx="481.40" cy="861.60" r="1.35" fill="#000" stroke="none" stroke-width="0.5"/>
<circle cx="475.93" cy="861.60" r="1.35" fill="#000" stroke="none" stroke-width="0.5"/>
<circle cx="469.04" cy="861.60" r="1.35" fill="#000" stroke="none" stroke-width="0.5"/>
<circle cx="478.93" cy="861.60" r="1.35" fill="#000" stroke="none" stroke-width="0.5"/>
<circle cx="493.79" cy="861.60" r="1.35" fill="#000" stroke="none" stroke-width="0.5"/>
<circle cx="480.63" cy="861.60" r="1.35" fill="#000" stroke="none" stroke-width="0.5"/>
<circle cx="493.62" cy="861.60" r="1.35" fill="#000" stroke="none" stroke-width="0.5"/>
<circle cx="464.42" cy="861.60" r="1.35" fill="#000" stroke="none" stroke-width="0.5"/>
<circle cx="495.28" cy="861.60" r="1.35" fill="#000" stroke="none" stroke-width="0.5"/>
<circle cx="491.95" cy="861.60" r="1.35" fill="#000" stroke="none" stroke-width="0.5"/>
<circle cx="480.92" cy="861.60" r="1.35" fill="#000" stroke="none" stroke-width="0.5"/>
<circle cx="480.25" cy="840.24" r="1.35" fill="#000" stroke="none" stroke-width="0.5"/>
<circle cx="492.61" cy="846.52" r="1.35" fill="#000" stroke="none" stroke-width="0.5"/>
<circle cx="484.07" cy="840.17" r="1.35" fill="#000" stroke="none" stroke-width="0.5"/>
<circle cx="473.11" cy="837.74" r="1.35" fill="#000" stroke="none" stroke-width="0.5"/>
<circle cx="486.56" cy="846.02" r="1.35" fill="#000" stroke="none" stroke-width="0.5"/>
<circle cx="485.88" cy="841.35" r="1.35" fill="#000" stroke="none" stroke-width="0.5"/>
<circle cx="479.19" cy="838.91" r="1.35" fill="#000" stroke="none" stroke-width="0.5"/>
<circle cx="465.19" cy="839.36" r="1.35" fill="#000" stroke="none" stroke-width="0.5"/>
<circle cx="475.44" cy="835.69" r="1.35" fill="#000" stroke="none" stroke-width="0.5"/>
<circle cx="470.90" cy="836.43" r="1.35" fill="#000" stroke="none" stroke-width="0.5"/>
<circle cx="486.85" cy="839.07" r="1.35" fill="#000" stroke="none" stroke-width="0.5"/>
<circle cx="491.53" cy="846.91" r="1.35" fill="#000" stroke="none" stroke-width="0.5"/>
<circle cx="482.60" cy="839.22" r="1.35" fill="#000" stroke="none" stroke-width="0.5"/>
<circle cx="485.20" cy="841.98" r="1.35" fill="#000" stroke="none" stroke-width="0.5"/>
<circle cx="465.71" cy="844.87" r="1.35" fill="#000" stroke="none" stroke-width="0.5"/>
<circle cx="482.96" cy="844.98" r="1.35" fill="#000" stroke="none" stroke-width="0.5"/>
<circle cx="465.58" cy="842.67" r="1.35" fill="#000" stroke="none" stroke-width="0.5"/>
<circle cx="478.55" cy="840.26" r="1.35" fill="#000" stroke="none" stroke-width="0.5"/>
<circle cx="464.33" cy="837.06" r="1.35" fill="#000" stroke="none" stroke-width="0.5"/>
<circle cx="474.18" cy="836.96" r="1.35" fill="#000" stroke="none" stroke-width="0.5"/>
<circle cx="463.77" cy="834.68" r="1.35" fill="#000" stroke="none" stroke-width="0.5"/>
<circle cx="482.39" cy="834.39" r="1.35" fill="#000" stroke="none" stroke-width="0.5"/>
<circle cx="495.06" cy="836.30" r="1.35" fill="#000" stroke="none" stroke-width="0.5"/>
<circle cx="466.90" cy="842.75" r="1.35" fill="#000" stroke="none" stroke-width="0.5"/>
<circle cx="470.90" cy="837.00" r="1.35" fill="#000" stroke="none" stroke-width="0.5"/>
<circle cx="469.65" cy="844.45" r="1.35" fill="#000" stroke="none" stroke-width="0.5"/>
<circle cx="467.04" cy="845.79" r="1.35" fill="#000" stroke="none" stroke-width="0.5"/>
<circle cx="493.52" cy="834.39" r="1.35" fill="#000" stroke="none" stroke-width="0.5"/>
<circle cx="475.42" cy="837.52" r="1.35" fill="#000" stroke="none" stroke-width="0.5"/>
<circle cx="478.46" cy="840.44" r="1.35" fill="#000" stroke="none" stroke-width="0.5"/>
<circle cx="475.32" cy="838.94" r="1.35" fill="#000" stroke="none" stroke-width="0.5"/>
<circle cx="471.06" cy="843.98" r="1.35" fill="#000" stroke="none" stroke-width="0.5"/>
<circle cx="480.07" cy="844.76" r="1.35" fill="#000" stroke="none" stroke-width="0.5"/>
<circle cx="477.56" cy="834.82" r="1.35" fill="#000" stroke="none" stroke-width="0.5"/>
<circle cx="464.21" cy="846.02" r="1.35" fill="#000" stroke="none" stroke-width="0.5"/>
<circle cx="489.10" cy="846.62" r="1.35" fill="#000" stroke="none" stroke-width="0.5"/>
<circle cx="471.54" cy="836.05" r="1.35" fill="#000" stroke="none" stroke-width="0.5"/>
<circle cx="482.87" cy="844.45" r="1.35" fill="#000" stroke="none" stroke-width="0.5"/>
<circle cx="465.38" cy="843.73" r="1.35" fill="#000" stroke="none" stroke-width="0.5"/>
<circle cx="473.10" cy="836.73" r="1.35" fill="#000" stroke="none" stroke-width="0.5"/>
<circle cx="494.72" cy="850.65" r="1.35" fill="#000" stroke="none" stroke-width="0.5"/>
<circle cx="492.36" cy="849.05" r="1.35" fill="#000" stroke="none" stroke-width="0.5"/>
<circle cx="491.55" cy="849.17" r="1.35" fill="#000" stroke="none" stroke-width="0.5"/>
<circle cx="494.46" cy="858.33" r="1.35" fill="#000" stroke="none" stroke-width="0.5"/>
<circle cx="473.67" cy="856.64" r="1.35" fill="#000" stroke="none" stroke-width="0.5"/>
<circle cx="482.83" cy="853.92" r="1.35" fill="#000" stroke="none" stroke-width="0.5"/>
<circle cx="474.60" cy="850.09" r="1.35" fill="#000" stroke="none" stroke-width="0.5"/>
<circle cx="476.27" cy="857.06" r="1.35" fill="#000" stroke="none" stroke-width="0.5"/>
<circle cx="511.84" cy="861.60" r="1.35" fill="#000" stroke="none" stroke-width="0.5"/>
<circle cx="517.78" cy="861.60" r="1.35" fill="#000" stroke="none" stroke-width="0.5"/>
<circle cx="522.54" cy="861.60" r="1.35" fill="#000" stroke="none" stroke-width="0.5"/>
<circle cx="521.19" cy="861.60" r="1.35" fill="#000" stroke="none" stroke-width="0.5"/>
<circle cx="517.08" cy="861.60" r="1.35" fill="#000" stroke="none" stroke-width="0.5"/>
<circle cx="508.96" cy="861.60" r="1.35" fill="#000" stroke="none" stroke-width="0.5"/>
<circle cx="515.87" cy="861.60" r="1.35" fill="#000" stroke="none" stroke-width="0.5"/>
<circle cx="513.40" cy="861.60" r="1.35" fill="#000" stroke="none" stroke-width="0.5"/>
<circle cx="508.46" cy="861.60" r="1.35" fill="#000" stroke="none" stroke-width="0.5"/>
<circle cx="520.40" cy="861.60" r="1.35" fill="#000" stroke="none" stroke-width="0.5"/>
<circle cx="509.03" cy="861.60" r="1.35" fill="#000" stroke="none" stroke-width="0.5"/>
<circle cx="525.77" cy="861.60" r="1.35" fill="#000" stroke="none" stroke-width="0.5"/>
<circle cx="524.08" cy="861.60" r="1.35" fill="#000" stroke="none" stroke-width="0.5"/>
<circle cx="507.41" cy="861.60" r="1.35" fill="#000" stroke="none" stroke-width="0.5"/>
<circle cx="523.01" cy="861.60" r="1.35" fill="#000" stroke="none" stroke-width="0.5"/>
<circle cx="513.81" cy="861.60" r="1.35" fill="#000" stroke="none" stroke-width="0.5"/>
<circle cx="517.31" cy="861.60" r="1.35" fill="#000" stroke="none" stroke-width="0.5"/>
<circle cx="522.41" cy="861.60" r="1.35" fill="#000" stroke="none" stroke-width="0.5"/>
<circle cx="527.37" cy="861.60" r="1.35" fill="#000" stroke="none" stroke-width="0.5"/>
<circle cx="531.27" cy="861.60" r="1.35" fill="#000" stroke="none" stroke-width="0.5"/>
<circle cx="526.47" cy="861.60" r="1.35" fill="#000" stroke="none" stroke-width="0.5"/>
<circle cx="509.76" cy="861.60" r="1.35" fill="#000" stroke="none" stroke-width="0.5"/>
<circle cx="520.34" cy="861.60" r="1.35" fill="#000" stroke="none" stroke-width="0.5"/>
<circle cx="513.73" cy="861.60" r="1.35" fill="#000" stroke="none" stroke-width="0.5"/>
<circle cx="503.61" cy="861.60" r="1.35" fill="#000" stroke="none" stroke-width="0.5"/>
<circle cx="520.68" cy="861.60" r="1.35" fill="#000" stroke="none" stroke-width="0.5"/>
<circle cx="518.06" cy="861.60" r="1.35" fill="#000" stroke="none" stroke-width="0.5"/>
<circle cx="530.74" cy="861.60" r="1.35" fill="#000" stroke="none" stroke-width="0.5"/>
<circle cx="513.36" cy="861.60" r="1.35" fill="#000" stroke="none" stroke-width="0.5"/>
<circle cx="529.67" cy="861.60" r="1.35" fill="#000" stroke="none" stroke-width="0.5"/>
<circle cx="519.45" cy="853.93" r="1.35" fill="#000" stroke="none" stroke-width="0.5"/>
<circle cx="525.94" cy="852.03" r="1.35" fill="#000" stroke="none" stroke-width="0.5"/>
<circle cx="520.07" cy="854.21" r="1.35" fill="#000" stroke="none" stroke-width="0.5"/>
<circle cx="503.35" cy="845.53" r="1.35" fill="#000" stroke="none" stroke-width="0.5"/>
<circle cx="504.34" cy="853.42" r="1.35" fill="#000" stroke="none" stroke-width="0.5"/>
<circle cx="508.23" cy="853.96" r="1.35" fill="#000" stroke="none" stroke-width="0.5"/>
<circle cx="529.37" cy="844.78" r="1.35" fill="#000" stroke="none" stroke-width="0.5"/>
<circle cx="523.77" cy="850.90" r="1.35" fill="#000" stroke="none" stroke-width="0.5"/>
<circle cx="531.43" cy="849.77" r="1.35" fill="#000" stroke="none" stroke-width="0.5"/>
<circle cx="507.31" cy="847.89" r="1.35" fill="#000" stroke="none" stroke-width="0.5"/>
<circle cx="514.49" cy="852.18" r="1.35" fill="#000" stroke="none" stroke-width="0.5"/>
<circle cx="513.25" cy="851.01" r="1.35" fill="#000" stroke="none" stroke-width="0.5"/>
<circle cx="508.84" cy="848.69" r="1.35" fill="#000" stroke="none" stroke-width="0.5"/>
<circle cx="530.79" cy="849.11" r="1.35" fill="#000" stroke="none" stroke-width="0.5"/>
<circle cx="503.30" cy="847.95" r="1.35" fill="#000" stroke="none" stroke-width="0.5"/>
<circle cx="503.64" cy="850.05" r="1.35" fill="#000" stroke="none" stroke-width="0.5"/>
<circle cx="530.70" cy="848.02" r="1.35" fill="#000" stroke="none" stroke-width="0.5"/>
<circle cx="532.06" cy="847.23" r="1.35" fill="#000" stroke="none" stroke-width="0.5"/>
<circle cx="511.73" cy="853.47" r="1.35" fill="#000" stroke="none" stroke-width="0.5"/>
<circle cx="517.45" cy="848.00" r="1.35" fill="#000" stroke="none" stroke-width="0.5"/>
<circle cx="510.43" cy="851.56" r="1.35" fill="#000" stroke="none" stroke-width="0.5"/>
<circle cx="526.94" cy="851.39" r="1.35" fill="#000" stroke="none" stroke-width="0.5"/>
<circle cx="561.73" cy="861.60" r="1.35" fill="#000" stroke="none" stroke-width="0.5"/>
<circle cx="559.95" cy="861.60" r="1.35" fill="#000" stroke="none" stroke-width="0.5"/>
<circle cx="572.22" cy="861.60" r="1.35" fill="#000" stroke="none" stroke-width="0.5"/>
<circle cx="543.34" cy="861.60" r="1.35" fill="#000" stroke="none" stroke-width="0.5"/>
<circle cx="548.47" cy="861.60" r="1.35" fill="#000" stroke="none" stroke-width="0.5"/>
<circle cx="567.41" cy="861.60" r="1.35" fill="#000" stroke="none" stroke-width="0.5"/>
<circle cx="563.91" cy="861.60" r="1.35" fill="#000" stroke="none" stroke-width="0.5"/>
<circle cx="545.59" cy="861.60" r="1.35" fill="#000" stroke="none" stroke-width="0.5"/>
<circle cx="546.81" cy="861.60" r="1.35" fill="#000" stroke="none" stroke-width="0.5"/>
<circle cx="549.25" cy="861.60" r="1.35" fill="#000" stroke="none" stroke-width="0.5"/>
<circle cx="559.88" cy="861.60" r="1.35" fill="#000" stroke="none" stroke-width="0.5"/>
<circle cx="571.38" cy="861.60" r="1.35" fill="#000" stroke="none" stroke-width="0.5"/>
<circle cx="549.43" cy="861.60" r="1.35" fill="#000" stroke="none" stroke-width="0.5"/>
<circle cx="548.99" cy="861.60" r="1.35" fill="#000" stroke="none" stroke-width="0.5"/>
<circle cx="564.45" cy="861.60" r="1.35" fill="#000" stroke="none" stroke-width="0.5"/>
<circle cx="556.04" cy="861.60" r="1.35" fill="#000" stroke="none" stroke-width="0.5"/>
<circle cx="569.59" cy="861.60" r="1.35" fill="#000" stroke="none" stroke-width="0.5"/>
<circle cx="574.47" cy="861.60" r="1.35" fill="#000" stroke="none" stroke-width="0.5"/>
<circle cx="572.46" cy="861.60" r="1.35" fill="#000" stroke="none" stroke-width="0.5"/>
<circle cx="565.40" cy="861.60" r="1.35" fill="#000" stroke="none" stroke-width="0.5"/>
<circle cx="558.38" cy="861.60" r="1.35" fill="#000" stroke="none" stroke-width="0.5"/>
<circle cx="544.45" cy="861.60" r="1.35" fill="#000" stroke="none" stroke-width="0.5"/>
<circle cx="568.36" cy="861.60" r="1.35" fill="#000" stroke="none" stroke-width="0.5"/>
<circle cx="555.25" cy="861.60" r="1.35" fill="#000" stroke="none" stroke-width="0.5"/>
<circle cx="557.34" cy="861.60" r="1.35" fill="#000" stroke="none" stroke-width="0.5"/>
<circle cx="562.73" cy="837.82" r="1.35" fill="#000" stroke="none" stroke-width="0.5"/>
<circle cx="560.29" cy="838.64" r="1.35" fill="#000" stroke="none" stroke-width="0.5"/>
<circle cx="573.35" cy="853.43" r="1.35" fill="#000" stroke="none" stroke-width="0.5"/>
<circle cx="553.85" cy="839.16" r="1.35" fill="#000" stroke="none" stroke-width="0.5"/>
<circle cx="567.06" cy="837.73" r="1.35" fill="#000" stroke="none" stroke-width="0.5"/>
<circle cx="548.46" cy="845.51" r="1.35" fill="#000" stroke="none" stroke-width="0.5"/>
<circle cx="572.35" cy="845.35" r="1.35" fill="#000" stroke="none" stroke-width="0.5"/>
<circle cx="563.95" cy="837.63" r="1.35" fill="#000" stroke="none" stroke-width="0.5"/>
<circle cx="548.05" cy="853.94" r="1.35" fill="#000" stroke="none" stroke-width="0.5"/>
<circle cx="569.82" cy="844.62" r="1.35" fill="#000" stroke="none" stroke-width="0.5"/>
<circle cx="548.91" cy="840.16" r="1.35" fill="#000" stroke="none" stroke-width="0.5"/>
<circle cx="551.57" cy="852.64" r="1.35" fill="#000" stroke="none" stroke-width="0.5"/>
<circle cx="552.02" cy="854.30" r="1.35" fill="#000" stroke="none" stroke-width="0.5"/>
<circle cx="555.49" cy="841.09" r="1.35" fill="#000" stroke="none" stroke-width="0.5"/>
<line x1="361.00" y1="874.90" x2="361.00" y2="877.10" stroke="#333" stroke-width="0.7"/>
<text x="361.0" y="887.5" font-size="11.2" text-anchor="middle" fill="#000">HE</text>
<line x1="400.50" y1="874.90" x2="400.50" y2="877.10" stroke="#333" stroke-width="0.7"/>
<text x="400.5" y="887.5" font-size="11.2" text-anchor="middle" fill="#000">HE-LB</text>
<line x1="440.00" y1="874.90" x2="440.00" y2="877.10" stroke="#333" stroke-width="0.7"/>
<text x="440.0" y="887.5" font-size="11.2" text-anchor="middle" fill="#000">EC</text>
<line x1="479.50" y1="874.90" x2="479.50" y2="877.10" stroke="#333" stroke-width="0.7"/>
<text x="479.5" y="887.5" font-size="11.2" text-anchor="middle" fill="#000">EC-LB</text>
<line x1="519.00" y1="874.90" x2="519.00" y2="877.10" stroke="#333" stroke-width="0.7"/>
<text x="519.0" y="887.5" font-size="11.2" text-anchor="middle" fill="#000">MC</text>
<line x1="558.50" y1="874.90" x2="558.50" y2="877.10" stroke="#333" stroke-width="0.7"/>
<text x="558.5" y="887.5" font-size="11.2" text-anchor="middle" fill="#000">MC-LB</text>
<text x="370.5" y="905.5" font-size="10.8" text-anchor="middle" fill="#000">Control (48 hours)</text>
<text x="534.8" y="905.5" font-size="10.8" text-anchor="middle" fill="#000">Tasocitinib (JAK3 inhibitor)</text>
<defs>
<filter id="nG" x="0" y="0" width="1" height="1" color-interpolation-filters="sRGB"><feTurbulence type="fractalNoise" baseFrequency="0.34" numOctaves="2" seed="3"/><feColorMatrix type="matrix" values="0 0 0 0 0.2 0 0 0 0 0.92 0 0 0 0 0.25 6.0 0 0 0 -2.75"/></filter>
<filter id="nG2" x="0" y="0" width="1" height="1" color-interpolation-filters="sRGB"><feTurbulence type="fractalNoise" baseFrequency="0.36" numOctaves="2" seed="8"/><feColorMatrix type="matrix" values="0 0 0 0 0.2 0 0 0 0 0.85 0 0 0 0 0.2 5.5 0 0 0 -2.55"/></filter>
<filter id="nG3" x="0" y="0" width="1" height="1" color-interpolation-filters="sRGB"><feTurbulence type="fractalNoise" baseFrequency="0.24" numOctaves="2" seed="5"/><feColorMatrix type="matrix" values="0 0 0 0 0.2 0 0 0 0 0.9 0 0 0 0 0.2 6.0 0 0 0 -3.05"/></filter>
<filter id="nR3" x="0" y="0" width="1" height="1" color-interpolation-filters="sRGB"><feTurbulence type="fractalNoise" baseFrequency="0.24" numOctaves="2" seed="2"/><feColorMatrix type="matrix" values="0 0 0 0 0.9 0 0 0 0 0.15 0 0 0 0 0.1 4.0 0 0 0 -1.5"/></filter>
<filter id="nR" x="0" y="0" width="1" height="1" color-interpolation-filters="sRGB"><feTurbulence type="fractalNoise" baseFrequency="0.36" numOctaves="2" seed="5"/><feColorMatrix type="matrix" values="0 0 0 0 0.92 0 0 0 0 0.22 0 0 0 0 0.08 4.0 0 0 0 -1.75"/></filter>
<filter id="nR2" x="0" y="0" width="1" height="1" color-interpolation-filters="sRGB"><feTurbulence type="fractalNoise" baseFrequency="0.2" numOctaves="2" seed="11"/><feColorMatrix type="matrix" values="0 0 0 0 0.88 0 0 0 0 0.1 0 0 0 0 0.1 3.6 0 0 0 -1.5"/></filter>
<filter id="nGj" x="0" y="0" width="1" height="1" color-interpolation-filters="sRGB"><feTurbulence type="fractalNoise" baseFrequency="0.38" numOctaves="2" seed="3"/><feColorMatrix type="matrix" values="0 0 0 0 0.35 0 0 0 0 0.95 0 0 0 0 0.3 3.2 0 0 0 -1.05"/></filter>
<filter id="nRd" x="0" y="0" width="1" height="1" color-interpolation-filters="sRGB"><feTurbulence type="fractalNoise" baseFrequency="0.32" numOctaves="2" seed="13"/><feColorMatrix type="matrix" values="0 0 0 0 0.85 0 0 0 0 0.08 0 0 0 0 0.06 4.0 0 0 0 -1.6"/></filter>
<filter id="nGy" x="0" y="0" width="1" height="1" color-interpolation-filters="sRGB"><feTurbulence type="fractalNoise" baseFrequency="0.6" numOctaves="2" seed="4"/><feColorMatrix type="matrix" values="0 0 0 0 0.18 0 0 0 0 0.18 0 0 0 0 0.18 1.8 0 0 0 -0.75"/></filter>
<filter id="nDk" x="0" y="0" width="1" height="1" color-interpolation-filters="sRGB"><feTurbulence type="fractalNoise" baseFrequency="0.45" numOctaves="2" seed="6"/><feColorMatrix type="matrix" values="0 0 0 0 0.35 0 0 0 0 0.12 0 0 0 0 0.12 1.4 0 0 0 -0.6"/></filter>
<clipPath id="cj1"><path d="M326 925 Q333 918 342 920 Q352 919 356 928 Q361 936 358 946 Q357 956 348 959 Q338 962 330 957 Q321 952 321 942 Q320 931 326 925Z"/></clipPath>
<clipPath id="cj4"><ellipse cx="535.5" cy="947" rx="7.8" ry="9.5"/></clipPath>
<clipPath id="ck2a"><path d="M728 700 Q745 684 765 692 Q775 705 771 722 Q765 735 757 742 Q745 750 735 748 Q722 742 716 730 Q715 715 728 700Z"/></clipPath>
<clipPath id="ck2b"><path d="M701 790 Q712 782 728 786 Q735 770 755 772 Q775 778 776 800 Q778 818 760 830 Q740 836 725 826 Q712 818 701 815Z"/></clipPath>
<clipPath id="ck3a"><path d="M782.2 678.7 H860.2 V755.2 H812 Q795 748 782.2 735Z"/></clipPath>
<clipPath id="ck3b"><path d="M808 760 H860.2 V837.5 H782.2 V790 Q795 786 800 775 Q803 765 808 760Z"/></clipPath>
<clipPath id="ck4b"><ellipse cx="912" cy="815" rx="52" ry="55"/></clipPath>
<radialGradient id="well" cx="0.5" cy="0.5" r="0.5"><stop offset="0" stop-color="#7a3e3c"/><stop offset="0.5" stop-color="#8c4c48"/><stop offset="0.75" stop-color="#b06e68"/><stop offset="0.86" stop-color="#d0948c"/><stop offset="0.94" stop-color="#c89890"/><stop offset="1" stop-color="#8a8a8a"/></radialGradient>
<linearGradient id="k2tl" x1="0" y1="0" x2="1" y2="1"><stop offset="0" stop-color="#000"/><stop offset="0.14" stop-color="#555"/><stop offset="0.3" stop-color="#eee"/><stop offset="1" stop-color="#fff"/></linearGradient>
<radialGradient id="bfg" cx="0.6" cy="0.55" r="0.6"><stop offset="0" stop-color="#3a3a3a"/><stop offset="0.5" stop-color="#6e6e6e"/><stop offset="1" stop-color="#8c8c8c"/></radialGradient>
<linearGradient id="k2bg" x1="0" y1="0" x2="1" y2="1"><stop offset="0" stop-color="#2a2a2a"/><stop offset="1" stop-color="#4a4a4a"/></linearGradient>
<linearGradient id="k2bg2" x1="0" y1="0" x2="0" y2="1"><stop offset="0" stop-color="#8e8e8e"/><stop offset="0.5" stop-color="#4a4a4a"/><stop offset="1" stop-color="#1c1c1c"/></linearGradient>
<linearGradient id="k4fade" x1="0" y1="0" x2="1" y2="0"><stop offset="0" stop-color="#1a0604" stop-opacity="0.85"/><stop offset="0.35" stop-color="#1a0604" stop-opacity="0.5"/><stop offset="0.6" stop-color="#1a0604" stop-opacity="0"/></linearGradient>
</defs>
<rect x="309.40" y="909.10" width="58.00" height="64.50" fill="#000"/>
<path d="M326 925 Q333 918 342 920 Q352 919 356 928 Q361 936 358 946 Q357 956 348 959 Q338 962 330 957 Q321 952 321 942 Q320 931 326 925Z" fill="#146414"/>
<g clip-path="url(#cj1)">
<rect x="318.0" y="918.0" width="44.0" height="44.0" fill="#000" filter="url(#nGj)"/>
</g>
<text x="311.8" y="920.8" font-size="10.5" text-anchor="start" fill="#33dd33">HE</text>
<text x="311.8" y="970.0" font-size="10.5" text-anchor="start" fill="#33dd33">Egfp</text>
<line x1="353.80" y1="970.60" x2="365.20" y2="970.60" stroke="#e8e8e8" stroke-width="1.4"/>
<rect x="369.90" y="909.10" width="58.10" height="64.50" fill="#000"/>
<circle cx="386.04" cy="924.33" r="0.74" fill="#d01818" stroke="none" stroke-width="0.5"/>
<circle cx="381.90" cy="922.79" r="0.74" fill="#d01818" stroke="none" stroke-width="0.5"/>
<circle cx="420.82" cy="953.62" r="0.96" fill="#d01818" stroke="none" stroke-width="0.5"/>
<circle cx="385.32" cy="942.54" r="0.67" fill="#d01818" stroke="none" stroke-width="0.5"/>
<circle cx="382.81" cy="924.46" r="0.63" fill="#d01818" stroke="none" stroke-width="0.5"/>
<circle cx="421.30" cy="954.81" r="0.98" fill="#d01818" stroke="none" stroke-width="0.5"/>
<circle cx="414.82" cy="928.12" r="0.69" fill="#d01818" stroke="none" stroke-width="0.5"/>
<circle cx="405.98" cy="950.74" r="1.01" fill="#d01818" stroke="none" stroke-width="0.5"/>
<circle cx="418.88" cy="923.64" r="0.86" fill="#d01818" stroke="none" stroke-width="0.5"/>
<circle cx="408.26" cy="941.25" r="0.61" fill="#d01818" stroke="none" stroke-width="0.5"/>
<circle cx="398.15" cy="923.75" r="1.06" fill="#d01818" stroke="none" stroke-width="0.5"/>
<circle cx="418.14" cy="943.00" r="0.68" fill="#d01818" stroke="none" stroke-width="0.5"/>
<circle cx="420.35" cy="944.04" r="1.03" fill="#d01818" stroke="none" stroke-width="0.5"/>
<circle cx="417.25" cy="941.35" r="0.75" fill="#d01818" stroke="none" stroke-width="0.5"/>
<ellipse cx="402" cy="943" rx="7.5" ry="6.5" fill="#b01010"/>
<ellipse cx="394" cy="944" rx="2.5" ry="5" fill="#ff3030"/>
<circle cx="402.00" cy="943.00" r="3.50" fill="#e82020" stroke="none" stroke-width="0.5"/>
<text x="374.0" y="920.8" font-size="10.5" text-anchor="start" fill="#e82020">EC</text>
<text x="372.0" y="970.0" font-size="10.5" text-anchor="start" fill="#e82020">KO-Red</text>
<line x1="414.50" y1="970.60" x2="426.00" y2="970.60" stroke="#e8e8e8" stroke-width="1.4"/>
<rect x="436.70" y="909.10" width="62.80" height="64.50" fill="url(#bfg)"/>
<rect x="436.7" y="909.1" width="62.8" height="64.5" fill="#000" filter="url(#nGy)"/>
<path d="M436.7 909.1 H448 Q440 925 439 945 L436.7 960Z" fill="#0a0a0a"/>
<text x="439.0" y="970.0" font-size="10.5" text-anchor="start" fill="#f0f0f0">Bf</text>
<line x1="485.00" y1="970.60" x2="496.50" y2="970.60" stroke="#e8e8e8" stroke-width="1.4"/>
<rect x="501.50" y="909.10" width="62.80" height="64.50" fill="#000"/>
<ellipse cx="535.5" cy="947" rx="7.8" ry="9.5" fill="#1a8a1a"/>
<g clip-path="url(#cj4)">
<rect x="526.0" y="936.0" width="20.0" height="22.0" fill="#000" filter="url(#nGj)"/>
</g>
<circle cx="521.00" cy="924.00" r="0.60" fill="#1a6a1a" stroke="none" stroke-width="0.5"/>
<circle cx="531.00" cy="917.00" r="0.60" fill="#1a6a1a" stroke="none" stroke-width="0.5"/>
<circle cx="546.00" cy="920.00" r="0.60" fill="#1a6a1a" stroke="none" stroke-width="0.5"/>
<circle cx="515.00" cy="930.00" r="0.60" fill="#1a6a1a" stroke="none" stroke-width="0.5"/>
<text x="504.0" y="970.0" font-size="10.5" text-anchor="start" fill="#22dd22">Egfp</text>
<line x1="551.00" y1="970.60" x2="562.50" y2="970.60" stroke="#e8e8e8" stroke-width="1.4"/>
<rect x="566.50" y="909.10" width="63.30" height="64.50" fill="#000"/>
<circle cx="589.64" cy="935.05" r="0.60" fill="#701010" stroke="none" stroke-width="0.5"/>
<circle cx="592.55" cy="953.77" r="0.53" fill="#701010" stroke="none" stroke-width="0.5"/>
<circle cx="616.13" cy="943.22" r="0.67" fill="#701010" stroke="none" stroke-width="0.5"/>
<circle cx="586.77" cy="938.05" r="0.71" fill="#701010" stroke="none" stroke-width="0.5"/>
<circle cx="607.92" cy="939.91" r="0.75" fill="#701010" stroke="none" stroke-width="0.5"/>
<circle cx="604.98" cy="950.83" r="0.67" fill="#701010" stroke="none" stroke-width="0.5"/>
<circle cx="587.73" cy="950.44" r="0.69" fill="#701010" stroke="none" stroke-width="0.5"/>
<circle cx="575.74" cy="933.77" r="0.56" fill="#701010" stroke="none" stroke-width="0.5"/>
<circle cx="608.01" cy="942.18" r="0.96" fill="#701010" stroke="none" stroke-width="0.5"/>
<circle cx="593.39" cy="936.09" r="0.70" fill="#701010" stroke="none" stroke-width="0.5"/>
<circle cx="605.85" cy="947.96" r="0.53" fill="#701010" stroke="none" stroke-width="0.5"/>
<circle cx="591.70" cy="923.91" r="1.07" fill="#701010" stroke="none" stroke-width="0.5"/>
<circle cx="597.11" cy="919.80" r="0.51" fill="#701010" stroke="none" stroke-width="0.5"/>
<circle cx="592.43" cy="960.18" r="0.97" fill="#701010" stroke="none" stroke-width="0.5"/>
<circle cx="575.68" cy="950.23" r="0.87" fill="#701010" stroke="none" stroke-width="0.5"/>
<circle cx="604.14" cy="933.93" r="0.61" fill="#701010" stroke="none" stroke-width="0.5"/>
<circle cx="593.90" cy="941.49" r="0.73" fill="#701010" stroke="none" stroke-width="0.5"/>
<circle cx="610.46" cy="938.29" r="0.51" fill="#701010" stroke="none" stroke-width="0.5"/>
<circle cx="607.03" cy="941.35" r="0.97" fill="#701010" stroke="none" stroke-width="0.5"/>
<circle cx="593.53" cy="945.03" r="0.56" fill="#701010" stroke="none" stroke-width="0.5"/>
<circle cx="612.52" cy="939.04" r="0.62" fill="#701010" stroke="none" stroke-width="0.5"/>
<circle cx="603.77" cy="940.98" r="0.60" fill="#701010" stroke="none" stroke-width="0.5"/>
<circle cx="596.97" cy="935.92" r="0.52" fill="#701010" stroke="none" stroke-width="0.5"/>
<circle cx="590.93" cy="940.35" r="1.10" fill="#701010" stroke="none" stroke-width="0.5"/>
<circle cx="610.59" cy="946.82" r="0.96" fill="#701010" stroke="none" stroke-width="0.5"/>
<circle cx="570.04" cy="952.79" r="0.79" fill="#701010" stroke="none" stroke-width="0.5"/>
<circle cx="600.63" cy="948.22" r="0.52" fill="#701010" stroke="none" stroke-width="0.5"/>
<circle cx="592.02" cy="942.87" r="1.03" fill="#701010" stroke="none" stroke-width="0.5"/>
<circle cx="606.87" cy="931.79" r="0.52" fill="#701010" stroke="none" stroke-width="0.5"/>
<circle cx="599.75" cy="945.96" r="0.62" fill="#701010" stroke="none" stroke-width="0.5"/>
<circle cx="602.81" cy="956.04" r="0.59" fill="#701010" stroke="none" stroke-width="0.5"/>
<circle cx="626.11" cy="945.81" r="0.84" fill="#701010" stroke="none" stroke-width="0.5"/>
<circle cx="612.17" cy="939.52" r="1.04" fill="#701010" stroke="none" stroke-width="0.5"/>
<circle cx="587.95" cy="928.35" r="0.95" fill="#701010" stroke="none" stroke-width="0.5"/>
<circle cx="594.70" cy="940.13" r="0.63" fill="#701010" stroke="none" stroke-width="0.5"/>
<circle cx="618.06" cy="927.78" r="1.05" fill="#701010" stroke="none" stroke-width="0.5"/>
<circle cx="590.91" cy="950.01" r="0.98" fill="#701010" stroke="none" stroke-width="0.5"/>
<circle cx="586.22" cy="928.53" r="0.82" fill="#701010" stroke="none" stroke-width="0.5"/>
<circle cx="589.71" cy="929.94" r="0.66" fill="#701010" stroke="none" stroke-width="0.5"/>
<circle cx="626.56" cy="930.67" r="0.54" fill="#701010" stroke="none" stroke-width="0.5"/>
<circle cx="598.22" cy="937.90" r="1.04" fill="#701010" stroke="none" stroke-width="0.5"/>
<circle cx="621.95" cy="955.12" r="0.90" fill="#701010" stroke="none" stroke-width="0.5"/>
<circle cx="606.74" cy="941.80" r="0.88" fill="#701010" stroke="none" stroke-width="0.5"/>
<circle cx="581.97" cy="934.42" r="1.06" fill="#701010" stroke="none" stroke-width="0.5"/>
<circle cx="600.19" cy="940.64" r="1.05" fill="#701010" stroke="none" stroke-width="0.5"/>
<circle cx="624.46" cy="941.35" r="0.57" fill="#701010" stroke="none" stroke-width="0.5"/>
<circle cx="607.71" cy="926.99" r="1.03" fill="#701010" stroke="none" stroke-width="0.5"/>
<circle cx="576.59" cy="934.86" r="0.62" fill="#701010" stroke="none" stroke-width="0.5"/>
<circle cx="594.91" cy="933.69" r="1.04" fill="#701010" stroke="none" stroke-width="0.5"/>
<circle cx="602.00" cy="931.06" r="0.82" fill="#701010" stroke="none" stroke-width="0.5"/>
<circle cx="603.12" cy="940.35" r="0.86" fill="#701010" stroke="none" stroke-width="0.5"/>
<circle cx="576.06" cy="941.12" r="0.86" fill="#701010" stroke="none" stroke-width="0.5"/>
<circle cx="607.33" cy="945.81" r="0.96" fill="#701010" stroke="none" stroke-width="0.5"/>
<circle cx="598.27" cy="939.83" r="1.00" fill="#701010" stroke="none" stroke-width="0.5"/>
<circle cx="602.37" cy="937.02" r="0.83" fill="#701010" stroke="none" stroke-width="0.5"/>
<circle cx="584.50" cy="949.56" r="0.69" fill="#701010" stroke="none" stroke-width="0.5"/>
<circle cx="601.42" cy="949.19" r="1.08" fill="#701010" stroke="none" stroke-width="0.5"/>
<circle cx="604.89" cy="942.22" r="0.87" fill="#701010" stroke="none" stroke-width="0.5"/>
<circle cx="610.81" cy="933.67" r="0.76" fill="#701010" stroke="none" stroke-width="0.5"/>
<circle cx="625.73" cy="932.77" r="0.90" fill="#a01414" stroke="none" stroke-width="0.5"/>
<circle cx="613.07" cy="933.81" r="0.90" fill="#a01414" stroke="none" stroke-width="0.5"/>
<circle cx="615.13" cy="928.02" r="0.90" fill="#a01414" stroke="none" stroke-width="0.5"/>
<circle cx="625.38" cy="929.22" r="0.90" fill="#a01414" stroke="none" stroke-width="0.5"/>
<circle cx="624.77" cy="926.67" r="0.90" fill="#a01414" stroke="none" stroke-width="0.5"/>
<circle cx="625.99" cy="926.76" r="0.90" fill="#a01414" stroke="none" stroke-width="0.5"/>
<circle cx="614.39" cy="929.94" r="0.90" fill="#a01414" stroke="none" stroke-width="0.5"/>
<circle cx="617.42" cy="930.42" r="0.90" fill="#a01414" stroke="none" stroke-width="0.5"/>
<circle cx="626.47" cy="932.11" r="0.90" fill="#a01414" stroke="none" stroke-width="0.5"/>
<circle cx="612.09" cy="928.12" r="0.90" fill="#a01414" stroke="none" stroke-width="0.5"/>
<text x="569.0" y="970.0" font-size="10.5" text-anchor="start" fill="#dd1e1e">KO-Red</text>
<line x1="618.50" y1="970.60" x2="628.00" y2="970.60" stroke="#e8e8e8" stroke-width="1.4"/>
<text x="600.0" y="683.5" font-size="15" text-anchor="start" fill="#000" font-weight="bold">k</text>
<text x="615.8" y="719.5" font-size="11" text-anchor="middle" fill="#000" transform="rotate(-90 615.8 719.5)">Control</text>
<text x="615.8" y="798.0" font-size="11" text-anchor="middle" fill="#000" transform="rotate(-90 615.8 798)">+ KDR inhbitor</text>
<rect x="620.60" y="678.60" width="77.10" height="76.80" fill="#5e7274"/>
<circle cx="659.65" cy="716.50" r="38.30" fill="#a08a88" stroke="none" stroke-width="0.5"/>
<circle cx="659.65" cy="716.50" r="36.80" fill="url(#well)" stroke="none" stroke-width="0.5"/>
<ellipse cx="656.7" cy="713.5" rx="19" ry="21" fill="#5a2a2a" fill-opacity="0.25"/>
<clipPath id="kw0"><circle cx="659.7" cy="716.5" r="34"/></clipPath>
<g clip-path="url(#kw0)">
<rect x="625.7" y="682.5" width="68.0" height="68.0" fill="#000" filter="url(#nDk)"/>
</g>
<circle cx="659.7" cy="716.5" r="36" fill="none" stroke="#d8c0bc" stroke-width="1.2" stroke-opacity="0.7"/>
<circle cx="667.65" cy="718.50" r="2.60" fill="#f4e0dc" stroke="none" stroke-width="0.5"/>
<ellipse cx="652.7" cy="735.5" rx="5" ry="2.2" transform="rotate(-25 652.7 735.5)" fill="#f0e4e4"/>
<ellipse cx="672.7" cy="692.5" rx="4" ry="1.5" transform="rotate(15 672.7 692.5)" fill="#f0dcdc"/>
<ellipse cx="657.7" cy="688.5" rx="6" ry="1.2" fill="#e8d4d4" fill-opacity="0.8"/>
<rect x="701.00" y="678.60" width="78.10" height="76.80" fill="url(#k2bg)"/>
<path d="M701.0 678.6 H753.0 Q716.0 693.6 701.0 721.6Z" fill="url(#k2tl)"/>
<path d="M753.0 678.6 Q716.0 693.6 701.0 721.6" fill="none" stroke="#a0a0a0" stroke-width="2.2"/>
<ellipse cx="742" cy="718" rx="27" ry="29" fill="#2a2418"/>
<g clip-path="url(#ck2a)">
<rect x="710.0" y="690.0" width="72.0" height="66.0" fill="#000" filter="url(#nG2)"/>
</g>
<ellipse cx="747" cy="708" rx="14" ry="13" fill="#c83818" fill-opacity="0.6"/>
<g clip-path="url(#ck2a)">
<rect x="710.0" y="690.0" width="72.0" height="66.0" fill="#000" filter="url(#nR)"/>
</g>
<text x="703.5" y="752.9" font-size="10.5" text-anchor="start" fill="#e83030">EC</text>
<text x="776.6" y="752.9" font-size="10.5" text-anchor="end" fill="#30e060">HE</text>
<rect x="782.20" y="678.60" width="78.00" height="76.80" fill="#b8b8b8"/>
<g clip-path="url(#ck3a)">
<rect x="782.20" y="678.60" width="78.00" height="76.80" fill="#3a1208"/>
<rect x="782.2" y="678.6" width="78.0" height="76.8" fill="#000" filter="url(#nR3)"/>
<rect x="782.2" y="678.6" width="78.0" height="76.8" fill="#000" filter="url(#nG3)"/>
</g>
<text x="784.7" y="752.9" font-size="10.5" text-anchor="start" fill="#e83030">EC</text>
<text x="857.7" y="752.9" font-size="10.5" text-anchor="end" fill="#30e060">HE</text>
<rect x="863.10" y="678.60" width="78.40" height="76.80" fill="#2a0a08"/>
<rect x="863.1" y="678.6" width="78.4" height="76.8" fill="#000" filter="url(#nR2)"/>
<rect x="863.1" y="678.6" width="78.4" height="76.8" fill="url(#k4fade)"/>
<text x="865.6" y="752.9" font-size="10.5" text-anchor="start" fill="#e83030">EC</text>
<rect x="620.60" y="759.80" width="77.10" height="77.80" fill="#5e7274"/>
<circle cx="659.65" cy="798.20" r="38.30" fill="#a08a88" stroke="none" stroke-width="0.5"/>
<circle cx="659.65" cy="798.20" r="36.80" fill="url(#well)" stroke="none" stroke-width="0.5"/>
<ellipse cx="656.7" cy="795.2" rx="19" ry="21" fill="#5a2a2a" fill-opacity="0.25"/>
<clipPath id="kw1"><circle cx="659.7" cy="798.2" r="34"/></clipPath>
<g clip-path="url(#kw1)">
<rect x="625.7" y="764.2" width="68.0" height="68.0" fill="#000" filter="url(#nDk)"/>
</g>
<circle cx="659.7" cy="798.2" r="36" fill="none" stroke="#d8c0bc" stroke-width="1.2" stroke-opacity="0.7"/>
<circle cx="667.65" cy="800.20" r="2.60" fill="#f4e0dc" stroke="none" stroke-width="0.5"/>
<ellipse cx="652.7" cy="817.2" rx="5" ry="2.2" transform="rotate(-25 652.7 817.2)" fill="#f0e4e4"/>
<ellipse cx="672.7" cy="774.2" rx="4" ry="1.5" transform="rotate(15 672.7 774.2)" fill="#f0dcdc"/>
<ellipse cx="657.7" cy="770.2" rx="6" ry="1.2" fill="#e8d4d4" fill-opacity="0.8"/>
<rect x="701.00" y="759.80" width="78.10" height="77.80" fill="url(#k2bg)"/>
<rect x="701.00" y="759.80" width="78.10" height="77.80" fill="url(#k2bg2)"/>
<path d="M779.1 818.6 Q769.1 831.6 753.1 837.6H779.1Z" fill="#f4f4f4"/>
<path d="M701 790 Q712 782 728 786 Q735 770 755 772 Q775 778 776 800 Q778 818 760 830 Q740 836 725 826 Q712 818 701 815Z" fill="#4a2412"/>
<g clip-path="url(#ck2b)">
<rect x="700.0" y="770.0" width="80.0" height="68.0" fill="#000" filter="url(#nG2)"/>
</g>
<ellipse cx="750" cy="800" rx="22" ry="22" fill="#a02818" fill-opacity="0.55"/>
<g clip-path="url(#ck2b)">
<rect x="700.0" y="770.0" width="80.0" height="68.0" fill="#000" filter="url(#nR)"/>
</g>
<text x="703.5" y="835.1" font-size="10.5" text-anchor="start" fill="#e83030">EC</text>
<text x="776.6" y="835.1" font-size="10.5" text-anchor="end" fill="#30e060">HE</text>
<rect x="782.20" y="759.80" width="78.00" height="77.80" fill="#b8b8b8"/>
<g clip-path="url(#ck3b)">
<rect x="782.20" y="759.80" width="78.00" height="77.80" fill="#3a1208"/>
<rect x="782.2" y="759.8" width="78.0" height="77.8" fill="#000" filter="url(#nR3)"/>
<rect x="782.2" y="759.8" width="78.0" height="77.8" fill="#000" filter="url(#nG3)"/>
</g>
<text x="784.7" y="835.1" font-size="10.5" text-anchor="start" fill="#e83030">EC</text>
<text x="857.7" y="835.1" font-size="10.5" text-anchor="end" fill="#30e060">HE</text>
<rect x="863.10" y="759.80" width="78.40" height="77.80" fill="#080202"/>
<g clip-path="url(#ck4b)">
<rect x="863.10" y="759.80" width="78.40" height="77.80" fill="#3a0806"/>
<rect x="863.1" y="759.8" width="78.4" height="77.8" fill="#000" filter="url(#nRd)"/>
</g>
<text x="865.6" y="835.1" font-size="10.5" text-anchor="start" fill="#e83030">EC</text>
<text x="818.6" y="852.0" font-size="11.3" text-anchor="start" fill="#e82828">EC (KO-Red)</text>
<text x="890.2" y="852.0" font-size="11.3" text-anchor="start" fill="#22cc44">HE (Egfp)</text>
<text x="754.5" y="876.0" font-size="15" text-anchor="start" fill="#000" font-weight="bold">l</text>
<text x="866.3" y="876.3" font-size="11.8" text-anchor="middle" fill="#000">HE monoculture</text>
<line x1="798.60" y1="875.80" x2="798.60" y2="947.00" stroke="#000" stroke-width="0.8"/>
<line x1="798.60" y1="947.00" x2="942.00" y2="947.00" stroke="#000" stroke-width="0.8"/>
<line x1="796.30" y1="885.80" x2="798.60" y2="885.80" stroke="#000" stroke-width="0.7"/>
<text x="795.3" y="889.4" font-size="10.2" text-anchor="end" fill="#000">1.2</text>
<line x1="796.30" y1="906.20" x2="798.60" y2="906.20" stroke="#000" stroke-width="0.7"/>
<text x="795.3" y="909.8" font-size="10.2" text-anchor="end" fill="#000">0.8</text>
<line x1="796.30" y1="926.60" x2="798.60" y2="926.60" stroke="#000" stroke-width="0.7"/>
<text x="795.3" y="930.2" font-size="10.2" text-anchor="end" fill="#000">0.4</text>
<line x1="796.30" y1="947.00" x2="798.60" y2="947.00" stroke="#000" stroke-width="0.7"/>
<text x="795.3" y="950.6" font-size="10.2" text-anchor="end" fill="#000">0.0</text>
<rect x="804.80" y="896.00" width="7.50" height="51.00" fill="#000"/>
<line x1="808.50" y1="896.00" x2="808.50" y2="894.98" stroke="#000" stroke-width="0.7"/>
<line x1="806.80" y1="894.98" x2="810.30" y2="894.98" stroke="#000" stroke-width="0.7"/>
<rect x="814.1" y="893.5" width="8.2" height="53.5" fill="#b0b0b0" stroke="#000" stroke-width="0.6"/>
<line x1="818.20" y1="893.45" x2="818.20" y2="889.37" stroke="#000" stroke-width="0.7"/>
<line x1="816.30" y1="889.37" x2="820.10" y2="889.37" stroke="#000" stroke-width="0.7"/>
<text x="813.3" y="958.0" font-size="10.2" text-anchor="middle" fill="#000">AFP</text>
<rect x="834.00" y="896.00" width="7.50" height="51.00" fill="#000"/>
<line x1="837.70" y1="896.00" x2="837.70" y2="894.98" stroke="#000" stroke-width="0.7"/>
<line x1="836.00" y1="894.98" x2="839.50" y2="894.98" stroke="#000" stroke-width="0.7"/>
<rect x="843.3" y="883.2" width="8.2" height="63.8" fill="#b0b0b0" stroke="#000" stroke-width="0.6"/>
<line x1="847.40" y1="883.25" x2="847.40" y2="882.23" stroke="#000" stroke-width="0.7"/>
<line x1="845.50" y1="882.23" x2="849.30" y2="882.23" stroke="#000" stroke-width="0.7"/>
<text x="842.5" y="958.0" font-size="10.2" text-anchor="middle" fill="#000">RBP4</text>
<rect x="862.60" y="896.00" width="7.50" height="51.00" fill="#000"/>
<line x1="866.30" y1="896.00" x2="866.30" y2="894.98" stroke="#000" stroke-width="0.7"/>
<line x1="864.60" y1="894.98" x2="868.10" y2="894.98" stroke="#000" stroke-width="0.7"/>
<rect x="871.9" y="883.2" width="8.2" height="63.8" fill="#b0b0b0" stroke="#000" stroke-width="0.6"/>
<line x1="876.00" y1="883.25" x2="876.00" y2="882.23" stroke="#000" stroke-width="0.7"/>
<line x1="874.10" y1="882.23" x2="877.90" y2="882.23" stroke="#000" stroke-width="0.7"/>
<text x="871.1" y="958.0" font-size="10.2" text-anchor="middle" fill="#000">TTR</text>
<rect x="892.60" y="896.00" width="7.50" height="51.00" fill="#000"/>
<line x1="896.30" y1="896.00" x2="896.30" y2="894.47" stroke="#000" stroke-width="0.7"/>
<line x1="894.60" y1="894.47" x2="898.10" y2="894.47" stroke="#000" stroke-width="0.7"/>
<rect x="901.9" y="912.3" width="8.2" height="34.7" fill="#b0b0b0" stroke="#000" stroke-width="0.6"/>
<line x1="906.00" y1="912.32" x2="906.00" y2="911.81" stroke="#000" stroke-width="0.7"/>
<line x1="904.10" y1="911.81" x2="907.90" y2="911.81" stroke="#000" stroke-width="0.7"/>
<text x="901.1" y="958.0" font-size="10.2" text-anchor="middle" fill="#000">ALB</text>
<rect x="921.00" y="896.00" width="7.50" height="51.00" fill="#000"/>
<line x1="924.70" y1="896.00" x2="924.70" y2="893.96" stroke="#000" stroke-width="0.7"/>
<line x1="923.00" y1="893.96" x2="926.50" y2="893.96" stroke="#000" stroke-width="0.7"/>
<rect x="930.3" y="896.0" width="8.2" height="51.0" fill="#b0b0b0" stroke="#000" stroke-width="0.6"/>
<line x1="934.40" y1="896.00" x2="934.40" y2="895.49" stroke="#000" stroke-width="0.7"/>
<line x1="932.50" y1="895.49" x2="936.30" y2="895.49" stroke="#000" stroke-width="0.7"/>
<text x="929.5" y="958.0" font-size="10.2" text-anchor="middle" fill="#000">HNF4A</text>
<rect x="815.80" y="963.00" width="5.60" height="5.60" fill="#000"/>
<text x="823.0" y="970.0" font-size="10.2" text-anchor="start" fill="#000">KDRi (-)</text>
<rect x="881.6" y="963" width="5.6" height="5.6" fill="#b0b0b0" stroke="#000" stroke-width="0.6"/>
<text x="890.8" y="970.0" font-size="10.2" text-anchor="start" fill="#000">KDRi (+)</text>
</svg></body></html>
